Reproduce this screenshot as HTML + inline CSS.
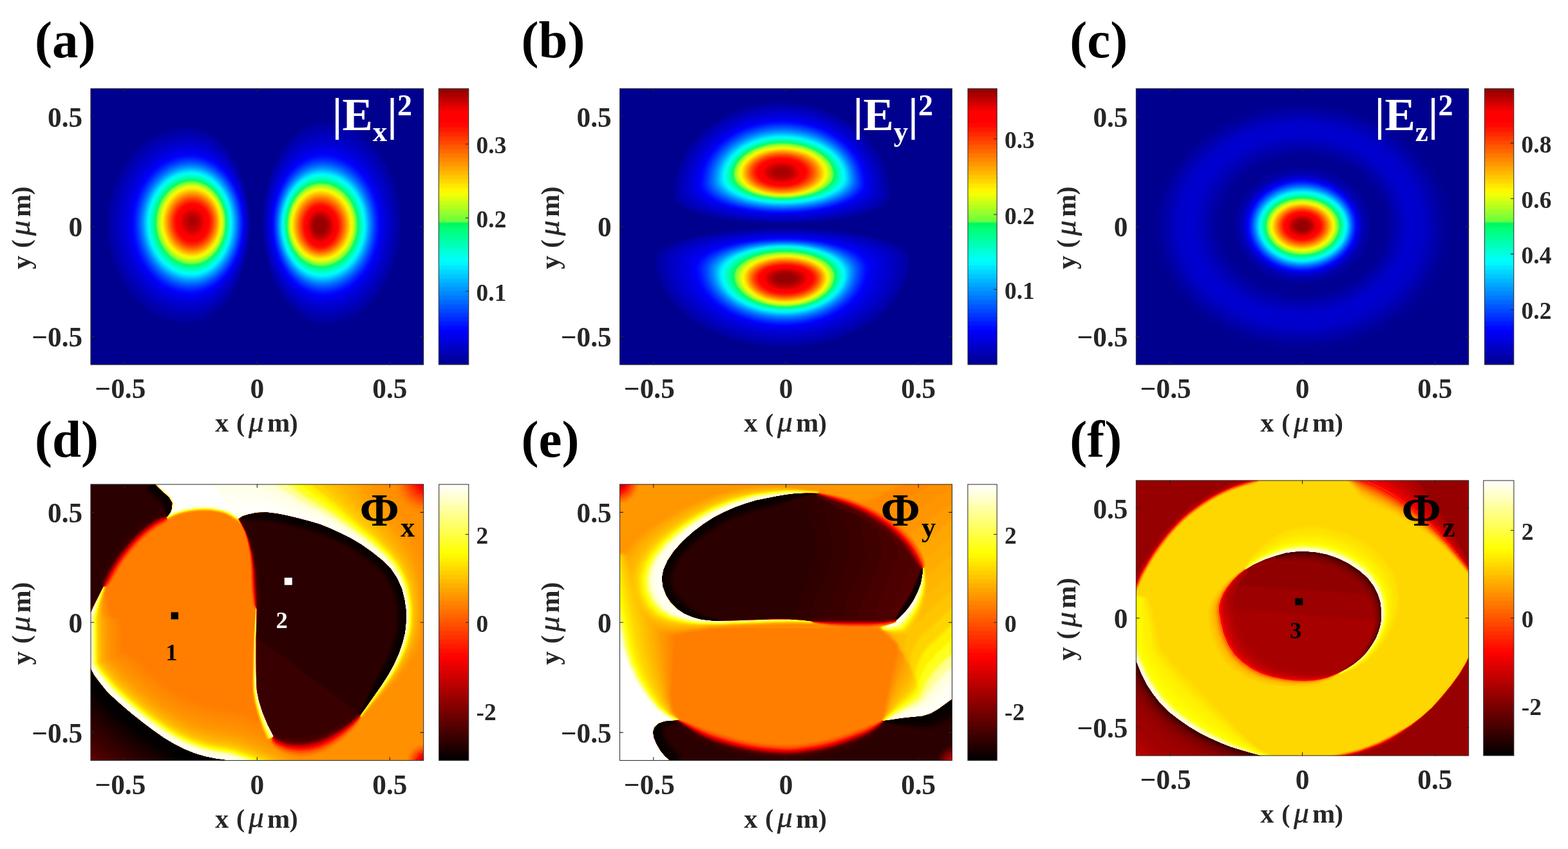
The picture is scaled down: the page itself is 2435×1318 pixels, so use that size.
<!DOCTYPE html>
<html lang="en">
<head>
<meta charset="utf-8">
<title>Focal field intensity and phase distributions</title>
<style>
html,body{margin:0;padding:0;background:#fff;}
body{width:2435px;height:1318px;overflow:hidden;}
svg{display:block;}
svg text{font-family:"Liberation Serif", "DejaVu Serif", serif;font-weight:bold;}
</style>
</head>
<body>
<svg xmlns="http://www.w3.org/2000/svg" width="2435" height="1318" viewBox="0 0 2435 1318">
<defs>
<linearGradient id="cbjet" x1="0" y1="1" x2="0" y2="0"><stop offset="0" stop-color="#000096"/><stop offset="0.0117" stop-color="#000096"/><stop offset="0.0195" stop-color="#0000a4"/><stop offset="0.0273" stop-color="#0000a4"/><stop offset="0.0352" stop-color="#0000b2"/><stop offset="0.043" stop-color="#0000b2"/><stop offset="0.0508" stop-color="#0000c0"/><stop offset="0.0586" stop-color="#0000c0"/><stop offset="0.0664" stop-color="#0000ce"/><stop offset="0.0742" stop-color="#0000ce"/><stop offset="0.082" stop-color="#0000dc"/><stop offset="0.0898" stop-color="#0000dc"/><stop offset="0.0977" stop-color="#0000ea"/><stop offset="0.1055" stop-color="#0000ea"/><stop offset="0.1133" stop-color="#0000f8"/><stop offset="0.1211" stop-color="#0000f8"/><stop offset="0.1289" stop-color="#0008ff"/><stop offset="0.1367" stop-color="#0008ff"/><stop offset="0.1445" stop-color="#0018ff"/><stop offset="0.1523" stop-color="#0018ff"/><stop offset="0.1602" stop-color="#0028ff"/><stop offset="0.168" stop-color="#0028ff"/><stop offset="0.1758" stop-color="#0038ff"/><stop offset="0.1836" stop-color="#0038ff"/><stop offset="0.1914" stop-color="#0048ff"/><stop offset="0.1992" stop-color="#0048ff"/><stop offset="0.207" stop-color="#0058ff"/><stop offset="0.2148" stop-color="#0058ff"/><stop offset="0.2227" stop-color="#0068ff"/><stop offset="0.2305" stop-color="#0068ff"/><stop offset="0.2383" stop-color="#0078ff"/><stop offset="0.2461" stop-color="#0078ff"/><stop offset="0.2539" stop-color="#0087ff"/><stop offset="0.2617" stop-color="#0087ff"/><stop offset="0.2695" stop-color="#0097ff"/><stop offset="0.2773" stop-color="#0097ff"/><stop offset="0.2852" stop-color="#00a7ff"/><stop offset="0.293" stop-color="#00a7ff"/><stop offset="0.3008" stop-color="#00b7ff"/><stop offset="0.3086" stop-color="#00b7ff"/><stop offset="0.3164" stop-color="#00c7ff"/><stop offset="0.3242" stop-color="#00c7ff"/><stop offset="0.332" stop-color="#00d7ff"/><stop offset="0.3398" stop-color="#00d7ff"/><stop offset="0.3477" stop-color="#00e7ff"/><stop offset="0.3555" stop-color="#00e7ff"/><stop offset="0.3633" stop-color="#00f7ff"/><stop offset="0.3711" stop-color="#00f7ff"/><stop offset="0.3789" stop-color="#00fff6"/><stop offset="0.3867" stop-color="#00fff6"/><stop offset="0.3945" stop-color="#00ffe3"/><stop offset="0.4023" stop-color="#00ffe3"/><stop offset="0.4102" stop-color="#00ffd1"/><stop offset="0.418" stop-color="#00ffd1"/><stop offset="0.4258" stop-color="#00ffbe"/><stop offset="0.4336" stop-color="#00ffbe"/><stop offset="0.4414" stop-color="#00ffac"/><stop offset="0.4492" stop-color="#00ffac"/><stop offset="0.457" stop-color="#00ff99"/><stop offset="0.4648" stop-color="#00ff99"/><stop offset="0.4727" stop-color="#00ff87"/><stop offset="0.4805" stop-color="#00ff87"/><stop offset="0.4883" stop-color="#00ff74"/><stop offset="0.4961" stop-color="#00ff74"/><stop offset="0.5039" stop-color="#00f863"/><stop offset="0.5117" stop-color="#00f863"/><stop offset="0.5195" stop-color="#6fff3c"/><stop offset="0.5273" stop-color="#6fff3c"/><stop offset="0.5352" stop-color="#85ff33"/><stop offset="0.543" stop-color="#85ff33"/><stop offset="0.5508" stop-color="#9bff2a"/><stop offset="0.5586" stop-color="#9bff2a"/><stop offset="0.5664" stop-color="#b2ff20"/><stop offset="0.5742" stop-color="#b2ff20"/><stop offset="0.582" stop-color="#c8ff17"/><stop offset="0.5898" stop-color="#c8ff17"/><stop offset="0.5977" stop-color="#deff0e"/><stop offset="0.6055" stop-color="#deff0e"/><stop offset="0.6133" stop-color="#f4ff05"/><stop offset="0.6211" stop-color="#f4ff05"/><stop offset="0.6289" stop-color="#fff700"/><stop offset="0.6367" stop-color="#fff700"/><stop offset="0.6445" stop-color="#ffe700"/><stop offset="0.6523" stop-color="#ffe700"/><stop offset="0.6602" stop-color="#ffd700"/><stop offset="0.668" stop-color="#ffd700"/><stop offset="0.6758" stop-color="#ffc700"/><stop offset="0.6836" stop-color="#ffc700"/><stop offset="0.6914" stop-color="#ffb700"/><stop offset="0.6992" stop-color="#ffb700"/><stop offset="0.707" stop-color="#ffa700"/><stop offset="0.7148" stop-color="#ffa700"/><stop offset="0.7227" stop-color="#ff9700"/><stop offset="0.7305" stop-color="#ff9700"/><stop offset="0.7383" stop-color="#ff8700"/><stop offset="0.7461" stop-color="#ff8700"/><stop offset="0.7539" stop-color="#ff7800"/><stop offset="0.7617" stop-color="#ff7800"/><stop offset="0.7695" stop-color="#ff6800"/><stop offset="0.7773" stop-color="#ff6800"/><stop offset="0.7852" stop-color="#ff5800"/><stop offset="0.793" stop-color="#ff5800"/><stop offset="0.8008" stop-color="#ff4800"/><stop offset="0.8086" stop-color="#ff4800"/><stop offset="0.8164" stop-color="#ff3800"/><stop offset="0.8242" stop-color="#ff3800"/><stop offset="0.832" stop-color="#ff2800"/><stop offset="0.8398" stop-color="#ff2800"/><stop offset="0.8477" stop-color="#ff1800"/><stop offset="0.8555" stop-color="#ff1800"/><stop offset="0.8633" stop-color="#ff0800"/><stop offset="0.8711" stop-color="#ff0800"/><stop offset="0.8789" stop-color="#ff0000"/><stop offset="0.8867" stop-color="#ff0000"/><stop offset="0.8945" stop-color="#ff0000"/><stop offset="0.9023" stop-color="#ff0000"/><stop offset="0.9102" stop-color="#ff0000"/><stop offset="0.918" stop-color="#ff0000"/><stop offset="0.9258" stop-color="#eb0000"/><stop offset="0.9336" stop-color="#eb0000"/><stop offset="0.9414" stop-color="#d60000"/><stop offset="0.9492" stop-color="#d60000"/><stop offset="0.957" stop-color="#c10000"/><stop offset="0.9648" stop-color="#c10000"/><stop offset="0.9727" stop-color="#ac0000"/><stop offset="0.9805" stop-color="#ac0000"/><stop offset="0.9883" stop-color="#970000"/><stop offset="1" stop-color="#970000"/></linearGradient>
<linearGradient id="cbhot" x1="0" y1="1" x2="0" y2="0"><stop offset="0" stop-color="#050000"/><stop offset="0.0117" stop-color="#050000"/><stop offset="0.0195" stop-color="#100000"/><stop offset="0.0273" stop-color="#100000"/><stop offset="0.0352" stop-color="#1b0000"/><stop offset="0.043" stop-color="#1b0000"/><stop offset="0.0508" stop-color="#250000"/><stop offset="0.0586" stop-color="#250000"/><stop offset="0.0664" stop-color="#300000"/><stop offset="0.0742" stop-color="#300000"/><stop offset="0.082" stop-color="#3a0000"/><stop offset="0.0898" stop-color="#3a0000"/><stop offset="0.0977" stop-color="#450000"/><stop offset="0.1055" stop-color="#450000"/><stop offset="0.1133" stop-color="#500000"/><stop offset="0.1211" stop-color="#500000"/><stop offset="0.1289" stop-color="#5a0000"/><stop offset="0.1367" stop-color="#5a0000"/><stop offset="0.1445" stop-color="#650000"/><stop offset="0.1523" stop-color="#650000"/><stop offset="0.1602" stop-color="#700000"/><stop offset="0.168" stop-color="#700000"/><stop offset="0.1758" stop-color="#7a0000"/><stop offset="0.1836" stop-color="#7a0000"/><stop offset="0.1914" stop-color="#850000"/><stop offset="0.1992" stop-color="#850000"/><stop offset="0.207" stop-color="#8f0000"/><stop offset="0.2148" stop-color="#8f0000"/><stop offset="0.2227" stop-color="#9a0000"/><stop offset="0.2305" stop-color="#9a0000"/><stop offset="0.2383" stop-color="#a50000"/><stop offset="0.2461" stop-color="#a50000"/><stop offset="0.2539" stop-color="#af0000"/><stop offset="0.2617" stop-color="#af0000"/><stop offset="0.2695" stop-color="#ba0000"/><stop offset="0.2773" stop-color="#ba0000"/><stop offset="0.2852" stop-color="#c50000"/><stop offset="0.293" stop-color="#c50000"/><stop offset="0.3008" stop-color="#cf0000"/><stop offset="0.3086" stop-color="#cf0000"/><stop offset="0.3164" stop-color="#da0000"/><stop offset="0.3242" stop-color="#da0000"/><stop offset="0.332" stop-color="#e40000"/><stop offset="0.3398" stop-color="#e40000"/><stop offset="0.3477" stop-color="#ef0000"/><stop offset="0.3555" stop-color="#ef0000"/><stop offset="0.3633" stop-color="#fa0000"/><stop offset="0.3711" stop-color="#fa0000"/><stop offset="0.3789" stop-color="#ff0500"/><stop offset="0.3867" stop-color="#ff0500"/><stop offset="0.3945" stop-color="#ff1000"/><stop offset="0.4023" stop-color="#ff1000"/><stop offset="0.4102" stop-color="#ff1b00"/><stop offset="0.418" stop-color="#ff1b00"/><stop offset="0.4258" stop-color="#ff2500"/><stop offset="0.4336" stop-color="#ff2500"/><stop offset="0.4414" stop-color="#ff3000"/><stop offset="0.4492" stop-color="#ff3000"/><stop offset="0.457" stop-color="#ff3a00"/><stop offset="0.4648" stop-color="#ff3a00"/><stop offset="0.4727" stop-color="#ff4500"/><stop offset="0.4805" stop-color="#ff4500"/><stop offset="0.4883" stop-color="#ff5000"/><stop offset="0.4961" stop-color="#ff5000"/><stop offset="0.5039" stop-color="#ff5a00"/><stop offset="0.5117" stop-color="#ff5a00"/><stop offset="0.5195" stop-color="#ff6500"/><stop offset="0.5273" stop-color="#ff6500"/><stop offset="0.5352" stop-color="#ff7000"/><stop offset="0.543" stop-color="#ff7000"/><stop offset="0.5508" stop-color="#ff7a00"/><stop offset="0.5586" stop-color="#ff7a00"/><stop offset="0.5664" stop-color="#ff8500"/><stop offset="0.5742" stop-color="#ff8500"/><stop offset="0.582" stop-color="#ff8f00"/><stop offset="0.5898" stop-color="#ff8f00"/><stop offset="0.5977" stop-color="#ff9a00"/><stop offset="0.6055" stop-color="#ff9a00"/><stop offset="0.6133" stop-color="#ffa500"/><stop offset="0.6211" stop-color="#ffa500"/><stop offset="0.6289" stop-color="#ffaf00"/><stop offset="0.6367" stop-color="#ffaf00"/><stop offset="0.6445" stop-color="#ffba00"/><stop offset="0.6523" stop-color="#ffba00"/><stop offset="0.6602" stop-color="#ffc500"/><stop offset="0.668" stop-color="#ffc500"/><stop offset="0.6758" stop-color="#ffcf00"/><stop offset="0.6836" stop-color="#ffcf00"/><stop offset="0.6914" stop-color="#ffda00"/><stop offset="0.6992" stop-color="#ffda00"/><stop offset="0.707" stop-color="#ffe400"/><stop offset="0.7148" stop-color="#ffe400"/><stop offset="0.7227" stop-color="#ffef00"/><stop offset="0.7305" stop-color="#ffef00"/><stop offset="0.7383" stop-color="#fffa00"/><stop offset="0.7461" stop-color="#fffa00"/><stop offset="0.7539" stop-color="#ffff08"/><stop offset="0.7617" stop-color="#ffff08"/><stop offset="0.7695" stop-color="#ffff18"/><stop offset="0.7773" stop-color="#ffff18"/><stop offset="0.7852" stop-color="#ffff28"/><stop offset="0.793" stop-color="#ffff28"/><stop offset="0.8008" stop-color="#ffff38"/><stop offset="0.8086" stop-color="#ffff38"/><stop offset="0.8164" stop-color="#ffff48"/><stop offset="0.8242" stop-color="#ffff48"/><stop offset="0.832" stop-color="#ffff58"/><stop offset="0.8398" stop-color="#ffff58"/><stop offset="0.8477" stop-color="#ffff68"/><stop offset="0.8555" stop-color="#ffff68"/><stop offset="0.8633" stop-color="#ffff78"/><stop offset="0.8711" stop-color="#ffff78"/><stop offset="0.8789" stop-color="#ffff87"/><stop offset="0.8867" stop-color="#ffff87"/><stop offset="0.8945" stop-color="#ffff97"/><stop offset="0.9023" stop-color="#ffff97"/><stop offset="0.9102" stop-color="#ffffa7"/><stop offset="0.918" stop-color="#ffffa7"/><stop offset="0.9258" stop-color="#ffffb7"/><stop offset="0.9336" stop-color="#ffffb7"/><stop offset="0.9414" stop-color="#ffffc7"/><stop offset="0.9492" stop-color="#ffffc7"/><stop offset="0.957" stop-color="#ffffd7"/><stop offset="0.9648" stop-color="#ffffd7"/><stop offset="0.9727" stop-color="#ffffe7"/><stop offset="0.9805" stop-color="#ffffe7"/><stop offset="0.9883" stop-color="#fffff7"/><stop offset="1" stop-color="#fffff7"/></linearGradient>
<filter id="jet_a" filterUnits="userSpaceOnUse" x="140.5" y="137.2" width="517.7" height="429.3" color-interpolation-filters="sRGB"><feComponentTransfer><feFuncR type="table" tableValues="0 0 0 0 0 0 0 0 0 0 0 0 0 0 0 0 0 0 0 0 0 0 0 0 0 0 0 0 0 0 0 0 0 0 0 0 0 0 0 0 0 0 0 0 0 0 0 0 0 0 0 0 0 0 0 0 0 0 0 0 0 0 0 0 0 0 0.12 0.44 0.48 0.52 0.57 0.61 0.65 0.7 0.74 0.78 0.83 0.87 0.91 0.96 1 1 1 1 1 1 1 1 1 1 1 1 1 1 1 1 1 1 1 1 1 1 1 1 1 1 1 1 1 1 1 1 1 1 1 1 1 1 0.96 0.92 0.88 0.84 0.8 0.76 0.71 0.67 0.63 0.59 0.55"/><feFuncG type="table" tableValues="0 0 0 0 0 0 0 0 0 0 0 0 0 0 0 0 0 0.03 0.06 0.09 0.12 0.16 0.19 0.22 0.25 0.28 0.31 0.34 0.38 0.41 0.44 0.47 0.5 0.53 0.56 0.59 0.62 0.66 0.69 0.72 0.75 0.78 0.81 0.84 0.88 0.91 0.94 0.97 1 1 1 1 1 1 1 1 1 1 1 1 1 1 1 1 1 0.97 0.97 1 1 1 1 1 1 1 1 1 1 1 1 1 1 0.97 0.94 0.91 0.88 0.84 0.81 0.78 0.75 0.72 0.69 0.66 0.62 0.59 0.56 0.53 0.5 0.47 0.44 0.41 0.38 0.34 0.31 0.28 0.25 0.22 0.19 0.16 0.12 0.09 0.06 0.03 0 0 0 0 0 0 0 0 0 0 0 0 0 0 0 0 0"/><feFuncB type="table" tableValues="0.56 0.59 0.61 0.64 0.67 0.7 0.72 0.75 0.78 0.81 0.83 0.86 0.89 0.92 0.94 0.97 1 1 1 1 1 1 1 1 1 1 1 1 1 1 1 1 1 1 1 1 1 1 1 1 1 1 1 1 1 1 1 1 1 0.96 0.93 0.89 0.85 0.82 0.78 0.75 0.71 0.67 0.64 0.6 0.56 0.53 0.49 0.46 0.42 0.39 0.33 0.23 0.22 0.2 0.18 0.16 0.14 0.13 0.11 0.09 0.07 0.05 0.04 0.02 0 0 0 0 0 0 0 0 0 0 0 0 0 0 0 0 0 0 0 0 0 0 0 0 0 0 0 0 0 0 0 0 0 0 0 0 0 0 0 0 0 0 0 0 0 0 0 0 0"/></feComponentTransfer></filter>
<filter id="jet_b" filterUnits="userSpaceOnUse" x="962" y="137.2" width="517" height="429.3" color-interpolation-filters="sRGB"><feComponentTransfer><feFuncR type="table" tableValues="0 0 0 0 0 0 0 0 0 0 0 0 0 0 0 0 0 0 0 0 0 0 0 0 0 0 0 0 0 0 0 0 0 0 0 0 0 0 0 0 0 0 0 0 0 0 0 0 0 0 0 0 0 0 0 0 0 0 0 0 0 0 0 0 0 0 0.12 0.44 0.48 0.52 0.57 0.61 0.65 0.7 0.74 0.78 0.83 0.87 0.91 0.96 1 1 1 1 1 1 1 1 1 1 1 1 1 1 1 1 1 1 1 1 1 1 1 1 1 1 1 1 1 1 1 1 1 1 1 1 1 1 0.96 0.92 0.88 0.84 0.8 0.76 0.71 0.67 0.63 0.59 0.55"/><feFuncG type="table" tableValues="0 0 0 0 0 0 0 0 0 0 0 0 0 0 0 0 0 0.03 0.06 0.09 0.12 0.16 0.19 0.22 0.25 0.28 0.31 0.34 0.38 0.41 0.44 0.47 0.5 0.53 0.56 0.59 0.62 0.66 0.69 0.72 0.75 0.78 0.81 0.84 0.88 0.91 0.94 0.97 1 1 1 1 1 1 1 1 1 1 1 1 1 1 1 1 1 0.97 0.97 1 1 1 1 1 1 1 1 1 1 1 1 1 1 0.97 0.94 0.91 0.88 0.84 0.81 0.78 0.75 0.72 0.69 0.66 0.62 0.59 0.56 0.53 0.5 0.47 0.44 0.41 0.38 0.34 0.31 0.28 0.25 0.22 0.19 0.16 0.12 0.09 0.06 0.03 0 0 0 0 0 0 0 0 0 0 0 0 0 0 0 0 0"/><feFuncB type="table" tableValues="0.56 0.59 0.61 0.64 0.67 0.7 0.72 0.75 0.78 0.81 0.83 0.86 0.89 0.92 0.94 0.97 1 1 1 1 1 1 1 1 1 1 1 1 1 1 1 1 1 1 1 1 1 1 1 1 1 1 1 1 1 1 1 1 1 0.96 0.93 0.89 0.85 0.82 0.78 0.75 0.71 0.67 0.64 0.6 0.56 0.53 0.49 0.46 0.42 0.39 0.33 0.23 0.22 0.2 0.18 0.16 0.14 0.13 0.11 0.09 0.07 0.05 0.04 0.02 0 0 0 0 0 0 0 0 0 0 0 0 0 0 0 0 0 0 0 0 0 0 0 0 0 0 0 0 0 0 0 0 0 0 0 0 0 0 0 0 0 0 0 0 0 0 0 0 0"/></feComponentTransfer></filter>
<filter id="jet_c" filterUnits="userSpaceOnUse" x="1763.8" y="137.2" width="517.4" height="429.3" color-interpolation-filters="sRGB"><feComponentTransfer><feFuncR type="table" tableValues="0 0 0 0 0 0 0 0 0 0 0 0 0 0 0 0 0 0 0 0 0 0 0 0 0 0 0 0 0 0 0 0 0 0 0 0 0 0 0 0 0 0 0 0 0 0 0 0 0 0 0 0 0 0 0 0 0 0 0 0 0 0 0 0 0 0 0.12 0.44 0.48 0.52 0.57 0.61 0.65 0.7 0.74 0.78 0.83 0.87 0.91 0.96 1 1 1 1 1 1 1 1 1 1 1 1 1 1 1 1 1 1 1 1 1 1 1 1 1 1 1 1 1 1 1 1 1 1 1 1 1 1 0.96 0.92 0.88 0.84 0.8 0.76 0.71 0.67 0.63 0.59 0.55"/><feFuncG type="table" tableValues="0 0 0 0 0 0 0 0 0 0 0 0 0 0 0 0 0 0.03 0.06 0.09 0.12 0.16 0.19 0.22 0.25 0.28 0.31 0.34 0.38 0.41 0.44 0.47 0.5 0.53 0.56 0.59 0.62 0.66 0.69 0.72 0.75 0.78 0.81 0.84 0.88 0.91 0.94 0.97 1 1 1 1 1 1 1 1 1 1 1 1 1 1 1 1 1 0.97 0.97 1 1 1 1 1 1 1 1 1 1 1 1 1 1 0.97 0.94 0.91 0.88 0.84 0.81 0.78 0.75 0.72 0.69 0.66 0.62 0.59 0.56 0.53 0.5 0.47 0.44 0.41 0.38 0.34 0.31 0.28 0.25 0.22 0.19 0.16 0.12 0.09 0.06 0.03 0 0 0 0 0 0 0 0 0 0 0 0 0 0 0 0 0"/><feFuncB type="table" tableValues="0.56 0.59 0.61 0.64 0.67 0.7 0.72 0.75 0.78 0.81 0.83 0.86 0.89 0.92 0.94 0.97 1 1 1 1 1 1 1 1 1 1 1 1 1 1 1 1 1 1 1 1 1 1 1 1 1 1 1 1 1 1 1 1 1 0.96 0.93 0.89 0.85 0.82 0.78 0.75 0.71 0.67 0.64 0.6 0.56 0.53 0.49 0.46 0.42 0.39 0.33 0.23 0.22 0.2 0.18 0.16 0.14 0.13 0.11 0.09 0.07 0.05 0.04 0.02 0 0 0 0 0 0 0 0 0 0 0 0 0 0 0 0 0 0 0 0 0 0 0 0 0 0 0 0 0 0 0 0 0 0 0 0 0 0 0 0 0 0 0 0 0 0 0 0 0"/></feComponentTransfer></filter>
<filter id="hot_d" filterUnits="userSpaceOnUse" x="140.5" y="751.5" width="517.7" height="429.5" color-interpolation-filters="sRGB"><feComponentTransfer><feFuncR type="table" tableValues="0 0.02 0.04 0.06 0.08 0.1 0.12 0.15 0.17 0.19 0.21 0.23 0.25 0.27 0.29 0.31 0.33 0.35 0.38 0.4 0.42 0.44 0.46 0.48 0.5 0.52 0.54 0.56 0.58 0.6 0.62 0.65 0.67 0.69 0.71 0.73 0.75 0.77 0.79 0.81 0.83 0.85 0.88 0.9 0.92 0.94 0.96 0.98 1 1 1 1 1 1 1 1 1 1 1 1 1 1 1 1 1 1 1 1 1 1 1 1 1 1 1 1 1 1 1 1 1 1 1 1 1 1 1 1 1 1 1 1 1 1 1 1 1 1 1 1 1 1 1 1 1 1 1 1 1 1 1 1 1 1 1 1 1 1 1 1 1 1 1 1 1 1 1 1 1"/><feFuncG type="table" tableValues="0 0 0 0 0 0 0 0 0 0 0 0 0 0 0 0 0 0 0 0 0 0 0 0 0 0 0 0 0 0 0 0 0 0 0 0 0 0 0 0 0 0 0 0 0 0 0 0 0 0.02 0.04 0.06 0.08 0.1 0.12 0.15 0.17 0.19 0.21 0.23 0.25 0.27 0.29 0.31 0.33 0.35 0.38 0.4 0.42 0.44 0.46 0.48 0.5 0.52 0.54 0.56 0.58 0.6 0.62 0.65 0.67 0.69 0.71 0.73 0.75 0.77 0.79 0.81 0.83 0.85 0.88 0.9 0.92 0.94 0.96 0.98 1 1 1 1 1 1 1 1 1 1 1 1 1 1 1 1 1 1 1 1 1 1 1 1 1 1 1 1 1 1 1 1 1"/><feFuncB type="table" tableValues="0 0 0 0 0 0 0 0 0 0 0 0 0 0 0 0 0 0 0 0 0 0 0 0 0 0 0 0 0 0 0 0 0 0 0 0 0 0 0 0 0 0 0 0 0 0 0 0 0 0 0 0 0 0 0 0 0 0 0 0 0 0 0 0 0 0 0 0 0 0 0 0 0 0 0 0 0 0 0 0 0 0 0 0 0 0 0 0 0 0 0 0 0 0 0 0 0 0.03 0.06 0.09 0.12 0.16 0.19 0.22 0.25 0.28 0.31 0.34 0.38 0.41 0.44 0.47 0.5 0.53 0.56 0.59 0.62 0.66 0.69 0.72 0.75 0.78 0.81 0.84 0.88 0.91 0.94 0.97 1"/></feComponentTransfer></filter>
<filter id="hot_e" filterUnits="userSpaceOnUse" x="962" y="751.5" width="517" height="429.5" color-interpolation-filters="sRGB"><feComponentTransfer><feFuncR type="table" tableValues="0 0.02 0.04 0.06 0.08 0.1 0.12 0.15 0.17 0.19 0.21 0.23 0.25 0.27 0.29 0.31 0.33 0.35 0.38 0.4 0.42 0.44 0.46 0.48 0.5 0.52 0.54 0.56 0.58 0.6 0.62 0.65 0.67 0.69 0.71 0.73 0.75 0.77 0.79 0.81 0.83 0.85 0.88 0.9 0.92 0.94 0.96 0.98 1 1 1 1 1 1 1 1 1 1 1 1 1 1 1 1 1 1 1 1 1 1 1 1 1 1 1 1 1 1 1 1 1 1 1 1 1 1 1 1 1 1 1 1 1 1 1 1 1 1 1 1 1 1 1 1 1 1 1 1 1 1 1 1 1 1 1 1 1 1 1 1 1 1 1 1 1 1 1 1 1"/><feFuncG type="table" tableValues="0 0 0 0 0 0 0 0 0 0 0 0 0 0 0 0 0 0 0 0 0 0 0 0 0 0 0 0 0 0 0 0 0 0 0 0 0 0 0 0 0 0 0 0 0 0 0 0 0 0.02 0.04 0.06 0.08 0.1 0.12 0.15 0.17 0.19 0.21 0.23 0.25 0.27 0.29 0.31 0.33 0.35 0.38 0.4 0.42 0.44 0.46 0.48 0.5 0.52 0.54 0.56 0.58 0.6 0.62 0.65 0.67 0.69 0.71 0.73 0.75 0.77 0.79 0.81 0.83 0.85 0.88 0.9 0.92 0.94 0.96 0.98 1 1 1 1 1 1 1 1 1 1 1 1 1 1 1 1 1 1 1 1 1 1 1 1 1 1 1 1 1 1 1 1 1"/><feFuncB type="table" tableValues="0 0 0 0 0 0 0 0 0 0 0 0 0 0 0 0 0 0 0 0 0 0 0 0 0 0 0 0 0 0 0 0 0 0 0 0 0 0 0 0 0 0 0 0 0 0 0 0 0 0 0 0 0 0 0 0 0 0 0 0 0 0 0 0 0 0 0 0 0 0 0 0 0 0 0 0 0 0 0 0 0 0 0 0 0 0 0 0 0 0 0 0 0 0 0 0 0 0.03 0.06 0.09 0.12 0.16 0.19 0.22 0.25 0.28 0.31 0.34 0.38 0.41 0.44 0.47 0.5 0.53 0.56 0.59 0.62 0.66 0.69 0.72 0.75 0.78 0.81 0.84 0.88 0.91 0.94 0.97 1"/></feComponentTransfer></filter>
<filter id="hot_f" filterUnits="userSpaceOnUse" x="1763.8" y="745.5" width="517.4" height="428" color-interpolation-filters="sRGB"><feComponentTransfer><feFuncR type="table" tableValues="0 0.02 0.04 0.06 0.08 0.1 0.12 0.15 0.17 0.19 0.21 0.23 0.25 0.27 0.29 0.31 0.33 0.35 0.38 0.4 0.42 0.44 0.46 0.48 0.5 0.52 0.54 0.56 0.58 0.6 0.62 0.65 0.67 0.69 0.71 0.73 0.75 0.77 0.79 0.81 0.83 0.85 0.88 0.9 0.92 0.94 0.96 0.98 1 1 1 1 1 1 1 1 1 1 1 1 1 1 1 1 1 1 1 1 1 1 1 1 1 1 1 1 1 1 1 1 1 1 1 1 1 1 1 1 1 1 1 1 1 1 1 1 1 1 1 1 1 1 1 1 1 1 1 1 1 1 1 1 1 1 1 1 1 1 1 1 1 1 1 1 1 1 1 1 1"/><feFuncG type="table" tableValues="0 0 0 0 0 0 0 0 0 0 0 0 0 0 0 0 0 0 0 0 0 0 0 0 0 0 0 0 0 0 0 0 0 0 0 0 0 0 0 0 0 0 0 0 0 0 0 0 0 0.02 0.04 0.06 0.08 0.1 0.12 0.15 0.17 0.19 0.21 0.23 0.25 0.27 0.29 0.31 0.33 0.35 0.38 0.4 0.42 0.44 0.46 0.48 0.5 0.52 0.54 0.56 0.58 0.6 0.62 0.65 0.67 0.69 0.71 0.73 0.75 0.77 0.79 0.81 0.83 0.85 0.88 0.9 0.92 0.94 0.96 0.98 1 1 1 1 1 1 1 1 1 1 1 1 1 1 1 1 1 1 1 1 1 1 1 1 1 1 1 1 1 1 1 1 1"/><feFuncB type="table" tableValues="0 0 0 0 0 0 0 0 0 0 0 0 0 0 0 0 0 0 0 0 0 0 0 0 0 0 0 0 0 0 0 0 0 0 0 0 0 0 0 0 0 0 0 0 0 0 0 0 0 0 0 0 0 0 0 0 0 0 0 0 0 0 0 0 0 0 0 0 0 0 0 0 0 0 0 0 0 0 0 0 0 0 0 0 0 0 0 0 0 0 0 0 0 0 0 0 0 0.03 0.06 0.09 0.12 0.16 0.19 0.22 0.25 0.28 0.31 0.34 0.38 0.41 0.44 0.47 0.5 0.53 0.56 0.59 0.62 0.66 0.69 0.72 0.75 0.78 0.81 0.84 0.88 0.91 0.94 0.97 1"/></feComponentTransfer></filter>
<clipPath id="clip_a"><rect x="140.8" y="137.5" width="517.1" height="428.7"/></clipPath>
<filter id="soft_a" filterUnits="userSpaceOnUse" x="128.5" y="125.2" width="541.7" height="453.3" color-interpolation-filters="sRGB"><feGaussianBlur stdDeviation="1.1"/></filter>
<clipPath id="clip_b"><rect x="962.3" y="137.5" width="516.4" height="428.7"/></clipPath>
<filter id="soft_b" filterUnits="userSpaceOnUse" x="950" y="125.2" width="541" height="453.3" color-interpolation-filters="sRGB"><feGaussianBlur stdDeviation="1.1"/></filter>
<clipPath id="clip_c"><rect x="1764.1" y="137.5" width="516.8" height="428.7"/></clipPath>
<filter id="soft_c" filterUnits="userSpaceOnUse" x="1751.8" y="125.2" width="541.4" height="453.3" color-interpolation-filters="sRGB"><feGaussianBlur stdDeviation="1.1"/></filter>
<clipPath id="clip_dLL"><path d="M138 1033l3.1 5.4 4.8 9.6 8.6 11.5 10 12.5 8.1 8.2 16.3 14.7 16.3 13.8 16.4 13.1 16.3 12.2 16.3 11.4 16.3 9.8 16.3 8.2 16.3 6.5 16.3 4.9 16.3 3.2 13.1 1.7 13.2 3.3 0 17-242 0 0-167z"/></clipPath>
<filter id="hb2_d" filterUnits="userSpaceOnUse" x="115" y="726" width="570" height="480" color-interpolation-filters="sRGB"><feGaussianBlur stdDeviation="2"/></filter>
<clipPath id="clip_d"><rect x="140.8" y="751.8" width="517.1" height="428.9"/></clipPath>
<filter id="ph_d" filterUnits="userSpaceOnUse" x="128.5" y="739.5" width="541.7" height="453.5" color-interpolation-filters="sRGB"><feGaussianBlur stdDeviation="0.7"/><feComponentTransfer><feFuncR type="table" tableValues="0 0.02 0.04 0.06 0.08 0.1 0.12 0.15 0.17 0.19 0.21 0.23 0.25 0.27 0.29 0.31 0.33 0.35 0.38 0.4 0.42 0.44 0.46 0.48 0.5 0.52 0.54 0.56 0.58 0.6 0.62 0.65 0.67 0.69 0.71 0.73 0.75 0.77 0.79 0.81 0.83 0.85 0.88 0.9 0.92 0.94 0.96 0.98 1 1 1 1 1 1 1 1 1 1 1 1 1 1 1 1 1 1 1 1 1 1 1 1 1 1 1 1 1 1 1 1 1 1 1 1 1 1 1 1 1 1 1 1 1 1 1 1 1 1 1 1 1 1 1 1 1 1 1 1 1 1 1 1 1 1 1 1 1 1 1 1 1 1 1 1 1 1 1 1 1"/><feFuncG type="table" tableValues="0 0 0 0 0 0 0 0 0 0 0 0 0 0 0 0 0 0 0 0 0 0 0 0 0 0 0 0 0 0 0 0 0 0 0 0 0 0 0 0 0 0 0 0 0 0 0 0 0 0.02 0.04 0.06 0.08 0.1 0.12 0.15 0.17 0.19 0.21 0.23 0.25 0.27 0.29 0.31 0.33 0.35 0.38 0.4 0.42 0.44 0.46 0.48 0.5 0.52 0.54 0.56 0.58 0.6 0.62 0.65 0.67 0.69 0.71 0.73 0.75 0.77 0.79 0.81 0.83 0.85 0.88 0.9 0.92 0.94 0.96 0.98 1 1 1 1 1 1 1 1 1 1 1 1 1 1 1 1 1 1 1 1 1 1 1 1 1 1 1 1 1 1 1 1 1"/><feFuncB type="table" tableValues="0 0 0 0 0 0 0 0 0 0 0 0 0 0 0 0 0 0 0 0 0 0 0 0 0 0 0 0 0 0 0 0 0 0 0 0 0 0 0 0 0 0 0 0 0 0 0 0 0 0 0 0 0 0 0 0 0 0 0 0 0 0 0 0 0 0 0 0 0 0 0 0 0 0 0 0 0 0 0 0 0 0 0 0 0 0 0 0 0 0 0 0 0 0 0 0 0 0.03 0.06 0.09 0.12 0.16 0.19 0.22 0.25 0.28 0.31 0.34 0.38 0.41 0.44 0.47 0.5 0.53 0.56 0.59 0.62 0.66 0.69 0.72 0.75 0.78 0.81 0.84 0.88 0.91 0.94 0.97 1"/></feComponentTransfer></filter>
<clipPath id="clip_eB"><path d="M1270.6 766l-18.6-0.2-15.7 0.5-14.3 1.8-15.3 2.5-16.4 3.2-16.3 3.3-16.3 4.9-16.3 5.7-16.3 7.3-16.3 8.2-16.3 10.6-16.3 12.2-16.3 14.7-13.1 14.7-9.8 14.7-6.5 14.6-2.4 13.1 1.6 13 4.9 13.1 7.3 11.4 9.8 9.8 11.4 7.3 13.1 5.7 13 3.3 13.1 1.6 14.7 0.9 24-0.4 29-1 30-1 25 0 20 1 17 2 28 0.5 30 0 30 0 25-0.7 16.3-1.3 8.1-7.3 9.8-10.6 9-13.1 6.5-13 4.9-13 2.4-13.1 0.9-11.4-3.3-8.2-7.3-13-9.8-14.7-13.1-14.7-16.3-14.7-16.3-11.4-16.3-9.8-16.3-8.1-16.3-6.5-16.3-5.7-16.4-4.9-14.6-3.8z"/></clipPath>
<filter id="hb2_e" filterUnits="userSpaceOnUse" x="937" y="726" width="570" height="480" color-interpolation-filters="sRGB"><feGaussianBlur stdDeviation="2"/></filter>
<clipPath id="clip_e"><rect x="962.3" y="751.8" width="516.4" height="428.9"/></clipPath>
<filter id="ph_e" filterUnits="userSpaceOnUse" x="950" y="739.5" width="541" height="453.5" color-interpolation-filters="sRGB"><feGaussianBlur stdDeviation="0.7"/><feComponentTransfer><feFuncR type="table" tableValues="0 0.02 0.04 0.06 0.08 0.1 0.12 0.15 0.17 0.19 0.21 0.23 0.25 0.27 0.29 0.31 0.33 0.35 0.38 0.4 0.42 0.44 0.46 0.48 0.5 0.52 0.54 0.56 0.58 0.6 0.62 0.65 0.67 0.69 0.71 0.73 0.75 0.77 0.79 0.81 0.83 0.85 0.88 0.9 0.92 0.94 0.96 0.98 1 1 1 1 1 1 1 1 1 1 1 1 1 1 1 1 1 1 1 1 1 1 1 1 1 1 1 1 1 1 1 1 1 1 1 1 1 1 1 1 1 1 1 1 1 1 1 1 1 1 1 1 1 1 1 1 1 1 1 1 1 1 1 1 1 1 1 1 1 1 1 1 1 1 1 1 1 1 1 1 1"/><feFuncG type="table" tableValues="0 0 0 0 0 0 0 0 0 0 0 0 0 0 0 0 0 0 0 0 0 0 0 0 0 0 0 0 0 0 0 0 0 0 0 0 0 0 0 0 0 0 0 0 0 0 0 0 0 0.02 0.04 0.06 0.08 0.1 0.12 0.15 0.17 0.19 0.21 0.23 0.25 0.27 0.29 0.31 0.33 0.35 0.38 0.4 0.42 0.44 0.46 0.48 0.5 0.52 0.54 0.56 0.58 0.6 0.62 0.65 0.67 0.69 0.71 0.73 0.75 0.77 0.79 0.81 0.83 0.85 0.88 0.9 0.92 0.94 0.96 0.98 1 1 1 1 1 1 1 1 1 1 1 1 1 1 1 1 1 1 1 1 1 1 1 1 1 1 1 1 1 1 1 1 1"/><feFuncB type="table" tableValues="0 0 0 0 0 0 0 0 0 0 0 0 0 0 0 0 0 0 0 0 0 0 0 0 0 0 0 0 0 0 0 0 0 0 0 0 0 0 0 0 0 0 0 0 0 0 0 0 0 0 0 0 0 0 0 0 0 0 0 0 0 0 0 0 0 0 0 0 0 0 0 0 0 0 0 0 0 0 0 0 0 0 0 0 0 0 0 0 0 0 0 0 0 0 0 0 0 0.03 0.06 0.09 0.12 0.16 0.19 0.22 0.25 0.28 0.31 0.34 0.38 0.41 0.44 0.47 0.5 0.53 0.56 0.59 0.62 0.66 0.69 0.72 0.75 0.78 0.81 0.84 0.88 0.91 0.94 0.97 1"/></feComponentTransfer></filter>
<clipPath id="clip_fD"><path d="M1934.2 884.6l12.6-7.9 16.6-7.5 16.7-5.8 16.7-4.6 13.2-1.7 15.4-0.8 19.6 1.6 16.3 3.3 16.3 5.7 16.3 8.2 16.3 10.6 13 11.4 9.8 13 6.6 13.1 4 13 1.2 14.7 0.2 9.1-1.6 10.2-3 10.3-4.1 10.2-6.2 10.3-7.1 10.2-9.3 10.3-11.2 9.2-11.3 7.2-11.3 6.1-8.2 3.6-10.2 3.6-10.3 2.6-10.2 1.5-15.4 1-15.4-0.5-13.5-1.6-20.9-4.2-16.6-5.8-14.2-7.5-15-10-12.5-11.7-10-15-6.7-16.7-4.1-16.6-2.2-16.7 0.7-9 2.8-8.5 4-10 6-10 7.5-10 8.5-9 10.2-8.9z"/></clipPath>
<filter id="hb1.5_f" filterUnits="userSpaceOnUse" x="1739" y="720" width="570" height="480" color-interpolation-filters="sRGB"><feGaussianBlur stdDeviation="1.5"/></filter>
<clipPath id="clip_f"><rect x="1764.1" y="745.8" width="516.8" height="427.4"/></clipPath>
<filter id="ph_f" filterUnits="userSpaceOnUse" x="1751.8" y="733.5" width="541.4" height="452" color-interpolation-filters="sRGB"><feGaussianBlur stdDeviation="0.7"/><feComponentTransfer><feFuncR type="table" tableValues="0 0.02 0.04 0.06 0.08 0.1 0.12 0.15 0.17 0.19 0.21 0.23 0.25 0.27 0.29 0.31 0.33 0.35 0.38 0.4 0.42 0.44 0.46 0.48 0.5 0.52 0.54 0.56 0.58 0.6 0.62 0.65 0.67 0.69 0.71 0.73 0.75 0.77 0.79 0.81 0.83 0.85 0.88 0.9 0.92 0.94 0.96 0.98 1 1 1 1 1 1 1 1 1 1 1 1 1 1 1 1 1 1 1 1 1 1 1 1 1 1 1 1 1 1 1 1 1 1 1 1 1 1 1 1 1 1 1 1 1 1 1 1 1 1 1 1 1 1 1 1 1 1 1 1 1 1 1 1 1 1 1 1 1 1 1 1 1 1 1 1 1 1 1 1 1"/><feFuncG type="table" tableValues="0 0 0 0 0 0 0 0 0 0 0 0 0 0 0 0 0 0 0 0 0 0 0 0 0 0 0 0 0 0 0 0 0 0 0 0 0 0 0 0 0 0 0 0 0 0 0 0 0 0.02 0.04 0.06 0.08 0.1 0.12 0.15 0.17 0.19 0.21 0.23 0.25 0.27 0.29 0.31 0.33 0.35 0.38 0.4 0.42 0.44 0.46 0.48 0.5 0.52 0.54 0.56 0.58 0.6 0.62 0.65 0.67 0.69 0.71 0.73 0.75 0.77 0.79 0.81 0.83 0.85 0.88 0.9 0.92 0.94 0.96 0.98 1 1 1 1 1 1 1 1 1 1 1 1 1 1 1 1 1 1 1 1 1 1 1 1 1 1 1 1 1 1 1 1 1"/><feFuncB type="table" tableValues="0 0 0 0 0 0 0 0 0 0 0 0 0 0 0 0 0 0 0 0 0 0 0 0 0 0 0 0 0 0 0 0 0 0 0 0 0 0 0 0 0 0 0 0 0 0 0 0 0 0 0 0 0 0 0 0 0 0 0 0 0 0 0 0 0 0 0 0 0 0 0 0 0 0 0 0 0 0 0 0 0 0 0 0 0 0 0 0 0 0 0 0 0 0 0 0 0 0.03 0.06 0.09 0.12 0.16 0.19 0.22 0.25 0.28 0.31 0.34 0.38 0.41 0.44 0.47 0.5 0.53 0.56 0.59 0.62 0.66 0.69 0.72 0.75 0.78 0.81 0.84 0.88 0.91 0.94 0.97 1"/></feComponentTransfer></filter>
</defs>
<rect width="2435" height="1318" fill="#fff"/>
<!-- panel (a) -->
<g id="panel-a">
<g clip-path="url(#clip_a)"><g filter="url(#soft_a)">
<rect x="126.5" y="123.2" width="545.7" height="457.3" fill="#00008f"/>
<path d="M291.1 198.9A96.3 149.8 0 0 1 387.4 348.7A96.3 151.7 0 0 1 291.1 500.5A123.6 151.7 0 0 1 167.5 348.7A123.6 149.8 0 0 1 291.1 198.9Z" fill="#0000a4"/>
<path d="M292.1 207A93.8 141.4 0 0 1 385.9 348.5A93.8 141.9 0 0 1 292.1 490.4A117.6 141.9 0 0 1 174.5 348.5A117.6 141.4 0 0 1 292.1 207Z" fill="#0000b2"/>
<path d="M292.7 213.8A91.7 134.5 0 0 1 384.4 348.3A91.7 134.7 0 0 1 292.7 483A112.1 134.7 0 0 1 180.6 348.3A112.1 134.5 0 0 1 292.7 213.8Z" fill="#0000c0"/>
<path d="M293.4 220.4A89.6 127.7 0 0 1 383 348.1A89.6 128 0 0 1 293.4 476A106.6 128 0 0 1 186.8 348.1A106.6 127.7 0 0 1 293.4 220.4Z" fill="#0000ce"/>
<path d="M293.9 226.7A87.7 121.2 0 0 1 381.6 347.9A87.7 121.8 0 0 1 293.9 469.7A101.2 121.8 0 0 1 192.7 347.9A101.2 121.2 0 0 1 293.9 226.7Z" fill="#0000dc"/>
<path d="M294.4 232.4A85.9 115.4 0 0 1 380.2 347.7A85.9 116.3 0 0 1 294.4 464.1A96.2 116.3 0 0 1 198.1 347.7A96.2 115.4 0 0 1 294.4 232.4Z" fill="#0000ea"/>
<path d="M294.7 237.1A84.2 110.5 0 0 1 378.9 347.6A84.2 111.8 0 0 1 294.7 459.4A92.1 111.8 0 0 1 202.7 347.6A92.1 110.5 0 0 1 294.7 237.1Z" fill="#0000f8"/>
<path d="M295 240.6A82.6 106.9 0 0 1 377.6 347.5A82.6 108.4 0 0 1 295 455.9A89.1 108.4 0 0 1 205.9 347.5A89.1 106.9 0 0 1 295 240.6Z" fill="#0008ff"/>
<path d="M295.2 243.2A81.1 104.2 0 0 1 376.3 347.4A81.1 105.7 0 0 1 295.2 453.1A86.9 105.7 0 0 1 208.3 347.4A86.9 104.2 0 0 1 295.2 243.2Z" fill="#0018ff"/>
<path d="M295.4 245.7A79.6 101.6 0 0 1 375 347.3A79.6 103.1 0 0 1 295.4 450.4A84.9 103.1 0 0 1 210.5 347.3A84.9 101.6 0 0 1 295.4 245.7Z" fill="#0028ff"/>
<path d="M295.6 248A78.2 99.3 0 0 1 373.8 347.2A78.2 100.7 0 0 1 295.6 448A83.1 100.7 0 0 1 212.5 347.2A83.1 99.3 0 0 1 295.6 248Z" fill="#0038ff"/>
<path d="M295.7 250.1A76.8 97 0 0 1 372.5 347.2A76.8 98.5 0 0 1 295.7 445.7A81.4 98.5 0 0 1 214.4 347.2A81.4 97 0 0 1 295.7 250.1Z" fill="#0048ff"/>
<path d="M295.9 252.1A75.4 95 0 0 1 371.3 347.1A75.4 96.4 0 0 1 295.9 443.5A79.8 96.4 0 0 1 216.1 347.1A79.8 95 0 0 1 295.9 252.1Z" fill="#0058ff"/>
<path d="M296 254A74 93.1 0 0 1 370.1 347.1A74 94.5 0 0 1 296 441.5A78.3 94.5 0 0 1 217.7 347.1A78.3 93.1 0 0 1 296 254Z" fill="#0068ff"/>
<path d="M296.2 255.7A72.7 91.3 0 0 1 368.9 347A72.7 92.7 0 0 1 296.2 439.7A76.9 92.7 0 0 1 219.2 347A76.9 91.3 0 0 1 296.2 255.7Z" fill="#0078ff"/>
<path d="M296.3 257.4A71.4 89.6 0 0 1 367.7 346.9A71.4 91 0 0 1 296.3 437.9A75.7 91 0 0 1 220.6 346.9A75.7 89.6 0 0 1 296.3 257.4Z" fill="#0087ff"/>
<path d="M296.4 258.9A70.1 88 0 0 1 366.5 346.9A70.1 89.3 0 0 1 296.4 436.2A74.4 89.3 0 0 1 221.9 346.9A74.4 88 0 0 1 296.4 258.9Z" fill="#0097ff"/>
<path d="M296.5 260.4A68.9 86.5 0 0 1 365.3 346.8A68.9 87.8 0 0 1 296.5 434.6A73.3 87.8 0 0 1 223.2 346.8A73.3 86.5 0 0 1 296.5 260.4Z" fill="#00a7ff"/>
<path d="M296.6 261.8A67.6 85 0 0 1 364.2 346.8A67.6 86.3 0 0 1 296.6 433.1A72.2 86.3 0 0 1 224.4 346.8A72.2 85 0 0 1 296.6 261.8Z" fill="#00b7ff"/>
<path d="M296.7 263.2A66.4 83.6 0 0 1 363.1 346.7A66.4 84.8 0 0 1 296.7 431.6A71.1 84.8 0 0 1 225.6 346.7A71.1 83.6 0 0 1 296.7 263.2Z" fill="#00c7ff"/>
<path d="M296.8 264.5A65.2 82.1 0 0 1 362 346.7A65.2 83.4 0 0 1 296.8 430.1A70 83.4 0 0 1 226.8 346.7A70 82.1 0 0 1 296.8 264.5Z" fill="#00d7ff"/>
<path d="M296.8 265.9A64.1 80.7 0 0 1 360.9 346.6A64.1 81.9 0 0 1 296.8 428.5A68.8 81.9 0 0 1 228 346.6A68.8 80.7 0 0 1 296.8 265.9Z" fill="#00e7ff"/>
<path d="M296.9 267.3A62.9 79.2 0 0 1 359.8 346.6A62.9 80.4 0 0 1 296.9 427A67.7 80.4 0 0 1 229.3 346.6A67.7 79.2 0 0 1 296.9 267.3Z" fill="#00f7ff"/>
<path d="M297 268.8A61.8 77.7 0 0 1 358.8 346.5A61.8 78.8 0 0 1 297 425.3A66.4 78.8 0 0 1 230.6 346.5A66.4 77.7 0 0 1 297 268.8Z" fill="#00fff6"/>
<path d="M297.1 270.3A60.7 76.1 0 0 1 357.8 346.4A60.7 77.2 0 0 1 297.1 423.6A65.1 77.2 0 0 1 232 346.4A65.1 76.1 0 0 1 297.1 270.3Z" fill="#00ffe3"/>
<path d="M297.2 271.8A59.6 74.6 0 0 1 356.8 346.4A59.6 75.5 0 0 1 297.2 421.9A63.8 75.5 0 0 1 233.4 346.4A63.8 74.6 0 0 1 297.2 271.8Z" fill="#00ffd1"/>
<path d="M297.2 273.2A58.6 73 0 0 1 355.8 346.3A58.6 73.9 0 0 1 297.2 420.2A62.5 73.9 0 0 1 234.7 346.3A62.5 73 0 0 1 297.2 273.2Z" fill="#00ffbe"/>
<path d="M297.3 274.7A57.5 71.5 0 0 1 354.8 346.2A57.5 72.3 0 0 1 297.3 418.5A61.2 72.3 0 0 1 236.1 346.2A61.2 71.5 0 0 1 297.3 274.7Z" fill="#00ffac"/>
<path d="M297.4 276.1A56.5 70 0 0 1 353.9 346.1A56.5 70.7 0 0 1 297.4 416.9A59.9 70.7 0 0 1 237.4 346.1A59.9 70 0 0 1 297.4 276.1Z" fill="#00ff99"/>
<path d="M297.4 277.5A55.5 68.6 0 0 1 352.9 346.1A55.5 69.2 0 0 1 297.4 415.2A58.7 69.2 0 0 1 238.8 346.1A58.7 68.6 0 0 1 297.4 277.5Z" fill="#00ff87"/>
<path d="M297.5 278.9A54.5 67.1 0 0 1 352 346A54.5 67.6 0 0 1 297.5 413.6A57.4 67.6 0 0 1 240.1 346A57.4 67.1 0 0 1 297.5 278.9Z" fill="#00ff74"/>
<path d="M297.5 280.2A53.5 65.6 0 0 1 351.1 345.9A53.5 66 0 0 1 297.5 411.9A56.1 66 0 0 1 241.4 345.9A56.1 65.6 0 0 1 297.5 280.2Z" fill="#00f863"/>
<path d="M297.6 281.6A52.5 64.2 0 0 1 350.1 345.8A52.5 64.5 0 0 1 297.6 410.3A54.9 64.5 0 0 1 242.7 345.8A54.9 64.2 0 0 1 297.6 281.6Z" fill="#6fff3c"/>
<path d="M297.7 283A51.6 62.8 0 0 1 349.2 345.7A51.6 63 0 0 1 297.7 408.7A53.6 63 0 0 1 244.1 345.7A53.6 62.8 0 0 1 297.7 283Z" fill="#85ff33"/>
<path d="M297.7 284.3A50.6 61.3 0 0 1 348.3 345.7A50.6 61.4 0 0 1 297.7 407.1A52.4 61.4 0 0 1 245.4 345.7A52.4 61.3 0 0 1 297.7 284.3Z" fill="#9bff2a"/>
<path d="M297.8 285.7A49.6 59.9 0 0 1 347.4 345.6A49.6 59.9 0 0 1 297.8 405.5A51.1 59.9 0 0 1 246.7 345.6A51.1 59.9 0 0 1 297.8 285.7Z" fill="#b2ff20"/>
<path d="M297.8 287A48.6 58.5 0 0 1 346.4 345.5A48.6 58.5 0 0 1 297.8 404A49.9 58.5 0 0 1 248 345.5A49.9 58.5 0 0 1 297.8 287Z" fill="#c8ff17"/>
<path d="M297.9 288.4A47.6 57 0 0 1 345.5 345.4A47.6 57 0 0 1 297.9 402.4A48.6 57 0 0 1 249.2 345.4A48.6 57 0 0 1 297.9 288.4Z" fill="#deff0e"/>
<path d="M297.9 289.8A46.6 55.6 0 0 1 344.5 345.4A46.6 55.5 0 0 1 297.9 400.9A47.4 55.5 0 0 1 250.5 345.4A47.4 55.6 0 0 1 297.9 289.8Z" fill="#f4ff05"/>
<path d="M298 291.2A45.5 54.1 0 0 1 343.5 345.3A45.5 54.1 0 0 1 298 399.4A46.2 54.1 0 0 1 251.8 345.3A46.2 54.1 0 0 1 298 291.2Z" fill="#fff700"/>
<path d="M298.1 292.6A44.4 52.6 0 0 1 342.5 345.2A44.4 52.7 0 0 1 298.1 397.9A45 52.7 0 0 1 253.1 345.2A45 52.6 0 0 1 298.1 292.6Z" fill="#ffe700"/>
<path d="M298.1 294A43.4 51.2 0 0 1 341.5 345.2A43.4 51.3 0 0 1 298.1 396.5A43.8 51.3 0 0 1 254.3 345.2A43.8 51.2 0 0 1 298.1 294Z" fill="#ffd700"/>
<path d="M298.2 295.4A42.3 49.7 0 0 1 340.5 345.1A42.3 50 0 0 1 298.2 395.2A42.7 50 0 0 1 255.5 345.1A42.7 49.7 0 0 1 298.2 295.4Z" fill="#ffc700"/>
<path d="M298.3 296.9A41.3 48.2 0 0 1 339.5 345.1A41.3 48.7 0 0 1 298.3 393.8A41.5 48.7 0 0 1 256.7 345.1A41.5 48.2 0 0 1 298.3 296.9Z" fill="#ffb700"/>
<path d="M298.3 298.3A40.2 46.7 0 0 1 338.6 345A40.2 47.5 0 0 1 298.3 392.5A40.4 47.5 0 0 1 257.9 345A40.4 46.7 0 0 1 298.3 298.3Z" fill="#ffa700"/>
<path d="M298.4 299.8A39.1 45.2 0 0 1 337.6 345A39.1 46.2 0 0 1 298.4 391.2A39.3 46.2 0 0 1 259.1 345A39.3 45.2 0 0 1 298.4 299.8Z" fill="#ff9700"/>
<path d="M298.5 301.2A38 43.7 0 0 1 336.5 344.9A38 44.9 0 0 1 298.5 389.8A38.1 44.9 0 0 1 260.4 344.9A38.1 43.7 0 0 1 298.5 301.2Z" fill="#ff8700"/>
<path d="M298.6 302.7A36.9 42.2 0 0 1 335.5 344.9A36.9 43.6 0 0 1 298.6 388.5A37 43.6 0 0 1 261.6 344.9A37 42.2 0 0 1 298.6 302.7Z" fill="#ff7800"/>
<path d="M298.6 304.2A35.8 40.6 0 0 1 334.4 344.8A35.8 42.3 0 0 1 298.6 387.1A35.8 42.3 0 0 1 262.8 344.8A35.8 40.6 0 0 1 298.6 304.2Z" fill="#ff6800"/>
<path d="M298.7 305.8A34.5 39 0 0 1 333.2 344.8A34.5 40.9 0 0 1 298.7 385.7A34.6 40.9 0 0 1 264.1 344.8A34.6 39 0 0 1 298.7 305.8Z" fill="#ff5800"/>
<path d="M298.7 307.4A33.3 37.3 0 0 1 332 344.7A33.3 39.5 0 0 1 298.7 384.2A33.3 39.5 0 0 1 265.5 344.7A33.3 37.3 0 0 1 298.7 307.4Z" fill="#ff4800"/>
<path d="M298.8 309.1A31.9 35.6 0 0 1 330.7 344.7A31.9 37.9 0 0 1 298.8 382.6A31.9 37.9 0 0 1 266.9 344.7A31.9 35.6 0 0 1 298.8 309.1Z" fill="#ff3800"/>
<path d="M298.8 310.9A30.5 33.7 0 0 1 329.3 344.6A30.5 36.3 0 0 1 298.8 380.9A30.4 36.3 0 0 1 268.3 344.6A30.4 33.7 0 0 1 298.8 310.9Z" fill="#ff2800"/>
<path d="M298.8 312.7A29 31.8 0 0 1 327.8 344.5A29 34.5 0 0 1 298.8 379A28.9 34.5 0 0 1 269.9 344.5A28.9 31.8 0 0 1 298.8 312.7Z" fill="#ff1800"/>
<path d="M298.8 314.7A27.3 29.8 0 0 1 326.1 344.4A27.3 32.5 0 0 1 298.8 376.9A27.2 32.5 0 0 1 271.6 344.4A27.2 29.8 0 0 1 298.8 314.7Z" fill="#ff0800"/>
<path d="M298.8 316.7A25.4 27.6 0 0 1 324.2 344.3A25.4 30.3 0 0 1 298.8 374.6A25.3 30.3 0 0 1 273.5 344.3A25.3 27.6 0 0 1 298.8 316.7Z" fill="#ff0000"/>
<path d="M298.8 318.9A23.4 25.3 0 0 1 322.2 344.2A23.4 27.9 0 0 1 298.8 372.1A23.2 27.9 0 0 1 275.6 344.2A23.2 25.3 0 0 1 298.8 318.9Z" fill="#ff0000"/>
<path d="M298.8 321.3A21.1 22.8 0 0 1 319.9 344.1A21.1 25.2 0 0 1 298.8 369.3A21 25.2 0 0 1 277.8 344.1A21 22.8 0 0 1 298.8 321.3Z" fill="#ff0000"/>
<path d="M298.8 323.9A18.6 20.1 0 0 1 317.4 344A18.6 22.1 0 0 1 298.8 366.1A18.5 22.1 0 0 1 280.3 344A18.5 20.1 0 0 1 298.8 323.9Z" fill="#eb0000"/>
<path d="M298.8 326.9A15.6 16.9 0 0 1 314.4 343.8A15.6 18.6 0 0 1 298.8 362.4A15.5 18.6 0 0 1 283.3 343.8A15.5 16.9 0 0 1 298.8 326.9Z" fill="#d60000"/>
<path d="M298.8 330.8A11.9 12.9 0 0 1 310.7 343.7A11.9 14.2 0 0 1 298.8 357.8A11.8 14.2 0 0 1 287 343.7A11.8 12.9 0 0 1 298.8 330.8Z" fill="#c10000"/>
<path d="M298.8 336.6A6.3 6.9 0 0 1 305.1 343.6A6.3 7.5 0 0 1 298.8 351.1A6.3 7.5 0 0 1 292.5 343.6A6.3 6.9 0 0 1 298.8 336.6Z" fill="#ac0000"/>
<path d="M505.5 190.5A115.6 156.8 0 0 1 621.1 347.3A115.6 154.7 0 0 1 505.5 501.9A96.6 154.7 0 0 1 408.9 347.3A96.6 156.8 0 0 1 505.5 190.5Z" fill="#0000a4"/>
<path d="M505 200A109.9 147.5 0 0 1 614.9 347.5A109.9 145.4 0 0 1 505 492.9A94.2 145.4 0 0 1 410.8 347.5A94.2 147.5 0 0 1 505 200Z" fill="#0000b2"/>
<path d="M504.4 208.1A105.3 139.7 0 0 1 609.7 347.8A105.3 138 0 0 1 504.4 485.8A91.6 138 0 0 1 412.8 347.8A91.6 139.7 0 0 1 504.4 208.1Z" fill="#0000c0"/>
<path d="M503.8 216.2A100.9 131.9 0 0 1 604.7 348.1A100.9 130.8 0 0 1 503.8 478.9A88.7 130.8 0 0 1 415.1 348.1A88.7 131.9 0 0 1 503.8 216.2Z" fill="#0000ce"/>
<path d="M503.3 223.8A96.7 124.6 0 0 1 600 348.4A96.7 124.1 0 0 1 503.3 472.5A85.8 124.1 0 0 1 417.5 348.4A85.8 124.6 0 0 1 503.3 223.8Z" fill="#0000dc"/>
<path d="M502.8 230.8A93 117.9 0 0 1 595.7 348.7A93 118 0 0 1 502.8 466.7A82.9 118 0 0 1 419.8 348.7A82.9 117.9 0 0 1 502.8 230.8Z" fill="#0000ea"/>
<path d="M502.3 236.5A89.8 112.3 0 0 1 592.1 348.9A89.8 112.9 0 0 1 502.3 461.8A80.4 112.9 0 0 1 421.9 348.9A80.4 112.3 0 0 1 502.3 236.5Z" fill="#0000f8"/>
<path d="M502 240.6A87.4 108.4 0 0 1 589.4 349A87.4 109.2 0 0 1 502 458.2A78.5 109.2 0 0 1 423.5 349A78.5 108.4 0 0 1 502 240.6Z" fill="#0008ff"/>
<path d="M501.8 243.5A85.5 105.5 0 0 1 587.2 349A85.5 106.3 0 0 1 501.8 455.4A77 106.3 0 0 1 424.8 349A77 105.5 0 0 1 501.8 243.5Z" fill="#0018ff"/>
<path d="M501.5 246.3A83.7 102.8 0 0 1 585.2 349.1A83.7 103.6 0 0 1 501.5 452.7A75.5 103.6 0 0 1 426 349.1A75.5 102.8 0 0 1 501.5 246.3Z" fill="#0028ff"/>
<path d="M501.3 248.8A82 100.3 0 0 1 583.3 349.1A82 101.1 0 0 1 501.3 450.2A74.1 101.1 0 0 1 427.2 349.1A74.1 100.3 0 0 1 501.3 248.8Z" fill="#0038ff"/>
<path d="M501.1 251.2A80.4 98 0 0 1 581.6 349.2A80.4 98.8 0 0 1 501.1 447.9A72.9 98.8 0 0 1 428.3 349.2A72.9 98 0 0 1 501.1 251.2Z" fill="#0048ff"/>
<path d="M500.9 253.3A79 95.9 0 0 1 579.9 349.2A79 96.6 0 0 1 500.9 445.8A71.6 96.6 0 0 1 429.3 349.2A71.6 95.9 0 0 1 500.9 253.3Z" fill="#0058ff"/>
<path d="M500.8 255.4A77.6 93.8 0 0 1 578.4 349.2A77.6 94.5 0 0 1 500.8 443.8A70.5 94.5 0 0 1 430.3 349.2A70.5 93.8 0 0 1 500.8 255.4Z" fill="#0068ff"/>
<path d="M500.6 257.3A76.4 92 0 0 1 577 349.2A76.4 92.6 0 0 1 500.6 441.9A69.4 92.6 0 0 1 431.2 349.2A69.4 92 0 0 1 500.6 257.3Z" fill="#0078ff"/>
<path d="M500.5 259A75.2 90.2 0 0 1 575.6 349.3A75.2 90.8 0 0 1 500.5 440.1A68.4 90.8 0 0 1 432.1 349.3A68.4 90.2 0 0 1 500.5 259Z" fill="#0087ff"/>
<path d="M500.3 260.7A74 88.6 0 0 1 574.3 349.3A74 89.1 0 0 1 500.3 438.4A67.4 89.1 0 0 1 433 349.3A67.4 88.6 0 0 1 500.3 260.7Z" fill="#0097ff"/>
<path d="M500.2 262.3A72.9 87 0 0 1 573.1 349.3A72.9 87.5 0 0 1 500.2 436.8A66.4 87.5 0 0 1 433.8 349.3A66.4 87 0 0 1 500.2 262.3Z" fill="#00a7ff"/>
<path d="M500.1 263.8A71.8 85.6 0 0 1 571.9 349.3A71.8 85.9 0 0 1 500.1 435.3A65.5 85.9 0 0 1 434.6 349.3A65.5 85.6 0 0 1 500.1 263.8Z" fill="#00b7ff"/>
<path d="M500 265.2A70.8 84.1 0 0 1 570.8 349.3A70.8 84.4 0 0 1 500 433.8A64.5 84.4 0 0 1 435.4 349.3A64.5 84.1 0 0 1 500 265.2Z" fill="#00c7ff"/>
<path d="M499.8 266.7A69.7 82.7 0 0 1 569.6 349.4A69.7 82.9 0 0 1 499.8 432.3A63.6 82.9 0 0 1 436.2 349.4A63.6 82.7 0 0 1 499.8 266.7Z" fill="#00d7ff"/>
<path d="M499.7 268.1A68.7 81.2 0 0 1 568.4 349.4A68.7 81.4 0 0 1 499.7 430.8A62.7 81.4 0 0 1 437.1 349.4A62.7 81.2 0 0 1 499.7 268.1Z" fill="#00e7ff"/>
<path d="M499.6 269.6A67.6 79.8 0 0 1 567.2 349.4A67.6 79.8 0 0 1 499.6 429.2A61.7 79.8 0 0 1 437.9 349.4A61.7 79.8 0 0 1 499.6 269.6Z" fill="#00f7ff"/>
<path d="M499.5 271.2A66.4 78.2 0 0 1 565.9 349.4A66.4 78.2 0 0 1 499.5 427.6A60.7 78.2 0 0 1 438.8 349.4A60.7 78.2 0 0 1 499.5 271.2Z" fill="#00fff6"/>
<path d="M499.4 272.8A65.2 76.6 0 0 1 564.6 349.4A65.2 76.5 0 0 1 499.4 425.9A59.7 76.5 0 0 1 439.7 349.4A59.7 76.6 0 0 1 499.4 272.8Z" fill="#00ffe3"/>
<path d="M499.3 274.4A64 75.1 0 0 1 563.3 349.4A64 74.9 0 0 1 499.3 424.3A58.7 74.9 0 0 1 440.6 349.4A58.7 75.1 0 0 1 499.3 274.4Z" fill="#00ffd1"/>
<path d="M499.2 275.9A62.8 73.5 0 0 1 562 349.4A62.8 73.2 0 0 1 499.2 422.7A57.7 73.2 0 0 1 441.4 349.4A57.7 73.5 0 0 1 499.2 275.9Z" fill="#00ffbe"/>
<path d="M499.1 277.4A61.7 72 0 0 1 560.7 349.5A61.7 71.6 0 0 1 499.1 421A56.8 71.6 0 0 1 442.3 349.5A56.8 72 0 0 1 499.1 277.4Z" fill="#00ffac"/>
<path d="M499 278.9A60.5 70.5 0 0 1 559.5 349.5A60.5 69.9 0 0 1 499 419.4A55.8 69.9 0 0 1 443.2 349.5A55.8 70.5 0 0 1 499 278.9Z" fill="#00ff99"/>
<path d="M498.9 280.4A59.3 69.1 0 0 1 558.2 349.5A59.3 68.3 0 0 1 498.9 417.8A54.9 68.3 0 0 1 444 349.5A54.9 69.1 0 0 1 498.9 280.4Z" fill="#00ff87"/>
<path d="M498.8 281.9A58.2 67.6 0 0 1 557 349.5A58.2 66.7 0 0 1 498.8 416.2A53.9 66.7 0 0 1 444.8 349.5A53.9 67.6 0 0 1 498.8 281.9Z" fill="#00ff74"/>
<path d="M498.7 283.3A57.1 66.2 0 0 1 555.7 349.5A57.1 65.1 0 0 1 498.7 414.6A53 65.1 0 0 1 445.7 349.5A53 66.2 0 0 1 498.7 283.3Z" fill="#00f863"/>
<path d="M498.6 284.7A55.9 64.8 0 0 1 554.5 349.5A55.9 63.5 0 0 1 498.6 413.1A52 63.5 0 0 1 446.5 349.5A52 64.8 0 0 1 498.6 284.7Z" fill="#6fff3c"/>
<path d="M498.5 286.2A54.8 63.4 0 0 1 553.3 349.5A54.8 62 0 0 1 498.5 411.5A51.1 62 0 0 1 447.4 349.5A51.1 63.4 0 0 1 498.5 286.2Z" fill="#85ff33"/>
<path d="M498.4 287.6A53.6 61.9 0 0 1 552 349.5A53.6 60.5 0 0 1 498.4 410A50.1 60.5 0 0 1 448.3 349.5A50.1 61.9 0 0 1 498.4 287.6Z" fill="#9bff2a"/>
<path d="M498.3 289A52.5 60.5 0 0 1 550.8 349.5A52.5 59 0 0 1 498.3 408.5A49.2 59 0 0 1 449.1 349.5A49.2 60.5 0 0 1 498.3 289Z" fill="#b2ff20"/>
<path d="M498.2 290.4A51.4 59.1 0 0 1 549.6 349.6A51.4 57.5 0 0 1 498.2 407.1A48.2 57.5 0 0 1 450 349.6A48.2 59.1 0 0 1 498.2 290.4Z" fill="#c8ff17"/>
<path d="M498.2 291.8A50.2 57.7 0 0 1 548.4 349.6A50.2 56.1 0 0 1 498.2 405.6A47.2 56.1 0 0 1 451 349.6A47.2 57.7 0 0 1 498.2 291.8Z" fill="#deff0e"/>
<path d="M498.1 293.3A49.1 56.3 0 0 1 547.1 349.6A49.1 54.7 0 0 1 498.1 404.2A46.2 54.7 0 0 1 451.9 349.6A46.2 56.3 0 0 1 498.1 293.3Z" fill="#f4ff05"/>
<path d="M498 294.7A47.9 54.9 0 0 1 545.9 349.6A47.9 53.3 0 0 1 498 402.9A45.1 53.3 0 0 1 452.9 349.6A45.1 54.9 0 0 1 498 294.7Z" fill="#fff700"/>
<path d="M497.9 296.2A46.7 53.5 0 0 1 544.7 349.6A46.7 52 0 0 1 497.9 401.6A44 52 0 0 1 453.9 349.6A44 53.5 0 0 1 497.9 296.2Z" fill="#ffe700"/>
<path d="M497.8 297.6A45.6 52 0 0 1 543.4 349.6A45.6 50.7 0 0 1 497.8 400.4A42.9 50.7 0 0 1 455 349.6A42.9 52 0 0 1 497.8 297.6Z" fill="#ffd700"/>
<path d="M497.8 299.1A44.4 50.6 0 0 1 542.2 349.7A44.4 49.5 0 0 1 497.8 399.2A41.7 49.5 0 0 1 456.1 349.7A41.7 50.6 0 0 1 497.8 299.1Z" fill="#ffc700"/>
<path d="M497.7 300.5A43.3 49.2 0 0 1 541 349.7A43.3 48.3 0 0 1 497.7 398.1A40.5 48.3 0 0 1 457.2 349.7A40.5 49.2 0 0 1 497.7 300.5Z" fill="#ffb700"/>
<path d="M497.6 302A42.1 47.7 0 0 1 539.8 349.7A42.1 47.2 0 0 1 497.6 396.9A39.3 47.2 0 0 1 458.3 349.7A39.3 47.7 0 0 1 497.6 302Z" fill="#ffa700"/>
<path d="M497.5 303.5A41 46.3 0 0 1 538.5 349.8A41 46.1 0 0 1 497.5 395.8A38 46.1 0 0 1 459.5 349.8A38 46.3 0 0 1 497.5 303.5Z" fill="#ff9700"/>
<path d="M497.5 305A39.8 44.8 0 0 1 537.3 349.8A39.8 44.9 0 0 1 497.5 394.8A36.8 44.9 0 0 1 460.7 349.8A36.8 44.8 0 0 1 497.5 305Z" fill="#ff8700"/>
<path d="M497.4 306.5A38.6 43.3 0 0 1 536 349.9A38.6 43.8 0 0 1 497.4 393.7A35.5 43.8 0 0 1 462 349.9A35.5 43.3 0 0 1 497.4 306.5Z" fill="#ff7800"/>
<path d="M497.3 308A37.4 41.8 0 0 1 534.7 349.9A37.4 42.6 0 0 1 497.3 392.5A34.1 42.6 0 0 1 463.2 349.9A34.1 41.8 0 0 1 497.3 308Z" fill="#ff6800"/>
<path d="M497.3 309.6A36.1 40.3 0 0 1 533.4 349.9A36.1 41.5 0 0 1 497.3 391.4A32.7 41.5 0 0 1 464.5 349.9A32.7 40.3 0 0 1 497.3 309.6Z" fill="#ff5800"/>
<path d="M497.2 311.2A34.8 38.7 0 0 1 532 350A34.8 40.2 0 0 1 497.2 390.2A31.4 40.2 0 0 1 465.9 350A31.4 38.7 0 0 1 497.2 311.2Z" fill="#ff4800"/>
<path d="M497.1 312.8A33.5 37.1 0 0 1 530.6 350A33.5 38.9 0 0 1 497.1 388.9A29.9 38.9 0 0 1 467.2 350A29.9 37.1 0 0 1 497.1 312.8Z" fill="#ff3800"/>
<path d="M497.1 314.5A32.1 35.5 0 0 1 529.2 350A32.1 37.5 0 0 1 497.1 387.5A28.5 37.5 0 0 1 468.6 350A28.5 35.5 0 0 1 497.1 314.5Z" fill="#ff2800"/>
<path d="M497 316.3A30.6 33.7 0 0 1 527.6 350A30.6 36 0 0 1 497 386A27 36 0 0 1 470 350A27 33.7 0 0 1 497 316.3Z" fill="#ff1800"/>
<path d="M497 318.1A29.1 31.9 0 0 1 526 350A29.1 34.3 0 0 1 497 384.3A25.5 34.3 0 0 1 471.5 350A25.5 31.9 0 0 1 497 318.1Z" fill="#ff0800"/>
<path d="M496.9 320A27.4 30 0 0 1 524.3 350A27.4 32.5 0 0 1 496.9 382.5A24 32.5 0 0 1 472.9 350A24 30 0 0 1 496.9 320Z" fill="#ff0000"/>
<path d="M496.9 321.9A25.7 28.1 0 0 1 522.6 350A25.7 30.5 0 0 1 496.9 380.5A22.4 30.5 0 0 1 474.5 350A22.4 28.1 0 0 1 496.9 321.9Z" fill="#ff0000"/>
<path d="M496.8 323.9A23.9 26.1 0 0 1 520.7 350A23.9 28.4 0 0 1 496.8 378.4A20.8 28.4 0 0 1 476.1 350A20.8 26.1 0 0 1 496.8 323.9Z" fill="#ff0000"/>
<path d="M496.8 326.1A21.9 23.9 0 0 1 518.6 350A21.9 26 0 0 1 496.8 376A19 26 0 0 1 477.7 350A19 23.9 0 0 1 496.8 326.1Z" fill="#eb0000"/>
<path d="M496.7 328.5A19.7 21.5 0 0 1 516.4 350A19.7 23.5 0 0 1 496.7 373.5A17.1 23.5 0 0 1 479.6 350A17.1 21.5 0 0 1 496.7 328.5Z" fill="#d60000"/>
<path d="M496.7 331.1A17.3 18.9 0 0 1 514 350A17.3 20.6 0 0 1 496.7 370.6A15.1 20.6 0 0 1 481.6 350A15.1 18.9 0 0 1 496.7 331.1Z" fill="#c10000"/>
<path d="M496.6 334.2A14.5 15.8 0 0 1 511.1 350A14.5 17.2 0 0 1 496.6 367.2A12.6 17.2 0 0 1 484 350A12.6 15.8 0 0 1 496.6 334.2Z" fill="#ac0000"/>
<path d="M496.6 338A10.9 12 0 0 1 507.5 350A10.9 12.9 0 0 1 496.6 362.9A9.6 12.9 0 0 1 487 350A9.6 12 0 0 1 496.6 338Z" fill="#970000"/>
</g></g>
<rect x="141" y="137.7" width="516.7" height="428.3" fill="none" stroke="#262626" stroke-width="1"/>
<path d="M193.36 137.2v5.8 M193.36 566.5v-5.8 M140.5 522.67h5.8 M658.2 522.67h-5.8 M399.35 137.2v5.8 M399.35 566.5v-5.8 M140.5 351.85h5.8 M658.2 351.85h-5.8 M605.34 137.2v5.8 M605.34 566.5v-5.8 M140.5 181.03h5.8 M658.2 181.03h-5.8" stroke="#262626" stroke-width="1.1" fill="none"/>
<text x="186.96" y="618.1" font-size="43.3" text-anchor="middle" fill="#262626">−0.5</text>
<text x="399.35" y="618.1" font-size="43.3" text-anchor="middle" fill="#262626">0</text>
<text x="605.34" y="618.1" font-size="43.3" text-anchor="middle" fill="#262626">0.5</text>
<text x="128.2" y="538.17" font-size="43.3" text-anchor="end" fill="#262626">−0.5</text>
<text x="128.2" y="367.35" font-size="43.3" text-anchor="end" fill="#262626">0</text>
<text x="128.2" y="196.53" font-size="43.3" text-anchor="end" fill="#262626">0.5</text>
<text y="670.3" font-size="42.3" fill="#262626"><tspan x="334.05">x</tspan><tspan x="367.05" font-size="39.34" dy="-0.6">(</tspan><tspan x="385.95" dy="0.1" font-style="italic" font-weight="normal" font-size="47.38" stroke="#262626" stroke-width="0.5">μ</tspan><tspan x="414.95" dy="0.5">m</tspan><tspan x="449.55" font-size="39.34" dy="-0.6">)</tspan></text>
<g transform="translate(46.7 352.65) rotate(-90)"><text y="0" font-size="42.3" fill="#262626"><tspan x="-65.3">y</tspan><tspan x="-32.3" font-size="39.34" dy="-0.6">(</tspan><tspan x="-13.4" dy="0.1" font-style="italic" font-weight="normal" font-size="47.38" stroke="#262626" stroke-width="0.5">μ</tspan><tspan x="15.6" dy="0.5">m</tspan><tspan x="50.2" font-size="39.34" dy="-0.6">)</tspan></text></g>
</g>
<!-- panel (b) -->
<g id="panel-b">
<g clip-path="url(#clip_b)"><g filter="url(#soft_b)">
<rect x="948" y="123.2" width="545" height="457.3" fill="#00008f"/>
<path d="M1214 159.9A167.7 143.7 0 0 1 1381.7 303.6A167.7 43 0 0 1 1214 346.6A167.3 43 0 0 1 1046.7 303.6A167.3 143.7 0 0 1 1214 159.9Z" fill="#0000a4"/>
<path d="M1214 164.6A160.2 136.6 0 0 1 1374.2 301.2A160.2 43 0 0 1 1214 344.2A160.8 43 0 0 1 1053.2 301.2A160.8 136.6 0 0 1 1214 164.6Z" fill="#0000b2"/>
<path d="M1214 168.9A153.8 129.8 0 0 1 1367.9 298.6A153.8 43 0 0 1 1214 341.6A154.6 43 0 0 1 1059.4 298.6A154.6 129.8 0 0 1 1214 168.9Z" fill="#0000c0"/>
<path d="M1214.1 173.3A147.6 122.6 0 0 1 1361.7 295.9A147.6 43 0 0 1 1214.1 338.9A148.2 43 0 0 1 1065.9 295.9A148.2 122.6 0 0 1 1214.1 173.3Z" fill="#0000ce"/>
<path d="M1214.2 177.7A141.8 115.5 0 0 1 1356 293.2A141.8 43.1 0 0 1 1214.2 336.2A141.8 43.1 0 0 1 1072.4 293.2A141.8 115.5 0 0 1 1214.2 177.7Z" fill="#0000dc"/>
<path d="M1214.3 181.8A136.4 108.8 0 0 1 1350.8 290.6A136.4 43.1 0 0 1 1214.3 333.7A135.9 43.1 0 0 1 1078.4 290.6A135.9 108.8 0 0 1 1214.3 181.8Z" fill="#0000ea"/>
<path d="M1214.4 185.5A131.9 103 0 0 1 1346.3 288.5A131.9 43.1 0 0 1 1214.4 331.6A130.7 43.1 0 0 1 1083.7 288.5A130.7 103 0 0 1 1214.4 185.5Z" fill="#0000f8"/>
<path d="M1214.5 188.2A128.3 98.8 0 0 1 1342.8 287A128.3 43.1 0 0 1 1214.5 330.1A126.7 43.1 0 0 1 1087.8 287A126.7 98.8 0 0 1 1214.5 188.2Z" fill="#0008ff"/>
<path d="M1214.5 190.2A125.4 95.6 0 0 1 1340 285.9A125.4 43.1 0 0 1 1214.5 328.9A123.5 43.1 0 0 1 1091 285.9A123.5 95.6 0 0 1 1214.5 190.2Z" fill="#0018ff"/>
<path d="M1214.6 192.2A122.7 92.6 0 0 1 1337.3 284.8A122.7 43 0 0 1 1214.6 327.8A120.5 43 0 0 1 1094.1 284.8A120.5 92.6 0 0 1 1214.6 192.2Z" fill="#0028ff"/>
<path d="M1214.6 194.1A120.2 89.7 0 0 1 1334.8 283.9A120.2 42.8 0 0 1 1214.6 326.7A117.7 42.8 0 0 1 1097 283.9A117.7 89.7 0 0 1 1214.6 194.1Z" fill="#0038ff"/>
<path d="M1214.7 196A117.8 87 0 0 1 1332.5 283A117.8 42.6 0 0 1 1214.7 325.6A115 42.6 0 0 1 1099.7 283A115 87 0 0 1 1214.7 196Z" fill="#0048ff"/>
<path d="M1214.7 197.8A115.6 84.4 0 0 1 1330.3 282.2A115.6 42.3 0 0 1 1214.7 324.5A112.4 42.3 0 0 1 1102.3 282.2A112.4 84.4 0 0 1 1214.7 197.8Z" fill="#0058ff"/>
<path d="M1214.8 199.5A113.5 82 0 0 1 1328.2 281.5A113.5 42 0 0 1 1214.8 323.5A110 42 0 0 1 1104.8 281.5A110 82 0 0 1 1214.8 199.5Z" fill="#0068ff"/>
<path d="M1214.8 201.1A111.5 79.7 0 0 1 1326.3 280.8A111.5 41.7 0 0 1 1214.8 322.4A107.7 41.7 0 0 1 1107.1 280.8A107.7 79.7 0 0 1 1214.8 201.1Z" fill="#0078ff"/>
<path d="M1214.8 202.6A109.6 77.5 0 0 1 1324.5 280.1A109.6 41.3 0 0 1 1214.8 321.4A105.5 41.3 0 0 1 1109.3 280.1A105.5 77.5 0 0 1 1214.8 202.6Z" fill="#0087ff"/>
<path d="M1214.9 204.1A107.8 75.4 0 0 1 1322.7 279.5A107.8 40.9 0 0 1 1214.9 320.4A103.4 40.9 0 0 1 1111.4 279.5A103.4 75.4 0 0 1 1214.9 204.1Z" fill="#0097ff"/>
<path d="M1214.9 205.5A106.1 73.5 0 0 1 1321 279A106.1 40.5 0 0 1 1214.9 319.4A101.5 40.5 0 0 1 1113.5 279A101.5 73.5 0 0 1 1214.9 205.5Z" fill="#00a7ff"/>
<path d="M1214.9 206.8A104.4 71.6 0 0 1 1319.4 278.4A104.4 40.1 0 0 1 1214.9 318.5A99.5 40.1 0 0 1 1115.4 278.4A99.5 71.6 0 0 1 1214.9 206.8Z" fill="#00b7ff"/>
<path d="M1215 208.1A102.8 69.8 0 0 1 1317.7 277.9A102.8 39.7 0 0 1 1215 317.6A97.7 39.7 0 0 1 1117.3 277.9A97.7 69.8 0 0 1 1215 208.1Z" fill="#00c7ff"/>
<path d="M1215 209.4A101.1 68 0 0 1 1316.1 277.4A101.1 39.3 0 0 1 1215 316.7A95.9 39.3 0 0 1 1119.1 277.4A95.9 68 0 0 1 1215 209.4Z" fill="#00d7ff"/>
<path d="M1215 210.6A99.4 66.3 0 0 1 1314.4 276.9A99.4 38.9 0 0 1 1215 315.8A94.1 38.9 0 0 1 1120.9 276.9A94.1 66.3 0 0 1 1215 210.6Z" fill="#00e7ff"/>
<path d="M1215 211.7A97.7 64.7 0 0 1 1312.7 276.4A97.7 38.5 0 0 1 1215 314.9A92.3 38.5 0 0 1 1122.7 276.4A92.3 64.7 0 0 1 1215 211.7Z" fill="#00f7ff"/>
<path d="M1215 212.9A95.9 63 0 0 1 1310.9 275.9A95.9 38.2 0 0 1 1215 314.1A90.5 38.2 0 0 1 1124.5 275.9A90.5 63 0 0 1 1215 212.9Z" fill="#00fff6"/>
<path d="M1215 214.1A94 61.3 0 0 1 1309 275.4A94 37.9 0 0 1 1215 313.3A88.7 37.9 0 0 1 1126.3 275.4A88.7 61.3 0 0 1 1215 214.1Z" fill="#00ffe3"/>
<path d="M1215 215.2A92.2 59.7 0 0 1 1307.2 274.9A92.2 37.6 0 0 1 1215 312.5A86.9 37.6 0 0 1 1128.1 274.9A86.9 59.7 0 0 1 1215 215.2Z" fill="#00ffd1"/>
<path d="M1215 216.3A90.4 58.1 0 0 1 1305.4 274.4A90.4 37.4 0 0 1 1215 311.7A85.2 37.4 0 0 1 1129.8 274.4A85.2 58.1 0 0 1 1215 216.3Z" fill="#00ffbe"/>
<path d="M1215 217.4A88.5 56.5 0 0 1 1303.5 273.9A88.5 37.1 0 0 1 1215 311A83.6 37.1 0 0 1 1131.4 273.9A83.6 56.5 0 0 1 1215 217.4Z" fill="#00ffac"/>
<path d="M1215 218.5A86.7 54.9 0 0 1 1301.7 273.4A86.7 36.8 0 0 1 1215 310.2A81.9 36.8 0 0 1 1133.1 273.4A81.9 54.9 0 0 1 1215 218.5Z" fill="#00ff99"/>
<path d="M1215 219.5A84.9 53.4 0 0 1 1299.9 272.9A84.9 36.6 0 0 1 1215 309.5A80.3 36.6 0 0 1 1134.7 272.9A80.3 53.4 0 0 1 1215 219.5Z" fill="#00ff87"/>
<path d="M1215 220.6A83.1 51.9 0 0 1 1298.1 272.5A83.1 36.3 0 0 1 1215 308.8A78.7 36.3 0 0 1 1136.3 272.5A78.7 51.9 0 0 1 1215 220.6Z" fill="#00ff74"/>
<path d="M1215 221.6A81.3 50.4 0 0 1 1296.3 272A81.3 36.1 0 0 1 1215 308.1A77.2 36.1 0 0 1 1137.8 272A77.2 50.4 0 0 1 1215 221.6Z" fill="#00f863"/>
<path d="M1215 222.6A79.5 49 0 0 1 1294.5 271.6A79.5 35.8 0 0 1 1215 307.4A75.6 35.8 0 0 1 1139.4 271.6A75.6 49 0 0 1 1215 222.6Z" fill="#6fff3c"/>
<path d="M1215 223.6A77.8 47.6 0 0 1 1292.8 271.2A77.8 35.5 0 0 1 1215 306.8A74.1 35.5 0 0 1 1140.9 271.2A74.1 47.6 0 0 1 1215 223.6Z" fill="#85ff33"/>
<path d="M1215 224.6A76 46.2 0 0 1 1291 270.8A76 35.3 0 0 1 1215 306.1A72.6 35.3 0 0 1 1142.4 270.8A72.6 46.2 0 0 1 1215 224.6Z" fill="#9bff2a"/>
<path d="M1215 225.7A74.2 44.9 0 0 1 1289.2 270.5A74.2 35 0 0 1 1215 305.5A71.1 35 0 0 1 1143.9 270.5A71.1 44.9 0 0 1 1215 225.7Z" fill="#b2ff20"/>
<path d="M1215 226.7A72.4 43.5 0 0 1 1287.4 270.2A72.4 34.6 0 0 1 1215 304.8A69.6 34.6 0 0 1 1145.4 270.2A69.6 43.5 0 0 1 1215 226.7Z" fill="#c8ff17"/>
<path d="M1215 227.7A70.7 42.3 0 0 1 1285.7 269.9A70.7 34.3 0 0 1 1215 304.2A68.1 34.3 0 0 1 1146.9 269.9A68.1 42.3 0 0 1 1215 227.7Z" fill="#deff0e"/>
<path d="M1215 228.7A68.9 41 0 0 1 1283.9 269.7A68.9 33.9 0 0 1 1215 303.6A66.5 33.9 0 0 1 1148.5 269.7A66.5 41 0 0 1 1215 228.7Z" fill="#f4ff05"/>
<path d="M1215 229.7A67.2 39.8 0 0 1 1282.2 269.5A67.2 33.5 0 0 1 1215 303A65 33.5 0 0 1 1150 269.5A65 39.8 0 0 1 1215 229.7Z" fill="#fff700"/>
<path d="M1215 230.7A65.5 38.6 0 0 1 1280.5 269.3A65.5 33 0 0 1 1215 302.4A63.5 33 0 0 1 1151.5 269.3A63.5 38.6 0 0 1 1215 230.7Z" fill="#ffe700"/>
<path d="M1215 231.7A63.8 37.5 0 0 1 1278.7 269.2A63.8 32.5 0 0 1 1215 301.7A62 32.5 0 0 1 1153 269.2A62 37.5 0 0 1 1215 231.7Z" fill="#ffd700"/>
<path d="M1214.9 232.6A62.1 36.4 0 0 1 1277 269A62.1 32 0 0 1 1214.9 301A60.5 32 0 0 1 1154.4 269A60.5 36.4 0 0 1 1214.9 232.6Z" fill="#ffc700"/>
<path d="M1214.8 233.5A60.4 35.3 0 0 1 1275.3 268.8A60.4 31.4 0 0 1 1214.8 300.2A59 31.4 0 0 1 1155.8 268.8A59 35.3 0 0 1 1214.8 233.5Z" fill="#ffb700"/>
<path d="M1214.8 234.4A58.8 34.3 0 0 1 1273.5 268.7A58.8 30.7 0 0 1 1214.8 299.4A57.6 30.7 0 0 1 1157.2 268.7A57.6 34.3 0 0 1 1214.8 234.4Z" fill="#ffa700"/>
<path d="M1214.7 235.3A57.1 33.3 0 0 1 1271.8 268.5A57.1 30 0 0 1 1214.7 298.6A56.1 30 0 0 1 1158.6 268.5A56.1 33.3 0 0 1 1214.7 235.3Z" fill="#ff9700"/>
<path d="M1214.6 236.1A55.4 32.3 0 0 1 1270 268.4A55.4 29.3 0 0 1 1214.6 297.7A54.6 29.3 0 0 1 1160 268.4A54.6 32.3 0 0 1 1214.6 236.1Z" fill="#ff8700"/>
<path d="M1214.5 237A53.7 31.3 0 0 1 1268.2 268.3A53.7 28.5 0 0 1 1214.5 296.8A53.1 28.5 0 0 1 1161.4 268.3A53.1 31.3 0 0 1 1214.5 237Z" fill="#ff7800"/>
<path d="M1214.4 237.9A52 30.2 0 0 1 1266.4 268.2A52 27.7 0 0 1 1214.4 295.8A51.6 27.7 0 0 1 1162.8 268.2A51.6 30.2 0 0 1 1214.4 237.9Z" fill="#ff6800"/>
<path d="M1214.3 238.9A50.2 29.2 0 0 1 1264.5 268.1A50.2 26.8 0 0 1 1214.3 294.9A50 26.8 0 0 1 1164.3 268.1A50 29.2 0 0 1 1214.3 238.9Z" fill="#ff5800"/>
<path d="M1214.2 239.9A48.3 28.1 0 0 1 1262.5 268A48.3 25.8 0 0 1 1214.2 293.9A48.3 25.8 0 0 1 1165.9 268A48.3 28.1 0 0 1 1214.2 239.9Z" fill="#ff4800"/>
<path d="M1214.1 241A46.3 27 0 0 1 1260.5 268A46.3 24.9 0 0 1 1214.1 292.8A46.6 24.9 0 0 1 1167.6 268A46.6 27 0 0 1 1214.1 241Z" fill="#ff3800"/>
<path d="M1214.1 242.2A44.3 25.8 0 0 1 1258.3 267.9A44.3 23.8 0 0 1 1214.1 291.7A44.6 23.8 0 0 1 1169.4 267.9A44.6 25.8 0 0 1 1214.1 242.2Z" fill="#ff2800"/>
<path d="M1214 243.4A42 24.5 0 0 1 1256.1 267.9A42 22.7 0 0 1 1214 290.6A42.6 22.7 0 0 1 1171.4 267.9A42.6 24.5 0 0 1 1214 243.4Z" fill="#ff1800"/>
<path d="M1214 244.9A39.6 23 0 0 1 1253.6 267.9A39.6 21.6 0 0 1 1214 289.5A40.3 21.6 0 0 1 1173.7 267.9A40.3 23 0 0 1 1214 244.9Z" fill="#ff0800"/>
<path d="M1213.9 246.4A37.1 21.5 0 0 1 1251 267.9A37.1 20.3 0 0 1 1213.9 288.2A37.8 20.3 0 0 1 1176.1 267.9A37.8 21.5 0 0 1 1213.9 246.4Z" fill="#ff0000"/>
<path d="M1213.9 248A34.4 19.9 0 0 1 1248.3 267.9A34.4 18.9 0 0 1 1213.9 286.8A35.1 18.9 0 0 1 1178.8 267.9A35.1 19.9 0 0 1 1213.9 248Z" fill="#ff0000"/>
<path d="M1213.9 249.7A31.4 18.2 0 0 1 1245.2 267.9A31.4 17.3 0 0 1 1213.9 285.2A32.1 17.3 0 0 1 1181.7 267.9A32.1 18.2 0 0 1 1213.9 249.7Z" fill="#ff0000"/>
<path d="M1213.8 251.6A28.1 16.3 0 0 1 1241.9 267.9A28.1 15.5 0 0 1 1213.8 283.4A28.8 15.5 0 0 1 1185.1 267.9A28.8 16.3 0 0 1 1213.8 251.6Z" fill="#eb0000"/>
<path d="M1213.8 253.8A24.4 14.1 0 0 1 1238.2 267.9A24.4 13.4 0 0 1 1213.8 281.3A24.9 13.4 0 0 1 1188.9 267.9A24.9 14.1 0 0 1 1213.8 253.8Z" fill="#d60000"/>
<path d="M1213.8 256.3A20 11.6 0 0 1 1233.7 267.9A20 11 0 0 1 1213.8 278.9A20.4 11 0 0 1 1193.4 267.9A20.4 11.6 0 0 1 1213.8 256.3Z" fill="#c10000"/>
<path d="M1213.7 259.6A14.3 8.3 0 0 1 1228 267.9A14.3 7.8 0 0 1 1213.7 275.7A14.5 7.8 0 0 1 1199.2 267.9A14.5 8.3 0 0 1 1213.7 259.6Z" fill="#ac0000"/>
<path d="M1213.7 266.3A2.8 1.6 0 0 1 1216.5 267.9A2.8 1.5 0 0 1 1213.7 269.4A2.8 1.5 0 0 1 1210.9 267.9A2.8 1.6 0 0 1 1213.7 266.3Z" fill="#970000"/>
<path d="M1218 355A193.8 46.3 0 0 1 1411.8 401.3A193.8 136.6 0 0 1 1218 538A198.5 136.6 0 0 1 1019.5 401.3A198.5 46.3 0 0 1 1218 355Z" fill="#0000a4"/>
<path d="M1218 356.9A185.3 46.7 0 0 1 1403.3 403.6A185.3 128 0 0 1 1218 531.6A190.7 128 0 0 1 1027.3 403.6A190.7 46.7 0 0 1 1218 356.9Z" fill="#0000b2"/>
<path d="M1218 359.2A176 46.6 0 0 1 1394 405.8A176 120.6 0 0 1 1218 526.4A181.9 120.6 0 0 1 1036.2 405.8A181.9 46.6 0 0 1 1218 359.2Z" fill="#0000c0"/>
<path d="M1218.1 361.6A165.4 46.4 0 0 1 1383.5 408A165.4 113.3 0 0 1 1218.1 521.3A171.9 113.3 0 0 1 1046.2 408A171.9 46.4 0 0 1 1218.1 361.6Z" fill="#0000ce"/>
<path d="M1218.2 364.1A154.3 46 0 0 1 1372.5 410.2A154.3 106.1 0 0 1 1218.2 516.3A161.4 106.1 0 0 1 1056.8 410.2A161.4 46 0 0 1 1218.2 364.1Z" fill="#0000dc"/>
<path d="M1218.3 366.5A143.7 45.7 0 0 1 1362 412.2A143.7 99.6 0 0 1 1218.3 511.8A151.2 99.6 0 0 1 1067.1 412.2A151.2 45.7 0 0 1 1218.3 366.5Z" fill="#0000ea"/>
<path d="M1218.4 368.5A134.6 45.4 0 0 1 1353 413.8A134.6 94.1 0 0 1 1218.4 508A142.5 94.1 0 0 1 1075.9 413.8A142.5 45.4 0 0 1 1218.4 368.5Z" fill="#0000f8"/>
<path d="M1218.5 370A128.7 45.1 0 0 1 1347.2 415.1A128.7 90.2 0 0 1 1218.5 505.3A136.7 90.2 0 0 1 1081.8 415.1A136.7 45.1 0 0 1 1218.5 370Z" fill="#0008ff"/>
<path d="M1218.5 371.2A125 44.9 0 0 1 1343.6 416.1A125 87.3 0 0 1 1218.5 503.4A132.9 87.3 0 0 1 1085.6 416.1A132.9 44.9 0 0 1 1218.5 371.2Z" fill="#0018ff"/>
<path d="M1218.6 372.3A121.6 44.7 0 0 1 1340.2 417A121.6 84.5 0 0 1 1218.6 501.5A129.4 84.5 0 0 1 1089.2 417A129.4 44.7 0 0 1 1218.6 372.3Z" fill="#0028ff"/>
<path d="M1218.6 373.3A118.4 44.6 0 0 1 1337.1 417.9A118.4 81.9 0 0 1 1218.6 499.8A126.1 81.9 0 0 1 1092.5 417.9A126.1 44.6 0 0 1 1218.6 373.3Z" fill="#0038ff"/>
<path d="M1218.7 374.2A115.5 44.4 0 0 1 1334.2 418.6A115.5 79.5 0 0 1 1218.7 498.1A123 79.5 0 0 1 1095.6 418.6A123 44.4 0 0 1 1218.7 374.2Z" fill="#0048ff"/>
<path d="M1218.7 375.1A112.8 44.3 0 0 1 1331.5 419.4A112.8 77.1 0 0 1 1218.7 496.5A120.2 77.1 0 0 1 1098.5 419.4A120.2 44.3 0 0 1 1218.7 375.1Z" fill="#0058ff"/>
<path d="M1218.7 375.9A110.3 44.1 0 0 1 1329 420.1A110.3 74.9 0 0 1 1218.7 495A117.6 74.9 0 0 1 1101.1 420.1A117.6 44.1 0 0 1 1218.7 375.9Z" fill="#0068ff"/>
<path d="M1218.8 376.7A107.9 44 0 0 1 1326.7 420.7A107.9 72.9 0 0 1 1218.8 493.6A115.1 72.9 0 0 1 1103.6 420.7A115.1 44 0 0 1 1218.8 376.7Z" fill="#0078ff"/>
<path d="M1218.8 377.4A105.8 43.9 0 0 1 1324.6 421.3A105.8 70.9 0 0 1 1218.8 492.2A112.9 70.9 0 0 1 1105.9 421.3A112.9 43.9 0 0 1 1218.8 377.4Z" fill="#0087ff"/>
<path d="M1218.8 378.1A103.8 43.8 0 0 1 1322.6 421.9A103.8 69.1 0 0 1 1218.8 491A110.8 69.1 0 0 1 1108.1 421.9A110.8 43.8 0 0 1 1218.8 378.1Z" fill="#0097ff"/>
<path d="M1218.8 378.8A101.9 43.6 0 0 1 1320.7 422.4A101.9 67.4 0 0 1 1218.8 489.8A108.7 67.4 0 0 1 1110.1 422.4A108.7 43.6 0 0 1 1218.8 378.8Z" fill="#00a7ff"/>
<path d="M1218.9 379.4A100.1 43.5 0 0 1 1319 422.9A100.1 65.8 0 0 1 1218.9 488.7A106.8 65.8 0 0 1 1112.1 422.9A106.8 43.5 0 0 1 1218.9 379.4Z" fill="#00b7ff"/>
<path d="M1218.9 380A98.4 43.3 0 0 1 1317.3 423.4A98.4 64.2 0 0 1 1218.9 487.6A104.9 64.2 0 0 1 1114 423.4A104.9 43.3 0 0 1 1218.9 380Z" fill="#00c7ff"/>
<path d="M1218.9 380.7A96.7 43.1 0 0 1 1315.6 423.8A96.7 62.7 0 0 1 1218.9 486.6A103.1 62.7 0 0 1 1115.8 423.8A103.1 43.1 0 0 1 1218.9 380.7Z" fill="#00d7ff"/>
<path d="M1218.9 381.3A95 43 0 0 1 1314 424.2A95 61.3 0 0 1 1218.9 485.6A101.2 61.3 0 0 1 1117.8 424.2A101.2 43 0 0 1 1218.9 381.3Z" fill="#00e7ff"/>
<path d="M1219 381.9A93.3 42.7 0 0 1 1312.3 424.7A93.3 59.9 0 0 1 1219 484.6A99.2 59.9 0 0 1 1119.7 424.7A99.2 42.7 0 0 1 1219 381.9Z" fill="#00f7ff"/>
<path d="M1219 382.6A91.5 42.5 0 0 1 1310.5 425.1A91.5 58.5 0 0 1 1219 483.6A97.2 58.5 0 0 1 1121.8 425.1A97.2 42.5 0 0 1 1219 382.6Z" fill="#00fff6"/>
<path d="M1219 383.3A89.7 42.2 0 0 1 1308.7 425.5A89.7 57.1 0 0 1 1219 482.6A95.1 57.1 0 0 1 1123.9 425.5A95.1 42.2 0 0 1 1219 383.3Z" fill="#00ffe3"/>
<path d="M1219.1 384.1A87.9 41.8 0 0 1 1307 425.9A87.9 55.8 0 0 1 1219.1 481.7A93 55.8 0 0 1 1126.1 425.9A93 41.8 0 0 1 1219.1 384.1Z" fill="#00ffd1"/>
<path d="M1219.1 384.9A86.1 41.4 0 0 1 1305.2 426.3A86.1 54.5 0 0 1 1219.1 480.8A90.9 54.5 0 0 1 1128.2 426.3A90.9 41.4 0 0 1 1219.1 384.9Z" fill="#00ffbe"/>
<path d="M1219.1 385.8A84.4 40.9 0 0 1 1303.6 426.7A84.4 53.2 0 0 1 1219.1 479.9A88.8 53.2 0 0 1 1130.3 426.7A88.8 40.9 0 0 1 1219.1 385.8Z" fill="#00ffac"/>
<path d="M1219.2 386.7A82.7 40.4 0 0 1 1301.9 427.1A82.7 52 0 0 1 1219.2 479.1A86.8 52 0 0 1 1132.4 427.1A86.8 40.4 0 0 1 1219.2 386.7Z" fill="#00ff99"/>
<path d="M1219.2 387.7A81.1 39.8 0 0 1 1300.3 427.5A81.1 50.8 0 0 1 1219.2 478.3A84.7 50.8 0 0 1 1134.5 427.5A84.7 39.8 0 0 1 1219.2 387.7Z" fill="#00ff87"/>
<path d="M1219.3 388.7A79.5 39.1 0 0 1 1298.7 427.8A79.5 49.6 0 0 1 1219.3 477.5A82.7 49.6 0 0 1 1136.6 427.8A82.7 39.1 0 0 1 1219.3 388.7Z" fill="#00ff74"/>
<path d="M1219.3 389.7A77.9 38.4 0 0 1 1297.2 428.2A77.9 48.5 0 0 1 1219.3 476.7A80.7 48.5 0 0 1 1138.6 428.2A80.7 38.4 0 0 1 1219.3 389.7Z" fill="#00f863"/>
<path d="M1219.4 390.8A76.3 37.7 0 0 1 1295.7 428.5A76.3 47.4 0 0 1 1219.4 475.9A78.7 47.4 0 0 1 1140.7 428.5A78.7 37.7 0 0 1 1219.4 390.8Z" fill="#6fff3c"/>
<path d="M1219.4 391.8A74.8 37 0 0 1 1294.2 428.8A74.8 46.3 0 0 1 1219.4 475.1A76.7 46.3 0 0 1 1142.6 428.8A76.7 37 0 0 1 1219.4 391.8Z" fill="#85ff33"/>
<path d="M1219.4 392.8A73.3 36.3 0 0 1 1292.7 429.1A73.3 45.2 0 0 1 1219.4 474.3A74.8 45.2 0 0 1 1144.6 429.1A74.8 36.3 0 0 1 1219.4 392.8Z" fill="#9bff2a"/>
<path d="M1219.4 393.8A71.8 35.5 0 0 1 1291.2 429.4A71.8 44.2 0 0 1 1219.4 473.5A72.9 44.2 0 0 1 1146.5 429.4A72.9 35.5 0 0 1 1219.4 393.8Z" fill="#b2ff20"/>
<path d="M1219.5 394.8A70.3 34.8 0 0 1 1289.7 429.6A70.3 43.1 0 0 1 1219.5 472.7A71.1 43.1 0 0 1 1148.4 429.6A71.1 34.8 0 0 1 1219.5 394.8Z" fill="#c8ff17"/>
<path d="M1219.5 395.8A68.8 34 0 0 1 1288.3 429.8A68.8 42.1 0 0 1 1219.5 471.9A69.3 42.1 0 0 1 1150.2 429.8A69.3 34 0 0 1 1219.5 395.8Z" fill="#deff0e"/>
<path d="M1219.5 396.7A67.4 33.3 0 0 1 1286.8 430A67.4 41 0 0 1 1219.5 471.1A67.6 41 0 0 1 1151.9 430A67.6 33.3 0 0 1 1219.5 396.7Z" fill="#f4ff05"/>
<path d="M1219.5 397.6A65.9 32.6 0 0 1 1285.4 430.2A65.9 40 0 0 1 1219.5 470.2A65.9 40 0 0 1 1153.6 430.2A65.9 32.6 0 0 1 1219.5 397.6Z" fill="#fff700"/>
<path d="M1219.5 398.4A64.5 31.9 0 0 1 1284 430.4A64.5 39 0 0 1 1219.5 469.3A64.3 39 0 0 1 1155.2 430.4A64.3 31.9 0 0 1 1219.5 398.4Z" fill="#ffe700"/>
<path d="M1219.5 399.3A63.1 31.3 0 0 1 1282.6 430.5A63.1 37.9 0 0 1 1219.5 468.5A62.8 37.9 0 0 1 1156.7 430.5A62.8 31.3 0 0 1 1219.5 399.3Z" fill="#ffd700"/>
<path d="M1219.5 400.1A61.8 30.6 0 0 1 1281.3 430.7A61.8 36.9 0 0 1 1219.5 467.6A61.3 36.9 0 0 1 1158.2 430.7A61.3 30.6 0 0 1 1219.5 400.1Z" fill="#ffc700"/>
<path d="M1219.5 400.9A60.6 29.9 0 0 1 1280.1 430.8A60.6 36 0 0 1 1219.5 466.8A59.9 36 0 0 1 1159.6 430.8A59.9 29.9 0 0 1 1219.5 400.9Z" fill="#ffb700"/>
<path d="M1219.5 401.7A59.3 29.2 0 0 1 1278.8 431A59.3 35 0 0 1 1219.5 466A58.5 35 0 0 1 1161 431A58.5 29.2 0 0 1 1219.5 401.7Z" fill="#ffa700"/>
<path d="M1219.5 402.6A58.1 28.6 0 0 1 1277.6 431.1A58.1 34 0 0 1 1219.5 465.2A57.1 34 0 0 1 1162.4 431.1A57.1 28.6 0 0 1 1219.5 402.6Z" fill="#ff9700"/>
<path d="M1219.5 403.4A56.9 27.9 0 0 1 1276.4 431.3A56.9 33.1 0 0 1 1219.5 464.3A55.8 33.1 0 0 1 1163.7 431.3A55.8 27.9 0 0 1 1219.5 403.4Z" fill="#ff8700"/>
<path d="M1219.5 404.3A55.6 27.1 0 0 1 1275.1 431.4A55.6 32.1 0 0 1 1219.5 463.5A54.4 32.1 0 0 1 1165.1 431.4A54.4 27.1 0 0 1 1219.5 404.3Z" fill="#ff7800"/>
<path d="M1219.5 405.1A54.4 26.4 0 0 1 1273.9 431.5A54.4 31.1 0 0 1 1219.5 462.6A53.1 31.1 0 0 1 1166.4 431.5A53.1 26.4 0 0 1 1219.5 405.1Z" fill="#ff6800"/>
<path d="M1219.5 406A53 25.6 0 0 1 1272.5 431.6A53 30.1 0 0 1 1219.5 461.7A51.7 30.1 0 0 1 1167.8 431.6A51.7 25.6 0 0 1 1219.5 406Z" fill="#ff5800"/>
<path d="M1219.5 406.9A51.6 24.8 0 0 1 1271.1 431.7A51.6 29.1 0 0 1 1219.5 460.7A50.2 29.1 0 0 1 1169.3 431.7A50.2 24.8 0 0 1 1219.5 406.9Z" fill="#ff4800"/>
<path d="M1219.5 407.8A50.1 24 0 0 1 1269.6 431.7A50.1 28 0 0 1 1219.5 459.7A48.6 28 0 0 1 1170.9 431.7A48.6 24 0 0 1 1219.5 407.8Z" fill="#ff3800"/>
<path d="M1219.5 408.7A48.5 23.1 0 0 1 1268 431.8A48.5 26.8 0 0 1 1219.5 458.6A46.9 26.8 0 0 1 1172.6 431.8A46.9 23.1 0 0 1 1219.5 408.7Z" fill="#ff2800"/>
<path d="M1219.5 409.7A46.7 22.1 0 0 1 1266.2 431.8A46.7 25.6 0 0 1 1219.5 457.4A45 25.6 0 0 1 1174.5 431.8A45 22.1 0 0 1 1219.5 409.7Z" fill="#ff1800"/>
<path d="M1219.5 410.7A44.7 21.1 0 0 1 1264.2 431.8A44.7 24.3 0 0 1 1219.5 456.1A42.9 24.3 0 0 1 1176.6 431.8A42.9 21.1 0 0 1 1219.5 410.7Z" fill="#ff0800"/>
<path d="M1219.5 411.8A42.5 20 0 0 1 1262 431.8A42.5 22.9 0 0 1 1219.5 454.7A40.7 22.9 0 0 1 1178.8 431.8A40.7 20 0 0 1 1219.5 411.8Z" fill="#ff0000"/>
<path d="M1219.5 413A40 18.8 0 0 1 1259.5 431.8A40 21.5 0 0 1 1219.5 453.3A38.3 21.5 0 0 1 1181.2 431.8A38.3 18.8 0 0 1 1219.5 413Z" fill="#ff0000"/>
<path d="M1219.5 414.3A37.3 17.5 0 0 1 1256.8 431.8A37.3 20 0 0 1 1219.5 451.8A35.6 20 0 0 1 1183.9 431.8A35.6 17.5 0 0 1 1219.5 414.3Z" fill="#ff0000"/>
<path d="M1219.5 415.8A34.2 16 0 0 1 1253.7 431.8A34.2 18.3 0 0 1 1219.5 450.1A32.7 18.3 0 0 1 1186.8 431.8A32.7 16 0 0 1 1219.5 415.8Z" fill="#eb0000"/>
<path d="M1219.5 417.4A30.8 14.4 0 0 1 1250.3 431.8A30.8 16.5 0 0 1 1219.5 448.3A29.5 16.5 0 0 1 1190 431.8A29.5 14.4 0 0 1 1219.5 417.4Z" fill="#d60000"/>
<path d="M1219.5 419.2A27 12.6 0 0 1 1246.5 431.8A27 14.5 0 0 1 1219.5 446.3A25.8 14.5 0 0 1 1193.7 431.8A25.8 12.6 0 0 1 1219.5 419.2Z" fill="#c10000"/>
<path d="M1219.5 421.2A22.5 10.6 0 0 1 1242 431.8A22.5 12.1 0 0 1 1219.5 443.9A21.5 12.1 0 0 1 1198 431.8A21.5 10.6 0 0 1 1219.5 421.2Z" fill="#ac0000"/>
<path d="M1219.5 423.9A16.9 7.9 0 0 1 1236.4 431.8A16.9 9.1 0 0 1 1219.5 440.9A16.2 9.1 0 0 1 1203.3 431.8A16.2 7.9 0 0 1 1219.5 423.9Z" fill="#970000"/>
</g></g>
<rect x="962.5" y="137.7" width="516" height="428.3" fill="none" stroke="#262626" stroke-width="1"/>
<path d="M1014.79 137.2v5.8 M1014.79 566.5v-5.8 M962 522.67h5.8 M1479 522.67h-5.8 M1220.5 137.2v5.8 M1220.5 566.5v-5.8 M962 351.85h5.8 M1479 351.85h-5.8 M1426.21 137.2v5.8 M1426.21 566.5v-5.8 M962 181.03h5.8 M1479 181.03h-5.8" stroke="#262626" stroke-width="1.1" fill="none"/>
<text x="1008.39" y="618.1" font-size="43.3" text-anchor="middle" fill="#262626">−0.5</text>
<text x="1220.5" y="618.1" font-size="43.3" text-anchor="middle" fill="#262626">0</text>
<text x="1426.21" y="618.1" font-size="43.3" text-anchor="middle" fill="#262626">0.5</text>
<text x="949.7" y="538.17" font-size="43.3" text-anchor="end" fill="#262626">−0.5</text>
<text x="949.7" y="367.35" font-size="43.3" text-anchor="end" fill="#262626">0</text>
<text x="949.7" y="196.53" font-size="43.3" text-anchor="end" fill="#262626">0.5</text>
<text y="670.3" font-size="42.3" fill="#262626"><tspan x="1155.2">x</tspan><tspan x="1188.2" font-size="39.34" dy="-0.6">(</tspan><tspan x="1207.1" dy="0.1" font-style="italic" font-weight="normal" font-size="47.38" stroke="#262626" stroke-width="0.5">μ</tspan><tspan x="1236.1" dy="0.5">m</tspan><tspan x="1270.7" font-size="39.34" dy="-0.6">)</tspan></text>
<g transform="translate(868.2 352.65) rotate(-90)"><text y="0" font-size="42.3" fill="#262626"><tspan x="-65.3">y</tspan><tspan x="-32.3" font-size="39.34" dy="-0.6">(</tspan><tspan x="-13.4" dy="0.1" font-style="italic" font-weight="normal" font-size="47.38" stroke="#262626" stroke-width="0.5">μ</tspan><tspan x="15.6" dy="0.5">m</tspan><tspan x="50.2" font-size="39.34" dy="-0.6">)</tspan></text></g>
</g>
<!-- panel (c) -->
<g id="panel-c">
<g clip-path="url(#clip_c)"><g filter="url(#soft_c)">
<rect x="1749.8" y="123.2" width="545.4" height="457.3" fill="#00008f"/>
<path d="M2023 156.6A235.4 195.5 0 0 1 2258.4 352.1A235.4 195.5 0 0 1 2023 547.6A235.4 195.5 0 0 1 1787.6 352.1A235.4 195.5 0 0 1 2023 156.6Z" fill="#000090"/>
<path d="M2022.7 159.8A231.1 192 0 0 1 2253.8 351.8A231.1 192 0 0 1 2022.7 543.8A231.1 192 0 0 1 1791.5 351.8A231.1 192 0 0 1 2022.7 159.8Z" fill="#000092"/>
<path d="M2022.3 163.1A226.8 188.5 0 0 1 2249.1 351.6A226.8 188.5 0 0 1 2022.3 540.1A226.8 188.5 0 0 1 1795.5 351.6A226.8 188.5 0 0 1 2022.3 163.1Z" fill="#000096"/>
<path d="M2021.9 166.4A222.5 185 0 0 1 2244.5 351.4A222.5 185 0 0 1 2021.9 536.4A222.5 185 0 0 1 1799.4 351.4A222.5 185 0 0 1 2021.9 166.4Z" fill="#00009b"/>
<path d="M2021.6 169.6A218.2 181.5 0 0 1 2239.8 351.1A218.2 181.5 0 0 1 2021.6 532.6A218.2 181.5 0 0 1 1803.4 351.1A218.2 181.5 0 0 1 2021.6 169.6Z" fill="#0000a1"/>
<path d="M2021.2 172.9A213.9 178 0 0 1 2235.2 350.9A213.9 178 0 0 1 2021.2 528.9A213.9 178 0 0 1 1807.3 350.9A213.9 178 0 0 1 2021.2 172.9Z" fill="#0000a7"/>
<path d="M2020.9 176.2A209.6 174.5 0 0 1 2230.5 350.6A209.6 174.5 0 0 1 2020.9 525.1A209.6 174.5 0 0 1 1811.3 350.6A209.6 174.5 0 0 1 2020.9 176.2Z" fill="#0000ae"/>
<path d="M2020.5 179.4A205.3 171 0 0 1 2225.8 350.4A205.3 171 0 0 1 2020.5 521.4A205.3 171 0 0 1 1815.3 350.4A205.3 171 0 0 1 2020.5 179.4Z" fill="#0000b5"/>
<path d="M2020.2 182.7A201 167.5 0 0 1 2221.2 350.2A201 167.5 0 0 1 2020.2 517.7A201 167.5 0 0 1 1819.2 350.2A201 167.5 0 0 1 2020.2 182.7Z" fill="#0000bc"/>
<path d="M2019.8 185.9A196.7 164 0 0 1 2216.5 349.9A196.7 164 0 0 1 2019.8 513.9A196.7 164 0 0 1 1823.2 349.9A196.7 164 0 0 1 2019.8 185.9Z" fill="#0000c2"/>
<path d="M2019.5 189.2A192.4 160.5 0 0 1 2211.9 349.7A192.4 160.5 0 0 1 2019.5 510.2A192.4 160.5 0 0 1 1827.1 349.7A192.4 160.5 0 0 1 2019.5 189.2Z" fill="#0000c7"/>
<path d="M2019.2 192.5A188.1 157 0 0 1 2207.2 349.5A188.1 157 0 0 1 2019.2 506.5A188.1 157 0 0 1 1831.1 349.5A188.1 157 0 0 1 2019.2 192.5Z" fill="#0000cb"/>
<path d="M2018.8 195.7A183.8 153.5 0 0 1 2202.6 349.2A183.8 153.5 0 0 1 2018.8 502.7A183.8 153.5 0 0 1 1835 349.2A183.8 153.5 0 0 1 2018.8 195.7Z" fill="#0000cd"/>
<path d="M2018.5 199A179.5 150 0 0 1 2197.9 349A179.5 150 0 0 1 2018.5 499A179.5 150 0 0 1 1839 349A179.5 150 0 0 1 2018.5 199Z" fill="#0000ce"/>
<path d="M2018.9 202.5A175.3 146.5 0 0 1 2194.2 349A175.3 146.5 0 0 1 2018.9 495.5A175.3 146.5 0 0 1 1843.7 349A175.3 146.5 0 0 1 2018.9 202.5Z" fill="#0000d0"/>
<path d="M2019.4 206A171.1 143 0 0 1 2190.4 349A171.1 143 0 0 1 2019.4 492A171.1 143 0 0 1 1848.3 349A171.1 143 0 0 1 2019.4 206Z" fill="#0000ce"/>
<path d="M2019.9 209.5A166.9 139.5 0 0 1 2186.7 349A166.9 139.5 0 0 1 2019.9 488.5A166.9 139.5 0 0 1 1853 349A166.9 139.5 0 0 1 2019.9 209.5Z" fill="#0000ca"/>
<path d="M2020.3 213A162.7 136 0 0 1 2183 349A162.7 136 0 0 1 2020.3 485.1A162.7 136 0 0 1 1857.7 349A162.7 136 0 0 1 2020.3 213Z" fill="#0000c5"/>
<path d="M2020.8 216.5A158.5 132.6 0 0 1 2179.3 349A158.5 132.6 0 0 1 2020.8 481.6A158.5 132.6 0 0 1 1862.3 349A158.5 132.6 0 0 1 2020.8 216.5Z" fill="#0000bf"/>
<path d="M2021.3 220A154.3 129.1 0 0 1 2175.5 349A154.3 129.1 0 0 1 2021.3 478.1A154.3 129.1 0 0 1 1867 349A154.3 129.1 0 0 1 2021.3 220Z" fill="#0000b9"/>
<path d="M2021.7 223.4A150.1 125.6 0 0 1 2171.8 349A150.1 125.6 0 0 1 2021.7 474.6A150.1 125.6 0 0 1 1871.7 349A150.1 125.6 0 0 1 2021.7 223.4Z" fill="#0000b2"/>
<path d="M2022.2 226.9A145.9 122.1 0 0 1 2168.1 349A145.9 122.1 0 0 1 2022.2 471.1A145.9 122.1 0 0 1 1876.3 349A145.9 122.1 0 0 1 2022.2 226.9Z" fill="#0000ab"/>
<path d="M2022.7 230.4A141.7 118.6 0 0 1 2164.3 349A141.7 118.6 0 0 1 2022.7 467.6A141.7 118.6 0 0 1 1881 349A141.7 118.6 0 0 1 2022.7 230.4Z" fill="#0000a4"/>
<path d="M2023.1 233.9A137.5 115.1 0 0 1 2160.6 349A137.5 115.1 0 0 1 2023.1 464.1A137.5 115.1 0 0 1 1885.6 349A137.5 115.1 0 0 1 2023.1 233.9Z" fill="#00009e"/>
<path d="M2023.6 237.4A133.3 111.6 0 0 1 2156.9 349A133.3 111.6 0 0 1 2023.6 460.7A133.3 111.6 0 0 1 1890.3 349A133.3 111.6 0 0 1 2023.6 237.4Z" fill="#000099"/>
<path d="M2024.1 240.9A129.1 108.1 0 0 1 2153.2 349A129.1 108.1 0 0 1 2024.1 457.2A129.1 108.1 0 0 1 1895 349A129.1 108.1 0 0 1 2024.1 240.9Z" fill="#000096"/>
<path d="M2024.5 244.4A124.9 104.6 0 0 1 2149.4 349A124.9 104.6 0 0 1 2024.5 453.7A124.9 104.6 0 0 1 1899.6 349A124.9 104.6 0 0 1 2024.5 244.4Z" fill="#000093"/>
<path d="M2025 247.9A120.7 101.2 0 0 1 2145.7 349.1A120.7 101.1 0 0 1 2025 450.2A120.7 101.1 0 0 1 1904.3 349.1A120.7 101.2 0 0 1 2025 247.9Z" fill="#000092"/>
<path d="M2021.7 261.3A106.6 89.4 0 0 1 2128.3 350.7A106.6 88.2 0 0 1 2021.7 438.9A103.8 88.2 0 0 1 1917.9 350.7A103.8 89.4 0 0 1 2021.7 261.3Z" fill="#0000a4"/>
<path d="M2021.7 268.3A98 82.4 0 0 1 2119.7 350.7A98 82 0 0 1 2021.7 432.7A96.4 82 0 0 1 1925.3 350.7A96.4 82.4 0 0 1 2021.7 268.3Z" fill="#0000b2"/>
<path d="M2021.7 271.4A94.5 79.3 0 0 1 2116.2 350.7A94.5 79 0 0 1 2021.7 429.7A93 79 0 0 1 1928.7 350.7A93 79.3 0 0 1 2021.7 271.4Z" fill="#0000c0"/>
<path d="M2021.7 274A91.7 76.7 0 0 1 2113.4 350.7A91.7 76.5 0 0 1 2021.7 427.2A90.2 76.5 0 0 1 1931.5 350.7A90.2 76.7 0 0 1 2021.7 274Z" fill="#0000ce"/>
<path d="M2021.7 276A89.5 74.7 0 0 1 2111.2 350.7A89.5 74.5 0 0 1 2021.7 425.2A88 74.5 0 0 1 1933.7 350.7A88 74.7 0 0 1 2021.7 276Z" fill="#0000dc"/>
<path d="M2021.7 277.6A87.7 73.1 0 0 1 2109.4 350.7A87.7 72.9 0 0 1 2021.7 423.6A86.2 72.9 0 0 1 1935.5 350.7A86.2 73.1 0 0 1 2021.7 277.6Z" fill="#0000ea"/>
<path d="M2021.7 279.1A86.2 71.6 0 0 1 2107.9 350.7A86.2 71.5 0 0 1 2021.7 422.2A84.7 71.5 0 0 1 1937 350.7A84.7 71.6 0 0 1 2021.7 279.1Z" fill="#0000f8"/>
<path d="M2021.7 280.5A84.8 70.2 0 0 1 2106.5 350.7A84.8 70.1 0 0 1 2021.7 420.8A83.2 70.1 0 0 1 1938.5 350.7A83.2 70.2 0 0 1 2021.7 280.5Z" fill="#0008ff"/>
<path d="M2021.7 281.9A83.4 68.8 0 0 1 2105.1 350.7A83.4 68.8 0 0 1 2021.7 419.5A81.7 68.8 0 0 1 1940 350.7A81.7 68.8 0 0 1 2021.7 281.9Z" fill="#0018ff"/>
<path d="M2021.7 283.3A82.1 67.4 0 0 1 2103.8 350.7A82.1 67.5 0 0 1 2021.7 418.2A80.3 67.5 0 0 1 1941.4 350.7A80.3 67.4 0 0 1 2021.7 283.3Z" fill="#0028ff"/>
<path d="M2021.7 284.6A80.9 66.1 0 0 1 2102.6 350.7A80.9 66.3 0 0 1 2021.7 417A79 66.3 0 0 1 1942.7 350.7A79 66.1 0 0 1 2021.7 284.6Z" fill="#0038ff"/>
<path d="M2021.7 285.8A79.8 64.9 0 0 1 2101.5 350.7A79.8 65.2 0 0 1 2021.7 415.9A77.8 65.2 0 0 1 1943.9 350.7A77.8 64.9 0 0 1 2021.7 285.8Z" fill="#0048ff"/>
<path d="M2021.7 287A78.7 63.7 0 0 1 2100.4 350.7A78.7 64.1 0 0 1 2021.7 414.8A76.6 64.1 0 0 1 1945.1 350.7A76.6 63.7 0 0 1 2021.7 287Z" fill="#0058ff"/>
<path d="M2021.7 288.2A77.7 62.5 0 0 1 2099.4 350.7A77.7 63.1 0 0 1 2021.7 413.8A75.4 63.1 0 0 1 1946.3 350.7A75.4 62.5 0 0 1 2021.7 288.2Z" fill="#0068ff"/>
<path d="M2021.7 289.3A76.8 61.4 0 0 1 2098.5 350.7A76.8 62.1 0 0 1 2021.7 412.8A74.3 62.1 0 0 1 1947.4 350.7A74.3 61.4 0 0 1 2021.7 289.3Z" fill="#0078ff"/>
<path d="M2021.7 290.4A75.9 60.3 0 0 1 2097.6 350.7A75.9 61.1 0 0 1 2021.7 411.8A73.3 61.1 0 0 1 1948.4 350.7A73.3 60.3 0 0 1 2021.7 290.4Z" fill="#0087ff"/>
<path d="M2021.7 291.4A75 59.3 0 0 1 2096.7 350.7A75 60.2 0 0 1 2021.7 410.9A72.3 60.2 0 0 1 1949.4 350.7A72.3 59.3 0 0 1 2021.7 291.4Z" fill="#0097ff"/>
<path d="M2021.7 292.5A74.1 58.2 0 0 1 2095.8 350.7A74.1 59.3 0 0 1 2021.7 410A71.3 59.3 0 0 1 1950.4 350.7A71.3 58.2 0 0 1 2021.7 292.5Z" fill="#00a7ff"/>
<path d="M2021.7 293.5A73.3 57.2 0 0 1 2095 350.7A73.3 58.4 0 0 1 2021.7 409.1A70.3 58.4 0 0 1 1951.4 350.7A70.3 57.2 0 0 1 2021.7 293.5Z" fill="#00b7ff"/>
<path d="M2021.7 294.5A72.4 56.2 0 0 1 2094.1 350.7A72.4 57.5 0 0 1 2021.7 408.2A69.3 57.5 0 0 1 1952.4 350.7A69.3 56.2 0 0 1 2021.7 294.5Z" fill="#00c7ff"/>
<path d="M2021.7 295.5A71.5 55.2 0 0 1 2093.2 350.7A71.5 56.6 0 0 1 2021.7 407.3A68.3 56.6 0 0 1 1953.4 350.7A68.3 55.2 0 0 1 2021.7 295.5Z" fill="#00d7ff"/>
<path d="M2021.7 296.5A70.5 54.2 0 0 1 2092.2 350.7A70.5 55.7 0 0 1 2021.7 406.4A67.3 55.7 0 0 1 1954.4 350.7A67.3 54.2 0 0 1 2021.7 296.5Z" fill="#00e7ff"/>
<path d="M2021.7 297.5A69.6 53.2 0 0 1 2091.3 350.7A69.6 54.8 0 0 1 2021.7 405.5A66.3 54.8 0 0 1 1955.4 350.7A66.3 53.2 0 0 1 2021.7 297.5Z" fill="#00f7ff"/>
<path d="M2021.7 298.5A68.5 52.2 0 0 1 2090.2 350.7A68.5 53.8 0 0 1 2021.7 404.5A65.2 53.8 0 0 1 1956.5 350.7A65.2 52.2 0 0 1 2021.7 298.5Z" fill="#00fff6"/>
<path d="M2021.7 299.5A67.4 51.2 0 0 1 2089.1 350.7A67.4 52.8 0 0 1 2021.7 403.5A64.1 52.8 0 0 1 1957.6 350.7A64.1 51.2 0 0 1 2021.7 299.5Z" fill="#00ffe3"/>
<path d="M2021.7 300.6A66.3 50.1 0 0 1 2088 350.7A66.3 51.8 0 0 1 2021.7 402.5A63 51.8 0 0 1 1958.7 350.7A63 50.1 0 0 1 2021.7 300.6Z" fill="#00ffd1"/>
<path d="M2021.7 301.6A65.1 49.1 0 0 1 2086.8 350.7A65.1 50.8 0 0 1 2021.7 401.5A61.9 50.8 0 0 1 1959.8 350.7A61.9 49.1 0 0 1 2021.7 301.6Z" fill="#00ffbe"/>
<path d="M2021.7 302.7A63.9 48 0 0 1 2085.6 350.7A63.9 49.8 0 0 1 2021.7 400.5A60.8 49.8 0 0 1 1960.9 350.7A60.8 48 0 0 1 2021.7 302.7Z" fill="#00ffac"/>
<path d="M2021.7 303.7A62.7 47 0 0 1 2084.4 350.7A62.7 48.7 0 0 1 2021.7 399.4A59.7 48.7 0 0 1 1962 350.7A59.7 47 0 0 1 2021.7 303.7Z" fill="#00ff99"/>
<path d="M2021.7 304.8A61.5 45.9 0 0 1 2083.2 350.7A61.5 47.7 0 0 1 2021.7 398.4A58.6 47.7 0 0 1 1963.1 350.7A58.6 45.9 0 0 1 2021.7 304.8Z" fill="#00ff87"/>
<path d="M2021.7 305.8A60.2 44.9 0 0 1 2081.9 350.7A60.2 46.7 0 0 1 2021.7 397.4A57.5 46.7 0 0 1 1964.2 350.7A57.5 44.9 0 0 1 2021.7 305.8Z" fill="#00ff74"/>
<path d="M2021.7 306.9A59 43.8 0 0 1 2080.7 350.7A59 45.6 0 0 1 2021.7 396.3A56.3 45.6 0 0 1 1965.4 350.7A56.3 43.8 0 0 1 2021.7 306.9Z" fill="#00f863"/>
<path d="M2021.7 307.9A57.7 42.8 0 0 1 2079.4 350.7A57.7 44.6 0 0 1 2021.7 395.3A55.2 44.6 0 0 1 1966.5 350.7A55.2 42.8 0 0 1 2021.7 307.9Z" fill="#6fff3c"/>
<path d="M2021.7 308.9A56.4 41.8 0 0 1 2078.1 350.7A56.4 43.6 0 0 1 2021.7 394.3A54.1 43.6 0 0 1 1967.6 350.7A54.1 41.8 0 0 1 2021.7 308.9Z" fill="#85ff33"/>
<path d="M2021.7 309.9A55.1 40.8 0 0 1 2076.8 350.7A55.1 42.6 0 0 1 2021.7 393.3A53 42.6 0 0 1 1968.7 350.7A53 40.8 0 0 1 2021.7 309.9Z" fill="#9bff2a"/>
<path d="M2021.7 310.9A53.9 39.8 0 0 1 2075.6 350.7A53.9 41.5 0 0 1 2021.7 392.2A51.8 41.5 0 0 1 1969.9 350.7A51.8 39.8 0 0 1 2021.7 310.9Z" fill="#b2ff20"/>
<path d="M2021.7 311.9A52.6 38.8 0 0 1 2074.3 350.7A52.6 40.5 0 0 1 2021.7 391.2A50.7 40.5 0 0 1 1971 350.7A50.7 38.8 0 0 1 2021.7 311.9Z" fill="#c8ff17"/>
<path d="M2021.7 312.9A51.3 37.8 0 0 1 2073 350.7A51.3 39.5 0 0 1 2021.7 390.2A49.6 39.5 0 0 1 1972.1 350.7A49.6 37.8 0 0 1 2021.7 312.9Z" fill="#deff0e"/>
<path d="M2021.7 313.9A50.1 36.8 0 0 1 2071.8 350.7A50.1 38.5 0 0 1 2021.7 389.2A48.4 38.5 0 0 1 1973.3 350.7A48.4 36.8 0 0 1 2021.7 313.9Z" fill="#f4ff05"/>
<path d="M2021.7 314.8A48.9 35.9 0 0 1 2070.6 350.7A48.9 37.5 0 0 1 2021.7 388.2A47.3 37.5 0 0 1 1974.4 350.7A47.3 35.9 0 0 1 2021.7 314.8Z" fill="#fff700"/>
<path d="M2021.7 315.7A47.7 35 0 0 1 2069.4 350.7A47.7 36.5 0 0 1 2021.7 387.2A46.2 36.5 0 0 1 1975.5 350.7A46.2 35 0 0 1 2021.7 315.7Z" fill="#ffe700"/>
<path d="M2021.7 316.6A46.5 34.1 0 0 1 2068.2 350.7A46.5 35.5 0 0 1 2021.7 386.2A45 35.5 0 0 1 1976.7 350.7A45 34.1 0 0 1 2021.7 316.6Z" fill="#ffd700"/>
<path d="M2021.7 317.5A45.4 33.2 0 0 1 2067.1 350.7A45.4 34.6 0 0 1 2021.7 385.3A43.9 34.6 0 0 1 1977.8 350.7A43.9 33.2 0 0 1 2021.7 317.5Z" fill="#ffc700"/>
<path d="M2021.7 318.3A44.2 32.4 0 0 1 2065.9 350.7A44.2 33.6 0 0 1 2021.7 384.3A42.7 33.6 0 0 1 1979 350.7A42.7 32.4 0 0 1 2021.7 318.3Z" fill="#ffb700"/>
<path d="M2021.7 319.2A43.1 31.5 0 0 1 2064.8 350.7A43.1 32.7 0 0 1 2021.7 383.4A41.6 32.7 0 0 1 1980.1 350.7A41.6 31.5 0 0 1 2021.7 319.2Z" fill="#ffa700"/>
<path d="M2021.7 320A41.9 30.7 0 0 1 2063.6 350.7A41.9 31.7 0 0 1 2021.7 382.4A40.4 31.7 0 0 1 1981.3 350.7A40.4 30.7 0 0 1 2021.7 320Z" fill="#ff9700"/>
<path d="M2021.7 320.8A40.8 29.9 0 0 1 2062.5 350.7A40.8 30.7 0 0 1 2021.7 381.4A39.2 30.7 0 0 1 1982.5 350.7A39.2 29.9 0 0 1 2021.7 320.8Z" fill="#ff8700"/>
<path d="M2021.7 321.7A39.6 29 0 0 1 2061.3 350.7A39.6 29.7 0 0 1 2021.7 380.4A38 29.7 0 0 1 1983.7 350.7A38 29 0 0 1 2021.7 321.7Z" fill="#ff7800"/>
<path d="M2021.7 322.5A38.4 28.2 0 0 1 2060.1 350.7A38.4 28.7 0 0 1 2021.7 379.4A36.8 28.7 0 0 1 1984.9 350.7A36.8 28.2 0 0 1 2021.7 322.5Z" fill="#ff6800"/>
<path d="M2021.7 323.4A37.1 27.3 0 0 1 2058.8 350.7A37.1 27.7 0 0 1 2021.7 378.4A35.5 27.7 0 0 1 1986.2 350.7A35.5 27.3 0 0 1 2021.7 323.4Z" fill="#ff5800"/>
<path d="M2021.7 324.3A35.8 26.4 0 0 1 2057.5 350.7A35.8 26.7 0 0 1 2021.7 377.4A34.2 26.7 0 0 1 1987.5 350.7A34.2 26.4 0 0 1 2021.7 324.3Z" fill="#ff4800"/>
<path d="M2021.7 325.3A34.5 25.4 0 0 1 2056.2 350.7A34.5 25.6 0 0 1 2021.7 376.3A32.9 25.6 0 0 1 1988.8 350.7A32.9 25.4 0 0 1 2021.7 325.3Z" fill="#ff3800"/>
<path d="M2021.7 326.3A33.1 24.4 0 0 1 2054.8 350.7A33.1 24.5 0 0 1 2021.7 375.2A31.5 24.5 0 0 1 1990.2 350.7A31.5 24.4 0 0 1 2021.7 326.3Z" fill="#ff2800"/>
<path d="M2021.7 327.3A31.6 23.4 0 0 1 2053.3 350.7A31.6 23.3 0 0 1 2021.7 374A30 23.3 0 0 1 1991.7 350.7A30 23.4 0 0 1 2021.7 327.3Z" fill="#ff1800"/>
<path d="M2021.7 328.5A30 22.2 0 0 1 2051.7 350.7A30 22.1 0 0 1 2021.7 372.8A28.5 22.1 0 0 1 1993.2 350.7A28.5 22.2 0 0 1 2021.7 328.5Z" fill="#ff0800"/>
<path d="M2021.7 329.7A28.4 21 0 0 1 2050.1 350.7A28.4 20.8 0 0 1 2021.7 371.5A26.8 20.8 0 0 1 1994.9 350.7A26.8 21 0 0 1 2021.7 329.7Z" fill="#ff0000"/>
<path d="M2021.7 331A26.6 19.7 0 0 1 2048.3 350.7A26.6 19.4 0 0 1 2021.7 370.1A25.2 19.4 0 0 1 1996.5 350.7A25.2 19.7 0 0 1 2021.7 331Z" fill="#ff0000"/>
<path d="M2021.7 332.4A24.7 18.3 0 0 1 2046.4 350.7A24.7 18 0 0 1 2021.7 368.7A23.4 18 0 0 1 1998.3 350.7A23.4 18.3 0 0 1 2021.7 332.4Z" fill="#ff0000"/>
<path d="M2021.7 333.9A22.7 16.8 0 0 1 2044.4 350.7A22.7 16.5 0 0 1 2021.7 367.2A21.4 16.5 0 0 1 2000.3 350.7A21.4 16.8 0 0 1 2021.7 333.9Z" fill="#eb0000"/>
<path d="M2021.7 335.6A20.4 15.1 0 0 1 2042.1 350.7A20.4 14.9 0 0 1 2021.7 365.6A19.3 14.9 0 0 1 2002.4 350.7A19.3 15.1 0 0 1 2021.7 335.6Z" fill="#d60000"/>
<path d="M2021.7 337.5A17.9 13.2 0 0 1 2039.6 350.7A17.9 13.1 0 0 1 2021.7 363.8A16.9 13.1 0 0 1 2004.8 350.7A16.9 13.2 0 0 1 2021.7 337.5Z" fill="#c10000"/>
<path d="M2021.7 339.6A15 11.1 0 0 1 2036.7 350.7A15 11 0 0 1 2021.7 361.7A14.2 11 0 0 1 2007.5 350.7A14.2 11.1 0 0 1 2021.7 339.6Z" fill="#ac0000"/>
<path d="M2021.7 342.3A11.3 8.4 0 0 1 2033 350.7A11.3 8.3 0 0 1 2021.7 359A10.7 8.3 0 0 1 2011 350.7A10.7 8.4 0 0 1 2021.7 342.3Z" fill="#970000"/>
</g></g>
<rect x="1764.3" y="137.7" width="516.4" height="428.3" fill="none" stroke="#262626" stroke-width="1"/>
<path d="M1816.63 137.2v5.8 M1816.63 566.5v-5.8 M1763.8 522.67h5.8 M2281.2 522.67h-5.8 M2022.5 137.2v5.8 M2022.5 566.5v-5.8 M1763.8 351.85h5.8 M2281.2 351.85h-5.8 M2228.37 137.2v5.8 M2228.37 566.5v-5.8 M1763.8 181.03h5.8 M2281.2 181.03h-5.8" stroke="#262626" stroke-width="1.1" fill="none"/>
<text x="1810.23" y="618.1" font-size="43.3" text-anchor="middle" fill="#262626">−0.5</text>
<text x="2022.5" y="618.1" font-size="43.3" text-anchor="middle" fill="#262626">0</text>
<text x="2228.37" y="618.1" font-size="43.3" text-anchor="middle" fill="#262626">0.5</text>
<text x="1751.5" y="538.17" font-size="43.3" text-anchor="end" fill="#262626">−0.5</text>
<text x="1751.5" y="367.35" font-size="43.3" text-anchor="end" fill="#262626">0</text>
<text x="1751.5" y="196.53" font-size="43.3" text-anchor="end" fill="#262626">0.5</text>
<text y="670.3" font-size="42.3" fill="#262626"><tspan x="1957.2">x</tspan><tspan x="1990.2" font-size="39.34" dy="-0.6">(</tspan><tspan x="2009.1" dy="0.1" font-style="italic" font-weight="normal" font-size="47.38" stroke="#262626" stroke-width="0.5">μ</tspan><tspan x="2038.1" dy="0.5">m</tspan><tspan x="2072.7" font-size="39.34" dy="-0.6">)</tspan></text>
<g transform="translate(1670 352.65) rotate(-90)"><text y="0" font-size="42.3" fill="#262626"><tspan x="-65.3">y</tspan><tspan x="-32.3" font-size="39.34" dy="-0.6">(</tspan><tspan x="-13.4" dy="0.1" font-style="italic" font-weight="normal" font-size="47.38" stroke="#262626" stroke-width="0.5">μ</tspan><tspan x="15.6" dy="0.5">m</tspan><tspan x="50.2" font-size="39.34" dy="-0.6">)</tspan></text></g>
</g>
<!-- panel (d) -->
<g id="panel-d">
<g clip-path="url(#clip_d)"><g filter="url(#ph_d)">
<rect x="120" y="731" width="560" height="470" fill="#969696"/>
<path d="M258.3 802.9l12.2-6.2 16.3-4.9 16.3-2.5 16.3-0.8 16.3 1.6 16.3 4.1 13.1 7.4 5.7 4 10.6 18.8 8.1 24.5 4.9 24.4 2.5 24.5 1.6 32.6 0 14.6-0.3 21-0.6 24-0.1 30 0.3 30 1 22 3.3 16.3 5.7 18 8.1 19.5 9 17.2 0 57-304.9 0 0-397.1z" fill="#8f8f8f"/>
<g filter="url(#hb2_d)">
<path d="M154.6 906.9l-5.4 11-5.5 10.9-5.5 11.1-2.7 6.6-4.5 9.2 0 77.6 3.9 8.4 5.1 10.1 9 12 10.2 12.8 8.6 8.7 16.5 14.9 16.5 13.9 16.5 13.2 16.5 12.4 16.6 11.6 16.7 10 16.8 8.5 16.9 6.7 16.9 5.1 16.8 3.3 13 1.7 12.6 3.1 22.8 7 29.6 9.8 34.7 14.9 26.4-61.5-33.5-25.2-31.9-17.1-24.3-11.5-20.2-5-14.8-2-10.2-1.9-9.2-2.8-10.6-2.1-11.7-3.6-12.7-5.3-14.4-7.7-15.7-9.3-14.7-11.8-14.7-12.4-14.5-13-3.3-3.3-9-8.1-8.3-4.1-5.7-3.3-1.2 20.5-5.1-72.6-8.5 10.1-5.8-12.1-5.7-15.5-3.4-15.3-0.9-14.2z" fill="#909090"/>
<path d="M154.6 906.9l-5.4 11-5.5 10.9-5.5 11.1-2.7 6.6-4.5 9.2 0 77.6 3.9 8.4 5.1 10.1 9 12 10.2 12.8 8.6 8.7 16.5 14.9 16.5 13.9 16.5 13.2 16.5 12.4 16.6 11.6 16.7 10 16.8 8.5 16.9 6.7 16.9 5.1 16.8 3.3 13 1.7 12.6 3.1 22.8 7 29.6 9.8 34.7 14.9 24.1-56.1-33.6-24.2-31.8-16.4-24.2-11.1-19.4-4.8-14.7-2-10.8-2-9.9-3-11.2-2.5-12.1-4.1-13-5.7-14.6-8.1-15.8-9.5-14.9-12-14.8-12.5-14.7-13.2-3.8-3.8-9-8.5-8.4-4.8-5.6-3.9-1.4 17.9-4.6-73-7.3 8.4-4.9-11.6-4.7-14.9-2.5-15-0.3-13.8z" fill="#929292"/>
<path d="M154.6 906.9l-5.4 11-5.5 10.9-5.5 11.1-2.7 6.6-4.5 9.2 0 77.6 3.9 8.4 5.1 10.1 9 12 10.2 12.8 8.6 8.7 16.5 14.9 16.5 13.9 16.5 13.2 16.5 12.4 16.6 11.6 16.7 10 16.8 8.5 16.9 6.7 16.9 5.1 16.8 3.3 13 1.7 12.6 3.1 22.8 7 29.6 9.8 34.7 14.9 21.9-50.9-33.8-23.3-31.6-15.6-24-10.7-18.8-4.7-14.6-1.9-11.3-2.2-10.6-3.2-11.7-2.9-12.5-4.5-13.4-6.2-14.8-8.4-15.8-9.8-15.1-12.1-15-12.7-14.8-13.3-4.2-4.2-9.2-8.9-8.4-5.6-5.5-4.5-1.6 15.5-4.1-73.5-6.2 7-4.1-11.1-3.6-14.6-1.7-14.5 0.4-13.5z" fill="#949494"/>
<path d="M154.6 906.9l-5.4 11-5.5 10.9-5.5 11.1-2.7 6.6-4.5 9.2 0 77.6 3.9 8.4 5.1 10.1 9 12 10.2 12.8 8.6 8.7 16.5 14.9 16.5 13.9 16.5 13.2 16.5 12.4 16.6 11.6 16.7 10 16.8 8.5 16.9 6.7 16.9 5.1 16.8 3.3 13 1.7 12.6 3.1 22.8 7 29.6 9.8 34.7 14.9 19.8-46-34-22.3-31.3-15-24-10.3-18.2-4.5-14.4-1.9-11.9-2.3-11.2-3.4-12.2-3.3-12.9-4.9-13.8-6.6-14.9-8.7-15.9-10.1-15.2-12.2-15.2-12.8-14.9-13.5-4.7-4.7-9.2-9.3-8.4-6.2-5.5-5.1-1.8 13.2-3.6-73.9-5.1 5.5-3.3-10.7-2.6-14.1-0.9-14.1 0.9-13.3z" fill="#969696"/>
<path d="M374.9 811.3l4.6-3.5 7-1.9 12.4-3.1 15.1-0.4 15.5 2 15.9 3.1 16.1 4.1 16.2 4 15.9 4.8 15.9 6.3 16 7.3 15.9 7.9 15.9 9.6 15.9 11.1 15.9 12.7 12.3 12.3 9.1 13.6 6.8 15.2 3.8 15.4 2.3 15.4 0 18.5-1.5 15.4-3.9 15.5-5.5 15.7-7.1 15.8-8.7 15.9-10.4 16-11.3 16.2-11.4 16.2-10.6 14.7 7.3 5.3 13.9-12.4 14.7-14.1 14.8-14.2 14.4-14.8 13.3-15.9 10.8-16.8 9.3-17.5 6.9-19.2 4-20.1 1.9-23 0-21.2-0.8-23-4.9-25.6-9.4-26.5-12.3-26.6-14.4-24.5-14.5-23.5-16-23.6-12-30.6-10.9-32.4-17.1-33.6-19.3-37.2-12.3-39.2-11.2-54.3-22.4-70.6-50.9-96.1-107.4-115.7-120.2-118.5-170.7-44.9-192.3-1.8z" fill="#979797"/>
<path d="M154.6 906.9l-5.4 11-5.5 10.9-5.5 11.1-2.7 6.6-4.5 9.2 0 77.6 3.9 8.4 5.1 10.1 9 12 10.2 12.8 8.6 8.7 16.5 14.9 16.5 13.9 16.5 13.2 16.5 12.4 16.6 11.6 16.7 10 16.8 8.5 16.9 6.7 16.9 5.1 16.8 3.3 13 1.7 12.6 3.1 22.8 7 29.6 9.8 34.7 14.9 17.7-41.2-34-21.4-31.3-14.5-23.8-9.9-17.6-4.3-14.2-1.9-12.4-2.4-11.8-3.6-12.8-3.7-13.3-5.3-14-7-15.2-9-15.9-10.3-15.3-12.3-15.3-13-15.2-13.6-5-5.1-9.4-9.7-8.4-6.9-5.4-5.5-1.9 10.9-3.2-74.3-4 4.1-2.6-10.2-1.6-13.8-0.2-13.7 1.5-13z" fill="#989898"/>
<path d="M374.9 811.3l4.6-3.5 7-1.9 12.4-3.1 15.1-0.4 15.5 2 15.9 3.1 16.1 4.1 16.2 4 15.9 4.8 15.9 6.3 16 7.3 15.9 7.9 15.9 9.6 15.9 11.1 15.9 12.7 12.3 12.3 9.1 13.6 6.8 15.2 3.8 15.4 2.3 15.4 0 18.5-1.5 15.4-3.9 15.5-5.5 15.7-7.1 15.8-8.7 15.9-10.4 16-11.3 16.2-11.4 16.2-10.6 14.7 7.2 5.2 13.5-12.6 14.4-14.3 14.5-14.4 14.1-15 12.9-15.9 10.5-16.8 8.9-17.4 6.6-18.9 3.8-19.7 1.8-22.7-0.3-20.8-1-22.3-5.2-24.7-9.4-25.5-12.4-25.3-14.6-23.4-14.7-22.4-16-22.3-12.3-28.5-11.5-30.1-17-31.1-19-34.3-12.7-35.9-11.7-49.7-21.8-64.3-47.7-87.4-98.9-104.9-110.4-107.3-155.6-40.5-175.1-1.3z" fill="#989898"/>
<path d="M374.9 811.3l4.6-3.5 7-1.9 12.4-3.1 15.1-0.4 15.5 2 15.9 3.1 16.1 4.1 16.2 4 15.9 4.8 15.9 6.3 16 7.3 15.9 7.9 15.9 9.6 15.9 11.1 15.9 12.7 12.3 12.3 9.1 13.6 6.8 15.2 3.8 15.4 2.3 15.4 0 18.5-1.5 15.4-3.9 15.5-5.5 15.7-7.1 15.8-8.7 15.9-10.4 16-11.3 16.2-11.4 16.2-10.6 14.7 7 5.1 13.3-12.9 14.1-14.4 14.2-14.6 13.7-15.1 12.5-16 10.2-16.7 8.6-17.3 6.4-18.7 3.6-19.3 1.6-22.4-0.5-20.3-1.3-21.7-5.4-24-9.5-24.4-12.5-24.1-14.7-22.4-14.8-21.3-16.1-21.1-12.7-26.5-11.9-27.9-17-28.7-18.8-31.3-13-32.9-12.1-45.1-21.3-58.4-44.6-79-90.9-94.6-100.8-96.5-141.2-36.3-158.5-0.7z" fill="#9a9a9a"/>
<path d="M154.6 906.9l-5.4 11-5.5 10.9-5.5 11.1-2.7 6.6-4.5 9.2 0 77.6 3.9 8.4 5.1 10.1 9 12 10.2 12.8 8.6 8.7 16.5 14.9 16.5 13.9 16.5 13.2 16.5 12.4 16.6 11.6 16.7 10 16.8 8.5 16.9 6.7 16.9 5.1 16.8 3.3 13 1.7 12.6 3.1 22.8 7 29.6 9.8 34.7 14.9 15.8-36.7-34.2-20.6-31.1-13.8-23.7-9.5-17-4.3-14.1-1.8-12.9-2.5-12.4-3.8-13.2-4-13.7-5.7-14.3-7.4-15.3-9.3-16-10.6-15.5-12.4-15.4-13-15.3-13.8-5.5-5.5-9.4-10.1-8.4-7.4-5.4-6.2-2 8.9-2.8-74.7-3 2.7-1.9-9.7-0.7-13.4 0.6-13.4 2-12.7z" fill="#9b9b9b"/>
<path d="M374.9 811.3l4.6-3.5 7-1.9 12.4-3.1 15.1-0.4 15.5 2 15.9 3.1 16.1 4.1 16.2 4 15.9 4.8 15.9 6.3 16 7.3 15.9 7.9 15.9 9.6 15.9 11.1 15.9 12.7 12.3 12.3 9.1 13.6 6.8 15.2 3.8 15.4 2.3 15.4 0 18.5-1.5 15.4-3.9 15.5-5.5 15.7-7.1 15.8-8.7 15.9-10.4 16-11.3 16.2-11.4 16.2-10.6 14.7 6.9 5 13-13.1 13.8-14.6 13.9-14.8 13.4-15.2 12.1-16 9.9-16.7 8.4-17.2 6.1-18.4 3.3-19 1.5-22.1-0.7-19.9-1.6-21.2-5.6-23.1-9.5-23.4-12.5-23-14.9-21.4-15-20.3-16.1-19.9-13.1-24.6-12.4-25.7-16.8-26.4-18.6-28.6-13.4-29.9-12.5-40.9-20.8-52.6-41.7-71-83-84.8-91.8-86.1-127.4-32.2-142.6-0.3z" fill="#9b9b9b"/>
<path d="M374.9 811.3l4.6-3.5 7-1.9 12.4-3.1 15.1-0.4 15.5 2 15.9 3.1 16.1 4.1 16.2 4 15.9 4.8 15.9 6.3 16 7.3 15.9 7.9 15.9 9.6 15.9 11.1 15.9 12.7 12.3 12.3 9.1 13.6 6.8 15.2 3.8 15.4 2.3 15.4 0 18.5-1.5 15.4-3.9 15.5-5.5 15.7-7.1 15.8-8.7 15.9-10.4 16-11.3 16.2-11.4 16.2-10.6 14.7 6.8 4.9 12.7-13.2 13.5-14.9 13.7-14.9 13.1-15.4 11.7-16 9.6-16.7 8.1-17 5.9-18.2 3.2-18.8 1.2-21.7-0.8-19.5-1.9-20.6-5.8-22.4-9.5-22.5-12.7-21.8-15-20.5-15.1-19.3-16.1-18.8-13.5-22.8-12.8-23.7-16.8-24.2-18.3-26-13.7-27-13-36.8-20.3-47.1-38.8-63.5-75.7-75.3-83.1-76.2-114.2-28.4-127.4 0.2z" fill="#9d9d9d"/>
<path d="M154.6 906.9l-5.4 11-5.5 10.9-5.5 11.1-2.7 6.6-4.5 9.2 0 77.6 3.9 8.4 5.1 10.1 9 12 10.2 12.8 8.6 8.7 16.5 14.9 16.5 13.9 16.5 13.2 16.5 12.4 16.6 11.6 16.7 10 16.8 8.5 16.9 6.7 16.9 5.1 16.8 3.3 13 1.7 12.6 3.1 22.8 7 29.6 9.8 34.7 14.9 13.9-32.4-34.3-19.8-30.9-13.3-23.6-9.2-16.5-4-13.9-1.9-13.4-2.6-13-3.9-13.6-4.4-14.1-6.1-14.6-7.6-15.4-9.7-16-10.8-15.6-12.5-15.6-13.1-15.4-14-5.9-5.8-9.5-10.4-8.4-8.1-5.3-6.6-2.2 6.8-2.4-74.9-2 1.4-1.2-9.4 0.1-13 1.3-13 2.5-12.5z" fill="#9e9e9e"/>
<path d="M374.9 811.3l4.6-3.5 7-1.9 12.4-3.1 15.1-0.4 15.5 2 15.9 3.1 16.1 4.1 16.2 4 15.9 4.8 15.9 6.3 16 7.3 15.9 7.9 15.9 9.6 15.9 11.1 15.9 12.7 12.3 12.3 9.1 13.6 6.8 15.2 3.8 15.4 2.3 15.4 0 18.5-1.5 15.4-3.9 15.5-5.5 15.7-7.1 15.8-8.7 15.9-10.4 16-11.3 16.2-11.4 16.2-10.6 14.7 6.6 4.8 12.5-13.4 13.3-15 13.4-15.1 12.8-15.5 11.4-16.1 9.4-16.6 7.7-17 5.7-17.9 3-18.5 1.1-21.4-1-19.2-2.2-20.1-5.9-21.6-9.6-21.6-12.7-20.8-15.2-19.6-15.2-18.4-16.2-17.7-13.8-21-13.2-21.8-16.7-22.1-18.1-23.5-14-24.3-13.4-32.9-19.8-42-36.2-56.1-68.6-66.4-74.9-66.8-101.6-24.8-113 0.7z" fill="#a0a0a0"/>
<path d="M374.9 811.3l4.6-3.5 7-1.9 12.4-3.1 15.1-0.4 15.5 2 15.9 3.1 16.1 4.1 16.2 4 15.9 4.8 15.9 6.3 16 7.3 15.9 7.9 15.9 9.6 15.9 11.1 15.9 12.7 12.3 12.3 9.1 13.6 6.8 15.2 3.8 15.4 2.3 15.4 0 18.5-1.5 15.4-3.9 15.5-5.5 15.7-7.1 15.8-8.7 15.9-10.4 16-11.3 16.2-11.4 16.2-10.6 14.7 6.5 4.7 12.3-13.6 13-15.1 13.1-15.3 12.5-15.6 11.2-16.1 9.1-16.6 7.5-16.9 5.4-17.7 2.8-18.2 1-21.1-1.2-18.8-2.4-19.7-6.1-20.9-9.6-20.7-12.7-19.8-15.4-18.8-15.4-17.5-16.1-16.7-14.1-19.4-13.7-19.9-16.6-20.1-17.9-21.2-14.3-21.7-13.7-29.3-19.4-37-33.7-49.3-62-57.8-67-57.9-89.7-21.3-99.4 1.1z" fill="#a2a2a2"/>
<path d="M154.6 906.9l-5.4 11-5.5 10.9-5.5 11.1-2.7 6.6-4.5 9.2 0 77.6 3.9 8.4 5.1 10.1 9 12 10.2 12.8 8.6 8.7 16.5 14.9 16.5 13.9 16.5 13.2 16.5 12.4 16.6 11.6 16.7 10 16.8 8.5 16.9 6.7 16.9 5.1 16.8 3.3 13 1.7 12.6 3.1 22.8 7 29.6 9.8 34.7 14.9 12.2-28.4-34.4-19-30.8-12.8-23.5-8.8-15.9-4-13.9-1.8-13.8-2.7-13.5-4.1-14-4.7-14.5-6.4-14.8-8-15.6-9.9-16-11.1-15.8-12.5-15.6-13.3-15.6-14-6.2-6.3-9.6-10.7-8.5-8.6-5.2-7-2.3 4.9-2-75.3-1.1 0.2-0.6-8.9 0.9-12.7 2-12.7 2.9-12.3z" fill="#a3a3a3"/>
<path d="M374.9 811.3l4.6-3.5 7-1.9 12.4-3.1 15.1-0.4 15.5 2 15.9 3.1 16.1 4.1 16.2 4 15.9 4.8 15.9 6.3 16 7.3 15.9 7.9 15.9 9.6 15.9 11.1 15.9 12.7 12.3 12.3 9.1 13.6 6.8 15.2 3.8 15.4 2.3 15.4 0 18.5-1.5 15.4-3.9 15.5-5.5 15.7-7.1 15.8-8.7 15.9-10.4 16-11.3 16.2-11.4 16.2-10.6 14.7 6.4 4.6 12-13.7 12.8-15.3 12.9-15.4 12.3-15.7 10.8-16.2 8.9-16.5 7.2-16.8 5.3-17.6 2.6-17.9 0.9-20.9-1.4-18.4-2.6-19.2-6.3-20.3-9.6-19.9-12.8-18.8-15.5-18.1-15.5-16.6-16.2-15.8-14.4-17.8-14-18.2-16.6-18.3-17.6-18.9-14.7-19.3-14-25.8-19-32.4-31.3-42.8-55.7-49.8-59.6-49.5-78.5-18-86.5 1.5z" fill="#a6a6a6"/>
<path d="M154.6 906.9l-5.4 11-5.5 10.9-5.5 11.1-2.7 6.6-4.5 9.2 0 77.6 3.9 8.4 5.1 10.1 9 12 10.2 12.8 8.6 8.7 16.5 14.9 16.5 13.9 16.5 13.2 16.5 12.4 16.6 11.6 16.7 10 16.8 8.5 16.9 6.7 16.9 5.1 16.8 3.3 13 1.7 12.6 3.1 22.8 7 29.6 9.8 34.7 14.9 10.6-24.6-34.5-18.4-30.6-12.3-23.5-8.5-15.5-3.8-13.7-1.8-14.2-2.8-14-4.2-14.4-5.1-14.8-6.6-15.1-8.4-15.7-10.1-16.1-11.3-15.8-12.6-15.8-13.4-15.7-14.1-6.5-6.6-9.7-11-8.5-9.1-5.1-7.5-2.5 3.1-1.6-75.5-0.3-1 0-8.6 1.7-12.3 2.6-12.4 3.3-12.1z" fill="#a9a9a9"/>
<path d="M374.9 811.3l4.6-3.5 7-1.9 12.4-3.1 15.1-0.4 15.5 2 15.9 3.1 16.1 4.1 16.2 4 15.9 4.8 15.9 6.3 16 7.3 15.9 7.9 15.9 9.6 15.9 11.1 15.9 12.7 12.3 12.3 9.1 13.6 6.8 15.2 3.8 15.4 2.3 15.4 0 18.5-1.5 15.4-3.9 15.5-5.5 15.7-7.1 15.8-8.7 15.9-10.4 16-11.3 16.2-11.4 16.2-10.6 14.7 6.3 4.5 11.8-13.8 12.6-15.5 12.7-15.5 12-15.8 10.5-16.2 8.6-16.5 7.1-16.7 5.1-17.4 2.5-17.7 0.7-20.6-1.5-18.2-2.9-18.7-6.4-19.7-9.7-19.1-12.8-18-15.6-17.3-15.6-15.8-16.2-14.9-14.7-16.4-14.4-16.6-16.5-16.5-17.5-16.8-14.9-17-14.4-22.6-18.5-28-29.1-36.7-49.8-42.3-52.7-41.6-68-15-74.4 1.9z" fill="#aaaaaa"/>
<path d="M374.9 811.3l4.6-3.5 7-1.9 12.4-3.1 15.1-0.4 15.5 2 15.9 3.1 16.1 4.1 16.2 4 15.9 4.8 15.9 6.3 16 7.3 15.9 7.9 15.9 9.6 15.9 11.1 15.9 12.7 12.3 12.3 9.1 13.6 6.8 15.2 3.8 15.4 2.3 15.4 0 18.5-1.5 15.4-3.9 15.5-5.5 15.7-7.1 15.8-8.7 15.9-10.4 16-11.3 16.2-11.4 16.2-10.6 14.7 6.2 4.5 11.6-14 12.4-15.6 12.5-15.7 11.8-15.9 10.3-16.2 8.3-16.4 6.9-16.7 4.9-17.2 2.3-17.5 0.6-20.4-1.6-17.8-3.1-18.4-6.6-19.1-9.7-18.4-12.8-17.2-15.7-16.6-15.8-15.1-16.2-14-14.9-15.1-14.7-15.1-16.5-14.8-17.3-14.9-15.1-14.9-14.7-19.5-18.2-23.9-27-31.1-44.3-35.2-46.2-34.3-58.2-12.1-63.2 2.2z" fill="#b0b0b0"/>
<path d="M154.6 906.9l-5.4 11-5.5 10.9-5.5 11.1-2.7 6.6-4.5 9.2 0 77.6 3.9 8.4 5.1 10.1 9 12 10.2 12.8 8.6 8.7 16.5 14.9 16.5 13.9 16.5 13.2 16.5 12.4 16.6 11.6 16.7 10 16.8 8.5 16.9 6.7 16.9 5.1 16.8 3.3 13 1.7 12.6 3.1 22.8 7 29.6 9.8 34.7 14.9 9.1-21.1-34.6-17.7-30.5-11.9-23.4-8.2-15-3.7-13.6-1.8-14.7-2.9-14.4-4.3-14.8-5.3-15-7-15.4-8.6-15.8-10.4-16.1-11.4-16-12.8-15.8-13.4-15.8-14.3-6.9-6.9-9.7-11.3-8.5-9.5-5.1-7.9-2.6 1.4-1.3-75.8 0.5-2 0.5-8.2 2.5-12.1 3.1-12.1 3.7-11.8z" fill="#b3b3b3"/>
<path d="M374.9 811.3l4.6-3.5 7-1.9 12.4-3.1 15.1-0.4 15.5 2 15.9 3.1 16.1 4.1 16.2 4 15.9 4.8 15.9 6.3 16 7.3 15.9 7.9 15.9 9.6 15.9 11.1 15.9 12.7 12.3 12.3 9.1 13.6 6.8 15.2 3.8 15.4 2.3 15.4 0 18.5-1.5 15.4-3.9 15.5-5.5 15.7-7.1 15.8-8.7 15.9-10.4 16-11.3 16.2-11.4 16.2-10.6 14.7 6.1 4.4 11.4-14.1 12.3-15.8 12.2-15.7 11.6-16 10.1-16.2 8.2-16.5 6.6-16.6 4.7-17 2.3-17.2 0.4-20.3-1.8-17.5-3.2-18-6.7-18.6-9.7-17.7-12.9-16.4-15.8-16-15.9-14.5-16.2-13.2-15.2-13.8-15-13.7-16.5-13.3-17-13.1-15.4-12.9-15-16.8-17.9-20.1-25-25.8-39.2-28.8-40.3-27.5-49.1-9.5-52.7 2.6z" fill="#bababa"/>
<path d="M154.6 906.9l-5.4 11-5.5 10.9-5.5 11.1-2.7 6.6-4.5 9.2 0 77.6 3.9 8.4 5.1 10.1 9 12 10.2 12.8 8.6 8.7 16.5 14.9 16.5 13.9 16.5 13.2 16.5 12.4 16.6 11.6 16.7 10 16.8 8.5 16.9 6.7 16.9 5.1 16.8 3.3 13 1.7 12.6 3.1 22.8 7 29.6 9.8 34.7 14.9 7.7-17.9-34.7-17.1-30.4-11.5-23.2-7.9-14.7-3.7-13.5-1.7-15-3-14.8-4.4-15.1-5.6-15.4-7.3-15.5-8.8-15.9-10.6-16.2-11.6-16-12.9-16-13.5-15.9-14.3-7.1-7.2-9.8-11.6-8.6-9.9-4.9-8.3-2.8 0-1-76.1 1.2-3 1-7.9 3.1-11.8 3.7-11.9 4.1-11.6z" fill="#c0c0c0"/>
<path d="M374.9 811.3l4.6-3.5 7-1.9 12.4-3.1 15.1-0.4 15.5 2 15.9 3.1 16.1 4.1 16.2 4 15.9 4.8 15.9 6.3 16 7.3 15.9 7.9 15.9 9.6 15.9 11.1 15.9 12.7 12.3 12.3 9.1 13.6 6.8 15.2 3.8 15.4 2.3 15.4 0 18.5-1.5 15.4-3.9 15.5-5.5 15.7-7.1 15.8-8.7 15.9-10.4 16-11.3 16.2-11.4 16.2-10.6 14.7 6 4.3 11.3-14.2 12-15.8 12.1-15.9 11.4-16 9.9-16.3 8-16.4 6.4-16.6 4.6-16.9 2.1-17 0.4-20.1-1.9-17.3-3.4-17.6-6.9-18.2-9.7-17-12.9-15.8-16-15.3-15.9-13.9-16.2-12.5-15.5-12.7-15.2-12.4-16.4-11.9-16.9-11.4-15.6-11.2-15.3-14.1-17.5-16.8-23.3-20.9-34.5-22.9-34.8-21.2-40.8-7.1-43.2 2.9z" fill="#c8c8c8"/>
<path d="M374.9 811.3l4.6-3.5 7-1.9 12.4-3.1 15.1-0.4 15.5 2 15.9 3.1 16.1 4.1 16.2 4 15.9 4.8 15.9 6.3 16 7.3 15.9 7.9 15.9 9.6 15.9 11.1 15.9 12.7 12.3 12.3 9.1 13.6 6.8 15.2 3.8 15.4 2.3 15.4 0 18.5-1.5 15.4-3.9 15.5-5.5 15.7-7.1 15.8-8.7 15.9-10.4 16-11.3 16.2-11.4 16.2-10.6 14.7 6 4.3 11.1-14.4 11.9-15.9 11.9-16 11.2-16.1 9.6-16.3 7.9-16.4 6.2-16.5 4.6-16.7 1.9-16.9 0.3-19.9-2-17-3.6-17.3-6.9-17.8-9.8-16.5-12.9-15.1-16-14.9-16.1-13.2-16.2-12-15.6-11.5-15.5-11.3-16.4-10.7-16.8-9.9-15.8-9.5-15.5-11.9-17.2-13.6-21.7-16.6-30.3-17.4-29.9-15.6-33.3-5-34.5 3.2z" fill="#e4e4e4"/>
<path d="M154.6 906.9l-5.4 11-5.5 10.9-5.5 11.1-2.7 6.6-4.5 9.2 0 77.6 3.9 8.4 5.1 10.1 9 12 10.2 12.8 8.6 8.7 16.5 14.9 16.5 13.9 16.5 13.2 16.5 12.4 16.6 11.6 16.7 10 16.8 8.5 16.9 6.7 16.9 5.1 16.8 3.3 13 1.7 12.6 3.1 22.8 7 29.6 9.8 34.7 14.9 6.5-15-34.8-16.6-30.3-11.1-23.2-7.7-14.3-3.5-13.4-1.8-15.3-3-15.2-4.5-15.4-5.9-15.6-7.4-15.7-9.1-16-10.9-16.2-11.7-16.2-12.9-16-13.6-16.1-14.4-7.3-7.5-9.8-11.8-8.6-10.3-4.9-8.6-2.9-1.4-0.7-76.3 1.8-3.9 1.5-7.6 3.7-11.6 4.1-11.6 4.4-11.5z" fill="#ebebeb"/>
<path d="M374.9 811.3l4.6-3.5 7-1.9 12.4-3.1 15.1-0.4 15.5 2 15.9 3.1 16.1 4.1 16.2 4 15.9 4.8 15.9 6.3 16 7.3 15.9 7.9 15.9 9.6 15.9 11.1 15.9 12.7 12.3 12.3 9.1 13.6 6.8 15.2 3.8 15.4 2.3 15.4 0 18.5-1.5 15.4-3.9 15.5-5.5 15.7-7.1 15.8-8.7 15.9-10.4 16-11.3 16.2-11.4 16.2-10.6 14.7 5.9 4.2 11-14.4 11.7-16.1 11.8-16 11-16.2 9.5-16.3 7.7-16.4 6.1-16.4 4.4-16.6 1.9-16.7 0.2-19.8-2.1-16.8-3.7-17.1-7-17.3-9.8-16.1-13-14.5-16.1-14.4-16.1-12.8-16.3-11.3-15.8-10.7-15.7-10.2-16.3-9.6-16.7-8.6-15.9-8-15.7-9.8-17-10.8-20.3-12.8-26.6-12.7-25.4-10.6-26.6-2.9-26.9 3.4z" fill="#f6f6f6"/>
<path d="M154.6 906.9l-5.4 11-5.5 10.9-5.5 11.1-2.7 6.6-4.5 9.2 0 77.6 3.9 8.4 5.1 10.1 9 12 10.2 12.8 8.6 8.7 16.5 14.9 16.5 13.9 16.5 13.2 16.5 12.4 16.6 11.6 16.7 10 16.8 8.5 16.9 6.7 16.9 5.1 16.8 3.3 13 1.7 12.6 3.1 22.8 7 29.6 9.8 34.7 14.9 5.4-12.4-34.9-16.1-30.2-10.8-23.1-7.5-14-3.5-13.3-1.7-15.6-3-15.5-4.7-15.7-6-15.8-7.7-15.9-9.4-16.1-10.9-16.2-11.9-16.3-13-16.1-13.6-16.1-14.6-7.6-7.6-9.9-12-8.5-10.7-4.9-8.9-2.9-2.6-0.6-76.6 2.5-4.6 1.9-7.3 4.1-11.4 4.6-11.4 4.7-11.4z" fill="#fafafa"/>
<path d="M374.9 811.3l4.6-3.5 7-1.9 12.4-3.1 15.1-0.4 15.5 2 15.9 3.1 16.1 4.1 16.2 4 15.9 4.8 15.9 6.3 16 7.3 15.9 7.9 15.9 9.6 15.9 11.1 15.9 12.7 12.3 12.3 9.1 13.6 6.8 15.2 3.8 15.4 2.3 15.4 0 18.5-1.5 15.4-3.9 15.5-5.5 15.7-7.1 15.8-8.7 15.9-10.4 16-11.3 16.2-11.4 16.2-10.6 14.7 5.8 4.2 10.9-14.5 11.6-16.2 11.7-16.1 10.9-16.2 9.3-16.3 7.6-16.4 6-16.4 4.3-16.5 1.8-16.6 0.1-19.6-2.2-16.7-3.8-16.8-7.1-17-9.8-15.6-13.1-14.1-16.1-13.9-16.2-12.4-16.2-10.9-16-9.8-15.9-9.3-16.3-8.6-16.6-7.5-16.1-6.8-15.9-8-16.7-8.4-19-9.4-23.4-8.5-21.6-6.2-20.8-1.3-20.2 3.6z" fill="#fafafa"/>
<path d="M154.6 906.9l-5.4 11-5.5 10.9-5.5 11.1-2.7 6.6-4.5 9.2 0 77.6 3.9 8.4 5.1 10.1 9 12 10.2 12.8 8.6 8.7 16.5 14.9 16.5 13.9 16.5 13.2 16.5 12.4 16.6 11.6 16.7 10 16.8 8.5 16.9 6.7 16.9 5.1 16.8 3.3 13 1.7 12.6 3.1 22.8 7 29.6 9.8 34.7 14.9 4.4-10.2-34.9-15.7-30.1-10.5-23.1-7.3-13.7-3.4-13.2-1.7-15.9-3.1-15.8-4.8-15.9-6.2-16-7.9-16-9.5-16.2-11.1-16.3-12-16.2-13-16.2-13.7-16.2-14.6-7.8-7.9-9.9-12.2-8.6-11-4.9-9.1-2.9-3.6-0.4-76.7 3-5.3 2.2-7.2 4.6-11.2 4.9-11.2 5-11.2z" fill="#fcfcfc"/>
<path d="M374.9 811.3l4.6-3.5 7-1.9 12.4-3.1 15.1-0.4 15.5 2 15.9 3.1 16.1 4.1 16.2 4 15.9 4.8 15.9 6.3 16 7.3 15.9 7.9 15.9 9.6 15.9 11.1 15.9 12.7 12.3 12.3 9.1 13.6 6.8 15.2 3.8 15.4 2.3 15.4 0 18.5-1.5 15.4-3.9 15.5-5.5 15.7-7.1 15.8-8.7 15.9-10.4 16-11.3 16.2-11.4 16.2-10.6 14.7 5.8 4.2 10.7-14.6 11.6-16.2 11.6-16.2 10.7-16.3 9.2-16.3 7.5-16.4 5.9-16.3 4.2-16.5 1.7-16.4 0.1-19.5-2.3-16.5-3.9-16.7-7.2-16.7-9.8-15.3-13-13.6-16.3-13.7-16.2-11.9-16.3-10.5-16-9.2-16.1-8.5-16.3-7.8-16.5-6.5-16.2-5.7-16-6.5-16.6-6.4-18-6.6-20.6-5-18.4-2.6-15.9 0.1-14.6 3.9z" fill="#fcfcfc"/>
<path d="M154.6 906.9l-5.4 11-5.5 10.9-5.5 11.1-2.7 6.6-4.5 9.2 0 77.6 3.9 8.4 5.1 10.1 9 12 10.2 12.8 8.6 8.7 16.5 14.9 16.5 13.9 16.5 13.2 16.5 12.4 16.6 11.6 16.7 10 16.8 8.5 16.9 6.7 16.9 5.1 16.8 3.3 13 1.7 12.6 3.1 22.8 7 29.6 9.8 34.7 14.9 3.6-8.4-34.9-15.3-30.1-10.3-23-7.2-13.5-3.3-13.1-1.7-16.1-3.2-16.1-4.8-16-6.4-16.2-8-16.2-9.6-16.2-11.3-16.3-12.1-16.3-13-16.2-13.8-16.3-14.6-7.9-8.1-10-12.3-8.6-11.2-4.8-9.4-3-4.5-0.2-76.8 3.3-5.8 2.5-7 5-11.1 5.2-11 5.2-11.2z" fill="#fefefe"/>
<path d="M374.9 811.3l4.6-3.5 7-1.9 12.4-3.1 15.1-0.4 15.5 2 15.9 3.1 16.1 4.1 16.2 4 15.9 4.8 15.9 6.3 16 7.3 15.9 7.9 15.9 9.6 15.9 11.1 15.9 12.7 12.3 12.3 9.1 13.6 6.8 15.2 3.8 15.4 2.3 15.4 0 18.5-1.5 15.4-3.9 15.5-5.5 15.7-7.1 15.8-8.7 15.9-10.4 16-11.3 16.2-11.4 16.2-10.6 14.7 5.7 4.1 10.7-14.6 11.5-16.3 11.5-16.2 10.7-16.3 9.1-16.4 7.4-16.3 5.7-16.3 4.2-16.4 1.7-16.4 0-19.4-2.3-16.4-4.1-16.4-7.2-16.6-9.8-14.9-13.1-13.4-16.2-13.3-16.3-11.7-16.3-10.2-16.2-8.6-16.1-8-16.4-7.1-16.3-5.7-16.3-4.9-16.2-5.3-16.5-4.8-17.1-4.4-18.5-2.3-15.8 0.3-12.1 1.3-10.1 4z" fill="#fefefe"/>
<path d="M154.6 906.9l-5.4 11-5.5 10.9-5.5 11.1-2.7 6.6-4.5 9.2 0 77.6 3.9 8.4 5.1 10.1 9 12 10.2 12.8 8.6 8.7 16.5 14.9 16.5 13.9 16.5 13.2 16.5 12.4 16.6 11.6 16.7 10 16.8 8.5 16.9 6.7 16.9 5.1 16.8 3.3 13 1.7 12.6 3.1 22.8 7 29.6 9.8 34.7 14.9 3.1-7.1-35-15.1-30-10.1-23-7-13.3-3.3-13.1-1.7-16.3-3.2-16.2-4.9-16.2-6.4-16.3-8.2-16.2-9.7-16.3-11.4-16.3-12.2-16.4-13-16.3-13.8-16.2-14.7-8.1-8.1-10-12.5-8.6-11.4-4.8-9.5-3-5.1-0.1-77 3.6-6.2 2.7-6.8 5.3-11 5.4-10.9 5.3-11.1z" fill="#ffffff"/>
<path d="M374.9 811.3l4.6-3.5 7-1.9 12.4-3.1 15.1-0.4 15.5 2 15.9 3.1 16.1 4.1 16.2 4 15.9 4.8 15.9 6.3 16 7.3 15.9 7.9 15.9 9.6 15.9 11.1 15.9 12.7 12.3 12.3 9.1 13.6 6.8 15.2 3.8 15.4 2.3 15.4 0 18.5-1.5 15.4-3.9 15.5-5.5 15.7-7.1 15.8-8.7 15.9-10.4 16-11.3 16.2-11.4 16.2-10.6 14.7 5.7 4.1 10.6-14.7 11.5-16.3 11.4-16.2 10.6-16.3 9-16.4 7.4-16.3 5.7-16.3 4.1-16.4 1.6-16.3 0-19.3-2.3-16.4-4.1-16.3-7.3-16.4-9.8-14.8-13.1-13.1-16.3-13.1-16.3-11.5-16.3-9.9-16.2-8.3-16.3-7.6-16.3-6.7-16.3-5.1-16.4-4.4-16.2-4.4-16.4-3.7-16.5-2.8-17-0.4-14.1 2.3-9.4 2.1-7.1 4z" fill="#ffffff"/>
<path d="M237.9 749l8.1 8.5 8.2 7.4 8.1 7.3 4.9 8.2-0.3 8.1-2.1 6.5-4.1 5.7-2.4 2.2 12.2-6.2 16.3-4.9 16.3-2.5 16.3-0.8 16.3 1.6 16.3 4.1 13.1 7.4 5.7 4-52.6-73.1 0-1.5-80.3 0z" fill="#ffffff"/>
</g>
<path d="M424.9 1143l-9-17.2-8.1-19.5-5.7-18-3.3-16.3-1-22-0.3-30 0.1-30 0.6-24 0.3-21-1.5 0-1.8 20.9-1.6 24-1.1 30.1-0.7 30.1 0 22.7 2.6 17.5 5 19.1 6.5 21 7.5 18.6z" fill="#989898"/>
<path d="M424.9 1143l-9-17.2-8.1-19.5-5.7-18-3.3-16.3-1-22-0.3-30 0.1-30 0.6-24 0.3-21-1.2 0-1.6 21-1.4 24-1 30-0.5 30.1 0.2 22.6 2.7 17.3 5.1 18.9 6.8 20.8 7.7 18.3z" fill="#a8a8a8"/>
<path d="M424.9 1143l-9-17.2-8.1-19.5-5.7-18-3.3-16.3-1-22-0.3-30 0.1-30 0.6-24 0.3-21-1 0-1.3 21-1.3 24-0.7 30-0.4 30.1 0.4 22.4 2.7 17.2 5.3 18.7 7.1 20.5 7.9 18.1z" fill="#bbbbbb"/>
<path d="M424.9 1143l-9-17.2-8.1-19.5-5.7-18-3.3-16.3-1-22-0.3-30 0.1-30 0.6-24 0.3-21-0.7 0-1.1 21-1.1 24-0.6 30-0.2 30.1 0.5 22.3 2.9 16.9 5.4 18.6 7.3 20.2 8.2 17.9z" fill="#d4d4d4"/>
<path d="M424.9 1143l-9-17.2-8.1-19.5-5.7-18-3.3-16.3-1-22-0.3-30 0.1-30 0.6-24 0.3-21-0.5 0-0.8 21-0.9 24-0.5 30 0 30 0.7 22.3 3 16.7 5.5 18.3 7.6 20 8.5 17.7z" fill="#ebebeb"/>
<path d="M424.9 1143l-9-17.2-8.1-19.5-5.7-18-3.3-16.3-1-22-0.3-30 0.1-30 0.6-24 0.3-21-0.2 0-0.6 21-0.8 24-0.2 30 0.1 30 0.8 22.1 3.2 16.5 5.6 18.2 7.8 19.8 8.8 17.4z" fill="#f8f8f8"/>
<path d="M256.6 799.8l5.2-2.8 7.4-3.5 8.2-2.8 8.6-2.3 8.4-1.6 8.3-1 8.4-0.7 8.4-0.1 8.4 0.5 8.4 1.1 8.6 1.8 8.4 2.6 7.6 3.9 6.1 3.8 3.8 2.5 2.1 1.6-5.4 7.2-1.9-1.4-3.5-2.4-5.6-3.5-6.6-3.4-7.2-2.2-7.9-1.6-7.8-1-7.7-0.5-7.8 0.1-7.8 0.7-7.9 0.9-7.8 1.5-8 2.1-7.4 2.5-6.7 3.2-5 2.7z" fill="#949494"/>
<path d="M256.4 799.5l5.2-2.8 7.5-3.6 8.2-2.8 8.7-2.3 8.4-1.5 8.3-1 8.4-0.7 8.4-0.1 8.4 0.5 8.4 1.1 8.7 1.8 8.4 2.5 7.7 4 6.1 3.8 3.8 2.5 2.1 1.6-4.9 6.6-1.9-1.5-3.6-2.3-5.6-3.6-6.7-3.4-7.4-2.3-8-1.6-7.9-1.1-7.8-0.4-7.8 0.1-8 0.7-7.9 0.9-7.8 1.5-8.1 2.1-7.6 2.6-6.7 3.2-5 2.7z" fill="#9d9d9d"/>
<path d="M256.3 799.2l5.2-2.8 7.4-3.6 8.3-2.8 8.7-2.3 8.4-1.6 8.4-1 8.3-0.7 8.5-0.1 8.5 0.5 8.4 1.2 8.7 1.7 8.5 2.6 7.7 3.9 6.1 3.9 3.8 2.5 2.1 1.7-4.5 5.9-1.9-1.5-3.6-2.4-5.7-3.6-6.8-3.5-7.5-2.3-8.1-1.6-8-1.1-7.9-0.5-7.9 0.2-8 0.6-8 1-7.9 1.5-8.2 2.1-7.6 2.6-6.8 3.3-5 2.7z" fill="#ababab"/>
<path d="M256.1 798.9l5.2-2.9 7.5-3.5 8.3-2.8 8.7-2.3 8.5-1.6 8.3-1 8.4-0.7 8.5-0.1 8.5 0.5 8.5 1.1 8.7 1.8 8.5 2.6 7.8 3.9 6.1 3.9 3.8 2.5 2.1 1.7-4 5.3-2-1.5-3.6-2.4-5.7-3.6-7-3.6-7.7-2.4-8.2-1.6-8-1.1-7.9-0.5-8 0.2-8.1 0.6-8 1-8 1.5-8.3 2.2-7.7 2.6-7 3.3-5 2.8z" fill="#bdbdbd"/>
<path d="M255.9 798.6l5.3-2.9 7.5-3.5 8.3-2.9 8.7-2.3 8.5-1.5 8.4-1.1 8.4-0.7 8.5-0.1 8.5 0.5 8.5 1.2 8.7 1.7 8.6 2.7 7.8 3.9 6.2 3.9 3.8 2.6 2.2 1.6-3.6 4.7-2-1.5-3.6-2.5-5.9-3.6-7.1-3.7-7.8-2.3-8.3-1.7-8-1.1-8.1-0.5-8.1 0.1-8.1 0.7-8.1 1-8.1 1.5-8.3 2.2-7.8 2.6-7.1 3.4-5 2.8z" fill="#d5d5d5"/>
<path d="M255.8 798.3l5.2-2.9 7.5-3.6 8.4-2.8 8.7-2.3 8.6-1.6 8.4-1 8.4-0.7 8.5-0.1 8.6 0.5 8.5 1.1 8.7 1.8 8.7 2.6 7.8 4 6.1 3.9 3.9 2.6 2.2 1.6-3.1 4.1-2.1-1.5-3.6-2.5-5.9-3.7-7.3-3.7-7.9-2.4-8.4-1.7-8.1-1.1-8.2-0.5-8.2 0.1-8.1 0.7-8.2 1-8.1 1.5-8.4 2.2-7.9 2.7-7.2 3.4-5.1 2.8z" fill="#ececec"/>
<path d="M255.6 798l5.2-2.9 7.6-3.6 8.4-2.8 8.8-2.4 8.5-1.5 8.4-1.1 8.5-0.6 8.5-0.2 8.6 0.5 8.5 1.2 8.8 1.8 8.7 2.6 7.9 4 6.1 3.9 3.9 2.6 2.2 1.6-2.6 3.5-2.1-1.6-3.7-2.5-6-3.7-7.3-3.8-8.1-2.4-8.5-1.7-8.2-1.2-8.3-0.4-8.2 0.1-8.2 0.7-8.2 1-8.3 1.5-8.5 2.2-8 2.7-7.2 3.5-5.1 2.8z" fill="#f5f5f5"/>
<path d="M255.4 797.7l5.3-2.9 7.6-3.6 8.4-2.9 8.8-2.3 8.5-1.6 8.5-1 8.5-0.7 8.5-0.1 8.6 0.5 8.6 1.1 8.8 1.8 8.7 2.7 7.9 4 6.2 3.9 3.9 2.6 2.2 1.7-2.2 2.8-2.1-1.6-3.7-2.5-6-3.8-7.5-3.8-8.3-2.5-8.5-1.7-8.3-1.2-8.3-0.5-8.4 0.2-8.2 0.6-8.3 1-8.3 1.6-8.6 2.2-8.1 2.8-7.3 3.5-5.1 2.8z" fill="#fcfcfc"/>
<path d="M120 731l117.9 0 0 18 8.1 8.5 8.2 7.4 8.1 7.3 4.9 8.2-0.3 8.1-2.1 6.5-4.1 5.7-2.4 2.2-17.2 8.4-19.5 14.7-16.4 16.3-16.3 19.6-13 19.6-11.4 21.2-3.6 7.3-5.4 11-5.5 10.9-5.4 10.9-2.8 6.8-3.8 6.4-18 0z" fill="#101010"/>
<path d="M138 1033l3.1 5.4 4.8 9.6 8.6 11.5 10 12.5 8.1 8.2 16.3 14.7 16.3 13.8 16.4 13.1 16.3 12.2 16.3 11.4 16.3 9.8 16.3 8.2 16.3 6.5 16.3 4.9 16.3 3.2 13.1 1.7 13.2 3.3 0 17-242 0 0-167z" fill="#0d0d0d"/>
<path d="M370.8 805.6l5.7-4.1 8.2-2.4 13.3-3.2 16.3-0.5 16.3 2.1 16.3 3.2 16.3 4.1 16.4 4.1 16.3 4.9 16.3 6.5 16.3 7.4 16.3 8.1 16.3 9.8 16.3 11.4 16.3 13.1 13.1 13 9.8 14.7 7.3 16.3 4.1 16.3 2.4 16.3 0 19.3-1.6 16.3-4.1 16.3-5.7 16.3-7.3 16.3-9 16.4-10.6 16.3-11.4 16.3-11.4 16.3-10.6 14.7-13.9 9.8-16.3 9.7-16.3 8.2-16.3 6.5-16.3 4.1-16.4 1.6-16.3-0.8-16.3-4.1-5.7-3.2-9-17.2-8.1-19.5-5.7-18-3.3-16.3-1-22-0.3-30 0.1-30 0.6-24 0.3-21 0-14.6-1.6-32.6-2.5-24.5-4.9-24.4-8.1-24.5-10.6-18.8z" fill="#101010"/>
<path d="M398.2 966l-0.2 24 32 22 40 30 40 30 35 26 13.7 13.2-13.9 9.8-16.3 9.7-16.3 8.2-16.3 6.5-16.3 4.1-16.4 1.6-16.3-0.8-16.3-4.1-5.7-3.2-9-17.2-8.1-19.5-5.7-18-3.3-16.3-1-22-0.3-30 0.1-30 0.6-24z" fill="#151515"/>
<path d="M370.8 805.6l5.7-4.1 8.2-2.4 13.3-3.2 16.3-0.5 16.3 2.1 16.3 3.2 16.3 4.1 16.4 4.1 16.3 4.9 16.3 6.5 16.3 7.4 16.3 8.1 16.3 9.8 16.3 11.4 16.3 13.1 13.1 13 9.8 14.7 7.3 16.3 4.1 16.3 2.4 16.3 0 19.3-1.6 16.3-4.1 16.3-5.7 16.3-7.3 16.3-9 16.4-10.6 16.3-11.4 16.3-11.4 16.3-10.6 14.7-1.6-1.2 7.3-17 8.1-18.5 8-18.4 8.5-16.7 8.4-15.3 6.7-15.1 5.3-15 3.6-14.5 1.4-14.2 0-17.5-2.1-14.3-3.5-14.1-6.2-13.9-8.1-12.2-11.4-11.2-15.3-12.3-15.4-10.8-15.3-9.2-15.5-7.7-15.7-7.1-15.3-6.1-15.2-4.6-16.1-4-15.9-4-15.4-3-14.5-1.9-13.8-1.6-12.5-1-8.2-1.9-7 0.3z" fill="#0d0d0d"/>
<path d="M370.8 805.6l5.7-4.1 8.2-2.4 13.3-3.2 16.3-0.5 16.3 2.1 16.3 3.2 16.3 4.1 16.4 4.1 16.3 4.9 16.3 6.5 16.3 7.4 16.3 8.1 16.3 9.8 16.3 11.4 16.3 13.1 13.1 13 9.8 14.7 7.3 16.3 4.1 16.3 2.4 16.3 0 19.3-1.6 16.3-4.1 16.3-5.7 16.3-7.3 16.3-9 16.4-10.6 16.3-11.4 16.3-11.4 16.3-10.6 14.7-1.2-0.9 8.1-16.4 9-18 8.8-17.9 9-16.6 8.6-15.6 6.9-15.3 5.3-15.4 3.8-14.9 1.4-14.7 0-18-2.2-14.8-3.6-14.6-6.5-14.5-8.5-12.9-11.9-11.6-15.5-12.5-15.6-10.9-15.6-9.4-15.7-7.8-15.8-7.2-15.6-6.2-15.5-4.6-16.1-4.1-16-4-15.6-3.1-15-1.9-14.4-1.1-12.7 0.1-8.2-0.8-6.7 1.2z" fill="#070707"/>
<path d="M370.8 805.6l5.7-4.1 8.2-2.4 13.3-3.2 16.3-0.5 16.3 2.1 16.3 3.2 16.3 4.1 16.4 4.1 16.3 4.9 16.3 6.5 16.3 7.4 16.3 8.1 16.3 9.8 16.3 11.4 16.3 13.1 13.1 13 9.8 14.7 7.3 16.3 4.1 16.3 2.4 16.3 0 19.3-1.6 16.3-4.1 16.3-5.7 16.3-7.3 16.3-9 16.4-10.6 16.3-11.4 16.3-11.4 16.3-10.6 14.7-0.8-0.6 9-15.8 9.7-17.5 9.7-17.3 9.5-16.5 8.7-15.9 7.1-15.7 5.4-15.6 3.9-15.4 1.5-15.3 0-18.4-2.2-15.2-3.9-15.3-6.7-15-9-13.5-12.2-12.1-15.8-12.7-15.9-11.1-15.8-9.5-15.8-7.9-16-7.2-15.8-6.3-15.8-4.8-16.2-4-16.1-4.1-15.9-3.1-15.4-2-15-0.6-12.9 1.1-8.2 0.3-6.4 2.2z" fill="#040404"/>
<path d="M370.8 805.6l5.7-4.1 8.2-2.4 13.3-3.2 16.3-0.5 16.3 2.1 16.3 3.2 16.3 4.1 16.4 4.1 16.3 4.9 16.3 6.5 16.3 7.4 16.3 8.1 16.3 9.8 16.3 11.4 16.3 13.1 13.1 13 9.8 14.7 7.3 16.3 4.1 16.3 2.4 16.3 0 19.3-1.6 16.3-4.1 16.3-5.7 16.3-7.3 16.3-9 16.4-10.6 16.3-11.4 16.3-11.4 16.3-10.6 14.7-0.4-0.3 9.8-15.3 10.6-16.8 10.5-16.9 10.1-16.4 8.8-16.1 7.2-16 5.6-16 4-15.8 1.5-15.8 0-18.8-2.3-15.8-4-15.8-7-15.7-9.4-14.1-12.7-12.5-16-12.9-16.1-11.2-16-9.7-16.1-8-16.2-7.3-16-6.4-16.1-4.8-16.3-4.1-16.2-4.1-16-3.2-15.9-2-15.7 0-13.1 2.1-8.2 1.4-6 3.1z" fill="#010101"/>
<path d="M237.9 749l8.1 8.5 8.2 7.4 8.1 7.3 4.9 8.2-0.3 8.1-2.1 6.5-4.1 5.7-2.4 2.2-1.4-1.5-1.6-5.1-1.2-6.7-3-3.7-1.2-0.6-1.4-1.5-6.4-5.5-8.7-7.9-8.5-9z" fill="#0d0d0d"/>
<path d="M237.9 749l8.1 8.5 8.2 7.4 8.1 7.3 4.9 8.2-0.3 8.1-2.1 6.5-4.1 5.7-2.4 2.2-1-1.1-0.7-4.4 0.2-6.5-1.7-4.3-0.9-2.5-2.2-3.2-6.8-6-8.6-7.7-8.5-8.9z" fill="#070707"/>
<path d="M237.9 749l8.1 8.5 8.2 7.4 8.1 7.3 4.9 8.2-0.3 8.1-2.1 6.5-4.1 5.7-2.4 2.2-0.7-0.7 0.4-3.7 1.5-6.2-0.5-5.1-0.5-4.4-3.1-4.8-7.2-6.4-8.5-7.7-8.3-8.7z" fill="#040404"/>
<path d="M237.9 749l8.1 8.5 8.2 7.4 8.1 7.3 4.9 8.2-0.3 8.1-2.1 6.5-4.1 5.7-2.4 2.2-0.3-0.4 1.3-2.9 2.8-6 0.9-5.7-0.1-6.3-4-6.5-7.7-6.9-8.3-7.5-8.3-8.6z" fill="#010101"/>
<g clip-path="url(#clip_dLL)"><path d="M138 1033l3.1 5.4 4.8 9.6 8.6 11.5 10 12.5 8.1 8.2 16.3 14.7 16.3 13.8 16.4 13.1 16.3 12.2 16.3 11.4 16.3 9.8 16.3 8.2 16.3 6.5 16.3 4.9 16.3 3.2 13.1 1.7 13.2 3.3-27.2 108.7-6.9-2-10.6-1.2-24.9-5-26.3-7.9-25.3-10.1-24.4-12.3-23.3-13.9-20.9-14.6-19.1-14.3-19.1-15.2-18.8-16-19.2-17.3-15.8-16.2-14.2-17.6-14.6-20.1-9.4-17.4-1.1-1.8z" fill="#393939"/>
<path d="M138 1033l3.1 5.4 4.8 9.6 8.6 11.5 10 12.5 8.1 8.2 16.3 14.7 16.3 13.8 16.4 13.1 16.3 12.2 16.3 11.4 16.3 9.8 16.3 8.2 16.3 6.5 16.3 4.9 16.3 3.2 13.1 1.7 13.2 3.3-25.7 102.6-7.3-2-10.7-1.3-24.4-4.8-25.7-7.8-24.9-9.9-23.9-12-22.9-13.7-20.6-14.4-19-14.2-18.9-15.1-18.7-15.9-19.1-17.2-15.3-15.7-14-17.3-14.3-19.6-9.1-17-1.2-2z" fill="#2f2f2f"/>
<path d="M138 1033l3.1 5.4 4.8 9.6 8.6 11.5 10 12.5 8.1 8.2 16.3 14.7 16.3 13.8 16.4 13.1 16.3 12.2 16.3 11.4 16.3 9.8 16.3 8.2 16.3 6.5 16.3 4.9 16.3 3.2 13.1 1.7 13.2 3.3-24.1 96.6-7.7-2.1-10.9-1.3-23.9-4.8-25.2-7.5-24.3-9.7-23.5-11.8-22.5-13.5-20.4-14.3-18.8-14.1-18.7-14.9-18.6-15.7-18.9-17.1-14.9-15.3-13.8-17-13.9-19.1-8.9-16.6-1.3-2.2z" fill="#272727"/>
<path d="M138 1033l3.1 5.4 4.8 9.6 8.6 11.5 10 12.5 8.1 8.2 16.3 14.7 16.3 13.8 16.4 13.1 16.3 12.2 16.3 11.4 16.3 9.8 16.3 8.2 16.3 6.5 16.3 4.9 16.3 3.2 13.1 1.7 13.2 3.3-22.6 90.5-8-2.1-11-1.3-23.5-4.7-24.6-7.4-23.9-9.5-23-11.6-22.1-13.3-20.1-14-18.7-14-18.6-14.8-18.4-15.6-18.8-16.9-14.5-14.9-13.5-16.7-13.6-18.7-8.6-16.1-1.4-2.4z" fill="#232323"/>
<path d="M138 1033l3.1 5.4 4.8 9.6 8.6 11.5 10 12.5 8.1 8.2 16.3 14.7 16.3 13.8 16.4 13.1 16.3 12.2 16.3 11.4 16.3 9.8 16.3 8.2 16.3 6.5 16.3 4.9 16.3 3.2 13.1 1.7 13.2 3.3-21.1 84.5-8.4-2.2-11.1-1.4-23-4.6-24.1-7.2-23.3-9.3-22.6-11.3-21.7-13.1-19.9-13.8-18.5-13.9-18.4-14.7-18.3-15.5-18.6-16.8-14.1-14.4-13.3-16.4-13.2-18.2-8.4-15.7-1.5-2.6z" fill="#1f1f1f"/>
<path d="M138 1033l3.1 5.4 4.8 9.6 8.6 11.5 10 12.5 8.1 8.2 16.3 14.7 16.3 13.8 16.4 13.1 16.3 12.2 16.3 11.4 16.3 9.8 16.3 8.2 16.3 6.5 16.3 4.9 16.3 3.2 13.1 1.7 13.2 3.3-19.6 78.5-8.7-2.3-11.3-1.4-22.5-4.5-23.5-7-22.9-9.2-22.1-11.1-21.3-12.8-19.6-13.7-18.4-13.7-18.3-14.6-18.1-15.4-18.5-16.6-13.6-14-13-16.1-13-17.7-8.1-15.3-1.7-2.8z" fill="#1c1c1c"/>
<path d="M138 1033l3.1 5.4 4.8 9.6 8.6 11.5 10 12.5 8.1 8.2 16.3 14.7 16.3 13.8 16.4 13.1 16.3 12.2 16.3 11.4 16.3 9.8 16.3 8.2 16.3 6.5 16.3 4.9 16.3 3.2 13.1 1.7 13.2 3.3-18.1 72.4-9-2.3-11.5-1.4-22-4.4-22.9-6.9-22.4-8.9-21.7-10.9-20.9-12.6-19.4-13.5-18.2-13.6-18.1-14.5-18-15.3-18.3-16.5-13.2-13.5-12.8-15.9-12.6-17.2-7.9-14.8-1.8-3z" fill="#191919"/>
<path d="M138 1033l3.1 5.4 4.8 9.6 8.6 11.5 10 12.5 8.1 8.2 16.3 14.7 16.3 13.8 16.4 13.1 16.3 12.2 16.3 11.4 16.3 9.8 16.3 8.2 16.3 6.5 16.3 4.9 16.3 3.2 13.1 1.7 13.2 3.3-16.6 66.4-9.4-2.5-11.6-1.4-21.5-4.3-22.4-6.7-21.8-8.7-21.3-10.7-20.5-12.3-19.1-13.4-18.1-13.5-18-14.3-17.8-15.2-18.1-16.3-12.8-13-12.6-15.7-12.3-16.7-7.6-14.4-1.9-3.2z" fill="#161616"/>
<path d="M138 1033l3.1 5.4 4.8 9.6 8.6 11.5 10 12.5 8.1 8.2 16.3 14.7 16.3 13.8 16.4 13.1 16.3 12.2 16.3 11.4 16.3 9.8 16.3 8.2 16.3 6.5 16.3 4.9 16.3 3.2 13.1 1.7 13.2 3.3-15.1 60.4-9.7-2.6-11.7-1.4-21.1-4.2-21.8-6.6-21.4-8.5-20.8-10.4-20.1-12.1-18.9-13.2-17.9-13.4-17.8-14.2-17.8-15.1-17.9-16.1-12.3-12.6-12.4-15.4-11.9-16.2-7.4-14-2-3.4z" fill="#141414"/>
<path d="M138 1033l3.1 5.4 4.8 9.6 8.6 11.5 10 12.5 8.1 8.2 16.3 14.7 16.3 13.8 16.4 13.1 16.3 12.2 16.3 11.4 16.3 9.8 16.3 8.2 16.3 6.5 16.3 4.9 16.3 3.2 13.1 1.7 13.2 3.3-13.6 54.3-10.1-2.6-11.8-1.5-20.6-4.1-21.3-6.3-20.8-8.3-20.4-10.3-19.7-11.9-18.6-12.9-17.8-13.3-17.7-14.2-17.6-14.8-17.7-16.1-12-12.1-12.1-15.1-11.6-15.8-7-13.5-2.2-3.6z" fill="#121212"/>
<path d="M138 1033l3.1 5.4 4.8 9.6 8.6 11.5 10 12.5 8.1 8.2 16.3 14.7 16.3 13.8 16.4 13.1 16.3 12.2 16.3 11.4 16.3 9.8 16.3 8.2 16.3 6.5 16.3 4.9 16.3 3.2 13.1 1.7 13.2 3.3-12.1 48.3-10.4-2.7-12-1.5-20.1-4-20.7-6.2-20.4-8.1-19.9-10-19.3-11.7-18.4-12.8-17.6-13.1-17.5-14.1-17.5-14.7-17.6-15.9-11.5-11.7-11.8-14.8-11.3-15.3-6.8-13.1-2.3-3.8z" fill="#0f0f0f"/>
<path d="M138 1033l3.1 5.4 4.8 9.6 8.6 11.5 10 12.5 8.1 8.2 16.3 14.7 16.3 13.8 16.4 13.1 16.3 12.2 16.3 11.4 16.3 9.8 16.3 8.2 16.3 6.5 16.3 4.9 16.3 3.2 13.1 1.7 13.2 3.3-10.6 42.3-10.7-2.8-12.2-1.5-19.6-3.9-20.2-6.1-19.8-7.9-19.5-9.8-18.9-11.4-18.1-12.6-17.5-13.1-17.4-13.9-17.3-14.6-17.4-15.7-11.1-11.3-11.6-14.5-11-14.8-6.5-12.7-2.4-4z" fill="#0d0d0d"/>
<path d="M138 1033l3.1 5.4 4.8 9.6 8.6 11.5 10 12.5 8.1 8.2 16.3 14.7 16.3 13.8 16.4 13.1 16.3 12.2 16.3 11.4 16.3 9.8 16.3 8.2 16.3 6.5 16.3 4.9 16.3 3.2 13.1 1.7 13.2 3.3-9.1 36.2-11.1-2.8-12.2-1.6-19.2-3.8-19.6-5.9-19.3-7.7-19-9.5-18.7-11.2-17.8-12.5-17.2-12.9-17.3-13.8-17.2-14.5-17.2-15.6-10.7-10.8-11.4-14.2-10.6-14.4-6.3-12.2-2.5-4.2z" fill="#0b0b0b"/>
<path d="M138 1033l3.1 5.4 4.8 9.6 8.6 11.5 10 12.5 8.1 8.2 16.3 14.7 16.3 13.8 16.4 13.1 16.3 12.2 16.3 11.4 16.3 9.8 16.3 8.2 16.3 6.5 16.3 4.9 16.3 3.2 13.1 1.7 13.2 3.3-7.5 30.2-11.5-2.9-12.4-1.6-18.7-3.7-19.1-5.7-18.8-7.5-18.5-9.4-18.3-10.9-17.5-12.3-17.1-12.8-17.2-13.7-17-14.4-17.1-15.4-10.2-10.4-11.2-13.9-10.3-13.9-6-11.8-2.6-4.4z" fill="#080808"/>
<path d="M138 1033l3.1 5.4 4.8 9.6 8.6 11.5 10 12.5 8.1 8.2 16.3 14.7 16.3 13.8 16.4 13.1 16.3 12.2 16.3 11.4 16.3 9.8 16.3 8.2 16.3 6.5 16.3 4.9 16.3 3.2 13.1 1.7 13.2 3.3-6 24.1-11.8-2.9-12.6-1.6-18.2-3.6-18.5-5.6-18.3-7.3-18.1-9.1-17.9-10.7-17.3-12.1-16.9-12.7-17-13.6-16.9-14.3-16.9-15.3-9.8-9.9-11-13.7-9.9-13.4-5.8-11.3-2.7-4.6z" fill="#050505"/>
<path d="M138 1033l3.1 5.4 4.8 9.6 8.6 11.5 10 12.5 8.1 8.2 16.3 14.7 16.3 13.8 16.4 13.1 16.3 12.2 16.3 11.4 16.3 9.8 16.3 8.2 16.3 6.5 16.3 4.9 16.3 3.2 13.1 1.7 13.2 3.3-4.5 18.1-12.2-3.1-12.7-1.6-17.7-3.5-18-5.4-17.8-7.1-17.6-8.9-17.5-10.5-17-11.9-16.8-12.5-16.9-13.5-16.7-14.1-16.8-15.2-9.4-9.5-10.7-13.4-9.6-12.9-5.5-10.9-2.8-4.8z" fill="#020202"/>
<path d="M138 1033l3.1 5.4 4.8 9.6 8.6 11.5 10 12.5 8.1 8.2 16.3 14.7 16.3 13.8 16.4 13.1 16.3 12.2 16.3 11.4 16.3 9.8 16.3 8.2 16.3 6.5 16.3 4.9 16.3 3.2 13.1 1.7 13.2 3.3-3 12.1-12.5-3.2-12.8-1.6-17.3-3.4-17.4-5.3-17.3-6.9-17.2-8.6-17.1-10.3-16.8-11.7-16.6-12.5-16.7-13.3-16.6-14-16.6-15-9-9.1-10.4-13.1-9.3-12.4-5.3-10.5-2.9-5z" fill="#010101"/>
<path d="M138 1033l3.1 5.4 4.8 9.6 8.6 11.5 10 12.5 8.1 8.2 16.3 14.7 16.3 13.8 16.4 13.1 16.3 12.2 16.3 11.4 16.3 9.8 16.3 8.2 16.3 6.5 16.3 4.9 16.3 3.2 13.1 1.7 13.2 3.3-1.5 6-12.9-3.2-12.9-1.7-16.8-3.3-16.9-5-16.8-6.7-16.7-8.5-16.7-10-16.5-11.6-16.5-12.3-16.6-13.2-16.4-13.9-16.5-14.9-8.5-8.6-10.2-12.8-9-12-5-10-3-5.2z" fill="#000000"/>
</g>
<path d="M256.7 799.2l-9.3-0.2-10.5 5.5-10.4 7.3-10.1 8.2-8.8 8.2-8.3 8.7-8.6 9.9-8.2 10.3-7.1 10.1-6.4 10.3-6.4 11.6-4.3 10.4-0.8 6 1.6 3.7 4.5 2.1 3.8-1 4.2-3.9 5.9-9.3 6.2-11 5.9-9.5 6.5-9.3 7.7-9.7 8.1-9.3 7.6-8.1 8-7.4 9.2-7.5 9.1-6.3 9.1-4.7 5.8-5.9z" fill="#8a8a8a"/>
<path d="M256.5 798.9l-9.2-0.2-10.6 5.5-10.4 7.3-10.2 8.2-8.8 8.2-8.3 8.8-8.6 9.9-8.2 10.3-7.1 10.1-6.4 10.3-6.4 11.6-4.3 10.4-0.8 6 1.6 3.7 4.4 2.1 3.2-1.3 3.9-4.1 5.7-9.4 6.2-11.1 6-9.6 6.5-9.3 7.8-9.7 8.1-9.4 7.7-8.2 8.1-7.5 9.3-7.5 9.2-6.5 9.2-4.8 6.2-5.2z" fill="#818181"/>
<path d="M256.4 798.6l-9.3-0.2-10.5 5.5-10.5 7.3-10.2 8.2-8.8 8.3-8.3 8.8-8.7 9.8-8.2 10.4-7.1 10.1-6.4 10.3-6.4 11.6-4.3 10.5-0.8 6 1.6 3.7 4.2 1.9 2.7-1.4 3.5-4.4 5.6-9.5 6.2-11.2 6.1-9.6 6.6-9.4 7.7-9.8 8.2-9.4 7.8-8.3 8.2-7.6 9.4-7.6 9.3-6.5 9.4-4.9 6.5-4.6z" fill="#757575"/>
<path d="M256.2 798.3l-9.3-0.3-10.5 5.6-10.5 7.3-10.2 8.3-8.9 8.2-8.3 8.8-8.6 9.9-8.2 10.4-7.1 10.1-6.5 10.3-6.5 11.7-4.3 10.4-0.7 6 1.5 3.7 4.2 1.9 2.1-1.7 3.2-4.6 5.4-9.6 6.3-11.2 6-9.7 6.7-9.6 7.8-9.8 8.3-9.5 7.8-8.3 8.3-7.7 9.4-7.6 9.5-6.7 9.5-4.9 6.9-4.1z" fill="#666666"/>
<path d="M256.1 798l-9.3-0.3-10.6 5.6-10.6 7.4-10.2 8.2-8.8 8.3-8.4 8.8-8.6 9.9-8.2 10.4-7.1 10.1-6.5 10.3-6.5 11.7-4.3 10.5-0.8 5.9 1.6 3.8 4 1.8 1.6-2 2.9-4.8 5.3-9.7 6.2-11.3 6.1-9.8 6.8-9.6 7.8-9.9 8.3-9.5 8-8.4 8.2-7.7 9.6-7.8 9.6-6.7 9.7-5 7.2-3.5z" fill="#555555"/>
<path d="M256 797.6l-9.4-0.2-10.6 5.6-10.6 7.4-10.2 8.2-8.9 8.3-8.3 8.9-8.7 9.9-8.2 10.4-7.1 10.1-6.5 10.4-6.5 11.7-4.3 10.4-0.8 6 1.6 3.7 3.9 1.8 1-2.3 2.5-5 5.2-9.8 6.2-11.3 6.2-9.9 6.8-9.7 7.9-10 8.4-9.6 8-8.4 8.3-7.8 9.7-7.8 9.8-6.9 9.7-5.1 7.6-2.8z" fill="#434343"/>
<path d="M255.8 797.3l-9.3-0.2-10.7 5.6-10.6 7.4-10.2 8.3-8.9 8.3-8.4 8.8-8.6 9.9-8.3 10.4-7.1 10.2-6.5 10.4-6.5 11.7-4.3 10.4-0.8 6 1.6 3.8 3.7 1.7 0.5-2.6 2.2-5.2 5-9.9 6.3-11.4 6.2-10 6.8-9.7 8-10.1 8.4-9.6 8.1-8.5 8.4-7.9 9.8-7.9 9.9-6.9 9.9-5.2 7.9-2.2z" fill="#2e2e2e"/>
<path d="M255.7 797l-9.4-0.2-10.6 5.6-10.7 7.4-10.2 8.3-9 8.3-8.3 8.9-8.7 9.9-8.3 10.4-7.1 10.2-6.5 10.4-6.5 11.7-4.3 10.5-0.8 6 1.6 3.7 3.5 1.7 0.1-2.9 1.8-5.3 4.8-10.1 6.3-11.5 6.3-10 6.9-9.8 8-10.2 8.5-9.6 8.1-8.6 8.5-8 9.9-8 10-7 10-5.2 8.3-1.6z" fill="#1f1f1f"/>
<path d="M255.5 796.7l-9.3-0.2-10.7 5.6-10.7 7.4-10.3 8.3-8.9 8.4-8.4 8.8-8.7 10-8.2 10.4-7.2 10.2-6.5 10.4-6.5 11.8-4.3 10.4-0.8 6 1.6 3.8 3.4 1.6-0.5-3.2 1.4-5.5 4.7-10.2 6.3-11.5 6.4-10.1 6.9-10 8.1-10.1 8.5-9.8 8.2-8.6 8.6-8.1 9.9-8 10.2-7.1 10.2-5.4 8.6-0.9z" fill="#181818"/>
<path d="M255.4 796.4l-9.4-0.2-10.7 5.6-10.7 7.5-10.3 8.3-9 8.3-8.4 8.9-8.6 10-8.3 10.4-7.2 10.2-6.5 10.5-6.5 11.7-4.3 10.5-0.8 6 1.5 3.7 3.3 1.6-1-3.4 1.1-5.8 4.5-10.3 6.4-11.6 6.3-10.2 7.1-10 8.1-10.2 8.5-9.8 8.3-8.7 8.7-8.2 10-8.1 10.3-7.2 10.4-5.4 8.9-0.3z" fill="#131313"/>
<path d="M556.9 1108.8l-5.9 4.2-7.8 5.5-7.9 4.9-8.2 4.7-8.1 4.2-8 3.9-8.1 3.4-7.9 2.9-8 2.3-7.9 1.7-8 1.1-8 0.5-7.9 0-7.8-0.8-8.6-1.8-7.2-2.1-3.4-1.7-1.5-1.1-6.5 8.8 0.9 5 4.5 5.9 8.2 5.1 10 4.7 10.2 2.4 9.8 1.6 9.9-0.1 10-0.9 9.8-2.6 9.6-3.2 8.9-4.9 8.5-5.3 7.9-6 7.8-6.4 7.5-7.1 7.1-7.4 6.3-8.6 3.9-7.2z" fill="#919191"/>
<path d="M556.7 1108.5l-5.9 4.3-7.8 5.4-7.9 4.9-8.2 4.7-8.1 4.2-8 3.9-8 3.4-7.9 2.9-8 2.3-7.9 1.7-7.9 1.1-8 0.5-7.9-0.1-7.8-0.7-8.5-1.8-7.2-2.2-3.3-1.6-1.5-1.1-6.1 8.3 1 4.5 4.4 5.5 8.1 4.8 9.9 4.4 9.9 2.3 9.7 1.4 9.6-0.1 9.9-0.9 9.5-2.5 9.5-3.2 8.8-4.7 8.4-5.1 8-5.8 7.8-6.1 7.6-7 7.2-7.1 6.4-8.2 4.1-6.9z" fill="#898989"/>
<path d="M556.5 1108.2l-5.9 4.3-7.8 5.4-7.9 4.9-8.2 4.7-8 4.2-8 3.8-8 3.5-8 2.9-7.8 2.3-7.9 1.7-8 1-7.9 0.5-7.9 0-7.7-0.8-8.5-1.8-7.2-2.1-3.3-1.6-1.4-1.1-5.6 7.7 1 4.1 4.3 5.1 8 4.5 9.7 4.1 9.7 2.1 9.5 1.3 9.5-0.2 9.6-0.9 9.4-2.4 9.3-3.1 8.7-4.5 8.4-4.9 8-5.6 7.8-5.9 7.6-6.7 7.3-6.8 6.6-8 4.3-6.6z" fill="#808080"/>
<path d="M556.3 1107.9l-5.9 4.3-7.8 5.4-7.9 4.9-8.2 4.7-8 4.2-8 3.8-8 3.4-7.9 3-7.8 2.2-7.9 1.7-7.9 1.1-7.9 0.5-7.9-0.1-7.7-0.7-8.4-1.8-7.1-2.1-3.3-1.6-1.4-1.1-5.2 7.1 1.1 3.8 4.2 4.6 7.9 4.2 9.6 3.8 9.5 2 9.2 1.1 9.3-0.2 9.4-0.9 9.2-2.4 9.1-3 8.7-4.3 8.3-4.7 8-5.3 7.9-5.8 7.7-6.4 7.3-6.6 6.8-7.7 4.5-6.3z" fill="#737373"/>
<path d="M556.1 1107.6l-5.9 4.3-7.8 5.4-7.9 4.9-8.1 4.6-8 4.3-8 3.8-8 3.4-7.9 2.9-7.8 2.3-7.9 1.7-7.8 1-7.9 0.5-7.8 0-7.7-0.7-8.4-1.9-7.1-2-3.2-1.6-1.4-1-4.7 6.4 1.1 3.4 4.1 4.2 7.8 3.9 9.4 3.6 9.3 1.7 9 1 9.2-0.3 9.2-0.9 9-2.2 8.9-2.9 8.6-4.1 8.3-4.6 8-5.1 7.8-5.5 7.8-6.2 7.5-6.4 6.9-7.3 4.7-6z" fill="#646464"/>
<path d="M555.9 1107.4l-5.9 4.2-7.8 5.4-7.8 4.9-8.2 4.6-8 4.3-8 3.8-7.9 3.4-7.9 2.9-7.8 2.2-7.8 1.7-7.9 1.1-7.8 0.5-7.8-0.1-7.7-0.7-8.4-1.8-7-2.1-3.1-1.5-1.4-1-4.3 5.8 1.3 3 3.9 3.9 7.7 3.5 9.3 3.3 9 1.6 8.9 0.8 8.9-0.3 9-1 8.9-2.1 8.7-2.8 8.5-3.9 8.2-4.4 8-4.9 7.9-5.3 7.9-5.9 7.5-6.2 7.1-7 4.9-5.7z" fill="#545454"/>
<path d="M555.7 1107.1l-5.9 4.2-7.8 5.4-7.8 4.9-8.2 4.6-7.9 4.2-8 3.9-7.9 3.4-7.9 2.9-7.8 2.2-7.8 1.7-7.8 1-7.8 0.5-7.8 0-7.6-0.7-8.4-1.8-7-2.1-3.1-1.5-1.3-1-3.8 5.2 1.3 2.7 3.8 3.4 7.6 3.2 9.1 3 8.8 1.4 8.7 0.7 8.7-0.3 8.8-1 8.7-2.1 8.6-2.7 8.4-3.7 8.2-4.2 8-4.7 7.9-5.1 7.9-5.7 7.6-5.8 7.3-6.7 5.1-5.5z" fill="#414141"/>
<path d="M555.5 1106.8l-5.9 4.2-7.8 5.4-7.8 4.9-8.1 4.6-8 4.2-8 3.8-7.9 3.4-7.8 2.9-7.8 2.3-7.7 1.6-7.8 1.1-7.8 0.5-7.8-0.1-7.6-0.7-8.3-1.8-7-2-3-1.5-1.3-1-3.4 4.6 1.4 2.3 3.7 3 7.5 3 9 2.7 8.5 1.2 8.5 0.5 8.6-0.4 8.6-1 8.5-1.9 8.4-2.6 8.3-3.6 8.1-3.9 8-4.6 8-4.8 8-5.5 7.7-5.6 7.4-6.4 5.3-5.1z" fill="#2d2d2d"/>
<path d="M555.3 1106.5l-5.9 4.3-7.8 5.3-7.8 4.9-8.1 4.6-8 4.2-7.9 3.8-7.9 3.4-7.8 2.9-7.8 2.2-7.7 1.7-7.8 1-7.8 0.5-7.7 0-7.5-0.7-8.3-1.8-6.9-2.1-3-1.4-1.3-1-2.9 4.1 1.4 1.9 3.6 2.5 7.4 2.7 8.9 2.4 8.3 1.1 8.3 0.3 8.3-0.4 8.4-1 8.3-1.9 8.3-2.5 8.2-3.3 8.1-3.8 8-4.3 8-4.7 8.1-5.2 7.7-5.4 7.6-6 5.5-4.9z" fill="#212121"/>
<path d="M555.1 1106.2l-5.9 4.3-7.8 5.4-7.7 4.8-8.2 4.6-7.9 4.2-7.9 3.8-7.9 3.4-7.8 2.9-7.7 2.2-7.8 1.6-7.7 1.1-7.8 0.5-7.7-0.1-7.4-0.7-8.3-1.8-6.9-2-3-1.4-1.2-1-2.5 3.5 1.5 1.5 3.5 2.1 7.3 2.4 8.7 2.1 8.1 0.9 8.1 0.2 8.2-0.4 8.1-1.1 8.2-1.8 8.1-2.4 8-3.1 8.1-3.6 8-4.1 8.1-4.5 8.1-4.9 7.8-5.1 7.7-5.8 5.8-4.6z" fill="#191919"/>
<path d="M399.5 945l2.1-5.3 0.9-9.4-0.6-15.8-1-17-1.1-12.9-2.4-11.7-2.2-12.4-3.8-12.1-3.7-12.7-5.4-11.7-5.8-11-4.8-7.9-1.8 1 4.4 8.1 5.3 11 3.4 12 2.6 12.7 1.8 12.2 1.1 12.1 0.4 11.5 0 12.6 1 16.8 1.6 15.5 2.1 9.1 3.9 5.3z" fill="#898989"/>
<path d="M399.8 945l2.1-5.3 0.9-9.4-0.6-15.8-1-17-1-12.9-2.5-11.8-2.1-12.4-3.8-12.1-3.8-12.7-5.4-11.8-5.8-11-4.8-7.9-1.8 1.1 4.4 8.1 5.3 11 3.7 11.9 2.8 12.7 2 12.2 1.2 12.1 0.7 11.6 0.1 12.6 1 16.8 1.5 15.6 1.7 9.1 3.2 5.3z" fill="#7c7c7c"/>
<path d="M400.2 945l2.1-5.3 0.9-9.4-0.6-15.8-1-17-1.1-12.9-2.4-11.8-2.2-12.4-3.8-12.2-3.7-12.7-5.4-11.8-5.9-11.1-4.8-7.9-1.9 1.2 4.4 8 5.5 11 3.8 11.9 3 12.7 2.3 12.2 1.3 12.2 0.9 11.6 0.3 12.6 1 16.9 1.4 15.5 1.3 9.2 2.4 5.3z" fill="#6a6a6a"/>
<path d="M400.5 945l2.1-5.3 0.9-9.5-0.6-15.7-1-17-1-13-2.5-11.8-2.1-12.4-3.8-12.2-3.8-12.8-5.4-11.7-5.9-11.1-4.8-8-2 1.2 4.5 8 5.5 11.1 4.1 11.9 3.1 12.6 2.5 12.2 1.5 12.2 1.2 11.6 0.4 12.7 1 16.9 1.2 15.6 1 9.2 1.7 5.3z" fill="#545454"/>
<path d="M400.9 945l2.1-5.3 0.9-9.5-0.7-15.7-0.9-17.1-1.1-12.9-2.4-11.8-2.2-12.5-3.8-12.2-3.8-12.8-5.4-11.8-5.9-11.1-4.9-7.9-2 1.2 4.6 8 5.5 11 4.4 11.9 3.2 12.7 2.8 12.1 1.6 12.2 1.5 11.7 0.5 12.7 1 16.9 1.1 15.6 0.6 9.3 0.9 5.3z" fill="#3b3b3b"/>
<path d="M401.2 945.1l2.1-5.4 0.9-9.5-0.6-15.8-1-17-1-12.9-2.5-11.9-2.1-12.4-3.9-12.2-3.7-12.9-5.5-11.8-5.9-11.2-4.9-7.9-2.1 1.3 4.6 7.9 5.7 11.1 4.6 11.8 3.4 12.7 3 12.1 1.7 12.3 1.7 11.7 0.7 12.7 1 16.9 1 15.7 0.2 9.3 0.1 5.3z" fill="#252525"/>
<path d="M401.6 945.1l2.1-5.4 0.9-9.5-0.7-15.8-0.9-17-1.1-13-2.5-11.8-2.1-12.5-3.8-12.2-3.8-12.9-5.5-11.9-5.9-11.2-4.9-7.9-2.2 1.3 4.7 8 5.7 11 4.9 11.8 3.5 12.7 3.3 12.1 1.8 12.3 2 11.7 0.8 12.8 1 17 0.8 15.7-0.1 9.3-0.6 5.3z" fill="#1b1b1b"/>
<path d="M401.9 945.1l2.1-5.4 0.9-9.5-0.6-15.8-1-17-1-13-2.5-11.9-2.2-12.5-3.8-12.2-3.8-12.9-5.5-11.9-5.9-11.2-4.9-8-2.3 1.4 4.8 7.9 5.8 11 5.1 11.8 3.6 12.7 3.6 12.1 2 12.3 2.2 11.8 0.9 12.8 1 17 0.7 15.7-0.5 9.4-1.4 5.3z" fill="#141414"/>
<path d="M714.2 747.5l-4 19.9-11.2 16.9-16.9 11.2-19.9 4-19.9-4-16.9-11.2-11.2-16.9-4-19.9 4-19.9 11.2-16.9 16.9-11.2 19.9-4 19.9 4 16.9 11.2 11.2 16.9z" fill="#959595"/>
<path d="M709.8 747.5l-3.6 18.2-10.3 15.5-15.5 10.3-18.2 3.6-18.2-3.6-15.5-10.3-10.3-15.5-3.6-18.2 3.6-18.2 10.3-15.5 15.5-10.3 18.2-3.6 18.2 3.6 15.5 10.3 10.3 15.5z" fill="#929292"/>
<path d="M705.5 747.5l-3.3 16.6-9.4 14-14 9.4-16.6 3.3-16.6-3.3-14-9.4-9.4-14-3.3-16.6 3.3-16.6 9.4-14 14-9.4 16.6-3.3 16.6 3.3 14 9.4 9.4 14z" fill="#8d8d8d"/>
<path d="M701.1 747.5l-3 14.9-8.4 12.6-12.6 8.4-14.9 3-14.9-3-12.6-8.4-8.4-12.6-3-14.9 3-14.9 8.4-12.6 12.6-8.4 14.9-3 14.9 3 12.6 8.4 8.4 12.6z" fill="#878787"/>
<path d="M696.7 747.5l-2.6 13.2-7.5 11.2-11.2 7.5-13.2 2.6-13.2-2.6-11.2-7.5-7.5-11.2-2.6-13.2 2.6-13.2 7.5-11.2 11.2-7.5 13.2-2.6 13.2 2.6 11.2 7.5 7.5 11.2z" fill="#808080"/>
<path d="M692.4 747.5l-2.3 11.6-6.6 9.7-9.7 6.6-11.6 2.3-11.6-2.3-9.7-6.6-6.6-9.7-2.3-11.6 2.3-11.6 6.6-9.7 9.7-6.6 11.6-2.3 11.6 2.3 9.7 6.6 6.6 9.7z" fill="#797979"/>
<path d="M688 747.5l-1.9 9.9-5.6 8.4-8.4 5.6-9.9 1.9-9.9-1.9-8.4-5.6-5.6-8.4-1.9-9.9 1.9-9.9 5.6-8.4 8.4-5.6 9.9-1.9 9.9 1.9 8.4 5.6 5.6 8.4z" fill="#727272"/>
<path d="M683.7 747.5l-1.7 8.2-4.6 7-7 4.6-8.2 1.7-8.2-1.7-7-4.6-4.6-7-1.7-8.2 1.7-8.2 4.6-7 7-4.6 8.2-1.7 8.2 1.7 7 4.6 4.6 7z" fill="#6a6a6a"/>
<path d="M679.3 747.5l-1.3 6.5-3.7 5.6-5.6 3.7-6.5 1.3-6.5-1.3-5.6-3.7-3.7-5.6-1.3-6.5 1.3-6.5 3.7-5.6 5.6-3.7 6.5-1.3 6.5 1.3 5.6 3.7 3.7 5.6z" fill="#626262"/>
<path d="M674.9 747.5l-0.9 4.9-2.8 4.1-4.1 2.8-4.9 0.9-4.9-0.9-4.1-2.8-2.8-4.1-0.9-4.9 0.9-4.9 2.8-4.1 4.1-2.8 4.9-0.9 4.9 0.9 4.1 2.8 2.8 4.1z" fill="#595959"/>
<path d="M670.6 747.5l-0.7 3.2-1.8 2.7-2.7 1.8-3.2 0.7-3.2-0.7-2.7-1.8-1.8-2.7-0.7-3.2 0.7-3.2 1.8-2.7 2.7-1.8 3.2-0.7 3.2 0.7 2.7 1.8 1.8 2.7z" fill="#505050"/>
<path d="M666.2 747.5l-0.3 1.5-0.9 1.3-1.3 0.9-1.5 0.3-1.5-0.3-1.3-0.9-0.9-1.3-0.3-1.5 0.3-1.5 0.9-1.3 1.3-0.9 1.5-0.3 1.5 0.3 1.3 0.9 0.9 1.3z" fill="#474747"/>
<path d="M691.2 1183l-2.4 11.9-6.7 10-10 6.7-11.9 2.4-11.9-2.4-10-6.7-6.7-10-2.4-11.9 2.4-11.9 6.7-10 10-6.7 11.9-2.4 11.9 2.4 10 6.7 6.7 10z" fill="#959595"/>
<path d="M687.2 1183l-2.1 10.3-5.8 8.8-8.8 5.8-10.3 2.1-10.3-2.1-8.8-5.8-5.8-8.8-2.1-10.3 2.1-10.3 5.8-8.8 8.8-5.8 10.3-2.1 10.3 2.1 8.8 5.8 5.8 8.8z" fill="#8d8d8d"/>
<path d="M683.2 1183l-1.8 8.8-4.9 7.5-7.5 4.9-8.8 1.8-8.8-1.8-7.5-4.9-4.9-7.5-1.8-8.8 1.8-8.8 4.9-7.5 7.5-4.9 8.8-1.8 8.8 1.8 7.5 4.9 4.9 7.5z" fill="#828282"/>
<path d="M679.2 1183l-1.4 7.3-4.2 6.1-6.1 4.2-7.3 1.4-7.3-1.4-6.1-4.2-4.2-6.1-1.4-7.3 1.4-7.3 4.2-6.1 6.1-4.2 7.3-1.4 7.3 1.4 6.1 4.2 4.2 6.1z" fill="#757575"/>
<path d="M675.2 1183l-1.1 5.7-3.3 4.9-4.9 3.3-5.7 1.1-5.7-1.1-4.9-3.3-3.3-4.9-1.1-5.7 1.1-5.7 3.3-4.9 4.9-3.3 5.7-1.1 5.7 1.1 4.9 3.3 3.3 4.9z" fill="#666666"/>
<path d="M671.2 1183l-0.8 4.2-2.4 3.6-3.6 2.4-4.2 0.8-4.2-0.8-3.6-2.4-2.4-3.6-0.8-4.2 0.8-4.2 2.4-3.6 3.6-2.4 4.2-0.8 4.2 0.8 3.6 2.4 2.4 3.6z" fill="#565656"/>
<path d="M667.2 1183l-0.5 2.7-1.6 2.2-2.2 1.6-2.7 0.5-2.7-0.5-2.2-1.6-1.6-2.2-0.5-2.7 0.5-2.7 1.6-2.2 2.2-1.6 2.7-0.5 2.7 0.5 2.2 1.6 1.6 2.2z" fill="#454545"/>
<path d="M663.2 1183l-0.2 1.1-0.7 1-1 0.7-1.1 0.2-1.1-0.2-1-0.7-0.7-1-0.2-1.1 0.2-1.1 0.7-1 1-0.7 1.1-0.2 1.1 0.2 1 0.7 0.7 1z" fill="#333333"/>
</g></g>
<rect x="141" y="752" width="516.7" height="428.5" fill="none" stroke="#262626" stroke-width="1"/>
<path d="M193.36 751.5v5.8 M193.36 1181v-5.8 M140.5 1137.15h5.8 M658.2 1137.15h-5.8 M399.35 751.5v5.8 M399.35 1181v-5.8 M140.5 966.25h5.8 M658.2 966.25h-5.8 M605.34 751.5v5.8 M605.34 1181v-5.8 M140.5 795.35h5.8 M658.2 795.35h-5.8" stroke="#262626" stroke-width="1.1" fill="none"/>
<text x="186.96" y="1232.6" font-size="43.3" text-anchor="middle" fill="#262626">−0.5</text>
<text x="399.35" y="1232.6" font-size="43.3" text-anchor="middle" fill="#262626">0</text>
<text x="605.34" y="1232.6" font-size="43.3" text-anchor="middle" fill="#262626">0.5</text>
<text x="128.2" y="1152.65" font-size="43.3" text-anchor="end" fill="#262626">−0.5</text>
<text x="128.2" y="981.75" font-size="43.3" text-anchor="end" fill="#262626">0</text>
<text x="128.2" y="810.85" font-size="43.3" text-anchor="end" fill="#262626">0.5</text>
<text y="1284.8" font-size="42.3" fill="#262626"><tspan x="334.05">x</tspan><tspan x="367.05" font-size="39.34" dy="-0.6">(</tspan><tspan x="385.95" dy="0.1" font-style="italic" font-weight="normal" font-size="47.38" stroke="#262626" stroke-width="0.5">μ</tspan><tspan x="414.95" dy="0.5">m</tspan><tspan x="449.55" font-size="39.34" dy="-0.6">)</tspan></text>
<g transform="translate(46.7 967.05) rotate(-90)"><text y="0" font-size="42.3" fill="#262626"><tspan x="-65.3">y</tspan><tspan x="-32.3" font-size="39.34" dy="-0.6">(</tspan><tspan x="-13.4" dy="0.1" font-style="italic" font-weight="normal" font-size="47.38" stroke="#262626" stroke-width="0.5">μ</tspan><tspan x="15.6" dy="0.5">m</tspan><tspan x="50.2" font-size="39.34" dy="-0.6">)</tspan></text></g>
</g>
<!-- panel (e) -->
<g id="panel-e">
<g clip-path="url(#clip_e)"><g filter="url(#ph_e)">
<rect x="942" y="731" width="560" height="470" fill="#999999"/>
<path d="M942 975l560 0 0 225-560 0z" fill="#8f8f8f"/>
<path d="M942 969l560 0 0 6-560 0z" fill="#949494"/>
<g filter="url(#hb2_e)">
<path d="M1372.7 1126.2l11.4-1.6 16.2-2.5 16.1-1.5 16.9-1.7 14.6-4.6 12.4-7 11.7-8.4 14.3-10.4 18.4-15.3 30.4-28.4 35.4-40.4 45.3-60.5 50.1-80.2-217.9-136.2-86.2 44-54.5 22.4-26.7 7.7-10.8 9.4 8.4 12.4 17.1 30.6 20.3 28.9 40.2 18.5 41 29 5.7 48.8-13.7 51.7-10.8 52.2-6.4 35.2z" fill="#939393"/>
<path d="M953 860l-1 30 1 30 4 30 6.6 32.3 4.9 24.5 8.2 24.4 11.4 24.5 16.3 24.5 16.3 19.5 18 13.1 14.6 5.7 0.4-0.9-9-15.2-3.3-24.4 1.6-26.4 0.8-27.4 1.6-20.5 0.4-17.6 0.1-20.5-6.1-29.7-12.1-22.1-20.7-23.8-24-29z" fill="#939393"/>
<path d="M1368 975l10.6-7.2 8.5-10.4 7.4-6.6 9.2-10.1 8.5-12.3 6.1-12.2 4.6-12.1 2.2-12.1 4.8-10.7 4 0.3 9 12.8 8.8 17.8 5.1 20.9 1.8 22.9-4 25.1-7.1 22.7-10.7 18.8-38.5-16.5-29.6-29.2z" fill="#939393"/>
<path d="M1372.7 1126.2l11.4-1.6 16.2-2.5 16.1-1.5 16.9-1.7 14.6-4.6 12.4-7 11.7-8.4 14.3-10.4 18.4-15.3 30.4-28.4 35.4-40.4 45.3-60.5 50.1-80.2-198.3-123.9-82.9 47.3-53.5 25.8-27.5 10.8-12.6 11.1 6 12.7 14.2 28.6 17.4 27 35.3 17.4 36 26.7 3.7 44.5-13.9 47-11.4 47.6-6.8 32.1z" fill="#969696"/>
<path d="M1368 975l10.6-7.2 8.5-10.4 7.4-6.6 9.2-10.1 8.5-12.3 6.1-12.2 4.6-12.1 2.2-12.1 4.8-10.7 3.9 0.3 7.8 12.6 7.4 17.2 3.8 19.9 0.9 21.8-4.6 23.6-7.5 21.2-10.4 17.4-35.1-13.6-27.5-25.1z" fill="#979797"/>
<path d="M953 860l-1 30 1 30 4 30 6.6 32.3 4.9 24.5 8.2 24.4 11.4 24.5 16.3 24.5 16.3 19.5 18 13.1 14.6 5.7 0.3-0.8-9.5-14.2-4.9-23.3-0.3-25.6-0.9-27.1 0.2-20.9-0.6-18.3-0.3-20.9-6.2-30-11.2-23-18.7-24.4-21.4-29.1z" fill="#979797"/>
<path d="M1270.6 767l-18.6 1.8-15.3 2.5-13.7 3.7-15.1 2.5-16.2 3.2-16 3.2-15.8 4.8-15.9 5.5-15.9 7.1-15.8 8-15.8 10.2-15.8 11.9-15.9 14.2-12.5 14.1-9.2 13.8-5.9 13.3-2.1 11.2 1.4 11.1 4.4 11.7 6.4 10.1 8.8 8.8 10.3 6.5 12.1 5.3 12 3 12.4 1.5 14.2 2.9 23.8 0.6 29 0 30-1 25.2 0 20.1 2 16.9 3-0.3 3-17.1 0-19.8 1-24.8 1-29.8 2-29.1 1-24.3 2.4-15.7 1.1-15.1 3.1-17.7 2.7-22.2 3.4-27.1 1.4-31.7-6.4-24.4-19.6-14.8-28.5-2.1-35.8 12-33.8 19.5-24.5 21.9-18.5 23.6-14.6 23.8-13.4 22.1-10.3 21.3-9.1 20.2-6.8 19.4-5.4 19.1-3.5 18.9-2.5 18.1-0.7 17.5 0.7 16.5 1.3 15.6 3.1 16.4 3.5 18.6 3.2z" fill="#989898"/>
<path d="M1372.7 1126.2l11.4-1.6 16.2-2.5 16.1-1.5 16.9-1.7 14.6-4.6 12.4-7 11.7-8.4 14.3-10.4 18.4-15.3 30.4-28.4 35.4-40.4 45.3-60.5 50.1-80.2-179.4-112.2-79.7 50.6-52.7 29.2-28.2 13.6-14.3 12.8 3.6 12.8 11.4 26.9 14.6 25.1 30.8 16.4 31.2 24.4 1.7 40.3-14.2 42.6-11.8 43.2-7.3 29.1z" fill="#989898"/>
<path d="M1270.6 767l-18.6 1.8-15.3 2.5-13.7 3.7-15.1 2.5-16.2 3.2-16 3.2-15.8 4.8-15.9 5.5-15.9 7.1-15.8 8-15.8 10.2-15.8 11.9-15.9 14.2-12.5 14.1-9.2 13.8-5.9 13.3-2.1 11.2 1.4 11.1 4.4 11.7 6.4 10.1 8.8 8.8 10.3 6.5 12.1 5.3 12 3 12.4 1.5 14.2 2.9 23.8 0.6 29 0 30-1 25.2 0 20.1 2 16.9 3-0.3 2.8-17.1-0.1-19.8 0.8-24.8 0.9-29.9 2-29 1-24.3 2.2-15.6 0.9-15 2.8-17.3 2.2-21.4 2.6-25.9 0.7-29.9-6.6-23-19-14.1-27.2-2-34 11.3-32.2 18.4-23.6 20.9-18.2 22.8-14.6 23.2-13.5 21.6-10.5 20.9-9.2 19.9-6.9 19.1-5.6 18.9-3.7 18.7-2.7 18-0.8 17.4 0.3 16.3 1.1 15.6 2.6 16.3 3.2 18.6 3z" fill="#9a9a9a"/>
<path d="M1368 975l10.6-7.2 8.5-10.4 7.4-6.6 9.2-10.1 8.5-12.3 6.1-12.2 4.6-12.1 2.2-12.1 4.8-10.7 3.8 0.3 6.6 12.4 6.2 16.7 2.6 19-0.2 20.6-5.1 22.2-7.8 19.8-10.1 16.1-32-10.8-25.4-21.2z" fill="#9b9b9b"/>
<path d="M1372.7 1126.2l11.4-1.6 16.2-2.5 16.1-1.5 16.9-1.7 14.6-4.6 12.4-7 11.7-8.4 14.3-10.4 18.4-15.3 30.4-28.4 35.4-40.4 45.3-60.5 50.1-80.2-161.4-100.9-76.6 53.6-51.9 32.4-28.9 16.3-15.9 14.4 1.3 13.1 8.8 25.1 11.9 23.4 26.4 15.3 26.6 22.4-0.2 36.3-14.4 38.2-12.3 39-7.7 26.3z" fill="#9b9b9b"/>
<path d="M953 860l-1 30 1 30 4 30 6.6 32.3 4.9 24.5 8.2 24.4 11.4 24.5 16.3 24.5 16.3 19.5 18 13.1 14.6 5.7 0.3-0.7-10.1-13.2-6.4-22.2-2.1-24.9-2.7-26.8-1.1-21.3-1.4-19-0.9-21.3-6.2-30.3-10.4-23.7-16.7-25.1-18.8-29.2z" fill="#9b9b9b"/>
<path d="M1270.6 767l-18.6 1.8-15.3 2.5-13.7 3.7-15.1 2.5-16.2 3.2-16 3.2-15.8 4.8-15.9 5.5-15.9 7.1-15.8 8-15.8 10.2-15.8 11.9-15.9 14.2-12.5 14.1-9.2 13.8-5.9 13.3-2.1 11.2 1.4 11.1 4.4 11.7 6.4 10.1 8.8 8.8 10.3 6.5 12.1 5.3 12 3 12.4 1.5 14.2 2.9 23.8 0.6 29 0 30-1 25.2 0 20.1 2 16.9 3-0.3 2.7-17.1-0.3-19.8 0.6-24.8 0.9-29.9 1.8-29 1-24.3 2.1-15.5 0.7-14.8 2.4-17 1.8-20.7 1.9-24.6 0-28.2-6.9-21.7-18.3-13.2-26-2-32.2 10.5-30.5 17.3-22.9 20-17.9 22-14.6 22.6-13.6 21.1-10.6 20.6-9.3 19.5-7.1 18.9-5.7 18.7-3.9 18.5-2.9 17.8-1 17.3 0 16.3 0.8 15.4 2.3 16.3 2.8 18.6 2.7z" fill="#9d9d9d"/>
<path d="M1372.7 1126.2l11.4-1.6 16.2-2.5 16.1-1.5 16.9-1.7 14.6-4.6 12.4-7 11.7-8.4 14.3-10.4 18.4-15.3 30.4-28.4 35.4-40.4 45.3-60.5 50.1-80.2-144.2-90.1-73.6 56.5-51.2 35.4-29.6 19-17.5 15.9-0.7 13.3 6.2 23.5 9.3 21.7 22.2 14.3 22.2 20.3-1.9 32.5-14.6 34.2-12.7 34.9-8.2 23.6z" fill="#9e9e9e"/>
<path d="M1368 975l10.6-7.2 8.5-10.4 7.4-6.6 9.2-10.1 8.5-12.3 6.1-12.2 4.6-12.1 2.2-12.1 4.8-10.7 3.6 0.3 5.6 12.3 4.9 16.1 1.5 18.1-1.1 19.5-5.7 20.9-8.1 18.4-9.8 14.8-28.9-8.1-23.4-17.4z" fill="#9e9e9e"/>
<path d="M953 860l-1 30 1 30 4 30 6.6 32.3 4.9 24.5 8.2 24.4 11.4 24.5 16.3 24.5 16.3 19.5 18 13.1 14.6 5.7 0.3-0.6-10.7-12.3-7.8-21-3.8-24.3-4.4-26.5-2.4-21.8-2.2-19.6-1.4-21.7-6.2-30.5-9.6-24.5-14.8-25.7-16.4-29.3z" fill="#9f9f9f"/>
<path d="M1270.6 767l-18.6 1.8-15.3 2.5-13.7 3.7-15.1 2.5-16.2 3.2-16 3.2-15.8 4.8-15.9 5.5-15.9 7.1-15.8 8-15.8 10.2-15.8 11.9-15.9 14.2-12.5 14.1-9.2 13.8-5.9 13.3-2.1 11.2 1.4 11.1 4.4 11.7 6.4 10.1 8.8 8.8 10.3 6.5 12.1 5.3 12 3 12.4 1.5 14.2 2.9 23.8 0.6 29 0 30-1 25.2 0 20.1 2 16.9 3-0.3 2.5-17-0.5-19.9 0.6-24.8 0.7-29.9 1.8-29 1-24.3 1.9-15.4 0.6-14.7 2.1-16.6 1.2-20 1.3-23.4-0.7-26.5-7.1-20.4-17.8-12.4-24.8-2-30.4 9.8-28.9 16.3-22.1 19.1-17.6 21.1-14.7 22-13.7 20.8-10.7 20.1-9.5 19.3-7.1 18.6-5.9 18.5-4 18.2-3.1 17.7-1.3 17.3-0.2 16.2 0.4 15.3 1.9 16.2 2.6 18.6 2.5z" fill="#a0a0a0"/>
<path d="M1372.7 1126.2l11.4-1.6 16.2-2.5 16.1-1.5 16.9-1.7 14.6-4.6 12.4-7 11.7-8.4 14.3-10.4 18.4-15.3 30.4-28.4 35.4-40.4 45.3-60.5 50.1-80.2-127.8-79.9-70.9 59.3-50.4 38.3-30.2 21.5-19 17.3-2.8 13.5 3.8 21.9 6.9 20.1 18.2 13.4 18 18.5-3.6 28.7-14.8 30.4-13.1 31.1-8.6 20.9z" fill="#a0a0a0"/>
<path d="M1368 975l10.6-7.2 8.5-10.4 7.4-6.6 9.2-10.1 8.5-12.3 6.1-12.2 4.6-12.1 2.2-12.1 4.8-10.7 3.5 0.2 4.5 12.2 3.8 15.7 0.4 17.3-1.9 18.4-6.3 19.6-8.3 17.2-9.5 13.6-26.1-5.6-21.6-13.9z" fill="#a2a2a2"/>
<path d="M1372.7 1126.2l11.4-1.6 16.2-2.5 16.1-1.5 16.9-1.7 14.6-4.6 12.4-7 11.7-8.4 14.3-10.4 18.4-15.3 30.4-28.4 35.4-40.4 45.3-60.5 50.1-80.2-112.3-70.2-68.2 61.9-49.7 41.1-30.9 23.8-20.3 18.7-4.8 13.7 1.6 20.4 4.5 18.6 14.5 12.6 14 16.5-5.2 25.4-15 26.7-13.6 27.4-8.9 18.5z" fill="#a3a3a3"/>
<path d="M1270.6 767l-18.6 1.8-15.3 2.5-13.7 3.7-15.1 2.5-16.2 3.2-16 3.2-15.8 4.8-15.9 5.5-15.9 7.1-15.8 8-15.8 10.2-15.8 11.9-15.9 14.2-12.5 14.1-9.2 13.8-5.9 13.3-2.1 11.2 1.4 11.1 4.4 11.7 6.4 10.1 8.8 8.8 10.3 6.5 12.1 5.3 12 3 12.4 1.5 14.2 2.9 23.8 0.6 29 0 30-1 25.2 0 20.1 2 16.9 3-0.3 2.4-17-0.7-19.9 0.4-24.8 0.7-29.9 1.7-29.1 1-24.2 1.8-15.3 0.4-14.6 1.7-16.2 0.8-19.3 0.6-22.3-1.4-24.8-7.4-19.1-17.1-11.7-23.6-1.9-28.7 9-27.4 15.4-21.3 18.1-17.4 20.4-14.6 21.5-13.8 20.2-10.9 19.8-9.6 19-7.2 18.4-6 18.2-4.2 18.1-3.3 17.5-1.4 17.2-0.6 16.1 0.2 15.2 1.5 16.2 2.3 18.6 2.2z" fill="#a3a3a3"/>
<path d="M953 860l-1 30 1 30 4 30 6.6 32.3 4.9 24.5 8.2 24.4 11.4 24.5 16.3 24.5 16.3 19.5 18 13.1 14.6 5.7 0.2-0.6-11.2-11.4-9.1-19.9-5.5-23.7-6-26.2-3.5-22.1-3.1-20.3-1.8-22.1-6.3-30.7-8.9-25.3-12.9-26.2-14.1-29.4z" fill="#a3a3a3"/>
<path d="M1372.7 1126.2l11.4-1.6 16.2-2.5 16.1-1.5 16.9-1.7 14.6-4.6 12.4-7 11.7-8.4 14.3-10.4 18.4-15.3 30.4-28.4 35.4-40.4 45.3-60.5 50.1-80.2-97.7-61.1-65.7 64.5-49.1 43.7-31.4 26-21.7 20-6.5 13.8-0.6 19 2.3 17.2 10.9 11.7 10.4 14.9-6.8 22-15.2 23.3-13.9 24-9.3 16.2z" fill="#a6a6a6"/>
<path d="M1368 975l10.6-7.2 8.5-10.4 7.4-6.6 9.2-10.1 8.5-12.3 6.1-12.2 4.6-12.1 2.2-12.1 4.8-10.7 3.4 0.2 3.6 12.1 2.6 15.2-0.5 16.5-2.8 17.4-6.8 18.5-8.6 15.9-9.2 12.5-23.4-3.3-19.9-10.5z" fill="#a6a6a6"/>
<path d="M1270.6 767l-18.6 1.8-15.3 2.5-13.7 3.7-15.1 2.5-16.2 3.2-16 3.2-15.8 4.8-15.9 5.5-15.9 7.1-15.8 8-15.8 10.2-15.8 11.9-15.9 14.2-12.5 14.1-9.2 13.8-5.9 13.3-2.1 11.2 1.4 11.1 4.4 11.7 6.4 10.1 8.8 8.8 10.3 6.5 12.1 5.3 12 3 12.4 1.5 14.2 2.9 23.8 0.6 29 0 30-1 25.2 0 20.1 2 16.9 3-0.2 2.2-17.1-0.8-19.9 0.3-24.8 0.6-29.9 1.6-29.1 1-24.2 1.6-15.3 0.3-14.3 1.4-15.9 0.3-18.7-0.1-21.1-1.9-23.2-7.7-17.8-16.5-11-22.5-1.9-27 8.3-25.9 14.5-20.6 17.2-17.1 19.6-14.6 20.9-13.9 19.9-11 19.3-9.7 18.7-7.4 18.2-6.1 18.1-4.4 17.9-3.4 17.4-1.7 17-0.8 16.1-0.1 15.1 1.2 16.1 1.9 18.6 2.1z" fill="#a6a6a6"/>
<path d="M953 860l-1 30 1 30 4 30 6.6 32.3 4.9 24.5 8.2 24.4 11.4 24.5 16.3 24.5 16.3 19.5 18 13.1 14.6 5.7 0.2-0.5-11.7-10.6-10.4-18.9-7.1-23-7.5-26-4.7-22.5-3.8-20.9-2.3-22.4-6.3-31-8.2-25.9-11.2-26.8-11.8-29.5z" fill="#a7a7a7"/>
<path d="M1372.7 1126.2l11.4-1.6 16.2-2.5 16.1-1.5 16.9-1.7 14.6-4.6 12.4-7 11.7-8.4 14.3-10.4 18.4-15.3 30.4-28.4 35.4-40.4 45.3-60.5 50.1-80.2-83.9-52.5-63.4 66.8-48.5 46.1-31.9 28.1-23 21.2-8.2 14-2.7 17.7 0.3 15.8 7.6 11 6.8 13.2-8.2 19-15.3 20.1-14.3 20.8-9.6 13.9z" fill="#aaaaaa"/>
<path d="M953 860l-1 30 1 30 4 30 6.6 32.3 4.9 24.5 8.2 24.4 11.4 24.5 16.3 24.5 16.3 19.5 18 13.1 14.6 5.7 0.2-0.4-12.2-9.8-11.7-18-8.5-22.4-8.9-25.8-5.8-22.8-4.5-21.4-2.7-22.8-6.4-31.2-7.5-26.6-9.5-27.3-9.8-29.6z" fill="#ababab"/>
<path d="M1270.6 767l-18.6 1.8-15.3 2.5-13.7 3.7-15.1 2.5-16.2 3.2-16 3.2-15.8 4.8-15.9 5.5-15.9 7.1-15.8 8-15.8 10.2-15.8 11.9-15.9 14.2-12.5 14.1-9.2 13.8-5.9 13.3-2.1 11.2 1.4 11.1 4.4 11.7 6.4 10.1 8.8 8.8 10.3 6.5 12.1 5.3 12 3 12.4 1.5 14.2 2.9 23.8 0.6 29 0 30-1 25.2 0 20.1 2 16.9 3-0.2 2.1-17.1-0.9-19.9 0.1-24.8 0.5-30 1.5-29 1-24.2 1.5-15.2 0.2-14.2 1-15.5-0.1-18.1-0.7-19.9-2.6-21.7-7.9-16.6-15.9-10.2-21.5-1.9-25.4 7.6-24.3 13.5-19.9 16.4-16.8 18.8-14.7 20.4-14 19.4-11.1 19.1-9.8 18.4-7.5 18-6.2 17.8-4.6 17.7-3.6 17.3-1.8 17-1.1 15.9-0.4 15 0.8 16.1 1.7 18.6 1.8z" fill="#ababab"/>
<path d="M1368 975l10.6-7.2 8.5-10.4 7.4-6.6 9.2-10.1 8.5-12.3 6.1-12.2 4.6-12.1 2.2-12.1 4.8-10.7 3.4 0.2 2.6 11.9 1.5 14.8-1.4 15.8-3.5 16.5-7.2 17.3-8.9 14.9-9 11.4-20.9-1-18.3-7.4z" fill="#adadad"/>
<path d="M953 860l-1 30 1 30 4 30 6.6 32.3 4.9 24.5 8.2 24.4 11.4 24.5 16.3 24.5 16.3 19.5 18 13.1 14.6 5.7 0.1-0.3-12.6-9.1-12.8-17.1-10-21.9-10.2-25.5-6.8-23.1-5.2-22-3.1-23.1-6.4-31.4-6.9-27.2-8-27.8-7.8-29.6z" fill="#afafaf"/>
<path d="M1372.7 1126.2l11.4-1.6 16.2-2.5 16.1-1.5 16.9-1.7 14.6-4.6 12.4-7 11.7-8.4 14.3-10.4 18.4-15.3 30.4-28.4 35.4-40.4 45.3-60.5 50.1-80.2-71.2-44.5-61.1 69-47.9 48.4-32.5 30-24.1 22.3-9.8 14.2-4.5 16.5-1.7 14.5 4.5 10.2 3.6 11.8-9.6 16.1-15.5 17-14.6 17.8-9.8 12z" fill="#b0b0b0"/>
<path d="M1270.6 767l-18.6 1.8-15.3 2.5-13.7 3.7-15.1 2.5-16.2 3.2-16 3.2-15.8 4.8-15.9 5.5-15.9 7.1-15.8 8-15.8 10.2-15.8 11.9-15.9 14.2-12.5 14.1-9.2 13.8-5.9 13.3-2.1 11.2 1.4 11.1 4.4 11.7 6.4 10.1 8.8 8.8 10.3 6.5 12.1 5.3 12 3 12.4 1.5 14.2 2.9 23.8 0.6 29 0 30-1 25.2 0 20.1 2 16.9 3-0.2 1.9-17.1-1-19.9-0.1-24.8 0.5-30 1.5-29 1-24.2 1.3-15.1 0.1-14.1 0.6-15.2-0.5-17.4-1.3-18.9-3.2-20.1-8.2-15.4-15.3-9.6-20.4-1.8-23.8 7-22.9 12.6-19.2 15.5-16.6 18.1-14.6 19.8-14.1 19.1-11.3 18.7-9.9 18.1-7.5 17.8-6.4 17.6-4.7 17.5-3.8 17.2-2 16.9-1.4 15.8-0.7 15 0.6 16 1.3 18.6 1.7z" fill="#b2b2b2"/>
<path d="M953 860l-1 30 1 30 4 30 6.6 32.3 4.9 24.5 8.2 24.4 11.4 24.5 16.3 24.5 16.3 19.5 18 13.1 14.6 5.7 0.1-0.3-13-8.3-13.9-16.3-11.3-21.4-11.5-25.3-7.7-23.4-5.8-22.5-3.5-23.4-6.5-31.6-6.2-27.7-6.6-28.3-6-29.7z" fill="#b3b3b3"/>
<path d="M953 860l-1 30 1 30 4 30 6.6 32.3 4.9 24.5 8.2 24.4 11.4 24.5 16.3 24.5 16.3 19.5 18 13.1 14.6 5.7 0.1-0.2-13.4-7.7-14.9-15.5-12.5-21-12.6-25.1-8.6-23.7-6.4-22.9-3.8-23.7-6.5-31.7-5.7-28.3-5.3-28.7-4.3-29.8z" fill="#b8b8b8"/>
<path d="M1368 975l10.6-7.2 8.5-10.4 7.4-6.6 9.2-10.1 8.5-12.3 6.1-12.2 4.6-12.1 2.2-12.1 4.8-10.7 3.3 0.2 1.7 11.8 0.7 14.4-2.3 15.1-4.2 15.7-7.7 16.3-9.1 13.8-8.8 10.4-18.6 1.1-16.7-4.6z" fill="#b9b9b9"/>
<path d="M1372.7 1126.2l11.4-1.6 16.2-2.5 16.1-1.5 16.9-1.7 14.6-4.6 12.4-7 11.7-8.4 14.3-10.4 18.4-15.3 30.4-28.4 35.4-40.4 45.3-60.5 50.1-80.2-59.3-37.1-59.1 71-47.4 50.5-32.9 31.8-25.2 23.4-11.3 14.3-6.3 15.3-3.4 13.4 1.6 9.6 0.5 10.3-10.7 13.6-15.7 14.2-14.9 15-10.1 10.1z" fill="#bababa"/>
<path d="M1270.6 767l-18.6 1.8-15.3 2.5-13.7 3.7-15.1 2.5-16.2 3.2-16 3.2-15.8 4.8-15.9 5.5-15.9 7.1-15.8 8-15.8 10.2-15.8 11.9-15.9 14.2-12.5 14.1-9.2 13.8-5.9 13.3-2.1 11.2 1.4 11.1 4.4 11.7 6.4 10.1 8.8 8.8 10.3 6.5 12.1 5.3 12 3 12.4 1.5 14.2 2.9 23.8 0.6 29 0 30-1 25.2 0 20.1 2 16.9 3-0.2 1.8-17-1.2-20-0.2-24.8 0.4-30 1.4-29 1-24.2 1.3-15-0.1-14 0.3-14.9-0.9-16.8-2-17.8-3.8-18.6-8.4-14.3-14.7-8.9-19.4-1.8-22.2 6.3-21.5 11.8-18.6 14.7-16.3 17.4-14.6 19.3-14.2 18.7-11.4 18.3-10 17.9-7.7 17.5-6.5 17.5-4.8 17.3-3.9 17.1-2.3 16.8-1.6 15.8-0.9 14.8 0.2 16 1.1 18.6 1.4z" fill="#bbbbbb"/>
<path d="M953 860l-1 30 1 30 4 30 6.6 32.3 4.9 24.5 8.2 24.4 11.4 24.5 16.3 24.5 16.3 19.5 18 13.1 14.6 5.7 0.1-0.1-13.8-7.2-15.7-14.8-13.6-20.6-13.7-24.9-9.4-23.9-6.9-23.4-4.1-23.8-6.6-32-5.2-28.8-4-29-2.8-29.8z" fill="#bebebe"/>
<path d="M1372.7 1126.2l11.4-1.6 16.2-2.5 16.1-1.5 16.9-1.7 14.6-4.6 12.4-7 11.7-8.4 14.3-10.4 18.4-15.3 30.4-28.4 35.4-40.4 45.3-60.5 50.1-80.2-48.5-30.3-57.2 72.8-46.9 52.4-33.4 33.5-26.1 24.3-12.7 14.5-7.9 14.3-5 12.3-1 8.9-2.3 9.1-11.8 11.1-15.8 11.7-15.2 12.4-10.4 8.4z" fill="#c8c8c8"/>
<path d="M1270.6 767l-18.6 1.8-15.3 2.5-13.7 3.7-15.1 2.5-16.2 3.2-16 3.2-15.8 4.8-15.9 5.5-15.9 7.1-15.8 8-15.8 10.2-15.8 11.9-15.9 14.2-12.5 14.1-9.2 13.8-5.9 13.3-2.1 11.2 1.4 11.1 4.4 11.7 6.4 10.1 8.8 8.8 10.3 6.5 12.1 5.3 12 3 12.4 1.5 14.2 2.9 23.8 0.6 29 0 30-1 25.2 0 20.1 2 16.9 3-0.2 1.7-17-1.3-19.9-0.4-25 0.4-29.9 1.3-29 1-24.1 1.1-15.1-0.2-13.8 0-14.6-1.3-16.2-2.5-16.7-4.4-17.3-8.6-13.1-14.2-8.3-18.4-1.8-20.8 5.7-20.1 10.9-18 13.9-16 16.7-14.7 18.9-14.2 18.3-11.6 18-10 17.6-7.8 17.4-6.6 17.2-5 17.2-4.1 16.9-2.4 16.8-1.8 15.7-1.2 14.8-0.2 15.9 0.9 18.6 1.2z" fill="#cccccc"/>
<path d="M953 860l-1 30 1 30 4 30 6.6 32.3 4.9 24.5 8.2 24.4 11.4 24.5 16.3 24.5 16.3 19.5 18 13.1 14.6 5.7 0-0.1-14-6.6-16.5-14.3-14.6-20.1-14.6-24.8-10.1-24.1-7.3-23.8-4.4-24.1-6.6-32-4.8-29.2-2.9-29.4-1.5-29.9z" fill="#cecece"/>
<path d="M1368 975l10.6-7.2 8.5-10.4 7.4-6.6 9.2-10.1 8.5-12.3 6.1-12.2 4.6-12.1 2.2-12.1 4.8-10.7 3.2 0.2 1 11.7-0.2 14-3 14.5-4.9 14.9-8.1 15.4-9.2 13-8.6 9.5-16.6 2.8-15.4-1.9z" fill="#d3d3d3"/>
<path d="M953 860l-1 30 1 30 4 30 6.6 32.3 4.9 24.5 8.2 24.4 11.4 24.5 16.3 24.5 16.3 19.5 18 13.1 14.6 5.7 0-0.1-14.3-6.2-17.2-13.7-15.3-19.8-15.4-24.7-10.7-24.3-7.7-24-4.7-24.3-6.5-32.2-4.5-29.5-2-29.7-0.4-29.9z" fill="#e4e4e4"/>
<path d="M1372.7 1126.2l11.4-1.6 16.2-2.5 16.1-1.5 16.9-1.7 14.6-4.6 12.4-7 11.7-8.4 14.3-10.4 18.4-15.3 30.4-28.4 35.4-40.4 45.3-60.5 50.1-80.2-38.7-24.2-55.6 74.5-46.4 54.2-33.7 35-27.1 25.1-13.9 14.6-9.3 13.3-6.5 11.4-3.4 8.4-4.7 7.9-12.9 8.9-15.9 9.4-15.5 10.2-10.6 6.7z" fill="#e4e4e4"/>
<path d="M1270.6 767l-18.6 1.8-15.3 2.5-13.7 3.7-15.1 2.5-16.2 3.2-16 3.2-15.8 4.8-15.9 5.5-15.9 7.1-15.8 8-15.8 10.2-15.8 11.9-15.9 14.2-12.5 14.1-9.2 13.8-5.9 13.3-2.1 11.2 1.4 11.1 4.4 11.7 6.4 10.1 8.8 8.8 10.3 6.5 12.1 5.3 12 3 12.4 1.5 14.2 2.9 23.8 0.6 29 0 30-1 25.2 0 20.1 2 16.9 3-0.2 1.6-17-1.5-19.9-0.4-25 0.3-29.9 1.2-29 1-24.1 1-15-0.4-13.7-0.2-14.3-1.7-15.6-3.1-15.8-4.9-15.9-8.8-12.1-13.7-7.7-17.4-1.7-19.4 5.1-18.9 10.1-17.3 13.2-15.8 16-14.7 18.4-14.3 17.9-11.7 17.7-10.2 17.4-7.8 17.2-6.7 17.1-5.1 17-4.3 16.8-2.5 16.7-2.1 15.6-1.5 14.7-0.4 15.9 0.6 18.6 1z" fill="#e9e9e9"/>
<path d="M953 860l-1 30 1 30 4 30 6.6 32.3 4.9 24.5 8.2 24.4 11.4 24.5 16.3 24.5 16.3 19.5 18 13.1 14.6 5.7-14.5-5.9-17.7-13.3-16-19.6-15.9-24.6-11.2-24.4-8-24.3-4.8-24.4-6.6-32.3-4.2-29.8-1.4-29.9 0.6-30z" fill="#f3f3f3"/>
<path d="M1368 975l10.6-7.2 8.5-10.4 7.4-6.6 9.2-10.1 8.5-12.3 6.1-12.2 4.6-12.1 2.2-12.1 4.8-10.7 3.1 0.2 0.4 11.6-1 13.7-3.7 14-5.4 14.2-8.4 14.6-9.5 12.1-8.4 8.8-14.7 4.4-14.2 0.3z" fill="#f6f6f6"/>
<path d="M1372.7 1126.2l11.4-1.6 16.2-2.5 16.1-1.5 16.9-1.7 14.6-4.6 12.4-7 11.7-8.4 14.3-10.4 18.4-15.3 30.4-28.4 35.4-40.4 45.3-60.5 50.1-80.2-29.9-18.7-54.1 75.9-46.1 55.7-34.1 36.4-27.8 25.9-15 14.7-10.6 12.5-7.8 10.5-5.5 7.9-7 6.9-13.8 7-16 7.2-15.7 8.2-10.8 5.4z" fill="#f6f6f6"/>
<path d="M1270.6 767l-18.6 1.8-15.3 2.5-13.7 3.7-15.1 2.5-16.2 3.2-16 3.2-15.8 4.8-15.9 5.5-15.9 7.1-15.8 8-15.8 10.2-15.8 11.9-15.9 14.2-12.5 14.1-9.2 13.8-5.9 13.3-2.1 11.2 1.4 11.1 4.4 11.7 6.4 10.1 8.8 8.8 10.3 6.5 12.1 5.3 12 3 12.4 1.5 14.2 2.9 23.8 0.6 29 0 30-1 25.2 0 20.1 2 16.9 3-0.2 1.4-17-1.5-19.9-0.6-25 0.2-29.9 1.3-29.1 1-24 0.8-14.9-0.5-13.6-0.5-14-2-15.1-3.7-14.9-5.4-14.6-9-11.1-13.2-7.1-16.5-1.7-18.1 4.5-17.6 9.4-16.8 12.5-15.5 15.4-14.7 17.9-14.4 17.6-11.8 17.4-10.3 17.2-7.9 17-6.8 16.9-5.3 16.9-4.3 16.7-2.8 16.6-2.3 15.6-1.7 14.5-0.7 15.9 0.4 18.6 0.9z" fill="#f8f8f8"/>
<path d="M1372.7 1126.2l11.4-1.6 16.2-2.5 16.1-1.5 16.9-1.7 14.6-4.6 12.4-7 11.7-8.4 14.3-10.4 18.4-15.3 30.4-28.4 35.4-40.4 45.3-60.5 50.1-80.2-22.3-14-52.8 77.2-45.8 57.1-34.3 37.5-28.6 26.6-15.9 14.8-11.7 11.7-8.9 9.9-7.4 7.4-8.9 6-14.6 5.3-16.1 5.5-15.9 6.3-11 4.2z" fill="#fafafa"/>
<path d="M1270.6 767l-18.6 1.8-15.3 2.5-13.7 3.7-15.1 2.5-16.2 3.2-16 3.2-15.8 4.8-15.9 5.5-15.9 7.1-15.8 8-15.8 10.2-15.8 11.9-15.9 14.2-12.5 14.1-9.2 13.8-5.9 13.3-2.1 11.2 1.4 11.1 4.4 11.7 6.4 10.1 8.8 8.8 10.3 6.5 12.1 5.3 12 3 12.4 1.5 14.2 2.9 23.8 0.6 29 0 30-1 25.2 0 20.1 2 16.9 3-0.1 1.3-17.1-1.6-19.9-0.7-25 0.2-30 1.1-29 1-24 0.7-14.9-0.5-13.4-0.8-13.8-2.4-14.6-4.2-14-5.8-13.4-9.3-10.1-12.7-6.5-15.7-1.7-16.7 4-16.5 8.6-16.3 11.8-15.3 14.8-14.7 17.6-14.5 17.2-11.8 17.2-10.4 16.9-8 16.8-6.9 16.8-5.4 16.7-4.5 16.6-2.9 16.6-2.5 15.5-1.9 14.5-1 15.8 0.2 18.6 0.7z" fill="#fbfbfb"/>
<path d="M1368 975l10.6-7.2 8.5-10.4 7.4-6.6 9.2-10.1 8.5-12.3 6.1-12.2 4.6-12.1 2.2-12.1 4.8-10.7 3.1 0.2-0.3 11.5-1.6 13.4-4.2 13.6-6 13.6-8.6 14-9.6 11.4-8.3 8.1-13.2 5.8-13.2 2.2z" fill="#fcfcfc"/>
<path d="M1270.6 767l-18.6 1.8-15.3 2.5-13.7 3.7-15.1 2.5-16.2 3.2-16 3.2-15.8 4.8-15.9 5.5-15.9 7.1-15.8 8-15.8 10.2-15.8 11.9-15.9 14.2-12.5 14.1-9.2 13.8-5.9 13.3-2.1 11.2 1.4 11.1 4.4 11.7 6.4 10.1 8.8 8.8 10.3 6.5 12.1 5.3 12 3 12.4 1.5 14.2 2.9 23.8 0.6 29 0 30-1 25.2 0 20.1 2 16.9 3-0.1 1.2-17-1.7-20-0.8-25 0.1-30 1.1-29 1-24 0.6-14.8-0.6-13.4-1.1-13.5-2.6-14.1-4.7-13.2-6.3-12.3-9.4-9.2-12.4-6-14.8-1.7-15.6 3.5-15.4 8-15.8 11.1-15.1 14.3-14.7 17.2-14.5 16.9-12 16.9-10.4 16.7-8.1 16.7-7.1 16.6-5.4 16.6-4.7 16.5-2.9 16.5-2.8 15.5-2.1 14.4-1.2 15.8-0.1 18.6 0.6z" fill="#fcfcfc"/>
<path d="M1372.7 1126.2l11.4-1.6 16.2-2.5 16.1-1.5 16.9-1.7 14.6-4.6 12.4-7 11.7-8.4 14.3-10.4 18.4-15.3 30.4-28.4 35.4-40.4 45.3-60.5 50.1-80.2-16-10-51.7 78.3-45.5 58.2-34.6 38.5-29 27.1-16.8 14.9-12.6 11.1-9.9 9.2-8.9 7.1-10.6 5.3-15.2 3.8-16.2 4-16 4.9-11.2 3.2z" fill="#fcfcfc"/>
<path d="M1270.6 767l-18.6 1.8-15.3 2.5-13.7 3.7-15.1 2.5-16.2 3.2-16 3.2-15.8 4.8-15.9 5.5-15.9 7.1-15.8 8-15.8 10.2-15.8 11.9-15.9 14.2-12.5 14.1-9.2 13.8-5.9 13.3-2.1 11.2 1.4 11.1 4.4 11.7 6.4 10.1 8.8 8.8 10.3 6.5 12.1 5.3 12 3 12.4 1.5 14.2 2.9 23.8 0.6 29 0 30-1 25.2 0 20.1 2 16.9 3-0.1 1.1-17-1.8-20-0.9-25 0.1-30 1-29 1-24 0.6-14.8-0.8-13.2-1.3-13.3-2.9-13.7-5.1-12.5-6.7-11.2-9.6-8.5-11.9-5.6-14.1-1.6-14.6 3.1-14.5 7.3-15.2 10.6-15 13.8-14.7 16.8-14.6 16.7-12.1 16.7-10.4 16.5-8.2 16.5-7.1 16.5-5.6 16.5-4.7 16.4-3.1 16.5-3 15.4-2.2 14.4-1.5 15.7-0.2 18.6 0.4z" fill="#fdfdfd"/>
<path d="M1372.7 1126.2l11.4-1.6 16.2-2.5 16.1-1.5 16.9-1.7 14.6-4.6 12.4-7 11.7-8.4 14.3-10.4 18.4-15.3 30.4-28.4 35.4-40.4 45.3-60.5 50.1-80.2-11-6.9-50.8 79.2-45.3 59.1-34.8 39.2-29.5 27.6-17.4 14.9-13.3 10.7-10.7 8.7-10.1 6.8-11.8 4.7-15.8 2.7-16.3 2.8-16.1 3.7-11.3 2.4z" fill="#fefefe"/>
<path d="M1368 975l10.6-7.2 8.5-10.4 7.4-6.6 9.2-10.1 8.5-12.3 6.1-12.2 4.6-12.1 2.2-12.1 4.8-10.7 3 0.2-0.6 11.4-2.2 13.2-4.6 13.2-6.3 13.3-8.9 13.4-9.7 10.9-8.2 7.5-12 7-12.4 3.6z" fill="#fefefe"/>
<path d="M1270.6 767l-18.6 1.8-15.3 2.5-13.7 3.7-15.1 2.5-16.2 3.2-16 3.2-15.8 4.8-15.9 5.5-15.9 7.1-15.8 8-15.8 10.2-15.8 11.9-15.9 14.2-12.5 14.1-9.2 13.8-5.9 13.3-2.1 11.2 1.4 11.1 4.4 11.7 6.4 10.1 8.8 8.8 10.3 6.5 12.1 5.3 12 3 12.4 1.5 14.2 2.9 23.8 0.6 29 0 30-1 25.2 0 20.1 2 16.9 3-0.1 1.1-17-2-20-0.9-25 0-30 1-29 1-24 0.5-14.7-0.9-13.2-1.4-13.1-3.2-13.4-5.4-11.8-7.1-10.4-9.7-7.7-11.6-5.2-13.5-1.6-13.7 2.6-13.6 6.9-14.9 10.1-14.8 13.4-14.7 16.5-14.7 16.5-12.1 16.4-10.6 16.4-8.1 16.4-7.3 16.4-5.6 16.3-4.9 16.4-3.2 16.4-3.1 15.3-2.4 14.4-1.6 15.7-0.4 18.6 0.2z" fill="#ffffff"/>
<path d="M1372.7 1126.2l11.4-1.6 16.2-2.5 16.1-1.5 16.9-1.7 14.6-4.6 12.4-7 11.7-8.4 14.3-10.4 18.4-15.3 30.4-28.4 35.4-40.4 45.3-60.5 50.1-80.2-7.5-4.7-50.2 79.8-45.1 59.7-34.9 39.7-29.9 27.9-17.8 15-13.9 10.3-11.1 8.4-11.1 6.6-12.7 4.3-16.1 1.9-16.3 2-16.2 2.8-11.4 1.9z" fill="#ffffff"/>
<path d="M953 860l-1 30 1 30 4 30 6.6 32.3 4.9 24.5 8.2 24.4 11.4 24.5 16.3 24.5 16.3 19.5 18 13.1 14.6 5.7 0.4 7-9.6 0.5-10.6 1-7.7 2.5-3.3 3.3-1.3 3.9 1.3 6.7 3.7 8.7 5.2 9 5.8 7.2 6.8 6.1 5 8-107 17.6 0-340z" fill="#ffffff"/>
</g>
<path d="M1270.6 766l-18.6-0.2-15.7 0.5-14.3 1.8-15.3 2.5-16.4 3.2-16.3 3.3-16.3 4.9-16.3 5.7-16.3 7.3-16.3 8.2-16.3 10.6-16.3 12.2-16.3 14.7-13.1 14.7-9.8 14.7-6.5 14.6-2.4 13.1 1.6 13 4.9 13.1 7.3 11.4 9.8 9.8 11.4 7.3 13.1 5.7 13 3.3 13.1 1.6 14.7 0.9 24-0.4 29-1 30-1 25 0 20 1 17 2 28 0.5 30 0 30 0 25-0.7 16.3-1.3 8.1-7.3 9.8-10.6 9-13.1 6.5-13 4.9-13 2.4-13.1 0.9-11.4-3.3-8.2-7.3-13-9.8-14.7-13.1-14.7-16.3-14.7-16.3-11.4-16.3-9.8-16.3-8.1-16.3-6.5-16.3-5.7-16.4-4.9-14.6-3.8z" fill="#101010"/>
<path d="M1043 1186l-4.3-7.1-6.6-5.8-6.5-8.1-5.7-9.8-4.1-9.8-1.6-9 2.4-7.3 5.7-5.7 9.8-3.3 11.5-1.1 9.7-0.5 14.7 8.2 16.3 8.9 16.3 7.4 16.4 5.7 16.3 4.9 16.3 4.1 16.3 3.2 16.3 2.5 16.3 1.6 21.5 1.3 16.3-0.5 24.5-3.3 24.4-4.8 24.5-7.4 24.5-9 16.3-7.3 13-8.2 8.2-6.5 11.4-1.6 16.3-2.5 16.3-1.6 16.3-1.6 13.1-4.1 11.4-6.5 11.4-8.2 14.1-10.2 18-15 30-28 35-40 45-60 50-80-160 340-457 0z" fill="#101010"/>
<g clip-path="url(#clip_eB)"><path d="M1250 760L1440 760L1440 970L1225 970L1270 860z" fill="#121212"/>
<path d="M1275 760L1440 760L1440 970L1250 970L1295 860z" fill="#141414"/>
<path d="M1300 760L1440 760L1440 970L1275 970L1320 860z" fill="#161616"/>
<path d="M1325 760L1440 760L1440 970L1300 970L1345 860z" fill="#181818"/>
<path d="M1350 760L1440 760L1440 970L1325 970L1370 860z" fill="#1b1b1b"/>
<path d="M1375 760L1440 760L1440 970L1350 970L1395 860z" fill="#1d1d1d"/>
<path d="M1400 760L1440 760L1440 970L1375 970L1420 860z" fill="#1f1f1f"/>
</g>
<path d="M1270.6 766l-18.6-0.2-15.7 0.5-14.3 1.8-15.3 2.5-16.4 3.2-16.3 3.3-16.3 4.9-16.3 5.7-16.3 7.3-16.3 8.2-16.3 10.6-16.3 12.2-16.3 14.7-13.1 14.7-9.8 14.7-6.5 14.6-2.4 13.1 1.6 13 4.9 13.1 7.3 11.4 9.8 9.8 11.4 7.3 13.1 5.7 13 3.3 13.1 1.6 14.7 0.9 0.1-2-14.4-3.9-12-4.5-10.6-6.7-10-7.7-7.7-7.2-7.3-7.3-5.3-8.3-3.6-9.6-1.1-8.4 1.6-8.4 5.2-11.5 8.3-12.6 11.7-13.1 15.1-13.6 15.2-11.4 15.1-9.8 15.1-7.5 15.3-6.9 15.3-5.3 15.1-4.6 15.5-3.1 15.8-5.1 14.3-5.4 13.2-5.7 15.1-4.5 18.6-2.8z" fill="#0d0d0d"/>
<path d="M1270.6 766l-18.6-0.2-15.7 0.5-14.3 1.8-15.3 2.5-16.4 3.2-16.3 3.3-16.3 4.9-16.3 5.7-16.3 7.3-16.3 8.2-16.3 10.6-16.3 12.2-16.3 14.7-13.1 14.7-9.8 14.7-6.5 14.6-2.4 13.1 1.6 13 4.9 13.1 7.3 11.4 9.8 9.8 11.4 7.3 13.1 5.7 13 3.3 13.1 1.6 14.7 0.9 0.1-1.5-14.5-3.1-12.3-3.8-11.2-5.9-10.7-7.1-8.7-7.3-7.9-7.9-5.8-9.1-3.9-10.5-1.3-9.5 1.8-9.6 5.5-12.3 8.8-13.1 12-13.5 15.4-13.9 15.5-11.6 15.4-10 15.4-7.7 15.5-7 15.5-5.4 15.5-4.6 15.7-3.2 15.9-4.6 14.6-4.7 13.5-4.7 15.2-3.5 18.6-2.1z" fill="#070707"/>
<path d="M1270.6 766l-18.6-0.2-15.7 0.5-14.3 1.8-15.3 2.5-16.4 3.2-16.3 3.3-16.3 4.9-16.3 5.7-16.3 7.3-16.3 8.2-16.3 10.6-16.3 12.2-16.3 14.7-13.1 14.7-9.8 14.7-6.5 14.6-2.4 13.1 1.6 13 4.9 13.1 7.3 11.4 9.8 9.8 11.4 7.3 13.1 5.7 13 3.3 13.1 1.6 14.7 0.9 0.1-1-14.6-2.4-12.6-3-11.7-5.1-11.6-6.6-9.6-7.3-8.5-8.5-6.3-9.9-4.3-11.4-1.3-10.6 2-10.8 5.8-13.1 9.1-13.6 12.4-13.9 15.7-14.1 15.8-11.8 15.6-10.2 15.7-7.9 15.8-7.1 15.8-5.5 15.8-4.8 15.9-3.2 16-4.1 14.9-4 13.7-3.7 15.4-2.5 18.6-1.3z" fill="#040404"/>
<path d="M1270.6 766l-18.6-0.2-15.7 0.5-14.3 1.8-15.3 2.5-16.4 3.2-16.3 3.3-16.3 4.9-16.3 5.7-16.3 7.3-16.3 8.2-16.3 10.6-16.3 12.2-16.3 14.7-13.1 14.7-9.8 14.7-6.5 14.6-2.4 13.1 1.6 13 4.9 13.1 7.3 11.4 9.8 9.8 11.4 7.3 13.1 5.7 13 3.3 13.1 1.6 14.7 0.9 0-0.5-14.6-1.6-12.8-2.4-12.4-4.1-12.3-6.2-10.5-7.3-9.2-9.2-6.8-10.6-4.6-12.2-1.5-11.9 2.2-11.9 6.2-13.8 9.5-14.2 12.7-14.3 16-14.4 16-12 16-10.4 16-8.1 16.1-7.2 16-5.6 16-4.8 16.1-3.2 16.3-3.7 15-3.2 14.1-2.8 15.5-1.5 18.6-0.6z" fill="#010101"/>
<path d="M1391.3 963l8.1-7.3 9.8-10.6 9-13.1 6.5-13 4.9-13 2.4-13.1 0.9-11.4-2-0.2-3.9 10.9-5.1 11.6-5.4 11.6-6 12-8.4 12.1-6.9 12-5.2 10z" fill="#0c0c0c"/>
<path d="M1391.3 963l8.1-7.3 9.8-10.6 9-13.1 6.5-13 4.9-13 2.4-13.1 0.9-11.4-1.3-0.1-2.9 11.1-4.2 12.1-5.3 12-6.2 12.3-8.5 12.5-7.9 11.5-6.2 9.1z" fill="#050505"/>
<path d="M1391.3 963l8.1-7.3 9.8-10.6 9-13.1 6.5-13 4.9-13 2.4-13.1 0.9-11.4-0.7-0.1-1.9 11.3-3.3 12.6-5 12.5-6.4 12.7-8.8 12.7-8.8 11.1-7.1 8.2z" fill="#020202"/>
<path d="M1371.7 1119.3l11.4-1.6 16.3-2.5 16.3-1.6 16.3-1.6 13.1-4.1 11.4-6.5 11.4-8.2 14.1-10.2 18-15 19.2 23-18.7 15.6-16.2 9.3-13.7 7.4-16 6.6-18.4 3.7-18.7-2.1-16.4-2.4-16.8-3.5-12.3-4.3z" fill="#0d0d0d"/>
<path d="M1371.7 1119.3l11.4-1.6 16.3-2.5 16.3-1.6 16.3-1.6 13.1-4.1 11.4-6.5 11.4-8.2 14.1-10.2 18-15 14.4 17.3-18.5 15.4-15.7 9.5-13.1 7.6-14.9 6.6-17.1 3.8-18.1-1.2-16.3-1.4-16.7-2-12.1-2.8z" fill="#070707"/>
<path d="M1371.7 1119.3l11.4-1.6 16.3-2.5 16.3-1.6 16.3-1.6 13.1-4.1 11.4-6.5 11.4-8.2 14.1-10.2 18-15 9.6 11.5-18.3 15.3-15.2 9.8-12.6 7.7-13.6 6.6-15.8 3.9-17.5-0.2-16.3-0.5-16.6-0.4-11.9-1.4z" fill="#040404"/>
<path d="M1371.7 1119.3l11.4-1.6 16.3-2.5 16.3-1.6 16.3-1.6 13.1-4.1 11.4-6.5 11.4-8.2 14.1-10.2 18-15 4.8 5.8-18.2 15.1-14.6 10-12 8-12.5 6.5-14.5 4-16.9 0.7-16.3 0.6-16.4 1-11.6 0.1z" fill="#010101"/>
<path d="M1043 1186l-4.3-7.1-6.6-5.8-6.5-8.1-5.7-9.8-4.1-9.8-1.6-9 2.4-7.3 5.7-5.7 9.8-3.3 11.5-1.1 9.7-0.5 0.1 2-9.3 4.5-9.8 5.9-4.5 5.5 2.1 2.2 2.3-1.2 0.7 2.2 2.9 6.7 4.3 7.4 4.6 5.7 7.3 6.6 6.1 9.6z" fill="#0d0d0d"/>
<path d="M1043 1186l-4.3-7.1-6.6-5.8-6.5-8.1-5.7-9.8-4.1-9.8-1.6-9 2.4-7.3 5.7-5.7 9.8-3.3 11.5-1.1 9.7-0.5 0.1 1.5-9.5 3.5-10.1 4.7-5.9 4.9 0.2 3.1 1.1 0.9 1 3.9 3.1 7.5 4.7 8.1 5 6.2 7.2 6.4 5.6 9z" fill="#070707"/>
<path d="M1043 1186l-4.3-7.1-6.6-5.8-6.5-8.1-5.7-9.8-4.1-9.8-1.6-9 2.4-7.3 5.7-5.7 9.8-3.3 11.5-1.1 9.7-0.5 0.1 1-9.6 2.5-10.6 3.5-7.1 4.4-1.9 4 0 3 1.2 5.6 3.4 8.2 5.1 8.7 5.5 6.8 6.9 6.2 5.3 8.4z" fill="#040404"/>
<path d="M1043 1186l-4.3-7.1-6.6-5.8-6.5-8.1-5.7-9.8-4.1-9.8-1.6-9 2.4-7.3 5.7-5.7 9.8-3.3 11.5-1.1 9.7-0.5 0 0.5-9.6 1.5-11 2.3-8.5 3.8-3.8 4.9-1.2 5.1 1.4 7.3 3.8 9.1 5.3 9.2 6 7.5 6.8 6 4.8 7.7z" fill="#010101"/>
<path d="M1429.1 882.9l-3.4-2.3-4.2-3.4-3.9-5.1-4.7-6.1-4.7-6.6-5.2-6.5-5.6-6.7-6.5-6.8-7.5-7.1-7.8-6.7-7.5-5.6-7.8-5.1-7.6-5.4-7.5-4.9-7.5-4.5-7.6-4.1-7.6-3.7-7.7-3.5-7.8-3.3-7.9-3.2-7.8-3.5-7.7-3.2-7.9-3.7-5.8-3 1.2-4.8 6.5 0.6 8.7 1.2 8.4 1.4 8.7 1.7 8.5 2.3 8.4 2.5 8.5 2.7 8.6 3.1 8.7 3.5 8.7 4 8.7 4.5 8.7 4.8 8.5 5.6 8.6 6.4 8.8 7.5 8.4 7.9 7.3 7.8 6.6 7.9 5.3 8.3 4.3 7.8 3.3 7.7 2.6 6.9 0.4 6.1-0.6 4.2z" fill="#949494"/>
<path d="M1428.8 883l-3.4-2.2-4.2-3.4-3.9-5.1-4.7-6.1-4.7-6.6-5.2-6.5-5.6-6.6-6.4-6.9-7.5-7.1-7.8-6.6-7.5-5.6-7.8-5.1-7.6-5.4-7.5-4.9-7.5-4.4-7.5-4.1-7.6-3.8-7.8-3.4-7.8-3.4-7.8-3.2-7.8-3.4-7.7-3.3-7.8-3.6-5.9-3.1 1.2-4.7 6.4 0.9 8.6 1.5 8.4 1.6 8.6 1.8 8.4 2.4 8.4 2.6 8.4 2.8 8.5 3.1 8.6 3.6 8.6 4.1 8.6 4.5 8.5 4.8 8.4 5.6 8.6 6.3 8.7 7.5 8.2 7.8 7.3 7.7 6.5 7.7 5.2 8.2 4.4 7.7 3.5 7.5 2.7 6.7 0.8 5.9-0.2 3.9z" fill="#8b8b8b"/>
<path d="M1428.5 883.1l-3.5-2.2-4.1-3.4-3.9-5.1-4.7-6-4.7-6.6-5.2-6.4-5.5-6.7-6.5-6.8-7.5-7.1-7.7-6.7-7.5-5.5-7.8-5.1-7.5-5.4-7.5-4.8-7.5-4.5-7.5-4.1-7.6-3.7-7.8-3.5-7.8-3.4-7.8-3.1-7.8-3.5-7.7-3.2-7.8-3.7-5.9-3 1.1-4.6 6.5 1.1 8.4 1.8 8.3 1.7 8.6 2.1 8.3 2.4 8.3 2.7 8.4 2.9 8.4 3.2 8.4 3.6 8.5 4.1 8.5 4.6 8.4 4.9 8.4 5.5 8.4 6.2 8.6 7.4 8.2 7.7 7.1 7.6 6.4 7.7 5.3 7.9 4.4 7.6 3.6 7.4 2.8 6.5 1.2 5.6 0.2 3.8z" fill="#808080"/>
<path d="M1428.2 883.2l-3.5-2.2-4.1-3.3-3.9-5.1-4.7-6-4.7-6.6-5.1-6.4-5.6-6.7-6.4-6.8-7.5-7.1-7.7-6.6-7.5-5.5-7.8-5.1-7.5-5.4-7.5-4.8-7.5-4.5-7.5-4.1-7.6-3.7-7.7-3.5-7.8-3.3-7.8-3.2-7.8-3.5-7.7-3.2-7.8-3.6-5.9-3.1 1.1-4.4 6.4 1.4 8.4 1.9 8.2 2 8.5 2.2 8.2 2.6 8.3 2.7 8.2 3 8.4 3.2 8.3 3.7 8.3 4.2 8.4 4.6 8.3 4.9 8.3 5.5 8.3 6.1 8.5 7.3 8.1 7.7 7.1 7.5 6.3 7.5 5.2 7.8 4.5 7.4 3.7 7.2 3 6.4 1.5 5.3 0.6 3.6z" fill="#717171"/>
<path d="M1427.8 883.3l-3.4-2.1-4.2-3.4-3.8-5-4.7-6.1-4.7-6.5-5.1-6.4-5.5-6.6-6.5-6.8-7.4-7.1-7.8-6.6-7.4-5.5-7.8-5.1-7.5-5.4-7.5-4.8-7.4-4.5-7.5-4.1-7.6-3.7-7.7-3.5-7.8-3.3-7.8-3.2-7.8-3.4-7.7-3.3-7.8-3.6-5.9-3 1.1-4.3 6.3 1.6 8.3 2.2 8.2 2.1 8.3 2.4 8.2 2.7 8.2 2.8 8.2 3 8.2 3.4 8.3 3.7 8.2 4.2 8.2 4.7 8.2 5 8.2 5.4 8.2 6.1 8.5 7.2 7.9 7.6 7.1 7.4 6.2 7.4 5.2 7.5 4.5 7.4 3.9 7 3 6.2 2 5.1 1 3.3z" fill="#5f5f5f"/>
<path d="M1427.5 883.5l-3.4-2.2-4.2-3.3-3.8-5-4.7-6.1-4.7-6.5-5.1-6.4-5.5-6.6-6.4-6.8-7.5-7-7.7-6.6-7.4-5.5-7.7-5.1-7.6-5.4-7.4-4.8-7.5-4.5-7.5-4.1-7.5-3.7-7.7-3.4-7.8-3.4-7.8-3.1-7.8-3.5-7.7-3.2-7.8-3.7-5.9-3 1.1-4.1 6.2 1.8 8.2 2.5 8.1 2.3 8.3 2.6 8.1 2.7 8.2 2.9 8.1 3.1 8.1 3.4 8.1 3.8 8.1 4.3 8.1 4.7 8.2 5 8.1 5.4 8.1 6 8.3 7.1 7.9 7.5 6.9 7.3 6.1 7.3 5.2 7.4 4.5 7.2 4.1 6.9 3.2 6 2.3 4.8 1.4 3.2z" fill="#4e4e4e"/>
<path d="M1427.2 883.6l-3.5-2.2-4.1-3.2-3.8-5.1-4.7-6-4.7-6.5-5.1-6.4-5.5-6.6-6.4-6.7-7.4-7.1-7.7-6.6-7.4-5.5-7.7-5-7.6-5.4-7.4-4.8-7.5-4.5-7.4-4-7.5-3.7-7.8-3.5-7.7-3.3-7.8-3.2-7.8-3.4-7.7-3.3-7.8-3.6-5.9-3.1 1.1-3.9 6.1 2 8.2 2.7 8 2.5 8.2 2.8 8 2.8 8.1 3 8 3.2 8.1 3.5 8 3.8 8 4.3 8 4.8 8 5.1 8 5.3 8 5.9 8.2 7 7.8 7.5 6.9 7.2 6 7.2 5.2 7.2 4.5 7.1 4.2 6.7 3.4 5.8 2.6 4.5 1.9 3z" fill="#3a3a3a"/>
<path d="M1426.8 883.7l-3.4-2.1-4.1-3.3-3.8-5-4.7-6-4.6-6.5-5.1-6.4-5.5-6.5-6.4-6.8-7.4-7-7.7-6.6-7.4-5.5-7.7-5.1-7.5-5.3-7.5-4.8-7.4-4.5-7.5-4-7.5-3.7-7.7-3.5-7.8-3.3-7.7-3.2-7.8-3.4-7.7-3.3-7.8-3.6-5.8-3 0.9-3.8 6.1 2.3 8.1 2.9 7.9 2.7 8.1 2.9 8 2.9 8 3.1 8 3.3 7.9 3.5 7.9 3.9 7.9 4.4 7.9 4.8 7.9 5.1 8 5.3 7.8 5.8 8.1 7 7.8 7.3 6.7 7.1 5.9 7.1 5.2 7 4.6 7 4.3 6.6 3.5 5.6 3.1 4.3 2.2 2.7z" fill="#2b2b2b"/>
<path d="M1426.5 883.8l-3.4-2.1-4.1-3.2-3.8-5-4.7-6-4.6-6.5-5.1-6.4-5.5-6.5-6.4-6.7-7.4-7.1-7.6-6.5-7.4-5.5-7.7-5.1-7.5-5.3-7.4-4.8-7.5-4.4-7.4-4.1-7.5-3.7-7.7-3.4-7.8-3.4-7.7-3.1-7.8-3.5-7.6-3.2-7.9-3.6-5.8-3.1 0.9-3.7 6 2.6 8 3.2 7.9 2.8 8 3.1 7.9 3 8 3.2 7.9 3.4 7.8 3.5 7.8 4 7.7 4.4 7.8 4.9 7.8 5.2 7.9 5.2 7.8 5.7 8 6.9 7.6 7.3 6.7 7 5.8 6.9 5.2 6.9 4.6 6.8 4.5 6.4 3.6 5.5 3.4 4 2.7 2.6z" fill="#242424"/>
<path d="M1426.2 883.9l-3.4-2.1-4.1-3.2-3.8-5-4.7-6-4.6-6.4-5.1-6.4-5.5-6.5-6.3-6.7-7.4-7-7.6-6.6-7.4-5.4-7.7-5.1-7.5-5.3-7.4-4.8-7.4-4.4-7.4-4.1-7.5-3.6-7.7-3.5-7.8-3.4-7.7-3.1-7.8-3.4-7.6-3.3-7.9-3.6-5.8-3 0.9-3.6 5.9 2.8 8 3.4 7.7 3.1 8 3.3 7.8 3.1 7.9 3.2 7.9 3.4 7.7 3.7 7.6 4 7.7 4.5 7.6 4.8 7.7 5.3 7.8 5.2 7.7 5.7 7.9 6.7 7.6 7.2 6.5 7 5.7 6.8 5.2 6.7 4.7 6.7 4.6 6.2 3.7 5.3 3.8 3.7 3.1 2.4z" fill="#1f1f1f"/>
<path d="M1262 963.5l12.2-1.2 15.8-1.3 14.9-0.5 15.1-0.5 15.3 0 14.6 0 13.3 0.2 11.6 0.1 9.7 0.3 6.6 0.4 0.5 5-6.5 2.6-9.7 2.7-11.8 1.4-13.5 1.3-14.8 0-15.3 0-15.1-1-15-1-15.9-2.8-12-2.7z" fill="#8b8b8b"/>
<path d="M1262 963.2l12.2-1.3 15.8-1.2 14.9-0.5 15.1-0.5 15.3 0 14.6 0 13.3 0.2 11.6 0.1 9.6 0.3 6.7 0.4 0.4 4.7-6.5 2.2-9.7 2.3-11.8 1.3-13.4 1-14.8 0.1-15.3-0.1-15.1-0.7-15-0.9-15.8-2.2-12.1-2.3z" fill="#818181"/>
<path d="M1262 962.8l12.2-1.2 15.8-1.3 14.9-0.5 15.1-0.5 15.3 0 14.6 0 13.3 0.2 11.6 0.1 9.6 0.3 6.7 0.4 0.4 4.4-6.5 1.9-9.8 1.9-11.7 1.1-13.4 0.9-14.8 0-15.3 0-15.1-0.6-14.9-0.7-15.9-1.7-12.1-1.8z" fill="#6f6f6f"/>
<path d="M1262 962.5l12.2-1.3 15.8-1.2 14.9-0.5 15.1-0.5 15.3 0 14.6 0 13.3 0.2 11.5 0.1 9.7 0.3 6.6 0.4 0.4 4.1-6.5 1.5-9.7 1.6-11.8 0.8-13.4 0.7-14.7 0.1-15.3-0.1-15.1-0.4-14.9-0.4-15.9-1.3-12.1-1.2z" fill="#595959"/>
<path d="M1262 962.1l12.2-1.2 15.8-1.3 14.9-0.5 15.1-0.5 15.3 0 14.6 0 13.3 0.2 11.5 0.1 9.7 0.3 6.6 0.4 0.3 3.9-6.5 1.1-9.7 1.2-11.7 0.7-13.4 0.5-14.7 0-15.3 0-15.1-0.2-14.9-0.3-15.9-0.8-12.1-0.7z" fill="#404040"/>
<path d="M1262.1 961.8l12.1-1.3 15.9-1.2 14.8-0.5 15.1-0.5 15.3 0 14.6 0 13.3 0.2 11.5 0.1 9.6 0.3 6.7 0.4 0.3 3.6-6.6 0.7-9.7 0.8-11.6 0.5-13.4 0.3-14.7 0.1-15.3-0.1-15.1 0-14.9-0.1-15.9-0.2-12.1-0.3z" fill="#2a2a2a"/>
<path d="M1262.1 961.4l12.1-1.2 15.9-1.3 14.8-0.5 15.1-0.5 15.3 0 14.6 0 13.3 0.2 11.5 0.1 9.6 0.3 6.6 0.4 0.3 3.4-6.6 0.3-9.7 0.5-11.6 0.3-13.3 0.1-14.7 0-15.3 0-15.1 0.2-14.9 0.1-15.9 0.2-12.1 0.3z" fill="#212121"/>
<path d="M1262.1 961.1l12.1-1.3 15.9-1.2 14.8-0.5 15.1-0.5 15.3 0 14.6 0 13.3 0.2 11.5 0.1 9.6 0.3 6.6 0.4 0.3 3-6.6 0-9.7 0.1-11.6 0.1-13.3 0-14.7 0-15.3 0-15.1 0.3-14.9 0.3-15.8 0.7-12.2 0.8z" fill="#1a1a1a"/>
<path d="M1052.3 1120.2l5.4 5.3 7.4 6.4 7.4 5.9 7.7 5.8 8.3 4.6 8.4 4.1 8.5 3.6 8.2 3.3 8.4 2.6 8.4 2.4 8.4 2.2 8.4 2 8.4 1.8 8.4 1.5 8.4 1.4 8.4 1.2 8.2 0.9 8.6 0.8 11 0.8 11.1 0.5 8.6 0 9-0.5 12.2-1.5 13.1-1.9 12.5-2.3 12.8-2.7 12.7-3.6 12.6-4.1 12.9-5.1 11.8-5 9.1-4.3 7.8-4.4 6.7-5.7 5.5-5.5 3.9-5.5 2.1-4.4-2.6-3-4.5 1.1-5.9 2-6.5 2.6-7.3 2.6-7 2.8-8.7 3.1-11.7 3.9-12.6 4-11.9 3.8-11.8 3.3-11.6 2.6-11.9 2-12.4 1.9-11.3 1.3-7.7 0.5-7.3 0-10.4-0.5-10.5-0.8-8.3-0.7-7.5-0.8-7.9-1.1-7.9-1.3-7.9-1.5-7.9-1.6-7.9-1.9-7.9-2.1-7.9-2.3-7.9-2.5-8.2-2.1-7.9-2.4-7.9-2.9-8-3.2-8.8-3-8.7-3.1-9.3-2.9-7.3-1.8z" fill="#8c8c8c"/>
<path d="M1052.2 1120.6l5.3 5.2 7.4 6.4 7.4 5.9 7.8 5.8 8.3 4.6 8.4 4.1 8.4 3.7 8.3 3.2 8.4 2.6 8.4 2.4 8.4 2.3 8.4 2 8.5 1.7 8.3 1.6 8.4 1.4 8.5 1.2 8.1 0.9 8.7 0.7 11 0.8 11.1 0.5 8.6 0.1 9.1-0.6 12.2-1.4 13-2 12.6-2.2 12.7-2.8 12.8-3.6 12.6-4 12.9-5.1 11.8-5.1 9.1-4.3 7.8-4.4 6.8-5.7 5.5-5.5 3.9-5.6 2.1-4.3-2.5-3-4.3 1.4-5.7 2.4-6.4 2.9-7.2 2.9-7.1 3-8.8 3.2-11.6 4-12.7 4.1-12 3.8-11.8 3.4-11.8 2.5-11.9 2.1-12.5 1.9-11.4 1.3-7.8 0.5-7.4 0-10.5-0.5-10.6-0.8-8.3-0.7-7.6-0.8-7.9-1.1-8-1.4-8-1.4-7.9-1.7-7.9-1.9-8-2.1-7.9-2.3-8-2.5-8.1-2.2-8-2.5-8-3-8-3.4-8.7-3.3-8.6-3.4-9.1-3.3-7.1-2.1z" fill="#858585"/>
<path d="M1052 1120.9l5.3 5.2 7.4 6.5 7.4 5.8 7.8 5.9 8.3 4.5 8.4 4.1 8.5 3.7 8.3 3.2 8.4 2.7 8.4 2.4 8.4 2.2 8.4 2 8.5 1.8 8.4 1.5 8.4 1.4 8.4 1.2 8.2 0.9 8.7 0.8 10.9 0.8 11.2 0.5 8.6 0 9.1-0.6 12.2-1.4 13.1-2 12.6-2.2 12.7-2.7 12.8-3.6 12.7-4.1 12.8-5.1 11.9-5.1 9-4.3 7.9-4.4 6.8-5.7 5.5-5.6 3.9-5.5 2.1-4.3-2.5-3-4 1.8-5.5 2.7-6.3 3.1-7.2 3.2-7.2 3.2-8.7 3.3-11.7 4.2-12.7 4.1-12.1 3.9-11.9 3.4-11.9 2.6-12 2.1-12.5 1.9-11.5 1.3-7.9 0.5-7.6 0-10.6-0.5-10.6-0.8-8.3-0.7-7.7-0.8-7.9-1.2-8.1-1.3-8-1.5-8-1.6-7.9-1.9-8-2.2-8-2.3-8.1-2.5-8.1-2.3-8.1-2.7-8-3.1-8.1-3.5-8.5-3.5-8.4-3.7-9-3.7-6.9-2.4z" fill="#7d7d7d"/>
<path d="M1051.8 1121.2l5.4 5.3 7.4 6.4 7.4 5.8 7.8 5.9 8.3 4.5 8.4 4.2 8.5 3.6 8.3 3.3 8.4 2.6 8.4 2.4 8.4 2.2 8.5 2.1 8.4 1.7 8.4 1.6 8.4 1.4 8.5 1.2 8.1 0.9 8.8 0.7 10.9 0.8 11.1 0.5 8.7 0.1 9.1-0.6 12.3-1.4 13-2 12.6-2.2 12.8-2.8 12.8-3.6 12.7-4.1 12.8-5.1 11.9-5 9.1-4.4 7.9-4.3 6.8-5.8 5.5-5.6 3.9-5.5 2.2-4.4-2.5-2.9-3.8 2.1-5.3 3-6.2 3.5-7.1 3.5-7.3 3.3-8.8 3.5-11.7 4.3-12.7 4.2-12.1 4-12.1 3.3-11.9 2.6-12.1 2.2-12.6 1.9-11.6 1.3-8.1 0.5-7.7 0-10.6-0.5-10.7-0.8-8.3-0.7-7.7-0.9-8.1-1.1-8-1.3-8.1-1.5-8-1.7-8.1-1.9-8-2.1-8.1-2.4-8.1-2.5-8.1-2.5-8.1-2.7-8.1-3.3-8.1-3.6-8.4-3.8-8.3-4-8.8-4-6.7-2.8z" fill="#6f6f6f"/>
<path d="M1051.6 1121.5l5.4 5.3 7.4 6.4 7.4 5.8 7.8 5.9 8.3 4.5 8.5 4.2 8.5 3.6 8.3 3.3 8.4 2.6 8.4 2.5 8.4 2.2 8.5 2 8.5 1.8 8.4 1.5 8.4 1.4 8.4 1.2 8.2 0.9 8.7 0.8 11 0.8 11.1 0.5 8.7 0 9.2-0.6 12.2-1.4 13.1-2 12.6-2.2 12.8-2.8 12.8-3.6 12.7-4.1 12.9-5 11.8-5.1 9.1-4.4 7.9-4.3 6.9-5.8 5.5-5.6 4-5.5 2.1-4.4-2.5-2.9-3.5 2.4-5.1 3.4-6.1 3.8-7.1 3.8-7.3 3.5-8.8 3.5-11.8 4.4-12.7 4.4-12.2 4-12.1 3.4-12.1 2.6-12.2 2.1-12.6 1.9-11.7 1.4-8.2 0.5-7.8 0-10.7-0.5-10.7-0.8-8.5-0.7-7.7-0.9-8.1-1.1-8.1-1.4-8.1-1.5-8.1-1.6-8.1-2-8.1-2.1-8.1-2.4-8.1-2.5-8.2-2.6-8.2-2.9-8.1-3.3-8.1-3.8-8.3-4.1-8.2-4.2-8.6-4.4-6.5-3.1z" fill="#5d5d5d"/>
<path d="M1051.5 1121.8l5.3 5.3 7.4 6.4 7.4 5.8 7.8 5.9 8.4 4.5 8.5 4.2 8.5 3.7 8.3 3.2 8.4 2.7 8.4 2.4 8.4 2.2 8.5 2 8.5 1.8 8.4 1.6 8.4 1.4 8.5 1.1 8.2 1 8.7 0.7 11 0.8 11.1 0.5 8.8 0.1 9.1-0.6 12.2-1.4 13.1-2 12.7-2.2 12.8-2.8 12.8-3.6 12.7-4.1 12.9-5.1 11.8-5.1 9.2-4.3 7.9-4.4 6.8-5.8 5.6-5.6 4-5.6 2.1-4.3-2.4-2.9-3.3 2.7-4.9 3.8-6 4-7 4.2-7.4 3.6-8.9 3.7-11.7 4.5-12.8 4.5-12.3 4-12.2 3.4-12.2 2.7-12.2 2.1-12.8 1.9-11.7 1.4-8.3 0.5-8 0-10.8-0.5-10.7-0.8-8.5-0.7-7.8-0.9-8.1-1.2-8.2-1.3-8.1-1.5-8.2-1.7-8.2-1.9-8.1-2.2-8.1-2.4-8.2-2.5-8.2-2.7-8.2-3-8.2-3.5-8.1-3.9-8.2-4.4-8.1-4.5-8.4-4.7-6.3-3.5z" fill="#4a4a4a"/>
<path d="M1051.3 1122.1l5.4 5.3 7.4 6.4 7.3 5.8 7.9 5.9 8.3 4.6 8.5 4.1 8.6 3.7 8.3 3.3 8.4 2.6 8.4 2.4 8.5 2.3 8.4 2 8.5 1.8 8.4 1.5 8.5 1.4 8.5 1.2 8.1 0.9 8.8 0.8 11 0.8 11.1 0.5 8.8 0 9.1-0.6 12.3-1.4 13.1-2 12.6-2.2 12.9-2.8 12.8-3.6 12.7-4.1 12.9-5.1 11.9-5.1 9.1-4.3 7.9-4.4 6.9-5.8 5.6-5.6 4-5.6 2.1-4.3-2.3-2.9-3.1 3.1-4.7 4.1-5.9 4.3-6.9 4.5-7.6 3.7-8.9 3.9-11.7 4.6-12.8 4.6-12.3 4-12.4 3.4-12.3 2.7-12.2 2.2-12.9 1.9-11.8 1.4-8.5 0.5-8.1 0-10.8-0.5-10.8-0.8-8.5-0.7-7.9-0.9-8.2-1.2-8.2-1.3-8.2-1.5-8.2-1.8-8.2-1.9-8.2-2.2-8.2-2.3-8.2-2.6-8.2-2.8-8.2-3.1-8.2-3.7-8.2-4-8.2-4.7-7.9-4.8-8.2-5-6.1-3.9z" fill="#323232"/>
<path d="M1051.1 1122.4l5.4 5.3 7.4 6.4 7.4 5.8 7.8 5.9 8.4 4.6 8.5 4.2 8.5 3.6 8.4 3.3 8.4 2.6 8.4 2.5 8.5 2.2 8.5 2 8.5 1.8 8.4 1.5 8.4 1.4 8.5 1.2 8.2 1 8.7 0.7 11 0.8 11.2 0.5 8.8 0.1 9.2-0.6 12.2-1.5 13.2-1.9 12.6-2.2 12.9-2.8 12.8-3.7 12.7-4.1 12.9-5.1 11.9-5 9.2-4.4 7.9-4.4 6.9-5.8 5.6-5.6 4-5.6 2.1-4.4-2.3-2.8-2.8 3.4-4.5 4.5-5.8 4.6-6.9 4.8-7.6 3.9-8.9 3.9-11.8 4.7-12.8 4.8-12.4 4-12.4 3.5-12.5 2.7-12.3 2.1-12.9 2-11.9 1.4-8.6 0.5-8.2 0-10.9-0.5-10.8-0.8-8.6-0.7-8-0.9-8.2-1.2-8.3-1.4-8.2-1.5-8.3-1.7-8.2-2-8.3-2.2-8.2-2.3-8.2-2.6-8.3-2.9-8.3-3.3-8.2-3.7-8.2-4.2-8.1-5-7.8-5-7.9-5.4-6-4.2z" fill="#212121"/>
<path d="M1051 1122.7l5.3 5.3 7.4 6.4 7.4 5.8 7.9 5.9 8.4 4.6 8.5 4.2 8.5 3.7 8.4 3.2 8.4 2.7 8.4 2.4 8.5 2.2 8.5 2.1 8.5 1.7 8.4 1.6 8.5 1.4 8.5 1.2 8.2 0.9 8.7 0.8 11 0.8 11.2 0.5 8.8 0 9.2-0.6 12.3-1.4 13.1-2 12.7-2.2 12.8-2.8 12.9-3.6 12.7-4.1 12.9-5.1 11.9-5.1 9.2-4.4 8-4.4 6.9-5.8 5.6-5.6 4-5.6 2.2-4.4-2.3-2.8-2.6 3.7-4.3 4.8-5.7 5-6.8 5.1-7.7 4-9 4.1-11.8 4.8-12.8 4.9-12.4 4-12.6 3.5-12.5 2.7-12.4 2.2-13 2-12 1.4-8.7 0.5-8.4 0-10.9-0.5-10.9-0.8-8.6-0.8-8-0.9-8.4-1.1-8.2-1.4-8.3-1.5-8.3-1.8-8.4-1.9-8.3-2.2-8.2-2.4-8.3-2.6-8.3-3-8.3-3.4-8.3-3.9-8.2-4.3-8-5.3-7.7-5.3-7.7-5.7-5.8-4.6z" fill="#191919"/>
<path d="M1050.8 1123l5.3 5.3 7.4 6.4 7.4 5.8 7.9 5.9 8.4 4.6 8.5 4.2 8.6 3.7 8.4 3.3 8.4 2.6 8.4 2.4 8.5 2.3 8.5 2 8.5 1.8 8.5 1.5 8.4 1.4 8.5 1.2 8.2 1 8.8 0.7 11 0.8 11.2 0.5 8.8 0.1 9.2-0.6 12.3-1.5 13.2-1.9 12.6-2.3 12.9-2.8 12.9-3.6 12.7-4.1 13-5.1 11.9-5.1 9.1-4.4 8-4.4 7-5.8 5.6-5.7 4.1-5.6 2.1-4.3-2.3-2.8-2.3 4-4.1 5.2-5.6 5.2-6.8 5.4-7.7 4.2-9 4.2-11.8 5-12.9 4.9-12.5 4.1-12.7 3.5-12.6 2.8-12.5 2.2-13 1.9-12.1 1.5-8.9 0.5-8.5 0-11-0.5-10.9-0.8-8.6-0.8-8.1-0.9-8.4-1.2-8.3-1.3-8.3-1.6-8.4-1.7-8.4-2-8.3-2.2-8.4-2.4-8.3-2.6-8.3-3.2-8.4-3.5-8.3-4-8.3-4.4-7.8-5.5-7.5-5.6-7.6-6.1-5.6-4.9z" fill="#131313"/>
<path d="M996 748.5l-2.8 14.2-8 12-12 8-14.2 2.8-14.2-2.8-12-8-8-12-2.8-14.2 2.8-14.2 8-12 12-8 14.2-2.8 14.2 2.8 12 8 8 12z" fill="#999999"/>
<path d="M992.3 748.5l-2.5 12.8-7.2 10.8-10.8 7.2-12.8 2.5-12.8-2.5-10.8-7.2-7.2-10.8-2.5-12.8 2.5-12.8 7.2-10.8 10.8-7.2 12.8-2.5 12.8 2.5 10.8 7.2 7.2 10.8z" fill="#929292"/>
<path d="M988.7 748.5l-2.3 11.4-6.4 9.6-9.6 6.4-11.4 2.3-11.4-2.3-9.6-6.4-6.4-9.6-2.3-11.4 2.3-11.4 6.4-9.6 9.6-6.4 11.4-2.3 11.4 2.3 9.6 6.4 6.4 9.6z" fill="#888888"/>
<path d="M985 748.5l-2 9.9-5.6 8.5-8.5 5.6-9.9 2-9.9-2-8.5-5.6-5.6-8.5-2-9.9 2-9.9 5.6-8.5 8.5-5.6 9.9-2 9.9 2 8.5 5.6 5.6 8.5z" fill="#7e7e7e"/>
<path d="M981.3 748.5l-1.7 8.5-4.8 7.3-7.3 4.8-8.5 1.7-8.5-1.7-7.3-4.8-4.8-7.3-1.7-8.5 1.7-8.5 4.8-7.3 7.3-4.8 8.5-1.7 8.5 1.7 7.3 4.8 4.8 7.3z" fill="#727272"/>
<path d="M977.7 748.5l-1.5 7.1-4 6.1-6.1 4-7.1 1.5-7.1-1.5-6.1-4-4-6.1-1.5-7.1 1.5-7.1 4-6.1 6.1-4 7.1-1.5 7.1 1.5 6.1 4 4 6.1z" fill="#676767"/>
<path d="M974 748.5l-1.1 5.7-3.3 4.9-4.9 3.3-5.7 1.1-5.7-1.1-4.9-3.3-3.3-4.9-1.1-5.7 1.1-5.7 3.3-4.9 4.9-3.3 5.7-1.1 5.7 1.1 4.9 3.3 3.3 4.9z" fill="#5a5a5a"/>
<path d="M970.3 748.5l-0.8 4.3-2.5 3.7-3.7 2.5-4.3 0.8-4.3-0.8-3.7-2.5-2.5-3.7-0.8-4.3 0.8-4.3 2.5-3.7 3.7-2.5 4.3-0.8 4.3 0.8 3.7 2.5 2.5 3.7z" fill="#4e4e4e"/>
<path d="M966.7 748.5l-0.6 2.9-1.7 2.5-2.5 1.7-2.9 0.6-2.9-0.6-2.5-1.7-1.7-2.5-0.6-2.9 0.6-2.9 1.7-2.5 2.5-1.7 2.9-0.6 2.9 0.6 2.5 1.7 1.7 2.5z" fill="#404040"/>
<path d="M963 748.5l-0.3 1.5-0.9 1.3-1.3 0.9-1.5 0.3-1.5-0.3-1.3-0.9-0.9-1.3-0.3-1.5 0.3-1.5 0.9-1.3 1.3-0.9 1.5-0.3 1.5 0.3 1.3 0.9 0.9 1.3z" fill="#333333"/>
<path d="M1506 1183l-2.5 10.8-6.9 8.7-10 4.9-11.2 0-10-4.9-6.9-8.7-2.5-10.8 2.5-10.8 6.9-8.7 10-4.9 11.2 0 10 4.9 6.9 8.7z" fill="#1a1a1a"/>
<path d="M1501.8 1183l-2.1 9-5.7 7.3-8.4 4-9.2 0-8.4-4-5.7-7.3-2.1-9 2.1-9 5.7-7.3 8.4-4 9.2 0 8.4 4 5.7 7.3z" fill="#252525"/>
<path d="M1497.6 1183l-1.6 7.2-4.7 5.8-6.6 3.2-7.4 0-6.6-3.2-4.7-5.8-1.6-7.2 1.6-7.2 4.7-5.8 6.6-3.2 7.4 0 6.6 3.2 4.7 5.8z" fill="#313131"/>
<path d="M1493.4 1183l-1.2 5.4-3.5 4.3-4.9 2.4-5.6 0-4.9-2.4-3.5-4.3-1.2-5.4 1.2-5.4 3.5-4.3 4.9-2.4 5.6 0 4.9 2.4 3.5 4.3z" fill="#3d3d3d"/>
<path d="M1489.2 1183l-0.8 3.6-2.3 2.8-3.3 1.6-3.6 0-3.3-1.6-2.3-2.8-0.8-3.6 0.8-3.6 2.3-2.8 3.3-1.6 3.6 0 3.3 1.6 2.3 2.8z" fill="#484848"/>
<path d="M1485 1183l-0.4 1.7-1.1 1.4-1.6 0.8-1.8 0-1.6-0.8-1.1-1.4-0.4-1.7 0.4-1.7 1.1-1.4 1.6-0.8 1.8 0 1.6 0.8 1.1 1.4z" fill="#545454"/>
</g></g>
<rect x="962.5" y="752" width="516" height="428.5" fill="none" stroke="#262626" stroke-width="1"/>
<path d="M1014.79 751.5v5.8 M1014.79 1181v-5.8 M962 1137.15h5.8 M1479 1137.15h-5.8 M1220.5 751.5v5.8 M1220.5 1181v-5.8 M962 966.25h5.8 M1479 966.25h-5.8 M1426.21 751.5v5.8 M1426.21 1181v-5.8 M962 795.35h5.8 M1479 795.35h-5.8" stroke="#262626" stroke-width="1.1" fill="none"/>
<text x="1008.39" y="1232.6" font-size="43.3" text-anchor="middle" fill="#262626">−0.5</text>
<text x="1220.5" y="1232.6" font-size="43.3" text-anchor="middle" fill="#262626">0</text>
<text x="1426.21" y="1232.6" font-size="43.3" text-anchor="middle" fill="#262626">0.5</text>
<text x="949.7" y="1152.65" font-size="43.3" text-anchor="end" fill="#262626">−0.5</text>
<text x="949.7" y="981.75" font-size="43.3" text-anchor="end" fill="#262626">0</text>
<text x="949.7" y="810.85" font-size="43.3" text-anchor="end" fill="#262626">0.5</text>
<text y="1284.8" font-size="42.3" fill="#262626"><tspan x="1155.2">x</tspan><tspan x="1188.2" font-size="39.34" dy="-0.6">(</tspan><tspan x="1207.1" dy="0.1" font-style="italic" font-weight="normal" font-size="47.38" stroke="#262626" stroke-width="0.5">μ</tspan><tspan x="1236.1" dy="0.5">m</tspan><tspan x="1270.7" font-size="39.34" dy="-0.6">)</tspan></text>
<g transform="translate(868.2 967.05) rotate(-90)"><text y="0" font-size="42.3" fill="#262626"><tspan x="-65.3">y</tspan><tspan x="-32.3" font-size="39.34" dy="-0.6">(</tspan><tspan x="-13.4" dy="0.1" font-style="italic" font-weight="normal" font-size="47.38" stroke="#262626" stroke-width="0.5">μ</tspan><tspan x="15.6" dy="0.5">m</tspan><tspan x="50.2" font-size="39.34" dy="-0.6">)</tspan></text></g>
</g>
<!-- panel (f) -->
<g id="panel-f">
<g clip-path="url(#clip_f)"><g filter="url(#ph_f)">
<rect x="1744" y="725" width="560" height="470" fill="#393939"/>
<path d="M1760 1016l4.8 12.5 7.4 17.9 8.1 16.4 9.8 14.6 11.4 14.7 13.1 13.1 14.6 11.4 16.4 11.4 16.3 9.8 16.3 8.1 16.3 7.4 16.3 6.5 16.3 4.9 16.3 4.9 13.1 3.3 18.5 4.1-21.6 97.6-19.7-4.3-17.2-4.4-18.2-5.4-20.5-6.3-22.5-8.9-20-9.1-21.5-10.7-22.6-13.6-21.2-14.7-21.7-17.1-21.8-21.9-17.4-22.2-15.4-23.2-12.6-25.2-9.1-21.9-5.4-13.9z" fill="#4d4d4d"/>
<path d="M1760 1016l4.8 12.5 7.4 17.9 8.1 16.4 9.8 14.6 11.4 14.7 13.1 13.1 14.6 11.4 16.4 11.4 16.3 9.8 16.3 8.1 16.3 7.4 16.3 6.5 16.3 4.9 16.3 4.9 13.1 3.3 18.5 4.1-19.9 89.8-19.6-4.4-16.8-4.2-18.1-5.4-20.2-6.2-22-8.7-19.7-9-21.1-10.5-22-13.2-20.9-14.5-21-16.6-21.2-21.2-16.9-21.6-14.9-22.5-12.3-24.5-8.9-21.6-5.3-13.7z" fill="#4a4a4a"/>
<path d="M1760 1016l4.8 12.5 7.4 17.9 8.1 16.4 9.8 14.6 11.4 14.7 13.1 13.1 14.6 11.4 16.4 11.4 16.3 9.8 16.3 8.1 16.3 7.4 16.3 6.5 16.3 4.9 16.3 4.9 13.1 3.3 18.5 4.1-18.2 82.1-19.5-4.4-16.5-4.1-17.9-5.4-19.8-6-21.6-8.6-19.4-8.8-20.7-10.3-21.5-13-20.5-14.2-20.5-16.1-20.5-20.5-16.4-21-14.5-21.9-11.9-23.8-8.8-21.2-5.3-13.7z" fill="#464646"/>
<path d="M1760 1016l4.8 12.5 7.4 17.9 8.1 16.4 9.8 14.6 11.4 14.7 13.1 13.1 14.6 11.4 16.4 11.4 16.3 9.8 16.3 8.1 16.3 7.4 16.3 6.5 16.3 4.9 16.3 4.9 13.1 3.3 18.5 4.1-16.5 74.5-19.4-4.3-16.2-4.1-17.8-5.3-19.5-5.9-21-8.4-19.2-8.7-20.2-10.1-21.1-12.6-20.1-14-20-15.7-19.8-19.8-16-20.4-14-21.2-11.6-23.2-8.7-20.9-5.2-13.5z" fill="#434343"/>
<path d="M1760 1016l4.8 12.5 7.4 17.9 8.1 16.4 9.8 14.6 11.4 14.7 13.1 13.1 14.6 11.4 16.4 11.4 16.3 9.8 16.3 8.1 16.3 7.4 16.3 6.5 16.3 4.9 16.3 4.9 13.1 3.3 18.5 4.1-14.9 67.2-19.3-4.3-15.9-4-17.6-5.3-19.2-5.9-20.6-8.1-18.8-8.6-19.9-9.9-20.6-12.4-19.8-13.7-19.4-15.3-19.1-19.1-15.5-19.9-13.7-20.5-11.2-22.5-8.5-20.6-5.2-13.4z" fill="#404040"/>
<path d="M1760 1016l4.8 12.5 7.4 17.9 8.1 16.4 9.8 14.6 11.4 14.7 13.1 13.1 14.6 11.4 16.4 11.4 16.3 9.8 16.3 8.1 16.3 7.4 16.3 6.5 16.3 4.9 16.3 4.9 13.1 3.3 18.5 4.1-13.3 60-19.2-4.3-15.6-3.9-17.5-5.3-18.9-5.7-20.1-8-18.6-8.4-19.5-9.7-20.1-12.1-19.4-13.5-18.9-14.9-18.5-18.5-15.1-19.3-13.2-19.9-10.9-21.8-8.4-20.3-5.2-13.4z" fill="#3e3e3e"/>
<path d="M1760 1016l4.8 12.5 7.4 17.9 8.1 16.4 9.8 14.6 11.4 14.7 13.1 13.1 14.6 11.4 16.4 11.4 16.3 9.8 16.3 8.1 16.3 7.4 16.3 6.5 16.3 4.9 16.3 4.9 13.1 3.3 18.5 4.1-11.7 53-19.2-4.2-15.3-3.9-17.3-5.2-18.6-5.7-19.7-7.8-18.3-8.3-19.1-9.5-19.7-11.9-19.1-13.2-18.4-14.4-17.8-17.9-14.7-18.8-12.8-19.3-10.6-21.1-8.3-20.1-5.1-13.2z" fill="#3d3d3d"/>
<path d="M1760 1016l4.8 12.5 7.4 17.9 8.1 16.4 9.8 14.6 11.4 14.7 13.1 13.1 14.6 11.4 16.4 11.4 16.3 9.8 16.3 8.1 16.3 7.4 16.3 6.5 16.3 4.9 16.3 4.9 13.1 3.3 18.5 4.1-10.2 46.2-19.1-4.2-15-3.8-17.2-5.2-18.3-5.5-19.3-7.7-18-8.2-18.8-9.3-19.2-11.6-18.7-13-18-14-17.2-17.3-14.2-18.3-12.5-18.6-10.2-20.6-8.2-19.8-5.1-13.1z" fill="#3c3c3c"/>
<path d="M1760 1016l4.8 12.5 7.4 17.9 8.1 16.4 9.8 14.6 11.4 14.7 13.1 13.1 14.6 11.4 16.4 11.4 16.3 9.8 16.3 8.1 16.3 7.4 16.3 6.5 16.3 4.9 16.3 4.9 13.1 3.3 18.5 4.1-8.8 39.7-19-4.3-14.7-3.7-17.1-5.1-18-5.5-18.8-7.4-17.8-8.1-18.4-9.2-18.9-11.3-18.4-12.8-17.4-13.7-16.7-16.6-13.8-17.8-12.1-18.1-9.9-20-8.1-19.5-5-13z" fill="#3b3b3b"/>
<path d="M1760 1016l4.8 12.5 7.4 17.9 8.1 16.4 9.8 14.6 11.4 14.7 13.1 13.1 14.6 11.4 16.4 11.4 16.3 9.8 16.3 8.1 16.3 7.4 16.3 6.5 16.3 4.9 16.3 4.9 13.1 3.3 18.5 4.1-7.4 33.3-18.9-4.2-14.5-3.6-16.9-5.1-17.8-5.4-18.4-7.3-17.6-8-18-9-18.5-11.1-18-12.5-17-13.3-16.1-16.1-13.5-17.3-11.7-17.5-9.6-19.4-8-19.3-5-13z" fill="#3a3a3a"/>
<path d="M1760 1016l4.8 12.5 7.4 17.9 8.1 16.4 9.8 14.6 11.4 14.7 13.1 13.1 14.6 11.4 16.4 11.4 16.3 9.8 16.3 8.1 16.3 7.4 16.3 6.5 16.3 4.9 16.3 4.9 13.1 3.3 18.5 4.1-6 27.3-18.9-4.2-14.2-3.6-16.8-5-17.5-5.3-18.1-7.2-17.3-7.9-17.7-8.8-18.1-10.9-17.8-12.3-16.5-13-15.6-15.5-13-16.8-11.4-17-9.4-18.9-7.8-19-5-12.9z" fill="#383838"/>
<path d="M1760 1016l4.8 12.5 7.4 17.9 8.1 16.4 9.8 14.6 11.4 14.7 13.1 13.1 14.6 11.4 16.4 11.4 16.3 9.8 16.3 8.1 16.3 7.4 16.3 6.5 16.3 4.9 16.3 4.9 13.1 3.3 18.5 4.1-4.8 21.5-18.7-4.1-14-3.6-16.7-5-17.3-5.2-17.6-7-17.2-7.8-17.4-8.7-17.7-10.6-17.5-12.1-16.1-12.7-15-15-12.8-16.4-11-16.5-9.1-18.3-7.8-18.8-4.9-12.8z" fill="#353535"/>
<path d="M1760 1016l4.8 12.5 7.4 17.9 8.1 16.4 9.8 14.6 11.4 14.7 13.1 13.1 14.6 11.4 16.4 11.4 16.3 9.8 16.3 8.1 16.3 7.4 16.3 6.5 16.3 4.9 16.3 4.9 13.1 3.3 18.5 4.1-3.6 16.1-18.7-4.1-13.7-3.5-16.6-5-17-5.1-17.4-6.9-16.9-7.7-17.1-8.5-17.4-10.5-17.2-11.9-15.7-12.3-14.6-14.6-12.4-15.9-10.7-16.1-8.8-17.8-7.7-18.6-4.9-12.7z" fill="#303030"/>
<path d="M1760 1016l4.8 12.5 7.4 17.9 8.1 16.4 9.8 14.6 11.4 14.7 13.1 13.1 14.6 11.4 16.4 11.4 16.3 9.8 16.3 8.1 16.3 7.4 16.3 6.5 16.3 4.9 16.3 4.9 13.1 3.3 18.5 4.1-2.5 11.1-18.6-4.2-13.5-3.4-16.6-4.9-16.7-5.1-17.1-6.8-16.7-7.6-16.9-8.4-17-10.2-16.9-11.8-15.4-12-14.1-14.1-12.1-15.5-10.4-15.6-8.6-17.4-7.6-18.4-4.9-12.6z" fill="#2a2a2a"/>
<path d="M1760 1016l4.8 12.5 7.4 17.9 8.1 16.4 9.8 14.6 11.4 14.7 13.1 13.1 14.6 11.4 16.4 11.4 16.3 9.8 16.3 8.1 16.3 7.4 16.3 6.5 16.3 4.9 16.3 4.9 13.1 3.3 18.5 4.1-1.4 6.5-18.6-4.1-13.4-3.3-16.4-5-16.6-5-16.7-6.6-16.6-7.6-16.6-8.2-16.7-10.1-16.8-11.6-15-11.8-13.7-13.7-11.8-15.2-10.2-15.2-8.4-16.9-7.5-18.2-4.9-12.6z" fill="#212121"/>
<path d="M1760 1016l4.8 12.5 7.4 17.9 8.1 16.4 9.8 14.6 11.4 14.7 13.1 13.1 14.6 11.4 16.4 11.4 16.3 9.8 16.3 8.1 16.3 7.4 16.3 6.5 16.3 4.9 16.3 4.9 13.1 3.3 18.5 4.1-0.6 2.7-18.5-4.2-13.2-3.3-16.4-4.9-16.4-4.9-16.5-6.6-16.4-7.4-16.4-8.2-16.5-9.9-16.5-11.5-14.8-11.6-13.3-13.3-11.6-14.9-10-14.8-8.2-16.7-7.4-18-4.8-12.5z" fill="#161616"/>
<path d="M2085 739l13 2 11 2.2 10.9 3.4 16.3 6.6 16.3 8.1 16.3 9.8 16.3 11.4 16.3 13.1 16.3 14.6 16.3 16.4 16.3 17.9 13.1 16.3 11.4 14.7 7.2 9.8 8 10.7 3.2-2.4-7.2-11.3-5.6-11-9.2-16.7-10.3-19.2-13.1-21.9-13.6-20.7-13.4-20.1-14.1-19-15-17.8-17.1-14.9-19.5-9.7-21.4-2.2-17.8 7-15.5 11.1-14.9 8.8z" fill="#3f3f3f"/>
<path d="M2085 739l13 2 11 2.2 10.9 3.4 16.3 6.6 16.3 8.1 16.3 9.8 16.3 11.4 16.3 13.1 16.3 14.6 16.3 16.4 16.3 17.9 13.1 16.3 11.4 14.7 7.2 9.8 8 10.7 2.8-2.1-7.3-11.2-5.8-10.9-9.4-16.4-10.7-18.9-13.5-21.4-13.9-20.1-13.8-19.4-14.4-18.3-15.2-17-16.9-14.3-19.2-9.5-20.7-2.8-16.9 5.8-15 9.4-14.7 7.5z" fill="#414141"/>
<path d="M2085 739l13 2 11 2.2 10.9 3.4 16.3 6.6 16.3 8.1 16.3 9.8 16.3 11.4 16.3 13.1 16.3 14.6 16.3 16.4 16.3 17.9 13.1 16.3 11.4 14.7 7.2 9.8 8 10.7 2.4-1.8-7.4-11.1-6-10.8-9.7-16.2-11-18.4-14-20.9-14.2-19.6-14.1-18.7-14.7-17.6-15.3-16.2-16.9-13.6-18.7-9.4-20.1-3.3-16.1 4.5-14.4 7.8-14.5 6.1z" fill="#434343"/>
<path d="M2085 739l13 2 11 2.2 10.9 3.4 16.3 6.6 16.3 8.1 16.3 9.8 16.3 11.4 16.3 13.1 16.3 14.6 16.3 16.4 16.3 17.9 13.1 16.3 11.4 14.7 7.2 9.8 8 10.7 2-1.5-7.5-11.1-6.2-10.5-10-16-11.4-18.1-14.3-20.4-14.6-19.1-14.5-18-14.9-16.8-15.5-15.4-16.8-13-18.3-9.1-19.5-3.9-15.2 3.1-13.8 6.2-14.2 4.7z" fill="#464646"/>
<path d="M2085 739l13 2 11 2.2 10.9 3.4 16.3 6.6 16.3 8.1 16.3 9.8 16.3 11.4 16.3 13.1 16.3 14.6 16.3 16.4 16.3 17.9 13.1 16.3 11.4 14.7 7.2 9.8 8 10.7 1.6-1.2-7.6-11-6.4-10.4-10.3-15.7-11.7-17.8-14.7-19.8-14.9-18.6-14.9-17.3-15.2-16.1-15.7-14.6-16.6-12.4-17.9-8.9-18.9-4.4-14.3 1.8-13.3 4.5-14 3.4z" fill="#4a4a4a"/>
<path d="M2085 739l13 2 11 2.2 10.9 3.4 16.3 6.6 16.3 8.1 16.3 9.8 16.3 11.4 16.3 13.1 16.3 14.6 16.3 16.4 16.3 17.9 13.1 16.3 11.4 14.7 7.2 9.8 8 10.7 1.2-0.9-7.7-10.9-6.6-10.3-10.6-15.4-12-17.4-15.1-19.4-15.3-18-15.2-16.7-15.5-15.3-15.8-13.8-16.6-11.7-17.5-8.7-18.2-5-13.5 0.5-12.7 2.8-13.7 2.1z" fill="#4f4f4f"/>
<path d="M2085 739l13 2 11 2.2 10.9 3.4 16.3 6.6 16.3 8.1 16.3 9.8 16.3 11.4 16.3 13.1 16.3 14.6 16.3 16.4 16.3 17.9 13.1 16.3 11.4 14.7 7.2 9.8 8 10.7 0.8-0.6-7.8-10.8-6.8-10.2-10.8-15.2-12.4-17-15.6-18.9-15.6-17.4-15.5-16-15.8-14.6-16-13-16.5-11.1-17.1-8.5-17.5-5.5-12.7-0.8-12.1 1.2-13.5 0.7z" fill="#555555"/>
<path d="M2085 739l13 2 11 2.2 10.9 3.4 16.3 6.6 16.3 8.1 16.3 9.8 16.3 11.4 16.3 13.1 16.3 14.6 16.3 16.4 16.3 17.9 13.1 16.3 11.4 14.7 7.2 9.8 8 10.7 0.4-0.3-7.9-10.8-7-9.9-11.1-15-12.8-16.6-15.9-18.4-15.9-17-16-15.3-16-13.8-16.1-12.2-16.4-10.4-16.7-8.3-17-6.1-11.7-2.1-11.6-0.5-13.2-0.7z" fill="#5c5c5c"/>
<path d="M1760 915l5.6-11.8 4.9-11.4 8.2-14.7 9.8-16.3 11.4-16.3 11.4-14.7 13-14.7 13.1-13 16.3-13.1 16.3-11.4 16.3-9.8 16.3-8.1 16.4-6.5 21.2-6.6 12.8-3.6 0-18 132 0 0 14 13 2 11 2.2 10.9 3.4 16.3 6.6 16.3 8.1 16.3 9.8 16.3 11.4 16.3 13.1 16.3 14.6 16.3 16.4 16.3 17.9 13.1 16.3 11.4 14.7 7.2 9.8 8 10.7 15 0 0 112-18 0-5 10.7-5.6 11.4-9.7 16.3-13.1 18-14.7 17.9-14.6 16.3-16.4 14.7-16.3 13.1-16.3 11.4-16.3 9.8-16.3 8.1-16.3 6.5-16.3 5.7-16.3 4.1-9.8 2-18 4 0 17-91 0 0-18-18.5-4.1-13.1-3.3-16.3-4.9-16.3-4.9-16.3-6.5-16.3-7.4-16.3-8.1-16.3-9.8-16.4-11.4-14.6-11.4-13.1-13.1-11.4-14.7-9.8-14.6-8.1-16.4-7.4-17.9-4.8-12.5-16 0 0-101z" fill="#b1b1b1"/>
<path d="M2085 739l13 2 11 2.2 10.9 3.4 16.3 6.6 16.3 8.1 16.3 9.8 16.3 11.4 16.3 13.1 16.3 14.6 16.3 16.4 16.3 17.9 13.1 16.3 11.4 14.7 7.2 9.8 8 10.7-4 3-8.8-10.1-8-9.2-12.9-13.3-14.3-14.7-18.1-15.5-17.9-13.7-18.2-10.9-17.7-9.1-16.6-7.9-15.4-7-14.2-7.1-13.3-8.6-6.6-9.3-7.7-11.7-11.6-9.9z" fill="#afafaf"/>
<path d="M2085 739l13 2 11 2.2 10.9 3.4 16.3 6.6 16.3 8.1 16.3 9.8 16.3 11.4 16.3 13.1 16.3 14.6 16.3 16.4 16.3 17.9 13.1 16.3 11.4 14.7 7.2 9.8 8 10.7-3.6 2.7-8.7-10.2-7.9-9.2-12.7-13.5-14.2-14.9-17.9-15.7-17.7-14-18-11.4-17.6-9.5-16.5-8.3-15.5-7.3-14.5-7.2-13.6-8.4-7-8.7-8.1-10.6-11.8-9z" fill="#acacac"/>
<path d="M2085 739l13 2 11 2.2 10.9 3.4 16.3 6.6 16.3 8.1 16.3 9.8 16.3 11.4 16.3 13.1 16.3 14.6 16.3 16.4 16.3 17.9 13.1 16.3 11.4 14.7 7.2 9.8 8 10.7-3.1 2.3-8.6-10.2-7.8-9.3-12.6-13.7-14.1-15-17.7-16-17.5-14.3-17.8-11.8-17.4-10-16.5-8.6-15.6-7.6-14.7-7.3-13.9-8.2-7.6-8-8.4-9.6-11.9-8.2z" fill="#a7a7a7"/>
<path d="M2085 739l13 2 11 2.2 10.9 3.4 16.3 6.6 16.3 8.1 16.3 9.8 16.3 11.4 16.3 13.1 16.3 14.6 16.3 16.4 16.3 17.9 13.1 16.3 11.4 14.7 7.2 9.8 8 10.7-2.7 2-8.5-10.3-7.7-9.4-12.4-13.8-14-15.2-17.5-16.3-17.3-14.6-17.6-12.1-17.2-10.5-16.5-9.1-15.7-7.9-14.9-7.4-14.3-7.9-8-7.4-8.8-8.5-12.1-7.3z" fill="#a1a1a1"/>
<path d="M2085 739l13 2 11 2.2 10.9 3.4 16.3 6.6 16.3 8.1 16.3 9.8 16.3 11.4 16.3 13.1 16.3 14.6 16.3 16.4 16.3 17.9 13.1 16.3 11.4 14.7 7.2 9.8 8 10.7-2.2 1.7-8.5-10.4-7.6-9.4-12.2-14-13.8-15.4-17.3-16.5-17.2-15-17.4-12.5-17-10.9-16.5-9.5-15.8-8.2-15.2-7.5-14.6-7.7-8.5-6.7-9.2-7.5-12.2-6.4z" fill="#999999"/>
<path d="M2085 739l13 2 11 2.2 10.9 3.4 16.3 6.6 16.3 8.1 16.3 9.8 16.3 11.4 16.3 13.1 16.3 14.6 16.3 16.4 16.3 17.9 13.1 16.3 11.4 14.7 7.2 9.8 8 10.7-1.8 1.3-8.3-10.4-7.6-9.5-12-14.1-13.7-15.6-17.1-16.8-17-15.2-17.1-13-17-11.3-16.4-9.9-15.9-8.5-15.4-7.6-14.9-7.5-9-6.1-9.6-6.4-12.3-5.5z" fill="#8f8f8f"/>
<path d="M2085 739l13 2 11 2.2 10.9 3.4 16.3 6.6 16.3 8.1 16.3 9.8 16.3 11.4 16.3 13.1 16.3 14.6 16.3 16.4 16.3 17.9 13.1 16.3 11.4 14.7 7.2 9.8 8 10.7-1.3 1-8.3-10.5-7.5-9.6-11.9-14.2-13.5-15.8-16.9-17.1-16.8-15.5-16.9-13.4-16.8-11.7-16.4-10.3-16-8.8-15.6-7.8-15.3-7.3-9.5-5.3-9.9-5.4-12.5-4.6z" fill="#838383"/>
<path d="M2085 739l13 2 11 2.2 10.9 3.4 16.3 6.6 16.3 8.1 16.3 9.8 16.3 11.4 16.3 13.1 16.3 14.6 16.3 16.4 16.3 17.9 13.1 16.3 11.4 14.7 7.2 9.8 8 10.7-0.9 0.7-8.2-10.6-7.3-9.7-11.8-14.4-13.4-15.9-16.7-17.4-16.6-15.8-16.7-13.7-16.6-12.3-16.4-10.6-16.1-9.2-15.8-7.8-15.7-7.1-9.9-4.7-10.3-4.3-12.7-3.8z" fill="#757575"/>
<path d="M2085 739l13 2 11 2.2 10.9 3.4 16.3 6.6 16.3 8.1 16.3 9.8 16.3 11.4 16.3 13.1 16.3 14.6 16.3 16.4 16.3 17.9 13.1 16.3 11.4 14.7 7.2 9.8 8 10.7-0.4 0.3-8.1-10.6-7.3-9.7-11.6-14.6-13.2-16.1-16.5-17.6-16.5-16.1-16.5-14.2-16.5-12.7-16.3-11-16.2-9.5-16.1-8-15.9-6.8-10.5-4-10.6-3.3-12.8-2.9z" fill="#676767"/>
<path d="M1952.2 740.1l-5.1 1.4-7.7 2.2-10.5 3.2-10.9 3.5-8.6 3.2-8 3.4-8.3 3.9-8.2 4.3-8.3 4.7-8.2 5.2-8.3 5.5-8.2 6-8.4 6.5-8.1 6.8-6.9 6.5-6.4 6.7-6.7 7.3-6.4 7.5-5.9 7.3-5.6 7.5-5.9 8.1-5.6 8.4-5.2 8.3-4.7 8.1-4.4 7.7-3.9 7.2-2.7 6-2.2 5.5-3.1 6.5-2.5 5.2 8.1 3.9 2.5-5.2 3.2-6.8 2.3-5.5 2.5-5.6 3.6-6.8 4.4-7.6 4.6-8 5-8 5.5-8.1 5.7-7.9 5.5-7.4 5.7-7.1 6.3-7.3 6.5-7.1 6.2-6.4 6.5-6.2 7.7-6.5 8.2-6.3 8-5.8 8-5.4 7.9-5 8-4.5 7.9-4.2 8-3.7 7.6-3.3 8.2-3 10.7-3.5 10.3-3 7.6-2.2 5.1-1.4z" fill="#a6a6a6"/>
<path d="M1952.1 739.8l-5.1 1.4-7.7 2.2-10.5 3.1-10.9 3.5-8.6 3.2-8.1 3.4-8.2 3.9-8.3 4.4-8.3 4.7-8.2 5.2-8.3 5.5-8.2 6-8.4 6.5-8.1 6.8-6.9 6.5-6.4 6.7-6.7 7.3-6.5 7.6-5.8 7.3-5.7 7.5-5.8 8.1-5.7 8.4-5.2 8.3-4.7 8.1-4.4 7.7-3.9 7.2-2.7 6.1-2.3 5.4-3 6.6-2.5 5.1 7.2 3.5 2.6-5.2 3.1-6.7 2.3-5.6 2.5-5.6 3.7-6.8 4.4-7.6 4.6-8 5.1-8.1 5.5-8.1 5.7-8 5.5-7.4 5.7-7.1 6.3-7.3 6.5-7.2 6.3-6.5 6.5-6.2 7.8-6.5 8.2-6.3 8.1-5.8 8-5.4 8-5.1 8-4.6 7.9-4.1 8-3.8 7.7-3.3 8.3-3 10.7-3.5 10.3-3.1 7.7-2.2 5-1.4z" fill="#979797"/>
<path d="M1952 739.4l-5.1 1.4-7.7 2.3-10.5 3.1-10.9 3.5-8.7 3.2-8 3.4-8.3 3.9-8.3 4.4-8.3 4.7-8.2 5.2-8.3 5.6-8.2 5.9-8.5 6.6-8.1 6.7-6.9 6.6-6.4 6.7-6.7 7.3-6.4 7.5-5.9 7.4-5.7 7.5-5.8 8.1-5.7 8.4-5.2 8.3-4.7 8.1-4.4 7.8-3.9 7.2-2.7 6-2.3 5.5-3 6.5-2.5 5.2 6.4 3.1 2.5-5.2 3.1-6.7 2.3-5.6 2.6-5.7 3.7-6.9 4.4-7.6 4.6-8 5.1-8.1 5.5-8.2 5.8-8 5.5-7.3 5.7-7.2 6.4-7.4 6.5-7.2 6.3-6.5 6.6-6.2 7.8-6.6 8.3-6.4 8-5.8 8.1-5.4 8-5.1 8.1-4.6 8-4.2 8-3.8 7.8-3.3 8.3-3.1 10.7-3.4 10.4-3.1 7.7-2.2 5-1.4z" fill="#828282"/>
<path d="M1951.9 739.1l-5.1 1.4-7.7 2.2-10.5 3.2-10.9 3.5-8.7 3.2-8.1 3.4-8.3 3.9-8.2 4.4-8.3 4.7-8.3 5.2-8.3 5.6-8.2 6-8.5 6.5-8.1 6.8-6.9 6.5-6.5 6.7-6.6 7.4-6.5 7.5-5.9 7.4-5.7 7.5-5.8 8.1-5.7 8.4-5.2 8.4-4.7 8.1-4.4 7.7-3.9 7.2-2.7 6.1-2.3 5.5-3.1 6.5-2.5 5.1 5.6 2.7 2.5-5.2 3.2-6.6 2.3-5.6 2.5-5.7 3.8-7 4.4-7.6 4.6-8 5.1-8.2 5.6-8.2 5.7-8 5.6-7.4 5.7-7.2 6.4-7.4 6.6-7.2 6.3-6.6 6.6-6.3 7.9-6.6 8.3-6.4 8.1-5.9 8.1-5.4 8.1-5.1 8-4.6 8.1-4.2 8.1-3.8 7.8-3.4 8.4-3.1 10.8-3.4 10.3-3.1 7.7-2.2 5.1-1.4z" fill="#6b6b6b"/>
<path d="M1951.8 738.8l-5.1 1.4-7.7 2.2-10.5 3.1-10.9 3.5-8.7 3.3-8.1 3.4-8.3 3.9-8.3 4.3-8.3 4.8-8.3 5.2-8.3 5.6-8.2 6-8.5 6.5-8.1 6.8-7 6.6-6.4 6.7-6.7 7.3-6.5 7.6-5.9 7.4-5.6 7.5-5.9 8.1-5.7 8.4-5.2 8.4-4.7 8.1-4.4 7.7-3.9 7.2-2.8 6.1-2.2 5.5-3.1 6.5-2.5 5.2 4.8 2.3 2.5-5.2 3.1-6.7 2.3-5.5 2.6-5.8 3.7-7 4.4-7.7 4.7-8 5.1-8.2 5.6-8.3 5.8-8 5.6-7.4 5.8-7.3 6.3-7.4 6.6-7.2 6.3-6.6 6.8-6.4 7.9-6.6 8.3-6.4 8.1-5.9 8.2-5.5 8.1-5.1 8.1-4.6 8.1-4.3 8.2-3.8 7.8-3.3 8.5-3.2 10.8-3.5 10.3-3.1 7.8-2.2 5-1.4z" fill="#535353"/>
<path d="M1951.7 738.4l-5.1 1.4-7.7 2.2-10.5 3.2-10.9 3.5-8.8 3.2-8 3.5-8.4 3.9-8.3 4.3-8.3 4.8-8.3 5.2-8.3 5.6-8.2 6-8.5 6.5-8.2 6.8-6.9 6.6-6.5 6.8-6.7 7.3-6.5 7.6-5.9 7.3-5.6 7.6-5.9 8.1-5.7 8.4-5.2 8.4-4.7 8.1-4.5 7.7-3.9 7.3-2.7 6.1-2.2 5.5-3.1 6.5-2.5 5.1 3.9 1.9 2.5-5.2 3.1-6.6 2.3-5.5 2.6-5.9 3.8-7.1 4.4-7.6 4.7-8.1 5.1-8.2 5.6-8.3 5.9-8.1 5.6-7.4 5.8-7.3 6.4-7.4 6.6-7.3 6.3-6.6 6.8-6.4 8-6.7 8.3-6.4 8.2-6 8.2-5.5 8.1-5.1 8.2-4.7 8.2-4.2 8.1-3.9 7.9-3.3 8.6-3.2 10.8-3.5 10.4-3.1 7.7-2.2 5.1-1.4z" fill="#464646"/>
<path d="M1951.7 738.1l-5.2 1.4-7.7 2.2-10.5 3.1-11 3.6-8.7 3.2-8.1 3.4-8.3 4-8.4 4.3-8.3 4.8-8.3 5.2-8.3 5.6-8.3 6-8.4 6.6-8.2 6.8-6.9 6.6-6.5 6.7-6.7 7.4-6.5 7.5-5.9 7.4-5.7 7.6-5.9 8.1-5.7 8.4-5.2 8.4-4.7 8.1-4.5 7.8-3.9 7.2-2.7 6.2-2.3 5.4-3 6.5-2.5 5.2 3.1 1.5 2.4-5.2 3.1-6.6 2.3-5.5 2.7-6 3.8-7.1 4.4-7.7 4.7-8 5.2-8.3 5.6-8.3 5.8-8.1 5.6-7.5 5.9-7.3 6.4-7.5 6.6-7.3 6.4-6.6 6.9-6.5 8-6.7 8.4-6.5 8.2-5.9 8.2-5.5 8.2-5.2 8.2-4.7 8.2-4.3 8.2-3.9 8-3.3 8.5-3.2 10.9-3.5 10.4-3.1 7.8-2.3 5-1.4z" fill="#3e3e3e"/>
<path d="M2287.5 1008.2l-5 10.7-5.7 11.4-9.7 16.4-13.1 18-14.7 17.9-14.6 16.4-16.5 14.7-16 13.5-15.8 12.3-16 10.7-16.5 8.2-16.4 6.6-16.5 5.8-16.5 4.1-9.9 2-17.9 4-1.8-7.8 18-4 9.8-2 16-4 15.9-5.6 16.1-6.4 15.9-7.9 16.5-8.8 17.3-9.6 16.9-12.3 16.3-14.6 14.5-16.3 14.7-17.8 13.1-18 9.6-16.2 5.6-11.3 5-10.7z" fill="#a5a5a5"/>
<path d="M2287.8 1008.4l-5 10.7-5.7 11.4-9.7 16.4-13.1 18-14.8 18-14.6 16.3-16.4 14.7-16.1 13.6-15.8 12.3-16 10.7-16.5 8.3-16.5 6.5-16.5 5.8-16.5 4.2-9.9 2-18 4-1.5-6.9 18-4 9.8-2 16-4 16.1-5.6 16.1-6.4 16-8 16.5-9.1 17-10.1 16.7-12.5 16.4-14.6 14.5-16.3 14.7-17.9 13.1-17.9 9.6-16.3 5.6-11.3 5-10.7z" fill="#939393"/>
<path d="M2288.1 1008.5l-5 10.7-5.6 11.5-9.8 16.4-13.2 18-14.7 18-14.7 16.3-16.4 14.8-16.1 13.6-15.8 12.3-16 10.7-16.6 8.3-16.5 6.6-16.5 5.7-16.6 4.2-9.8 2-18 4-1.3-5.9 18-4 9.8-2 16.1-4 16.2-5.7 16.1-6.4 16.2-8 16.3-9.5 16.8-10.5 16.6-12.7 16.3-14.7 14.6-16.2 14.7-17.9 13.1-18 9.7-16.2 5.5-11.4 5-10.7z" fill="#787878"/>
<path d="M2288.4 1008.7l-5 10.7-5.6 11.4-9.8 16.5-13.2 18-14.7 18-14.7 16.4-16.5 14.8-16.1 13.5-15.8 12.4-16.1 10.8-16.5 8.2-16.6 6.6-16.5 5.8-16.6 4.1-9.8 2.1-18 4-1.1-5 18-4 9.8-2 16.2-4.1 16.2-5.6 16.3-6.5 16.2-8.1 16.3-9.7 16.5-11 16.4-12.9 16.4-14.7 14.6-16.3 14.7-17.9 13.1-17.9 9.7-16.3 5.6-11.4 5-10.7z" fill="#5c5c5c"/>
<path d="M2288.7 1008.8l-5 10.7-5.6 11.5-9.8 16.5-13.2 18.1-14.8 17.9-14.7 16.4-16.5 14.8-16.1 13.6-15.8 12.4-16.1 10.8-16.6 8.2-16.6 6.6-16.5 5.8-16.6 4.2-9.9 2-17.9 4-0.9-4 18-4 9.8-2 16.3-4.1 16.3-5.7 16.3-6.5 16.4-8.1 16.1-10.1 16.3-11.4 16.3-13.1 16.4-14.7 14.6-16.3 14.7-17.9 13.1-18 9.7-16.3 5.6-11.4 5-10.7z" fill="#484848"/>
<path d="M2289 1009l-5 10.7-5.6 11.5-9.8 16.4-13.2 18.2-14.8 18-14.7 16.4-16.5 14.8-16.1 13.6-16 12.3-16 10.9-16.7 8.2-16.5 6.6-16.6 5.8-16.6 4.2-9.9 2-18 4-0.6-3 18-4 9.8-2 16.4-4.1 16.4-5.7 16.4-6.6 16.4-8.1 16-10.5 16.1-11.8 16.2-13.3 16.4-14.7 14.6-16.3 14.7-17.9 13.1-18.1 9.7-16.3 5.6-11.4 5-10.7z" fill="#3e3e3e"/>
<g filter="url(#hb1.5_f)">
<path d="M1934.7 885.4l13.5-6 17.4-4.6 16.3-5.7 16.1-4.4 12.5-1.6 14.8-0.8 18.9 1.5 15.5 3.2 15.5 5.4 15.7 7.9 15.7 10.2 12.2 10.7 9.1 12.1 6.1 12.2 3.7 11.8 1.1 14 0.2 8.3-1.5 9.3-2.8 9.6-3.8 9.5-5.8 9.7-6.8 9.8-8.7 9.7-10.6 8.7-9.3 9.4-10.3 7.8 1.9 3.5 12.4-4.4 12.9-5.8 13.3-8.4 11.7-9.9 9.4-10 8.7-10.7 6.8-11.3 6.4-11.5 5-12.9 3.9-12.4 2.3-18.8-2.1-20.5-6.8-20.1-12.8-20.1-17-17.7-20.5-13.4-20.8-10.4-21.6-7.6-21.8-4.4-24.4 0-19.6 2.9-16.9 6.3-18 11.2-15.8 13.9-14.8 15.5-8.6 16z" fill="#b2b2b2"/>
<path d="M1751 924.5l-2 25.3 0 25.4 2 23.5 3.2 18.8 5 13.2 7.5 18.2 8.4 16.9 10.1 15.1 11.8 15.2 13.6 13.6 15 11.7 16.7 11.6 16.7 10.1 16.6 8.2 16.5 7.5 16.7 6.7 16.6 4.9 16.4 5 13.3 3.3 18.6 4.2 2.2-9.8-17.6-8-11.1-9-13.8-12.5-12.7-12.1-11.3-13.2-12.3-12.1-11.1-12.2-10.5-12.1-11.9-12-9.2-9.6-7.9-7.9-9.4-9-8.3-8.6-9.2-9.8-12.1-13.6-4.9-6.3-1.9-12.4-3.7-19.4-6-21.9-8.1-24.3z" fill="#b2b2b2"/>
<path d="M1934.7 885.4l13.5-6 17.4-4.6 16.3-5.7 16.1-4.4 12.5-1.6 14.8-0.8 18.9 1.5 15.5 3.2 15.5 5.4 15.7 7.9 15.7 10.2 12.2 10.7 9.1 12.1 6.1 12.2 3.7 11.8 1.1 14 0.2 8.3-1.5 9.3-2.8 9.6-3.8 9.5-5.8 9.7-6.8 9.8-8.7 9.7-10.6 8.7-9.3 9.4-10.3 7.8 1.8 3.2 12.2-4.6 12.8-6 13-8.4 11.4-10 9.2-10 8.4-10.6 6.4-11.3 6.1-11.3 4.6-12.6 3.4-12 1.9-18.4-2.3-19.6-6.8-19.3-12.4-19.3-16.6-16.9-20-13.1-20.3-10.2-21-7.3-21.2-4.3-23.8-0.2-19.1 2.7-16.5 5.7-17.9 10.4-15.9 13.1-15 14.5-9 15z" fill="#b4b4b4"/>
<path d="M1751 924.5l-2 25.3 0 25.4 2 23.5 3.2 18.8 5 13.2 7.5 18.2 8.4 16.9 10.1 15.1 11.8 15.2 13.6 13.6 15 11.7 16.7 11.6 16.7 10.1 16.6 8.2 16.5 7.5 16.7 6.7 16.6 4.9 16.4 5 13.3 3.3 18.6 4.2 2.1-9.4-17.7-7.5-11.4-8.3-14-11.7-13.1-11.3-11.9-12.3-12.8-11.7-11.7-11.7-11.1-11.9-12.5-11.9-9.8-9.8-8.4-8.4-9.7-9.7-8.5-9.3-9-10.6-11.6-14.1-4.9-7-2-13-3.5-19.8-5.4-22.2-6.9-24.5z" fill="#b5b5b5"/>
<path d="M1934.7 885.4l13.5-6 17.4-4.6 16.3-5.7 16.1-4.4 12.5-1.6 14.8-0.8 18.9 1.5 15.5 3.2 15.5 5.4 15.7 7.9 15.7 10.2 12.2 10.7 9.1 12.1 6.1 12.2 3.7 11.8 1.1 14 0.2 8.3-1.5 9.3-2.8 9.6-3.8 9.5-5.8 9.7-6.8 9.8-8.7 9.7-10.6 8.7-9.3 9.4-10.3 7.8 1.6 2.9 12.2-4.8 12.5-6.1 12.8-8.5 11.2-10.1 8.8-10 8.2-10.6 6.1-11.1 5.7-11.2 4.3-12.3 2.9-11.6 1.5-17.9-2.5-18.8-6.8-18.6-12.1-18.5-16.1-16.2-19.5-12.8-19.8-9.9-20.4-7.2-20.6-4.1-23.3-0.4-18.7 2.5-16 5.2-17.7 9.7-16 12.1-15.2 13.7-9.5 14.1z" fill="#b5b5b5"/>
<path d="M1934.7 885.4l13.5-6 17.4-4.6 16.3-5.7 16.1-4.4 12.5-1.6 14.8-0.8 18.9 1.5 15.5 3.2 15.5 5.4 15.7 7.9 15.7 10.2 12.2 10.7 9.1 12.1 6.1 12.2 3.7 11.8 1.1 14 0.2 8.3-1.5 9.3-2.8 9.6-3.8 9.5-5.8 9.7-6.8 9.8-8.7 9.7-10.6 8.7-9.3 9.4-10.3 7.8 1.5 2.7 12-5 12.4-6.3 12.5-8.6 10.9-10.1 8.7-10.1 7.9-10.5 5.8-11 5.3-11.1 3.9-12 2.5-11.3 1.2-17.4-2.7-18-6.8-17.8-11.8-17.8-15.6-15.6-19.2-12.4-19.3-9.7-19.8-7-20-4-22.8-0.5-18.2 2.2-15.7 4.8-17.6 8.9-16.1 11.3-15.3 12.8-10 13.3z" fill="#b7b7b7"/>
<path d="M1751 924.5l-2 25.3 0 25.4 2 23.5 3.2 18.8 5 13.2 7.5 18.2 8.4 16.9 10.1 15.1 11.8 15.2 13.6 13.6 15 11.7 16.7 11.6 16.7 10.1 16.6 8.2 16.5 7.5 16.7 6.7 16.6 4.9 16.4 5 13.3 3.3 18.6 4.2 2-8.9-17.8-7.1-11.6-7.7-14.3-10.8-13.5-10.5-12.5-11.7-13.2-11.1-12.3-11.3-11.7-11.6-13-11.8-10.4-10-9-9-9.9-10.3-8.6-10-9-11.3-11-14.6-4.9-7.6-2.2-13.7-3.3-20.3-4.6-22.5-5.8-24.5z" fill="#b8b8b8"/>
<path d="M1934.7 885.4l13.5-6 17.4-4.6 16.3-5.7 16.1-4.4 12.5-1.6 14.8-0.8 18.9 1.5 15.5 3.2 15.5 5.4 15.7 7.9 15.7 10.2 12.2 10.7 9.1 12.1 6.1 12.2 3.7 11.8 1.1 14 0.2 8.3-1.5 9.3-2.8 9.6-3.8 9.5-5.8 9.7-6.8 9.8-8.7 9.7-10.6 8.7-9.3 9.4-10.3 7.8 1.3 2.4 11.9-5.2 12.2-6.4 12.4-8.7 10.7-10.1 8.4-10.1 7.6-10.5 5.6-10.8 5-11 3.5-11.8 2.1-10.9 0.8-17-2.9-17.3-6.8-17.1-11.4-17-15.3-14.9-18.7-12.2-18.9-9.5-19.3-6.7-19.4-4-22.3-0.7-17.8 2-15.3 4.3-17.4 8.3-16.2 10.5-15.6 12-10.3 12.5z" fill="#b9b9b9"/>
<path d="M1751 924.5l-2 25.3 0 25.4 2 23.5 3.2 18.8 5 13.2 7.5 18.2 8.4 16.9 10.1 15.1 11.8 15.2 13.6 13.6 15 11.7 16.7 11.6 16.7 10.1 16.6 8.2 16.5 7.5 16.7 6.7 16.6 4.9 16.4 5 13.3 3.3 18.6 4.2 1.9-8.5-17.9-6.7-11.8-7.1-14.6-10-13.9-9.7-12.9-11-13.7-10.6-12.8-10.8-12.4-11.4-13.4-11.7-11-10.2-9.6-9.6-10.1-10.9-8.8-10.6-8.8-12-10.6-15.1-4.8-8.3-2.3-14.3-3.1-20.6-4.1-22.8-4.7-24.6z" fill="#bababa"/>
<path d="M1934.7 885.4l13.5-6 17.4-4.6 16.3-5.7 16.1-4.4 12.5-1.6 14.8-0.8 18.9 1.5 15.5 3.2 15.5 5.4 15.7 7.9 15.7 10.2 12.2 10.7 9.1 12.1 6.1 12.2 3.7 11.8 1.1 14 0.2 8.3-1.5 9.3-2.8 9.6-3.8 9.5-5.8 9.7-6.8 9.8-8.7 9.7-10.6 8.7-9.3 9.4-10.3 7.8 1.2 2.1 11.8-5.3 12-6.5 12.2-8.8 10.4-10.2 8.2-10.1 7.4-10.4 5.4-10.8 4.6-10.8 3.2-11.5 1.7-10.6 0.4-16.7-3.1-16.5-6.7-16.4-11.2-16.3-14.8-14.4-18.3-11.9-18.5-9.3-18.7-6.5-18.9-3.9-21.9-0.8-17.4 1.8-14.9 3.9-17.3 7.6-16.3 9.7-15.7 11.2-10.7 11.7z" fill="#bbbbbb"/>
<path d="M1751 924.5l-2 25.3 0 25.4 2 23.5 3.2 18.8 5 13.2 7.5 18.2 8.4 16.9 10.1 15.1 11.8 15.2 13.6 13.6 15 11.7 16.7 11.6 16.7 10.1 16.6 8.2 16.5 7.5 16.7 6.7 16.6 4.9 16.4 5 13.3 3.3 18.6 4.2 1.8-8.1-18-6.3-12-6.5-14.8-9.2-14.3-9.1-13.5-10.2-14-10.1-13.4-10.4-12.9-11.2-13.9-11.7-11.6-10.4-10.1-10.1-10.3-11.5-8.9-11.2-8.7-12.6-10.1-15.5-4.8-9-2.4-14.8-3-21-3.4-23.2-3.7-24.6z" fill="#bbbbbb"/>
<path d="M1751 924.5l-2 25.3 0 25.4 2 23.5 3.2 18.8 5 13.2 7.5 18.2 8.4 16.9 10.1 15.1 11.8 15.2 13.6 13.6 15 11.7 16.7 11.6 16.7 10.1 16.6 8.2 16.5 7.5 16.7 6.7 16.6 4.9 16.4 5 13.3 3.3 18.6 4.2 1.7-7.7-18-6-12.2-5.9-15.1-8.5-14.6-8.3-14-9.6-14.4-9.7-13.9-10-13.5-10.9-14.3-11.7-12.1-10.5-10.6-10.7-10.5-12-9.1-11.8-8.6-13.3-9.6-15.9-4.9-9.5-2.5-15.4-2.8-21.3-2.8-23.5-2.7-24.7z" fill="#bdbdbd"/>
<path d="M1751 924.5l-2 25.3 0 25.4 2 23.5 3.2 18.8 5 13.2 7.5 18.2 8.4 16.9 10.1 15.1 11.8 15.2 13.6 13.6 15 11.7 16.7 11.6 16.7 10.1 16.6 8.2 16.5 7.5 16.7 6.7 16.6 4.9 16.4 5 13.3 3.3 18.6 4.2 1.6-7.4-18.1-5.6-12.4-5.4-15.3-7.8-14.9-7.6-14.5-9-14.7-9.3-14.4-9.6-14.1-10.7-14.7-11.6-12.5-10.7-11.1-11.1-10.7-12.6-9.2-12.3-8.5-13.9-9.2-16.3-4.8-10.1-2.6-15.9-2.7-21.7-2.3-23.8-1.8-24.7z" fill="#bebebe"/>
<path d="M1934.7 885.4l13.5-6 17.4-4.6 16.3-5.7 16.1-4.4 12.5-1.6 14.8-0.8 18.9 1.5 15.5 3.2 15.5 5.4 15.7 7.9 15.7 10.2 12.2 10.7 9.1 12.1 6.1 12.2 3.7 11.8 1.1 14 0.2 8.3-1.5 9.3-2.8 9.6-3.8 9.5-5.8 9.7-6.8 9.8-8.7 9.7-10.6 8.7-9.3 9.4-10.3 7.8 1 1.9 11.8-5.5 11.9-6.7 12-8.8 10.2-10.2 7.9-10.1 7.2-10.4 5.1-10.7 4.3-10.7 2.9-11.3 1.3-10.3 0.1-16.3-3.2-15.8-6.7-15.8-10.9-15.6-14.5-13.8-17.9-11.7-18.1-9-18.3-6.4-18.3-3.8-21.5-1-17 1.7-14.6 3.4-17.2 7.1-16.3 8.9-15.9 10.5-11.1 10.9z" fill="#bebebe"/>
<path d="M1751 924.5l-2 25.3 0 25.4 2 23.5 3.2 18.8 5 13.2 7.5 18.2 8.4 16.9 10.1 15.1 11.8 15.2 13.6 13.6 15 11.7 16.7 11.6 16.7 10.1 16.6 8.2 16.5 7.5 16.7 6.7 16.6 4.9 16.4 5 13.3 3.3 18.6 4.2 1.6-7-18.3-5.3-12.5-5-15.5-7.1-15.3-7-14.8-8.5-15.2-8.8-14.7-9.3-14.6-10.4-15.1-11.6-13-10.9-11.6-11.5-10.8-13.1-9.4-12.8-8.4-14.5-8.8-16.6-4.8-10.7-2.7-16.4-2.5-21.9-1.7-24.1-1-24.8z" fill="#c1c1c1"/>
<path d="M1934.7 885.4l13.5-6 17.4-4.6 16.3-5.7 16.1-4.4 12.5-1.6 14.8-0.8 18.9 1.5 15.5 3.2 15.5 5.4 15.7 7.9 15.7 10.2 12.2 10.7 9.1 12.1 6.1 12.2 3.7 11.8 1.1 14 0.2 8.3-1.5 9.3-2.8 9.6-3.8 9.5-5.8 9.7-6.8 9.8-8.7 9.7-10.6 8.7-9.3 9.4-10.3 7.8 0.9 1.7 11.6-5.6 11.8-6.8 11.8-9 10-10.2 7.8-10.1 6.9-10.4 4.9-10.6 4-10.6 2.6-11 1-10.1-0.2-15.9-3.4-15.2-6.7-15.1-10.6-15.1-14.2-13.3-17.5-11.4-17.7-8.8-17.8-6.3-17.9-3.6-21-1.1-16.7 1.4-14.3 3-17 6.6-16.5 8.1-16 9.9-11.5 10.3z" fill="#c7c7c7"/>
<path d="M1751 924.5l-2 25.3 0 25.4 2 23.5 3.2 18.8 5 13.2 7.5 18.2 8.4 16.9 10.1 15.1 11.8 15.2 13.6 13.6 15 11.7 16.7 11.6 16.7 10.1 16.6 8.2 16.5 7.5 16.7 6.7 16.6 4.9 16.4 5 13.3 3.3 18.6 4.2 1.5-6.7-18.3-5-12.7-4.5-15.7-6.5-15.6-6.5-15.2-7.9-15.4-8.4-15.2-9-15.1-10.3-15.4-11.5-13.5-11.1-11.9-11.9-11-13.5-9.5-13.3-8.3-15-8.4-17-4.8-11.1-2.8-16.8-2.4-22.3-1.3-24.3-0.1-24.9z" fill="#c9c9c9"/>
<path d="M1934.7 885.4l13.5-6 17.4-4.6 16.3-5.7 16.1-4.4 12.5-1.6 14.8-0.8 18.9 1.5 15.5 3.2 15.5 5.4 15.7 7.9 15.7 10.2 12.2 10.7 9.1 12.1 6.1 12.2 3.7 11.8 1.1 14 0.2 8.3-1.5 9.3-2.8 9.6-3.8 9.5-5.8 9.7-6.8 9.8-8.7 9.7-10.6 8.7-9.3 9.4-10.3 7.8 0.8 1.5 11.5-5.8 11.7-6.9 11.6-9 9.8-10.2 7.6-10.2 6.8-10.4 4.7-10.4 3.7-10.6 2.3-10.7 0.7-9.8-0.5-15.6-3.5-14.6-6.7-14.6-10.4-14.6-13.9-12.7-17.2-11.2-17.3-8.7-17.4-6.1-17.5-3.5-20.6-1.3-16.3 1.3-14 2.7-17 6-16.5 7.5-16.2 9.2-11.7 9.7z" fill="#d7d7d7"/>
<path d="M1751 924.5l-2 25.3 0 25.4 2 23.5 3.2 18.8 5 13.2 7.5 18.2 8.4 16.9 10.1 15.1 11.8 15.2 13.6 13.6 15 11.7 16.7 11.6 16.7 10.1 16.6 8.2 16.5 7.5 16.7 6.7 16.6 4.9 16.4 5 13.3 3.3 18.6 4.2 1.4-6.5-18.3-4.6-12.9-4.1-15.9-6-15.8-6-15.6-7.4-15.7-8.1-15.5-8.7-15.5-10.1-15.8-11.5-13.8-11.2-12.3-12.3-11.2-13.9-9.5-13.7-8.3-15.5-8.1-17.3-4.8-11.6-2.8-17.2-2.3-22.5-0.8-24.5 0.5-24.9z" fill="#e7e7e7"/>
<path d="M1934.7 885.4l13.5-6 17.4-4.6 16.3-5.7 16.1-4.4 12.5-1.6 14.8-0.8 18.9 1.5 15.5 3.2 15.5 5.4 15.7 7.9 15.7 10.2 12.2 10.7 9.1 12.1 6.1 12.2 3.7 11.8 1.1 14 0.2 8.3-1.5 9.3-2.8 9.6-3.8 9.5-5.8 9.7-6.8 9.8-8.7 9.7-10.6 8.7-9.3 9.4-10.3 7.8 0.7 1.3 11.5-5.9 11.5-7 11.5-9.1 9.6-10.2 7.5-10.2 6.5-10.3 4.5-10.4 3.5-10.5 2.1-10.6 0.4-9.5-0.7-15.3-3.7-14.1-6.7-14.1-10.2-14-13.6-12.3-16.9-11-16.9-8.5-17.1-6-17.1-3.5-20.3-1.3-16 1.1-13.7 2.3-16.9 5.6-16.6 6.9-16.3 8.7-12 9z" fill="#f2f2f2"/>
<path d="M1934.7 885.4l13.5-6 17.4-4.6 16.3-5.7 16.1-4.4 12.5-1.6 14.8-0.8 18.9 1.5 15.5 3.2 15.5 5.4 15.7 7.9 15.7 10.2 12.2 10.7 9.1 12.1 6.1 12.2 3.7 11.8 1.1 14 0.2 8.3-1.5 9.3-2.8 9.6-3.8 9.5-5.8 9.7-6.8 9.8-8.7 9.7-10.6 8.7-9.3 9.4-10.3 7.8 0.6 1.1 11.4-5.9 11.4-7.1 11.4-9.2 9.5-10.2 7.3-10.2 6.4-10.4 4.3-10.2 3.3-10.4 1.9-10.5 0.1-9.3-0.9-15.1-3.9-13.6-6.6-13.6-10-13.6-13.3-11.9-16.7-10.9-16.7-8.3-16.7-5.9-16.7-3.4-20-1.5-15.8 1-13.5 2.1-16.8 5.1-16.6 6.5-16.5 8.1-12.2 8.6z" fill="#fafafa"/>
<path d="M1751 924.5l-2 25.3 0 25.4 2 23.5 3.2 18.8 5 13.2 7.5 18.2 8.4 16.9 10.1 15.1 11.8 15.2 13.6 13.6 15 11.7 16.7 11.6 16.7 10.1 16.6 8.2 16.5 7.5 16.7 6.7 16.6 4.9 16.4 5 13.3 3.3 18.6 4.2 1.4-6.2-18.5-4.4-12.9-3.8-16.1-5.5-16-5.5-15.9-7-16-7.8-15.8-8.5-15.9-10-16-11.4-14.2-11.3-12.6-12.6-11.3-14.3-9.7-14.1-8.1-15.8-7.8-17.6-4.8-12-2.9-17.5-2.2-22.7-0.5-24.8 1.2-24.9z" fill="#fafafa"/>
<path d="M1934.7 885.4l13.5-6 17.4-4.6 16.3-5.7 16.1-4.4 12.5-1.6 14.8-0.8 18.9 1.5 15.5 3.2 15.5 5.4 15.7 7.9 15.7 10.2 12.2 10.7 9.1 12.1 6.1 12.2 3.7 11.8 1.1 14 0.2 8.3-1.5 9.3-2.8 9.6-3.8 9.5-5.8 9.7-6.8 9.8-8.7 9.7-10.6 8.7-9.3 9.4-10.3 7.8 0.5 1 11.4-6.1 11.3-7.1 11.3-9.2 9.4-10.3 7.1-10.2 6.3-10.3 4.2-10.2 3.1-10.4 1.7-10.2-0.1-9.2-1.1-14.9-3.9-13.2-6.6-13.3-9.9-13.2-13.1-11.6-16.5-10.7-16.4-8.3-16.5-5.7-16.4-3.4-19.8-1.5-15.5 0.8-13.3 1.9-16.8 4.8-16.6 6-16.6 7.8-12.4 8.1z" fill="#fefefe"/>
<path d="M1751 924.5l-2 25.3 0 25.4 2 23.5 3.2 18.8 5 13.2 7.5 18.2 8.4 16.9 10.1 15.1 11.8 15.2 13.6 13.6 15 11.7 16.7 11.6 16.7 10.1 16.6 8.2 16.5 7.5 16.7 6.7 16.6 4.9 16.4 5 13.3 3.3 18.6 4.2 1.3-6-18.4-4.2-13.1-3.5-16.2-5.1-16.2-5.2-16.1-6.7-16.2-7.5-16.2-8.3-16.1-9.8-16.2-11.4-14.5-11.4-12.9-12.9-11.4-14.5-9.7-14.5-8.1-16.2-7.6-17.7-4.8-12.3-3-17.9-2-22.9-0.2-24.9 1.7-24.9z" fill="#fefefe"/>
</g>
<path d="M1760 1016l4.8 12.5 7.4 17.9 8.1 16.4 9.8 14.6 11.4 14.7 13.1 13.1 14.6 11.4 16.4 11.4 16.3 9.8 16.3 8.1 16.3 7.4 16.3 6.5 16.3 4.9 16.3 4.9 13.1 3.3 18.5 4.1-21.6 97.6-19.7-4.3-17.2-4.4-18.2-5.4-20.5-6.3-22.5-8.9-20-9.1-21.5-10.7-22.6-13.6-21.2-14.7-21.7-17.1-21.8-21.9-17.4-22.2-15.4-23.2-12.6-25.2-9.1-21.9-5.4-13.9z" fill="#4d4d4d"/>
<path d="M1760 1016l4.8 12.5 7.4 17.9 8.1 16.4 9.8 14.6 11.4 14.7 13.1 13.1 14.6 11.4 16.4 11.4 16.3 9.8 16.3 8.1 16.3 7.4 16.3 6.5 16.3 4.9 16.3 4.9 13.1 3.3 18.5 4.1-19.9 89.8-19.6-4.4-16.8-4.2-18.1-5.4-20.2-6.2-22-8.7-19.7-9-21.1-10.5-22-13.2-20.9-14.5-21-16.6-21.2-21.2-16.9-21.6-14.9-22.5-12.3-24.5-8.9-21.6-5.3-13.7z" fill="#4a4a4a"/>
<path d="M1760 1016l4.8 12.5 7.4 17.9 8.1 16.4 9.8 14.6 11.4 14.7 13.1 13.1 14.6 11.4 16.4 11.4 16.3 9.8 16.3 8.1 16.3 7.4 16.3 6.5 16.3 4.9 16.3 4.9 13.1 3.3 18.5 4.1-18.2 82.1-19.5-4.4-16.5-4.1-17.9-5.4-19.8-6-21.6-8.6-19.4-8.8-20.7-10.3-21.5-13-20.5-14.2-20.5-16.1-20.5-20.5-16.4-21-14.5-21.9-11.9-23.8-8.8-21.2-5.3-13.7z" fill="#464646"/>
<path d="M1760 1016l4.8 12.5 7.4 17.9 8.1 16.4 9.8 14.6 11.4 14.7 13.1 13.1 14.6 11.4 16.4 11.4 16.3 9.8 16.3 8.1 16.3 7.4 16.3 6.5 16.3 4.9 16.3 4.9 13.1 3.3 18.5 4.1-16.5 74.5-19.4-4.3-16.2-4.1-17.8-5.3-19.5-5.9-21-8.4-19.2-8.7-20.2-10.1-21.1-12.6-20.1-14-20-15.7-19.8-19.8-16-20.4-14-21.2-11.6-23.2-8.7-20.9-5.2-13.5z" fill="#434343"/>
<path d="M1760 1016l4.8 12.5 7.4 17.9 8.1 16.4 9.8 14.6 11.4 14.7 13.1 13.1 14.6 11.4 16.4 11.4 16.3 9.8 16.3 8.1 16.3 7.4 16.3 6.5 16.3 4.9 16.3 4.9 13.1 3.3 18.5 4.1-14.9 67.2-19.3-4.3-15.9-4-17.6-5.3-19.2-5.9-20.6-8.1-18.8-8.6-19.9-9.9-20.6-12.4-19.8-13.7-19.4-15.3-19.1-19.1-15.5-19.9-13.7-20.5-11.2-22.5-8.5-20.6-5.2-13.4z" fill="#404040"/>
<path d="M1760 1016l4.8 12.5 7.4 17.9 8.1 16.4 9.8 14.6 11.4 14.7 13.1 13.1 14.6 11.4 16.4 11.4 16.3 9.8 16.3 8.1 16.3 7.4 16.3 6.5 16.3 4.9 16.3 4.9 13.1 3.3 18.5 4.1-13.3 60-19.2-4.3-15.6-3.9-17.5-5.3-18.9-5.7-20.1-8-18.6-8.4-19.5-9.7-20.1-12.1-19.4-13.5-18.9-14.9-18.5-18.5-15.1-19.3-13.2-19.9-10.9-21.8-8.4-20.3-5.2-13.4z" fill="#3e3e3e"/>
<path d="M1760 1016l4.8 12.5 7.4 17.9 8.1 16.4 9.8 14.6 11.4 14.7 13.1 13.1 14.6 11.4 16.4 11.4 16.3 9.8 16.3 8.1 16.3 7.4 16.3 6.5 16.3 4.9 16.3 4.9 13.1 3.3 18.5 4.1-11.7 53-19.2-4.2-15.3-3.9-17.3-5.2-18.6-5.7-19.7-7.8-18.3-8.3-19.1-9.5-19.7-11.9-19.1-13.2-18.4-14.4-17.8-17.9-14.7-18.8-12.8-19.3-10.6-21.1-8.3-20.1-5.1-13.2z" fill="#3d3d3d"/>
<path d="M1760 1016l4.8 12.5 7.4 17.9 8.1 16.4 9.8 14.6 11.4 14.7 13.1 13.1 14.6 11.4 16.4 11.4 16.3 9.8 16.3 8.1 16.3 7.4 16.3 6.5 16.3 4.9 16.3 4.9 13.1 3.3 18.5 4.1-10.2 46.2-19.1-4.2-15-3.8-17.2-5.2-18.3-5.5-19.3-7.7-18-8.2-18.8-9.3-19.2-11.6-18.7-13-18-14-17.2-17.3-14.2-18.3-12.5-18.6-10.2-20.6-8.2-19.8-5.1-13.1z" fill="#3c3c3c"/>
<path d="M1760 1016l4.8 12.5 7.4 17.9 8.1 16.4 9.8 14.6 11.4 14.7 13.1 13.1 14.6 11.4 16.4 11.4 16.3 9.8 16.3 8.1 16.3 7.4 16.3 6.5 16.3 4.9 16.3 4.9 13.1 3.3 18.5 4.1-8.8 39.7-19-4.3-14.7-3.7-17.1-5.1-18-5.5-18.8-7.4-17.8-8.1-18.4-9.2-18.9-11.3-18.4-12.8-17.4-13.7-16.7-16.6-13.8-17.8-12.1-18.1-9.9-20-8.1-19.5-5-13z" fill="#3b3b3b"/>
<path d="M1760 1016l4.8 12.5 7.4 17.9 8.1 16.4 9.8 14.6 11.4 14.7 13.1 13.1 14.6 11.4 16.4 11.4 16.3 9.8 16.3 8.1 16.3 7.4 16.3 6.5 16.3 4.9 16.3 4.9 13.1 3.3 18.5 4.1-7.4 33.3-18.9-4.2-14.5-3.6-16.9-5.1-17.8-5.4-18.4-7.3-17.6-8-18-9-18.5-11.1-18-12.5-17-13.3-16.1-16.1-13.5-17.3-11.7-17.5-9.6-19.4-8-19.3-5-13z" fill="#3a3a3a"/>
<path d="M1760 1016l4.8 12.5 7.4 17.9 8.1 16.4 9.8 14.6 11.4 14.7 13.1 13.1 14.6 11.4 16.4 11.4 16.3 9.8 16.3 8.1 16.3 7.4 16.3 6.5 16.3 4.9 16.3 4.9 13.1 3.3 18.5 4.1-6 27.3-18.9-4.2-14.2-3.6-16.8-5-17.5-5.3-18.1-7.2-17.3-7.9-17.7-8.8-18.1-10.9-17.8-12.3-16.5-13-15.6-15.5-13-16.8-11.4-17-9.4-18.9-7.8-19-5-12.9z" fill="#383838"/>
<path d="M1760 1016l4.8 12.5 7.4 17.9 8.1 16.4 9.8 14.6 11.4 14.7 13.1 13.1 14.6 11.4 16.4 11.4 16.3 9.8 16.3 8.1 16.3 7.4 16.3 6.5 16.3 4.9 16.3 4.9 13.1 3.3 18.5 4.1-4.8 21.5-18.7-4.1-14-3.6-16.7-5-17.3-5.2-17.6-7-17.2-7.8-17.4-8.7-17.7-10.6-17.5-12.1-16.1-12.7-15-15-12.8-16.4-11-16.5-9.1-18.3-7.8-18.8-4.9-12.8z" fill="#353535"/>
<path d="M1760 1016l4.8 12.5 7.4 17.9 8.1 16.4 9.8 14.6 11.4 14.7 13.1 13.1 14.6 11.4 16.4 11.4 16.3 9.8 16.3 8.1 16.3 7.4 16.3 6.5 16.3 4.9 16.3 4.9 13.1 3.3 18.5 4.1-3.6 16.1-18.7-4.1-13.7-3.5-16.6-5-17-5.1-17.4-6.9-16.9-7.7-17.1-8.5-17.4-10.5-17.2-11.9-15.7-12.3-14.6-14.6-12.4-15.9-10.7-16.1-8.8-17.8-7.7-18.6-4.9-12.7z" fill="#303030"/>
<path d="M1760 1016l4.8 12.5 7.4 17.9 8.1 16.4 9.8 14.6 11.4 14.7 13.1 13.1 14.6 11.4 16.4 11.4 16.3 9.8 16.3 8.1 16.3 7.4 16.3 6.5 16.3 4.9 16.3 4.9 13.1 3.3 18.5 4.1-2.5 11.1-18.6-4.2-13.5-3.4-16.6-4.9-16.7-5.1-17.1-6.8-16.7-7.6-16.9-8.4-17-10.2-16.9-11.8-15.4-12-14.1-14.1-12.1-15.5-10.4-15.6-8.6-17.4-7.6-18.4-4.9-12.6z" fill="#2a2a2a"/>
<path d="M1760 1016l4.8 12.5 7.4 17.9 8.1 16.4 9.8 14.6 11.4 14.7 13.1 13.1 14.6 11.4 16.4 11.4 16.3 9.8 16.3 8.1 16.3 7.4 16.3 6.5 16.3 4.9 16.3 4.9 13.1 3.3 18.5 4.1-1.4 6.5-18.6-4.1-13.4-3.3-16.4-5-16.6-5-16.7-6.6-16.6-7.6-16.6-8.2-16.7-10.1-16.8-11.6-15-11.8-13.7-13.7-11.8-15.2-10.2-15.2-8.4-16.9-7.5-18.2-4.9-12.6z" fill="#212121"/>
<path d="M1760 1016l4.8 12.5 7.4 17.9 8.1 16.4 9.8 14.6 11.4 14.7 13.1 13.1 14.6 11.4 16.4 11.4 16.3 9.8 16.3 8.1 16.3 7.4 16.3 6.5 16.3 4.9 16.3 4.9 13.1 3.3 18.5 4.1-0.6 2.7-18.5-4.2-13.2-3.3-16.4-4.9-16.4-4.9-16.5-6.6-16.4-7.4-16.4-8.2-16.5-9.9-16.5-11.5-14.8-11.6-13.3-13.3-11.6-14.9-10-14.8-8.2-16.7-7.4-18-4.8-12.5z" fill="#161616"/>
<path d="M1934.2 884.6l12.6-7.9 16.6-7.5 16.7-5.8 16.7-4.6 13.2-1.7 15.4-0.8 19.6 1.6 16.3 3.3 16.3 5.7 16.3 8.2 16.3 10.6 13 11.4 9.8 13 6.6 13.1 4 13 1.2 14.7 0.2 9.1-1.6 10.2-3 10.3-4.1 10.2-6.2 10.3-7.1 10.2-9.3 10.3-11.2 9.2-11.3 7.2-11.3 6.1-8.2 3.6-10.2 3.6-10.3 2.6-10.2 1.5-15.4 1-15.4-0.5-13.5-1.6-20.9-4.2-16.6-5.8-14.2-7.5-15-10-12.5-11.7-10-15-6.7-16.7-4.1-16.6-2.2-16.7 0.7-9 2.8-8.5 4-10 6-10 7.5-10 8.5-9 10.2-8.9z" fill="#3e3e3e"/>
<g clip-path="url(#clip_fD)"><g filter="url(#hb1.5_f)">
<path d="M1880 840l280 0 0 85-280-20z" fill="#373737"/>
<path d="M1880 905l280 20 0 40-280-25z" fill="#3b3b3b"/>
</g>
</g>
<path d="M1963.4 869.2l16.7-5.8 16.7-4.6 13.2-1.7 15.4-0.8 19.6 1.6 16.3 3.3 16.3 5.7 16.3 8.2 16.3 10.6 13 11.4 9.8 13 6.6 13.1 4 13 1.2 14.7 0.2 9.1-1.6 10.2-3 10.3-4.1 10.2-6.2 10.3-7.1 10.2-9.3 10.3-3.7-3.4 8.3-10.6 6.8-9.8 4.9-10.1 2.8-9.7 1.8-9.7 0.4-8.9-2.2-7.7-3-12.8-6-9.2-6.9-9.4-9-8.8-10.9-8.1-14.6-8.3-13.8-6.9-13.4-4.7-13.2-3.7-17.1-2.4-13.2-1.3-11.6-1.5-16.4 0.4-18 0.9z" fill="#393939"/>
<path d="M1963.4 869.2l16.7-5.8 16.7-4.6 13.2-1.7 15.4-0.8 19.6 1.6 16.3 3.3 16.3 5.7 16.3 8.2 16.3 10.6 13 11.4 9.8 13 6.6 13.1 4 13 1.2 14.7 0.2 9.1-1.6 10.2-3 10.3-4.1 10.2-6.2 10.3-7.1 10.2-9.3 10.3-3.2-2.9 8.4-10.7 6.8-9.8 5.1-10.1 3-9.8 1.9-9.7 0.6-9.1-2-7.9-2.7-13-5.8-9.7-6.9-9.9-9.1-9.3-11.2-8.5-14.8-8.6-14.1-7.1-13.8-4.8-13.5-3.6-17.4-2.3-13.6-1-11.7-1.2-16.5 0.9-17.8 1.6z" fill="#373737"/>
<path d="M1963.4 869.2l16.7-5.8 16.7-4.6 13.2-1.7 15.4-0.8 19.6 1.6 16.3 3.3 16.3 5.7 16.3 8.2 16.3 10.6 13 11.4 9.8 13 6.6 13.1 4 13 1.2 14.7 0.2 9.1-1.6 10.2-3 10.3-4.1 10.2-6.2 10.3-7.1 10.2-9.3 10.3-2.8-2.5 8.6-10.6 6.8-9.8 5.3-10.3 3.1-9.8 2.1-9.8 0.7-9.2-1.7-8.1-2.5-13.3-5.5-10.1-6.9-10.3-9.2-9.8-11.4-9-15-8.9-14.5-7.2-14.1-5-13.9-3.6-17.8-2.2-13.8-0.7-11.9-0.8-16.5 1.5-17.7 2.2z" fill="#353535"/>
<path d="M1963.4 869.2l16.7-5.8 16.7-4.6 13.2-1.7 15.4-0.8 19.6 1.6 16.3 3.3 16.3 5.7 16.3 8.2 16.3 10.6 13 11.4 9.8 13 6.6 13.1 4 13 1.2 14.7 0.2 9.1-1.6 10.2-3 10.3-4.1 10.2-6.2 10.3-7.1 10.2-9.3 10.3-2.3-2.1 8.7-10.5 6.9-9.9 5.4-10.3 3.3-9.8 2.2-9.9 0.9-9.5-1.5-8.2-2.3-13.5-5.2-10.6-6.9-10.8-9.3-10.3-11.7-9.4-15.2-9.1-14.7-7.5-14.5-5-14.4-3.6-18-2.1-14.1-0.5-12.1-0.3-16.6 2-17.5 2.7z" fill="#333333"/>
<path d="M1963.4 869.2l16.7-5.8 16.7-4.6 13.2-1.7 15.4-0.8 19.6 1.6 16.3 3.3 16.3 5.7 16.3 8.2 16.3 10.6 13 11.4 9.8 13 6.6 13.1 4 13 1.2 14.7 0.2 9.1-1.6 10.2-3 10.3-4.1 10.2-6.2 10.3-7.1 10.2-9.3 10.3-1.9-1.7 8.9-10.5 6.9-9.9 5.6-10.3 3.4-9.9 2.4-10 1-9.6-1.2-8.3-2.1-13.8-5-11.1-6.7-11.2-9.5-10.9-11.9-9.8-15.4-9.4-15.1-7.6-14.9-5.2-14.7-3.5-18.3-2-14.4-0.2-12.4 0-16.5 2.5-17.4 3.4z" fill="#2f2f2f"/>
<path d="M1963.4 869.2l16.7-5.8 16.7-4.6 13.2-1.7 15.4-0.8 19.6 1.6 16.3 3.3 16.3 5.7 16.3 8.2 16.3 10.6 13 11.4 9.8 13 6.6 13.1 4 13 1.2 14.7 0.2 9.1-1.6 10.2-3 10.3-4.1 10.2-6.2 10.3-7.1 10.2-9.3 10.3-1.4-1.3 8.9-10.4 7-10 5.8-10.3 3.6-10 2.5-10 1.2-9.8-1-8.5-1.9-14-4.7-11.6-6.7-11.7-9.6-11.4-12.2-10.2-15.6-9.7-15.4-7.8-15.2-5.3-15.1-3.4-18.7-1.9-14.6 0-12.6 0.5-16.6 3-17.1 4z" fill="#2a2a2a"/>
<path d="M1963.4 869.2l16.7-5.8 16.7-4.6 13.2-1.7 15.4-0.8 19.6 1.6 16.3 3.3 16.3 5.7 16.3 8.2 16.3 10.6 13 11.4 9.8 13 6.6 13.1 4 13 1.2 14.7 0.2 9.1-1.6 10.2-3 10.3-4.1 10.2-6.2 10.3-7.1 10.2-9.3 10.3-0.9-0.8 9-10.4 7-10.1 5.9-10.3 3.8-10.1 2.7-10.1 1.3-9.9-0.7-8.7-1.6-14.3-4.5-12-6.7-12.2-9.6-11.9-12.5-10.6-15.9-10-15.7-7.9-15.5-5.5-15.5-3.4-19-1.8-14.9 0.3-12.8 0.9-16.6 3.6-17 4.6z" fill="#242424"/>
<path d="M1963.4 869.2l16.7-5.8 16.7-4.6 13.2-1.7 15.4-0.8 19.6 1.6 16.3 3.3 16.3 5.7 16.3 8.2 16.3 10.6 13 11.4 9.8 13 6.6 13.1 4 13 1.2 14.7 0.2 9.1-1.6 10.2-3 10.3-4.1 10.2-6.2 10.3-7.1 10.2-9.3 10.3-0.5-0.4 9.2-10.4 7.1-10.1 6-10.3 4-10.1 2.8-10.2 1.5-10.1-0.5-8.9-1.4-14.5-4.3-12.5-6.6-12.6-9.7-12.5-12.8-11-16-10.3-16-8.1-16-5.5-15.9-3.4-19.3-1.7-15.1 0.6-13 1.3-16.7 4-16.8 5.2z" fill="#1a1a1a"/>
<path d="M1934.2 884.6l12.6-7.9 16.6-7.5 16.7-5.8 3 8.5-17.5 2.9-17.4 4.6-13.5 6z" fill="#3a3a3a"/>
<path d="M1934.2 884.6l12.6-7.9 16.6-7.5 16.7-5.8 2 5.7-17.2 3.8-17.2 5.6-13.1 6.7z" fill="#363636"/>
<path d="M1934.2 884.6l12.6-7.9 16.6-7.5 16.7-5.8 1 2.8-17 4.9-16.8 6.5-12.9 7.3z" fill="#2f2f2f"/>
<path d="M2123 1011.2l-9.3 10.3-11.2 9.2-11.3 7.2-11.3 6.1-0.5-0.9 10.8-6.9 9.9-8.7 10.2-9.6 8.2-10.7z" fill="#3a3a3a"/>
<path d="M2123 1011.2l-9.3 10.3-11.2 9.2-11.3 7.2-11.3 6.1-0.3-0.6 10.9-6.6 10.4-8.3 10.5-9.4 8.6-10.6z" fill="#363636"/>
<path d="M2123 1011.2l-9.3 10.3-11.2 9.2-11.3 7.2-11.3 6.1-0.2-0.3 11.2-6.4 10.8-7.7 10.9-9.3 8.9-10.4z" fill="#2f2f2f"/>
<path d="M2079.5 1043.1l-8.9 1.7-10.5 1.6-10.5-0.4-9.6-0.7-14.6-1-14.3-1.5-12.1-2.4-19.1-5.9-13.6-6.8-11-8.2-11.7-10.1-7.7-9.9-6.3-11.2-5-12.7-3.3-13.5-4.8-13.4-3.6-4.2-1.8-7.2-0.2-10.3 3.7-10 4.7-11.3 6.8-10 9.4-9.6-3.3-3.8-11.7 7.6-10.4 8.1-10.4 8.9-8.4 10.2-7.4 10.2-5.4 10.4-3 13.4 1.5 19.3 4.8 19.1 8 19.8 12.4 18.6 16 13.7 17.5 10.5 17.2 6.8 19.3 4.6 22.5 2.5 14.7 0.8 16.4-0.5 16.1-2 10.7-3.6 10.3-4.7 9.9-5.6 7.5-5.5z" fill="#aeaeae"/>
<path d="M2079.4 1042.8l-8.9 1.7-10.5 1.6-10.4-0.5-9.6-0.6-14.6-1-14.2-1.5-12.1-2.5-19.1-5.8-13.5-6.8-11-8.2-11.7-10-7.7-9.9-6.2-11.1-5-12.7-3.3-13.5-4.8-13.3-3.6-4.1-1.7-7.1-0.2-10.4 3.6-9.9 4.7-11.3 6.7-10 9.4-9.5-3.2-3.8-11.6 7.7-10.1 8.2-10 9.1-8.1 10.2-6.8 10.2-4.9 10.2-2.5 12.7 1.7 18.9 4.6 18.7 7.8 19.3 12 18.1 15.4 13.4 17.1 10.5 16.7 6.9 18.9 4.8 22.3 2.7 14.5 0.9 16.2-0.4 16-1.8 10.7-3.3 10.3-4.3 9.9-5.3 7.6-5.2z" fill="#ababab"/>
<path d="M2079.2 1042.4l-8.8 1.8-10.6 1.5-10.3-0.4-9.5-0.6-14.6-1.1-14.2-1.5-12.1-2.4-19-5.8-13.5-6.9-11-8.1-11.5-10-7.7-9.8-6.2-11.1-5-12.6-3.2-13.5-4.8-13.2-3.7-4-1.7-7.1-0.2-10.3 3.6-9.9 4.7-11.2 6.7-10 9.4-9.6-3.3-3.7-11.4 7.8-9.8 8.4-9.7 9.2-7.7 10.2-6.3 10.3-4.4 9.8-2 12.2 2 18.4 4.5 18.3 7.6 18.8 11.5 17.5 14.9 13.2 16.6 10.5 16.3 6.9 18.5 5 22 3 14.4 1 16-0.2 15.9-1.6 10.6-3 10.3-4 10-5 7.7-4.9z" fill="#a8a8a8"/>
<path d="M2079.1 1042.1l-8.9 1.7-10.5 1.6-10.3-0.5-9.5-0.6-14.5-1-14.2-1.5-12-2.4-19-5.9-13.4-6.8-11-8.1-11.5-10-7.6-9.7-6.2-11-4.9-12.6-3.3-13.4-4.8-13.2-3.6-4-1.8-7-0.2-10.3 3.6-9.8 4.6-11.2 6.7-10 9.4-9.5-3.3-3.8-11.2 8-9.6 8.5-9.2 9.5-7.4 10.1-5.7 10.3-3.9 9.6-1.6 11.5 2.2 18 4.4 17.9 7.4 18.3 11.1 17 14.3 12.9 16.2 10.5 15.8 7 18.1 5.1 21.8 3.2 14.2 1.1 15.9 0 15.8-1.4 10.4-2.7 10.4-3.6 10-4.7 7.8-4.7z" fill="#a3a3a3"/>
<path d="M2078.9 1041.8l-8.8 1.7-10.5 1.6-10.2-0.5-9.5-0.6-14.5-1.1-14.2-1.5-11.9-2.4-19-5.8-13.4-6.8-10.9-8.1-11.5-10-7.6-9.7-6-10.9-5-12.5-3.3-13.4-4.7-13.2-3.7-3.8-1.7-7-0.3-10.2 3.6-9.8 4.6-11.2 6.6-9.9 9.4-9.5-3.2-3.8-11.1 8.1-9.3 8.7-8.8 9.6-7.1 10.1-5.2 10.3-3.4 9.4-1.1 10.8 2.5 17.6 4.3 17.5 7.2 17.8 10.6 16.5 13.7 12.6 15.8 10.4 15.4 7.2 17.7 5.2 21.5 3.5 14 1.2 15.8 0.1 15.6-1.1 10.4-2.4 10.4-3.2 10.1-4.5 7.9-4.4z" fill="#9a9a9a"/>
<path d="M2078.8 1041.5l-8.8 1.7-10.5 1.5-10.2-0.5-9.4-0.6-14.5-1-14.1-1.5-12-2.4-18.9-5.9-13.4-6.7-10.8-8.1-11.5-9.9-7.5-9.7-6-10.9-5-12.5-3.2-13.3-4.8-13.1-3.6-3.7-1.8-7-0.3-10.1 3.6-9.8 4.6-11.2 6.6-9.9 9.4-9.5-3.3-3.7-10.9 8.3-9.1 8.8-8.4 9.7-6.7 10.1-4.7 10.3-2.8 9.2-0.6 10.2 2.6 17.1 4.3 17.1 6.9 17.3 10.2 16 13.1 12.3 15.4 10.4 15 7.2 17.3 5.5 21.2 3.7 13.8 1.3 15.6 0.2 15.6-0.9 10.3-2.1 10.4-2.8 10.1-4.2 8-4.1z" fill="#8b8b8b"/>
<path d="M2078.7 1041.2l-8.9 1.7-10.4 1.5-10.2-0.5-9.4-0.6-14.4-1.1-14.1-1.5-11.9-2.4-18.9-5.8-13.3-6.8-10.8-8-11.5-9.9-7.4-9.6-6-10.8-4.9-12.5-3.3-13.2-4.7-13.1-3.7-3.7-1.8-6.8-0.3-10.2 3.6-9.7 4.5-11.1 6.6-9.9 9.4-9.5-3.3-3.7-10.7 8.4-8.8 8.9-8 9.9-6.4 10.2-4.1 10.2-2.4 9-0.1 9.5 2.9 16.7 4.1 16.7 6.8 16.8 9.7 15.4 12.5 12.1 15 10.4 14.5 7.3 16.9 5.6 21.1 3.9 13.5 1.5 15.5 0.4 15.5-0.7 10.2-1.8 10.4-2.5 10.2-3.9 8.1-3.9z" fill="#616161"/>
<path d="M2078.5 1040.8l-8.8 1.7-10.4 1.6-10.1-0.5-9.4-0.7-14.4-1-14.1-1.5-11.9-2.4-18.8-5.8-13.3-6.8-10.8-8-11.4-9.9-7.4-9.5-5.9-10.8-4.9-12.4-3.2-13.2-4.8-13-3.6-3.6-1.9-6.8-0.3-10.1 3.6-9.8 4.5-11 6.6-9.9 9.3-9.4-3.2-3.8-10.6 8.6-8.6 9.1-7.5 10-6.1 10.2-3.6 10.2-1.8 8.8 0.3 8.8 3.2 16.3 4 16.3 6.5 16.3 9.3 14.9 11.9 11.8 14.6 10.3 14.1 7.5 16.5 5.7 20.8 4.2 13.4 1.6 15.3 0.5 15.4-0.5 10.1-1.5 10.4-2.1 10.2-3.6 8.2-3.6z" fill="#535353"/>
<path d="M2078.4 1040.5l-8.8 1.7-10.4 1.5-10.1-0.5-9.3-0.6-14.4-1.1-14.1-1.5-11.8-2.4-18.9-5.8-13.2-6.7-10.7-8-11.3-9.9-7.4-9.5-5.9-10.7-4.9-12.3-3.2-13.2-4.7-12.9-3.7-3.5-1.8-6.8-0.4-10.1 3.6-9.7 4.5-11 6.5-9.8 9.4-9.5-3.3-3.7-10.4 8.7-8.3 9.2-7.2 10.3-5.7 10.1-3 10.2-1.4 8.6 0.8 8.1 3.4 15.9 3.9 15.9 6.4 15.8 8.8 14.4 11.3 11.5 14.2 10.3 13.7 7.6 16 5.9 20.6 4.4 13.2 1.7 15.2 0.6 15.2-0.2 10.1-1.2 10.4-1.8 10.2-3.3 8.3-3.3z" fill="#4d4d4d"/>
<path d="M2078.2 1040.2l-8.7 1.7-10.4 1.5-10.1-0.5-9.3-0.7-14.3-1-14-1.5-11.8-2.4-18.9-5.8-13.1-6.7-10.7-8-11.3-9.8-7.3-9.5-5.9-10.6-4.8-12.3-3.2-13.1-4.8-13-3.7-3.4-1.8-6.7-0.3-10 3.4-9.7 4.5-11 6.6-9.8 9.3-9.4-3.3-3.7-10.2 8.8-8.1 9.4-6.7 10.4-5.4 10.1-2.5 10.3-0.8 8.3 1.2 7.5 3.7 15.4 3.8 15.5 6.1 15.3 8.4 13.9 10.8 11.2 13.7 10.3 13.2 7.6 15.7 6.1 20.3 4.7 13 1.8 15 0.8 15.2-0.1 10-0.9 10.4-1.4 10.3-3 8.4-3.1z" fill="#4a4a4a"/>
<path d="M2078.1 1039.9l-8.8 1.6-10.3 1.6-10.1-0.6-9.2-0.6-14.4-1.1-13.9-1.5-11.8-2.4-18.8-5.7-13.1-6.7-10.6-8-11.3-9.8-7.3-9.4-5.8-10.6-4.8-12.2-3.2-13.1-4.7-12.9-3.7-3.3-1.9-6.7-0.3-10 3.4-9.6 4.5-10.9 6.5-9.8 9.3-9.5-3.2-3.7-10.1 9-7.8 9.5-6.3 10.6-5.1 10.1-1.9 10.3-0.4 8.1 1.8 6.8 3.8 15 3.8 15.2 5.8 14.7 8 13.3 10.2 11 13.3 10.3 12.8 7.7 15.2 6.2 20.1 4.9 12.8 2 14.9 0.9 15.1 0.2 9.9-0.6 10.4-1.1 10.3-2.7 8.5-2.8z" fill="#474747"/>
<path d="M2078 1039.6l-8.8 1.6-10.3 1.5-10-0.5-9.2-0.7-14.4-1-13.9-1.5-11.7-2.4-18.8-5.8-13-6.7-10.6-7.9-11.3-9.8-7.2-9.3-5.8-10.5-4.8-12.2-3.2-13.1-4.7-12.8-3.7-3.2-1.8-6.6-0.4-10 3.4-9.6 4.5-10.9 6.4-9.8 9.3-9.4-3.2-3.7-9.9 9.1-7.5 9.7-6 10.7-4.7 10.1-1.4 10.3 0.2 7.9 2.2 6.1 4.1 14.6 3.6 14.8 5.7 14.2 7.5 12.8 9.6 10.7 12.9 10.2 12.3 7.9 14.9 6.4 19.8 5.1 12.7 2.1 14.7 1 14.9 0.4 9.9-0.3 10.4-0.6 10.4-2.5 8.6-2.5z" fill="#444444"/>
<path d="M2077.8 1039.2l-8.7 1.7-10.3 1.5-10-0.6-9.2-0.6-14.3-1.1-13.9-1.5-11.7-2.3-18.7-5.8-13-6.7-10.6-7.9-11.2-9.8-7.1-9.3-5.8-10.4-4.7-12.1-3.2-13-4.7-12.8-3.7-3.1-1.9-6.6-0.4-9.9 3.4-9.6 4.4-10.9 6.5-9.7 9.3-9.4-3.3-3.7-9.7 9.2-7.3 9.8-5.5 10.9-4.4 10.1-0.8 10.3 0.6 7.6 2.7 5.6 4.3 14.1 3.6 14.4 5.4 13.7 7.1 12.3 9 10.4 12.5 10.2 11.9 7.9 14.4 6.6 19.6 5.4 12.5 2.2 14.6 1.1 14.8 0.6 9.8 0.1 10.4-0.3 10.4-2.2 8.7-2.3z" fill="#424242"/>
<path d="M2077.7 1038.9l-8.8 1.7-10.2 1.5-10-0.6-9.1-0.7-14.3-1-13.8-1.5-11.7-2.4-18.7-5.8-13-6.6-10.5-7.9-11.2-9.7-7.1-9.3-5.7-10.4-4.7-12-3.2-13-4.7-12.7-3.7-3.1-1.9-6.5-0.4-9.9 3.4-9.5 4.4-10.8 6.4-9.7 9.3-9.5-3.2-3.7-9.6 9.5-7 9.9-5.1 11.1-4.1 10-0.3 10.3 1.2 7.4 3.1 4.9 4.6 13.8 3.4 13.9 5.3 13.2 6.6 11.8 8.4 10.1 12.1 10.2 11.5 8 14 6.7 19.3 5.6 12.3 2.3 14.4 1.4 14.8 0.8 9.6 0.3 10.5 0.1 10.5-1.9 8.8-2z" fill="#404040"/>
</g></g>
<rect x="1764.3" y="746" width="516.4" height="427" fill="none" stroke="#262626" stroke-width="1"/>
<path d="M1816.63 745.5v5.8 M1816.63 1173.5v-5.8 M1763.8 1129.8h5.8 M2281.2 1129.8h-5.8 M2022.5 745.5v5.8 M2022.5 1173.5v-5.8 M1763.8 959.5h5.8 M2281.2 959.5h-5.8 M2228.37 745.5v5.8 M2228.37 1173.5v-5.8 M1763.8 789.2h5.8 M2281.2 789.2h-5.8" stroke="#262626" stroke-width="1.1" fill="none"/>
<text x="1810.23" y="1225.1" font-size="43.3" text-anchor="middle" fill="#262626">−0.5</text>
<text x="2022.5" y="1225.1" font-size="43.3" text-anchor="middle" fill="#262626">0</text>
<text x="2228.37" y="1225.1" font-size="43.3" text-anchor="middle" fill="#262626">0.5</text>
<text x="1751.5" y="1145.3" font-size="43.3" text-anchor="end" fill="#262626">−0.5</text>
<text x="1751.5" y="975" font-size="43.3" text-anchor="end" fill="#262626">0</text>
<text x="1751.5" y="804.7" font-size="43.3" text-anchor="end" fill="#262626">0.5</text>
<text y="1277.3" font-size="42.3" fill="#262626"><tspan x="1957.2">x</tspan><tspan x="1990.2" font-size="39.34" dy="-0.6">(</tspan><tspan x="2009.1" dy="0.1" font-style="italic" font-weight="normal" font-size="47.38" stroke="#262626" stroke-width="0.5">μ</tspan><tspan x="2038.1" dy="0.5">m</tspan><tspan x="2072.7" font-size="39.34" dy="-0.6">)</tspan></text>
<g transform="translate(1670 960.3) rotate(-90)"><text y="0" font-size="42.3" fill="#262626"><tspan x="-65.3">y</tspan><tspan x="-32.3" font-size="39.34" dy="-0.6">(</tspan><tspan x="-13.4" dy="0.1" font-style="italic" font-weight="normal" font-size="47.38" stroke="#262626" stroke-width="0.5">μ</tspan><tspan x="15.6" dy="0.5">m</tspan><tspan x="50.2" font-size="39.34" dy="-0.6">)</tspan></text></g>
</g>
<rect x="681.3" y="137.7" width="46.5" height="428.3" fill="url(#cbjet)" stroke="#262626" stroke-width="1"/>
<text x="739.6" y="238.4" font-size="37.4" text-anchor="start" fill="#262626">0.3</text>
<text x="739.6" y="352.9" font-size="37.4" text-anchor="start" fill="#262626">0.2</text>
<text x="739.6" y="466.6" font-size="37.4" text-anchor="start" fill="#262626">0.1</text>
<path d="M727.8 223.8h-5 M727.8 338.3h-5 M727.8 452h-5" stroke="#262626" stroke-width="1.1" fill="none"/>
<rect x="1503" y="137.7" width="45.2" height="428.3" fill="url(#cbjet)" stroke="#262626" stroke-width="1"/>
<text x="1560" y="230.1" font-size="37.4" text-anchor="start" fill="#262626">0.3</text>
<text x="1560" y="347.6" font-size="37.4" text-anchor="start" fill="#262626">0.2</text>
<text x="1560" y="463.9" font-size="37.4" text-anchor="start" fill="#262626">0.1</text>
<path d="M1548.2 215.5h-5 M1548.2 333h-5 M1548.2 449.3h-5" stroke="#262626" stroke-width="1.1" fill="none"/>
<rect x="2305.5" y="137.7" width="45.3" height="428.3" fill="url(#cbjet)" stroke="#262626" stroke-width="1"/>
<text x="2362.6" y="236.7" font-size="37.4" text-anchor="start" fill="#262626">0.8</text>
<text x="2362.6" y="322.8" font-size="37.4" text-anchor="start" fill="#262626">0.6</text>
<text x="2362.6" y="409" font-size="37.4" text-anchor="start" fill="#262626">0.4</text>
<text x="2362.6" y="495.1" font-size="37.4" text-anchor="start" fill="#262626">0.2</text>
<path d="M2350.8 222.1h-5 M2350.8 308.2h-5 M2350.8 394.4h-5 M2350.8 480.5h-5" stroke="#262626" stroke-width="1.1" fill="none"/>
<rect x="681.7" y="752" width="46.1" height="428.5" fill="url(#cbhot)" stroke="#262626" stroke-width="1"/>
<text x="739.6" y="844.14" font-size="37.4" text-anchor="start" fill="#262626">2</text>
<text x="739.6" y="980.85" font-size="37.4" text-anchor="start" fill="#262626">0</text>
<text x="739.6" y="1117.56" font-size="37.4" text-anchor="start" fill="#262626">-2</text>
<path d="M727.8 829.54h-5 M727.8 966.25h-5 M727.8 1102.96h-5" stroke="#262626" stroke-width="1.1" fill="none"/>
<rect x="1502.9" y="752" width="45.3" height="428.5" fill="url(#cbhot)" stroke="#262626" stroke-width="1"/>
<text x="1560" y="844.14" font-size="37.4" text-anchor="start" fill="#262626">2</text>
<text x="1560" y="980.85" font-size="37.4" text-anchor="start" fill="#262626">0</text>
<text x="1560" y="1117.56" font-size="37.4" text-anchor="start" fill="#262626">-2</text>
<path d="M1548.2 829.54h-5 M1548.2 966.25h-5 M1548.2 1102.96h-5" stroke="#262626" stroke-width="1.1" fill="none"/>
<rect x="2303.8" y="746" width="47.1" height="427" fill="url(#cbhot)" stroke="#262626" stroke-width="1"/>
<text x="2362.7" y="837.86" font-size="37.4" text-anchor="start" fill="#262626">2</text>
<text x="2362.7" y="974.1" font-size="37.4" text-anchor="start" fill="#262626">0</text>
<text x="2362.7" y="1110.34" font-size="37.4" text-anchor="start" fill="#262626">-2</text>
<path d="M2350.9 823.26h-5 M2350.9 959.5h-5 M2350.9 1095.74h-5" stroke="#262626" stroke-width="1.1" fill="none"/>
<text x="54" y="88.9" font-size="81" text-anchor="start" fill="#000">(a)</text>
<text x="809.6" y="88.9" font-size="81" text-anchor="start" fill="#000">(b)</text>
<text x="1661.3" y="88.9" font-size="81" text-anchor="start" fill="#000">(c)</text>
<text x="54" y="709.1" font-size="81" text-anchor="start" fill="#000">(d)</text>
<text x="809.6" y="709.1" font-size="81" text-anchor="start" fill="#000">(e)</text>
<text x="1661.3" y="709.1" font-size="81" text-anchor="start" fill="#000">(f)</text>
<text x="515.8" y="202.1" font-size="71" fill="#fff">|E<tspan font-size="45" dy="16.6">x</tspan><tspan dy="-16.6">|</tspan><tspan font-size="46" dy="-22.8">2</tspan></text>
<text x="1324.8" y="202.1" font-size="71" fill="#fff">|E<tspan font-size="45" dy="16.6">y</tspan><tspan dy="-16.6">|</tspan><tspan font-size="46" dy="-22.8">2</tspan></text>
<text x="2134.8" y="202.1" font-size="71" fill="#fff">|E<tspan font-size="45" dy="16.6">z</tspan><tspan dy="-16.6">|</tspan><tspan font-size="46" dy="-22.8">2</tspan></text>
<text x="558.6" y="815.8" font-size="71" fill="#000" textLength="61.6" lengthAdjust="spacingAndGlyphs">Φ</text><text x="621.9" y="832.6" font-size="44.5" fill="#000">x</text>
<text x="1367.6" y="815.8" font-size="71" fill="#000" textLength="61.6" lengthAdjust="spacingAndGlyphs">Φ</text><text x="1430.9" y="832.6" font-size="44.5" fill="#000">y</text>
<text x="2176.6" y="815.8" font-size="71" fill="#000" textLength="61.6" lengthAdjust="spacingAndGlyphs">Φ</text><text x="2239.9" y="832.6" font-size="44.5" fill="#000">z</text>
<rect x="265.6" y="950.4" width="11.4" height="11" fill="#000"/>
<rect x="441.7" y="896.8" width="12" height="11.4" fill="#fff"/>
<text x="266.3" y="1025" font-size="36.5" text-anchor="middle" fill="#000">1</text>
<text x="437.6" y="975.2" font-size="36.5" text-anchor="middle" fill="#fff">2</text>
<rect x="2011.3" y="928.5" width="12" height="11" fill="#000"/>
<text x="2012" y="991" font-size="36.5" text-anchor="middle" fill="#000">3</text>
</svg>
</body>
</html>
